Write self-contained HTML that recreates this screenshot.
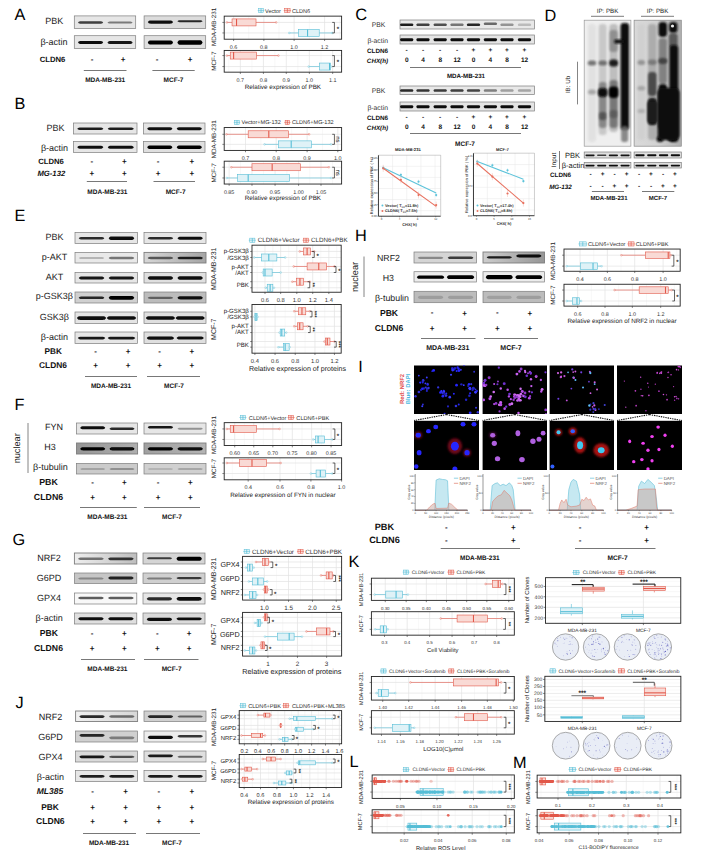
<!DOCTYPE html>
<html><head><meta charset="utf-8"><style>
html,body{margin:0;padding:0;background:#fff;}
svg{display:block;}
text{font-family:"Liberation Sans", Arial, sans-serif; text-rendering:geometricPrecision;}
</style></head><body>
<svg width="714" height="855" viewBox="0 0 714 855">
<defs>
<filter id="bl" x="-30%" y="-80%" width="160%" height="260%"><feGaussianBlur stdDeviation="0.7"/></filter>
<filter id="bl2" x="-30%" y="-30%" width="160%" height="160%"><feGaussianBlur stdDeviation="1.2"/></filter>
<filter id="bl3" x="-30%" y="-30%" width="160%" height="160%"><feGaussianBlur stdDeviation="0.5"/></filter>
<linearGradient id="g0" x1="0" x2="1" y1="0" y2="0"><stop offset="0" stop-color="#d7d7d7"/><stop offset="1" stop-color="#a5a5a5"/></linearGradient><linearGradient id="g1" x1="0" x2="1" y1="0" y2="0"><stop offset="0" stop-color="#969696"/><stop offset="1" stop-color="#afafaf"/></linearGradient><linearGradient id="g2" x1="0" x2="1" y1="0" y2="0"><stop offset="0" stop-color="#a0a0a0"/><stop offset="1" stop-color="#b4b4b4"/></linearGradient><linearGradient id="g3" x1="0" x2="1" y1="0" y2="0"><stop offset="0" stop-color="#eeeeee"/><stop offset="1" stop-color="#bebebe"/></linearGradient><linearGradient id="g4" x1="0" x2="1" y1="0" y2="0"><stop offset="0" stop-color="#f0f0f0"/><stop offset="1" stop-color="#d7d7d7"/></linearGradient><linearGradient id="dg" x1="0" x2="1" y1="0" y2="0"><stop offset="0" stop-color="#dadada"/><stop offset="0.5" stop-color="#d2d2d2"/><stop offset="1" stop-color="#b0b0b0"/></linearGradient><linearGradient id="g6" x1="0" x2="1" y1="0" y2="0"><stop offset="0" stop-color="#cdcdcd"/><stop offset="1" stop-color="#969696"/></linearGradient>
</defs>
<rect width="714" height="855" fill="#fff"/>
<text x="14.50" y="19.90" font-size="16.3" text-anchor="start" fill="#000">A</text>
<text x="54.30" y="23.80" font-size="9" text-anchor="middle" fill="#222">PBK</text>
<text x="54.00" y="45.40" font-size="9" text-anchor="middle" fill="#222">β-actin</text>
<rect x="74.30" y="15.90" width="61.40" height="12.70" fill="#e6e6e6" stroke="#7d7d7d" stroke-width="0.7"/>
<path d="M77.98 22.55 C78.89 21.32 79.80 21.32 81.00 21.32 L100.14 21.32 C101.35 21.32 102.25 21.32 103.16 22.55 C102.25 23.78 101.35 23.78 100.14 23.78 L81.00 23.78 C79.80 23.78 78.89 23.78 77.98 22.55Z" fill="#3f3f3f" filter="url(#bl)"/>
<path d="M107.46 22.55 C108.36 21.48 109.27 21.48 110.48 21.48 L129.61 21.48 C130.82 21.48 131.72 21.48 132.63 22.55 C131.72 23.62 130.82 23.62 129.61 23.62 L110.48 23.62 C109.27 23.62 108.36 23.62 107.46 22.55Z" fill="#7a7a7a" filter="url(#bl)"/>
<rect x="144.10" y="15.90" width="61.60" height="12.70" fill="#dcdcdc" stroke="#7d7d7d" stroke-width="0.7"/>
<path d="M147.80 22.05 C148.71 20.41 149.61 20.41 150.83 20.41 L170.02 20.41 C171.23 20.41 172.14 20.41 173.05 22.05 C172.14 23.69 171.23 23.69 170.02 23.69 L150.83 23.69 C149.61 23.69 148.71 23.69 147.80 22.05Z" fill="#101010" filter="url(#bl)"/>
<path d="M177.36 21.35 C178.27 20.37 179.18 20.37 180.39 20.37 L199.59 20.37 C200.80 20.37 201.71 20.37 202.62 21.35 C201.71 22.33 200.80 22.33 199.59 22.33 L180.39 22.33 C179.18 22.33 178.27 22.33 177.36 21.35Z" fill="#282828" filter="url(#bl)"/>
<rect x="74.30" y="35.70" width="61.40" height="12.90" fill="#e6e6e6" stroke="#7d7d7d" stroke-width="0.7"/>
<path d="M77.98 42.45 C78.89 40.97 79.80 40.97 81.00 40.97 L100.14 40.97 C101.35 40.97 102.25 40.97 103.16 42.45 C102.25 43.93 101.35 43.93 100.14 43.93 L81.00 43.93 C79.80 43.93 78.89 43.93 77.98 42.45Z" fill="#0a0a0a" filter="url(#bl)"/>
<path d="M107.46 42.45 C108.36 40.89 109.27 40.89 110.48 40.89 L129.61 40.89 C130.82 40.89 131.72 40.89 132.63 42.45 C131.72 44.01 130.82 44.01 129.61 44.01 L110.48 44.01 C109.27 44.01 108.36 44.01 107.46 42.45Z" fill="#151515" filter="url(#bl)"/>
<rect x="144.10" y="35.70" width="61.60" height="12.90" fill="#dfdfdf" stroke="#7d7d7d" stroke-width="0.7"/>
<path d="M147.80 42.45 C148.71 40.40 149.61 40.40 150.83 40.40 L170.02 40.40 C171.23 40.40 172.14 40.40 173.05 42.45 C172.14 44.50 171.23 44.50 170.02 44.50 L150.83 44.50 C149.61 44.50 148.71 44.50 147.80 42.45Z" fill="#000000" filter="url(#bl)"/>
<path d="M177.36 42.45 C178.27 40.20 179.18 40.20 180.39 40.20 L199.59 40.20 C200.80 40.20 201.71 40.20 202.62 42.45 C201.71 44.71 200.80 44.71 199.59 44.71 L180.39 44.71 C179.18 44.71 178.27 44.71 177.36 42.45Z" fill="#000000" filter="url(#bl)"/>
<text x="52.50" y="61.75" font-size="7.7" text-anchor="middle" font-weight="bold" fill="#111">CLDN6</text>
<text x="92.00" y="61.60" font-size="8" text-anchor="middle" font-weight="bold" fill="#111">-</text>
<text x="123.00" y="61.88" font-size="8" text-anchor="middle" font-weight="bold" fill="#111">+</text>
<text x="157.00" y="61.60" font-size="8" text-anchor="middle" font-weight="bold" fill="#111">-</text>
<text x="190.00" y="61.88" font-size="8" text-anchor="middle" font-weight="bold" fill="#111">+</text>
<line x1="83.80" y1="70.50" x2="126.50" y2="70.50" stroke="#555" stroke-width="0.8"/>
<line x1="152.40" y1="70.50" x2="194.70" y2="70.50" stroke="#555" stroke-width="0.8"/>
<text x="105.20" y="81.70" font-size="6.5" text-anchor="middle" font-weight="bold" fill="#111">MDA-MB-231</text>
<text x="173.50" y="81.70" font-size="6.5" text-anchor="middle" font-weight="bold" fill="#111">MCF-7</text>
<text x="14.50" y="109.40" font-size="16.3" text-anchor="start" fill="#000">B</text>
<text x="55.50" y="130.70" font-size="9" text-anchor="middle" fill="#222">PBK</text>
<text x="54.50" y="150.70" font-size="9" text-anchor="middle" fill="#222">β-actin</text>
<rect x="73.50" y="123.00" width="63.50" height="11.00" fill="#e6e6e6" stroke="#7d7d7d" stroke-width="0.7"/>
<path d="M77.31 128.80 C78.25 127.57 79.18 127.57 80.43 127.57 L100.22 127.57 C101.47 127.57 102.41 127.57 103.34 128.80 C102.41 130.03 101.47 130.03 100.22 130.03 L80.43 130.03 C79.18 130.03 78.25 130.03 77.31 128.80Z" fill="#1f1f1f" filter="url(#bl)"/>
<path d="M107.79 128.80 C108.73 127.57 109.66 127.57 110.91 127.57 L130.70 127.57 C131.95 127.57 132.89 127.57 133.83 128.80 C132.89 130.03 131.95 130.03 130.70 130.03 L110.91 130.03 C109.66 130.03 108.73 130.03 107.79 128.80Z" fill="#1f1f1f" filter="url(#bl)"/>
<rect x="143.50" y="123.00" width="61.50" height="11.00" fill="#e4e4e4" stroke="#7d7d7d" stroke-width="0.7"/>
<path d="M147.19 128.80 C148.10 127.32 149.01 127.32 150.22 127.32 L169.38 127.32 C170.59 127.32 171.50 127.32 172.41 128.80 C171.50 130.28 170.59 130.28 169.38 130.28 L150.22 130.28 C149.01 130.28 148.10 130.28 147.19 128.80Z" fill="#101010" filter="url(#bl)"/>
<path d="M176.71 128.80 C177.62 127.32 178.53 127.32 179.74 127.32 L198.90 127.32 C200.11 127.32 201.02 127.32 201.92 128.80 C201.02 130.28 200.11 130.28 198.90 130.28 L179.74 130.28 C178.53 130.28 177.62 130.28 176.71 128.80Z" fill="#101010" filter="url(#bl)"/>
<rect x="73.50" y="141.50" width="63.50" height="10.90" fill="#e6e6e6" stroke="#7d7d7d" stroke-width="0.7"/>
<path d="M77.31 147.25 C78.25 145.77 79.18 145.77 80.43 145.77 L100.22 145.77 C101.47 145.77 102.41 145.77 103.34 147.25 C102.41 148.73 101.47 148.73 100.22 148.73 L80.43 148.73 C79.18 148.73 78.25 148.73 77.31 147.25Z" fill="#0a0a0a" filter="url(#bl)"/>
<path d="M107.79 147.25 C108.73 145.69 109.66 145.69 110.91 145.69 L130.70 145.69 C131.95 145.69 132.89 145.69 133.83 147.25 C132.89 148.81 131.95 148.81 130.70 148.81 L110.91 148.81 C109.66 148.81 108.73 148.81 107.79 147.25Z" fill="#0a0a0a" filter="url(#bl)"/>
<rect x="143.50" y="141.50" width="61.50" height="10.90" fill="#dfdfdf" stroke="#7d7d7d" stroke-width="0.7"/>
<path d="M147.19 147.25 C148.10 145.45 149.01 145.45 150.22 145.45 L169.38 145.45 C170.59 145.45 171.50 145.45 172.41 147.25 C171.50 149.05 170.59 149.05 169.38 149.05 L150.22 149.05 C149.01 149.05 148.10 149.05 147.19 147.25Z" fill="#000000" filter="url(#bl)"/>
<path d="M176.71 147.25 C177.62 145.45 178.53 145.45 179.74 145.45 L198.90 145.45 C200.11 145.45 201.02 145.45 201.92 147.25 C201.02 149.05 200.11 149.05 198.90 149.05 L179.74 149.05 C178.53 149.05 177.62 149.05 176.71 147.25Z" fill="#000000" filter="url(#bl)"/>
<text x="51.00" y="163.75" font-size="7.7" text-anchor="middle" font-weight="bold" fill="#111">CLDN6</text>
<text x="51.30" y="175.75" font-size="7.7" text-anchor="middle" font-weight="bold" font-style="italic" fill="#111">MG-132</text>
<text x="91.80" y="163.60" font-size="8" text-anchor="middle" font-weight="bold" fill="#111">-</text>
<text x="124.40" y="163.88" font-size="8" text-anchor="middle" font-weight="bold" fill="#111">+</text>
<text x="158.00" y="163.60" font-size="8" text-anchor="middle" font-weight="bold" fill="#111">-</text>
<text x="191.80" y="163.88" font-size="8" text-anchor="middle" font-weight="bold" fill="#111">+</text>
<text x="91.80" y="175.88" font-size="8" text-anchor="middle" font-weight="bold" fill="#111">+</text>
<text x="124.40" y="175.88" font-size="8" text-anchor="middle" font-weight="bold" fill="#111">+</text>
<text x="158.00" y="175.88" font-size="8" text-anchor="middle" font-weight="bold" fill="#111">+</text>
<text x="191.80" y="175.88" font-size="8" text-anchor="middle" font-weight="bold" fill="#111">+</text>
<line x1="86.80" y1="181.50" x2="127.00" y2="181.50" stroke="#555" stroke-width="0.8"/>
<line x1="153.50" y1="181.50" x2="195.00" y2="181.50" stroke="#555" stroke-width="0.8"/>
<text x="107.40" y="193.80" font-size="6.5" text-anchor="middle" font-weight="bold" fill="#111">MDA-MB-231</text>
<text x="175.60" y="193.80" font-size="6.5" text-anchor="middle" font-weight="bold" fill="#111">MCF-7</text>
<text x="14.50" y="220.50" font-size="16.3" text-anchor="start" fill="#000">E</text>
<text x="54.40" y="239.85" font-size="9" text-anchor="middle" fill="#222">PBK</text>
<rect x="75.00" y="232.40" width="62.40" height="11.10" fill="#e6e6e6" stroke="#7d7d7d" stroke-width="0.7"/>
<path d="M78.74 238.25 C79.67 237.02 80.59 237.02 81.81 237.02 L101.26 237.02 C102.49 237.02 103.41 237.02 104.33 238.25 C103.41 239.48 102.49 239.48 101.26 239.48 L81.81 239.48 C80.59 239.48 79.67 239.48 78.74 238.25Z" fill="#2a2a2a" filter="url(#bl)"/>
<path d="M108.70 238.25 C109.62 236.55 110.54 236.55 111.77 236.55 L131.21 236.55 C132.44 236.55 133.36 236.55 134.28 238.25 C133.36 239.95 132.44 239.95 131.21 239.95 L111.77 239.95 C110.54 239.95 109.62 239.95 108.70 238.25Z" fill="#101010" filter="url(#bl)"/>
<rect x="144.00" y="232.40" width="62.00" height="11.10" fill="#e6e6e6" stroke="#7d7d7d" stroke-width="0.7"/>
<path d="M147.72 238.25 C148.64 237.12 149.55 237.12 150.77 237.12 L170.09 237.12 C171.31 237.12 172.22 237.12 173.14 238.25 C172.22 239.38 171.31 239.38 170.09 239.38 L150.77 239.38 C149.55 239.38 148.64 239.38 147.72 238.25Z" fill="#2a2a2a" filter="url(#bl)"/>
<path d="M177.48 238.25 C178.40 236.74 179.31 236.74 180.53 236.74 L199.85 236.74 C201.07 236.74 201.98 236.74 202.90 238.25 C201.98 239.76 201.07 239.76 199.85 239.76 L180.53 239.76 C179.31 239.76 178.40 239.76 177.48 238.25Z" fill="#101010" filter="url(#bl)"/>
<text x="54.40" y="259.60" font-size="9" text-anchor="middle" fill="#222">p-AKT</text>
<rect x="75.00" y="252.40" width="62.40" height="10.60" fill="#e9e9e9" stroke="#7d7d7d" stroke-width="0.7"/>
<path d="M78.74 258.00 C79.67 256.96 80.59 256.96 81.81 256.96 L101.26 256.96 C102.49 256.96 103.41 256.96 104.33 258.00 C103.41 259.04 102.49 259.04 101.26 259.04 L81.81 259.04 C80.59 259.04 79.67 259.04 78.74 258.00Z" fill="#b5b5b5" filter="url(#bl)"/>
<path d="M108.70 258.00 C109.62 256.77 110.54 256.77 111.77 256.77 L131.21 256.77 C132.44 256.77 133.36 256.77 134.28 258.00 C133.36 259.23 132.44 259.23 131.21 259.23 L111.77 259.23 C110.54 259.23 109.62 259.23 108.70 258.00Z" fill="#757575" filter="url(#bl)"/>
<rect x="144.00" y="252.40" width="62.00" height="10.60" fill="url(#g0)" stroke="#7d7d7d" stroke-width="0.9"/>
<path d="M147.72 258.00 C148.64 256.87 149.55 256.87 150.77 256.87 L170.09 256.87 C171.31 256.87 172.22 256.87 173.14 258.00 C172.22 259.13 171.31 259.13 170.09 259.13 L150.77 259.13 C149.55 259.13 148.64 259.13 147.72 258.00Z" fill="#555555" filter="url(#bl)"/>
<path d="M177.48 258.00 C178.40 256.68 179.31 256.68 180.53 256.68 L199.85 256.68 C201.07 256.68 201.98 256.68 202.90 258.00 C201.98 259.32 201.07 259.32 199.85 259.32 L180.53 259.32 C179.31 259.32 178.40 259.32 177.48 258.00Z" fill="#1c1c1c" filter="url(#bl)"/>
<text x="54.40" y="279.60" font-size="9" text-anchor="middle" fill="#222">AKT</text>
<rect x="75.00" y="272.40" width="62.40" height="10.60" fill="#e6e6e6" stroke="#7d7d7d" stroke-width="0.7"/>
<path d="M78.74 278.00 C79.67 276.49 80.59 276.49 81.81 276.49 L101.26 276.49 C102.49 276.49 103.41 276.49 104.33 278.00 C103.41 279.51 102.49 279.51 101.26 279.51 L81.81 279.51 C80.59 279.51 79.67 279.51 78.74 278.00Z" fill="#151515" filter="url(#bl)"/>
<path d="M108.70 278.00 C109.62 276.49 110.54 276.49 111.77 276.49 L131.21 276.49 C132.44 276.49 133.36 276.49 134.28 278.00 C133.36 279.51 132.44 279.51 131.21 279.51 L111.77 279.51 C110.54 279.51 109.62 279.51 108.70 278.00Z" fill="#151515" filter="url(#bl)"/>
<rect x="144.00" y="272.40" width="62.00" height="10.60" fill="#dfdfdf" stroke="#7d7d7d" stroke-width="0.7"/>
<path d="M147.72 278.00 C148.64 276.30 149.55 276.30 150.77 276.30 L170.09 276.30 C171.31 276.30 172.22 276.30 173.14 278.00 C172.22 279.70 171.31 279.70 170.09 279.70 L150.77 279.70 C149.55 279.70 148.64 279.70 147.72 278.00Z" fill="#101010" filter="url(#bl)"/>
<path d="M177.48 278.00 C178.40 276.21 179.31 276.21 180.53 276.21 L199.85 276.21 C201.07 276.21 201.98 276.21 202.90 278.00 C201.98 279.79 201.07 279.79 199.85 279.79 L180.53 279.79 C179.31 279.79 178.40 279.79 177.48 278.00Z" fill="#101010" filter="url(#bl)"/>
<text x="54.40" y="299.40" font-size="9" text-anchor="middle" fill="#222">p-GSK3β</text>
<rect x="75.00" y="292.00" width="62.40" height="11.00" fill="#d0d0d0" stroke="#7d7d7d" stroke-width="0.7"/>
<path d="M78.74 297.80 C79.67 296.48 80.59 296.48 81.81 296.48 L101.26 296.48 C102.49 296.48 103.41 296.48 104.33 297.80 C103.41 299.12 102.49 299.12 101.26 299.12 L81.81 299.12 C80.59 299.12 79.67 299.12 78.74 297.80Z" fill="#252525" filter="url(#bl)"/>
<path d="M108.70 297.80 C109.62 295.91 110.54 295.91 111.77 295.91 L131.21 295.91 C132.44 295.91 133.36 295.91 134.28 297.80 C133.36 299.69 132.44 299.69 131.21 299.69 L111.77 299.69 C110.54 299.69 109.62 299.69 108.70 297.80Z" fill="#050505" filter="url(#bl)"/>
<rect x="144.00" y="292.00" width="62.00" height="11.00" fill="#bcbcbc" stroke="#7d7d7d" stroke-width="0.7"/>
<path d="M147.72 297.80 C148.64 296.67 149.55 296.67 150.77 296.67 L170.09 296.67 C171.31 296.67 172.22 296.67 173.14 297.80 C172.22 298.93 171.31 298.93 170.09 298.93 L150.77 298.93 C149.55 298.93 148.64 298.93 147.72 297.80Z" fill="#5e5e5e" filter="url(#bl)"/>
<path d="M177.48 297.80 C178.40 296.20 179.31 296.20 180.53 296.20 L199.85 296.20 C201.07 296.20 201.98 296.20 202.90 297.80 C201.98 299.40 201.07 299.40 199.85 299.40 L180.53 299.40 C179.31 299.40 178.40 299.40 177.48 297.80Z" fill="#111111" filter="url(#bl)"/>
<text x="54.40" y="319.65" font-size="9" text-anchor="middle" fill="#222">GSK3β</text>
<rect x="75.00" y="312.00" width="62.40" height="11.50" fill="#e4e4e4" stroke="#7d7d7d" stroke-width="0.7"/>
<path d="M76.87 318.05 C77.93 316.16 78.98 316.16 80.39 316.16 L102.68 316.16 C104.09 316.16 105.14 316.16 106.20 318.05 C105.14 319.94 104.09 319.94 102.68 319.94 L80.39 319.94 C78.98 319.94 77.93 319.94 76.87 318.05Z" fill="#0a0a0a" filter="url(#bl)"/>
<path d="M106.82 318.05 C107.88 316.26 108.94 316.26 110.34 316.26 L132.63 316.26 C134.04 316.26 135.10 316.26 136.15 318.05 C135.10 319.84 134.04 319.84 132.63 319.84 L110.34 319.84 C108.94 319.84 107.88 319.84 106.82 318.05Z" fill="#0a0a0a" filter="url(#bl)"/>
<rect x="144.00" y="312.00" width="62.00" height="11.50" fill="#dfdfdf" stroke="#7d7d7d" stroke-width="0.7"/>
<path d="M145.86 318.05 C146.91 316.26 147.96 316.26 149.36 316.26 L171.50 316.26 C172.90 316.26 173.95 316.26 175.00 318.05 C173.95 319.84 172.90 319.84 171.50 319.84 L149.36 319.84 C147.96 319.84 146.91 319.84 145.86 318.05Z" fill="#0a0a0a" filter="url(#bl)"/>
<path d="M175.62 318.05 C176.67 316.26 177.72 316.26 179.12 316.26 L201.26 316.26 C202.66 316.26 203.71 316.26 204.76 318.05 C203.71 319.84 202.66 319.84 201.26 319.84 L179.12 319.84 C177.72 319.84 176.67 319.84 175.62 318.05Z" fill="#0a0a0a" filter="url(#bl)"/>
<text x="54.40" y="339.65" font-size="9" text-anchor="middle" fill="#222">β-actin</text>
<rect x="75.00" y="332.00" width="62.40" height="11.50" fill="#e6e6e6" stroke="#7d7d7d" stroke-width="0.7"/>
<path d="M77.81 338.05 C78.80 336.64 79.78 336.64 81.10 336.64 L101.97 336.64 C103.29 336.64 104.28 336.64 105.26 338.05 C104.28 339.46 103.29 339.46 101.97 339.46 L81.10 339.46 C79.78 339.46 78.80 339.46 77.81 338.05Z" fill="#191919" filter="url(#bl)"/>
<path d="M107.76 338.05 C108.75 336.64 109.74 336.64 111.05 336.64 L131.92 336.64 C133.24 336.64 134.23 336.64 135.22 338.05 C134.23 339.46 133.24 339.46 131.92 339.46 L111.05 339.46 C109.74 339.46 108.75 339.46 107.76 338.05Z" fill="#191919" filter="url(#bl)"/>
<rect x="144.00" y="332.00" width="62.00" height="11.50" fill="#dfdfdf" stroke="#7d7d7d" stroke-width="0.7"/>
<path d="M146.79 338.05 C147.77 336.45 148.75 336.45 150.06 336.45 L170.80 336.45 C172.11 336.45 173.09 336.45 174.07 338.05 C173.09 339.65 172.11 339.65 170.80 339.65 L150.06 339.65 C148.75 339.65 147.77 339.65 146.79 338.05Z" fill="#0a0a0a" filter="url(#bl)"/>
<path d="M176.55 338.05 C177.53 336.54 178.51 336.54 179.82 336.54 L200.56 336.54 C201.87 336.54 202.85 336.54 203.83 338.05 C202.85 339.56 201.87 339.56 200.56 339.56 L179.82 339.56 C178.51 339.56 177.53 339.56 176.55 338.05Z" fill="#101010" filter="url(#bl)"/>
<text x="53.20" y="353.75" font-size="8.2" text-anchor="middle" font-weight="bold" fill="#111">PBK</text>
<text x="53.00" y="368.35" font-size="8.4" text-anchor="middle" font-weight="bold" fill="#111">CLDN6</text>
<text x="95.60" y="353.60" font-size="8" text-anchor="middle" font-weight="bold" fill="#111">-</text>
<text x="128.00" y="353.88" font-size="8" text-anchor="middle" font-weight="bold" fill="#111">+</text>
<text x="159.70" y="353.60" font-size="8" text-anchor="middle" font-weight="bold" fill="#111">-</text>
<text x="191.80" y="353.88" font-size="8" text-anchor="middle" font-weight="bold" fill="#111">+</text>
<text x="95.60" y="368.48" font-size="8" text-anchor="middle" font-weight="bold" fill="#111">+</text>
<text x="128.00" y="368.48" font-size="8" text-anchor="middle" font-weight="bold" fill="#111">+</text>
<text x="159.70" y="368.48" font-size="8" text-anchor="middle" font-weight="bold" fill="#111">+</text>
<text x="191.80" y="368.48" font-size="8" text-anchor="middle" font-weight="bold" fill="#111">+</text>
<line x1="85.00" y1="376.50" x2="137.00" y2="376.50" stroke="#555" stroke-width="0.8"/>
<line x1="147.00" y1="376.50" x2="200.00" y2="376.50" stroke="#555" stroke-width="0.8"/>
<text x="111.00" y="388.30" font-size="6.5" text-anchor="middle" font-weight="bold" fill="#111">MDA-MB-231</text>
<text x="174.00" y="388.30" font-size="6.5" text-anchor="middle" font-weight="bold" fill="#111">MCF-7</text>
<text x="14.50" y="409.50" font-size="16.3" text-anchor="start" fill="#000">F</text>
<text x="54.00" y="430.20" font-size="9" text-anchor="middle" fill="#222">FYN</text>
<text x="50.00" y="450.20" font-size="9" text-anchor="middle" fill="#222">H3</text>
<text x="50.40" y="470.20" font-size="9" text-anchor="middle" fill="#222">β-tubulin</text>
<rect x="76.50" y="423.00" width="61.10" height="11.00" fill="#e6e6e6" stroke="#7d7d7d" stroke-width="0.7"/>
<path d="M80.17 427.80 C81.07 426.28 81.97 426.28 83.17 426.28 L102.21 426.28 C103.41 426.28 104.32 426.28 105.22 427.80 C104.32 429.32 103.41 429.32 102.21 429.32 L83.17 429.32 C81.97 429.32 81.07 429.32 80.17 427.80Z" fill="#101010" filter="url(#bl)"/>
<path d="M109.49 428.80 C110.40 427.57 111.30 427.57 112.50 427.57 L131.54 427.57 C132.74 427.57 133.64 427.57 134.54 428.80 C133.64 430.03 132.74 430.03 131.54 430.03 L112.50 430.03 C111.30 430.03 110.40 430.03 109.49 428.80Z" fill="#2a2a2a" filter="url(#bl)"/>
<rect x="144.00" y="423.00" width="62.00" height="11.00" fill="#e6e6e6" stroke="#7d7d7d" stroke-width="0.7"/>
<path d="M147.72 427.30 C148.64 425.99 149.55 425.99 150.77 425.99 L170.09 425.99 C171.31 425.99 172.22 425.99 173.14 427.30 C172.22 428.61 171.31 428.61 170.09 428.61 L150.77 428.61 C149.55 428.61 148.64 428.61 147.72 427.30Z" fill="#151515" filter="url(#bl)"/>
<path d="M177.48 428.80 C178.40 427.86 179.31 427.86 180.53 427.86 L199.85 427.86 C201.07 427.86 201.98 427.86 202.90 428.80 C201.98 429.74 201.07 429.74 199.85 429.74 L180.53 429.74 C179.31 429.74 178.40 429.74 177.48 428.80Z" fill="#939393" filter="url(#bl)"/>
<rect x="76.50" y="443.00" width="61.10" height="11.00" fill="url(#g1)" stroke="#7d7d7d" stroke-width="0.9"/>
<path d="M80.17 448.80 C81.07 447.16 81.97 447.16 83.17 447.16 L102.21 447.16 C103.41 447.16 104.32 447.16 105.22 448.80 C104.32 450.44 103.41 450.44 102.21 450.44 L83.17 450.44 C81.97 450.44 81.07 450.44 80.17 448.80Z" fill="#040404" filter="url(#bl)"/>
<path d="M109.49 448.80 C110.40 447.16 111.30 447.16 112.50 447.16 L131.54 447.16 C132.74 447.16 133.64 447.16 134.54 448.80 C133.64 450.44 132.74 450.44 131.54 450.44 L112.50 450.44 C111.30 450.44 110.40 450.44 109.49 448.80Z" fill="#070707" filter="url(#bl)"/>
<rect x="144.00" y="443.00" width="62.00" height="11.00" fill="url(#g2)" stroke="#7d7d7d" stroke-width="0.9"/>
<path d="M147.72 448.80 C148.64 447.16 149.55 447.16 150.77 447.16 L170.09 447.16 C171.31 447.16 172.22 447.16 173.14 448.80 C172.22 450.44 171.31 450.44 170.09 450.44 L150.77 450.44 C149.55 450.44 148.64 450.44 147.72 448.80Z" fill="#040404" filter="url(#bl)"/>
<path d="M177.48 448.80 C178.40 447.16 179.31 447.16 180.53 447.16 L199.85 447.16 C201.07 447.16 201.98 447.16 202.90 448.80 C201.98 450.44 201.07 450.44 199.85 450.44 L180.53 450.44 C179.31 450.44 178.40 450.44 177.48 448.80Z" fill="#0b0b0b" filter="url(#bl)"/>
<rect x="76.50" y="463.50" width="61.10" height="10.50" fill="#cbcbcb" stroke="#7d7d7d" stroke-width="0.7"/>
<path d="M80.17 469.05 C81.07 468.03 81.97 468.03 83.17 468.03 L102.21 468.03 C103.41 468.03 104.32 468.03 105.22 469.05 C104.32 470.07 103.41 470.07 102.21 470.07 L83.17 470.07 C81.97 470.07 81.07 470.07 80.17 469.05Z" fill="#a3a3a3" filter="url(#bl)"/>
<path d="M109.49 469.05 C110.40 468.03 111.30 468.03 112.50 468.03 L131.54 468.03 C132.74 468.03 133.64 468.03 134.54 469.05 C133.64 470.07 132.74 470.07 131.54 470.07 L112.50 470.07 C111.30 470.07 110.40 470.07 109.49 469.05Z" fill="#909090" filter="url(#bl)"/>
<rect x="144.00" y="463.50" width="62.00" height="10.50" fill="#d0d0d0" stroke="#7d7d7d" stroke-width="0.7"/>
<path d="M147.72 469.05 C148.64 468.03 149.55 468.03 150.77 468.03 L170.09 468.03 C171.31 468.03 172.22 468.03 173.14 469.05 C172.22 470.07 171.31 470.07 170.09 470.07 L150.77 470.07 C149.55 470.07 148.64 470.07 147.72 469.05Z" fill="#b4b4b4" filter="url(#bl)"/>
<path d="M177.48 469.05 C178.40 468.03 179.31 468.03 180.53 468.03 L199.85 468.03 C201.07 468.03 201.98 468.03 202.90 469.05 C201.98 470.07 201.07 470.07 199.85 470.07 L180.53 470.07 C179.31 470.07 178.40 470.07 177.48 469.05Z" fill="#a7a7a7" filter="url(#bl)"/>
<text x="19.90" y="448.30" font-size="9.2" text-anchor="middle" fill="#222" transform="rotate(-90 19.9 448.3)">nuclear</text>
<line x1="28.00" y1="423.00" x2="28.00" y2="473.00" stroke="#666" stroke-width="0.8"/>
<text x="48.50" y="484.75" font-size="8.8" text-anchor="middle" font-weight="bold" fill="#111">PBK</text>
<text x="48.50" y="499.75" font-size="8.8" text-anchor="middle" font-weight="bold" fill="#111">CLDN6</text>
<text x="92.60" y="484.60" font-size="8" text-anchor="middle" font-weight="bold" fill="#111">-</text>
<text x="124.40" y="484.88" font-size="8" text-anchor="middle" font-weight="bold" fill="#111">+</text>
<text x="158.00" y="484.60" font-size="8" text-anchor="middle" font-weight="bold" fill="#111">-</text>
<text x="190.30" y="484.88" font-size="8" text-anchor="middle" font-weight="bold" fill="#111">+</text>
<text x="92.60" y="499.88" font-size="8" text-anchor="middle" font-weight="bold" fill="#111">+</text>
<text x="124.40" y="499.88" font-size="8" text-anchor="middle" font-weight="bold" fill="#111">+</text>
<text x="158.00" y="499.88" font-size="8" text-anchor="middle" font-weight="bold" fill="#111">+</text>
<text x="190.30" y="499.88" font-size="8" text-anchor="middle" font-weight="bold" fill="#111">+</text>
<line x1="80.00" y1="507.50" x2="136.80" y2="507.50" stroke="#555" stroke-width="0.8"/>
<line x1="144.00" y1="507.50" x2="200.00" y2="507.50" stroke="#555" stroke-width="0.8"/>
<text x="107.40" y="519.30" font-size="6.5" text-anchor="middle" font-weight="bold" fill="#111">MDA-MB-231</text>
<text x="172.00" y="519.30" font-size="6.5" text-anchor="middle" font-weight="bold" fill="#111">MCF-7</text>
<text x="12.50" y="545.00" font-size="16.3" text-anchor="start" fill="#000">G</text>
<text x="49.10" y="560.80" font-size="9" text-anchor="middle" fill="#222">NRF2</text>
<rect x="74.40" y="553.00" width="62.40" height="11.00" fill="url(#g3)" stroke="#7d7d7d" stroke-width="0.9"/>
<path d="M78.14 558.80 C79.07 557.62 79.99 557.62 81.21 557.62 L100.66 557.62 C101.89 557.62 102.81 557.62 103.73 558.80 C102.81 559.98 101.89 559.98 100.66 559.98 L81.21 559.98 C79.99 559.98 79.07 559.98 78.14 558.80Z" fill="#707070" filter="url(#bl)"/>
<path d="M108.10 558.80 C109.02 557.39 109.94 557.39 111.17 557.39 L130.61 557.39 C131.84 557.39 132.76 557.39 133.68 558.80 C132.76 560.21 131.84 560.21 130.61 560.21 L111.17 560.21 C109.94 560.21 109.02 560.21 108.10 558.80Z" fill="#333333" filter="url(#bl)"/>
<rect x="143.00" y="553.00" width="62.00" height="11.00" fill="#d5d5d5" stroke="#7d7d7d" stroke-width="0.7"/>
<path d="M146.72 558.30 C147.64 557.26 148.55 557.26 149.77 557.26 L169.09 557.26 C170.31 557.26 171.22 557.26 172.14 558.30 C171.22 559.34 170.31 559.34 169.09 559.34 L149.77 559.34 C148.55 559.34 147.64 559.34 146.72 558.30Z" fill="#3a3a3a" filter="url(#bl)"/>
<path d="M176.48 558.80 C177.40 556.82 178.31 556.82 179.53 556.82 L198.85 556.82 C200.07 556.82 200.98 556.82 201.90 558.80 C200.98 560.78 200.07 560.78 198.85 560.78 L179.53 560.78 C178.31 560.78 177.40 560.78 176.48 558.80Z" fill="#050505" filter="url(#bl)"/>
<text x="49.10" y="580.55" font-size="9" text-anchor="middle" fill="#222">G6PD</text>
<rect x="74.40" y="573.00" width="62.40" height="10.50" fill="#c6c6c6" stroke="#7d7d7d" stroke-width="0.7"/>
<path d="M78.14 578.55 C79.07 577.51 79.99 577.51 81.21 577.51 L100.66 577.51 C101.89 577.51 102.81 577.51 103.73 578.55 C102.81 579.59 101.89 579.59 100.66 579.59 L81.21 579.59 C79.99 579.59 79.07 579.59 78.14 578.55Z" fill="#878787" filter="url(#bl)"/>
<path d="M108.10 578.05 C109.02 576.54 109.94 576.54 111.17 576.54 L130.61 576.54 C131.84 576.54 132.76 576.54 133.68 578.05 C132.76 579.56 131.84 579.56 130.61 579.56 L111.17 579.56 C109.94 579.56 109.02 579.56 108.10 578.05Z" fill="#242424" filter="url(#bl)"/>
<rect x="143.00" y="573.00" width="62.00" height="10.50" fill="#d0d0d0" stroke="#7d7d7d" stroke-width="0.7"/>
<path d="M146.72 578.55 C147.64 577.51 148.55 577.51 149.77 577.51 L169.09 577.51 C170.31 577.51 171.22 577.51 172.14 578.55 C171.22 579.59 170.31 579.59 169.09 579.59 L149.77 579.59 C148.55 579.59 147.64 579.59 146.72 578.55Z" fill="#7b7b7b" filter="url(#bl)"/>
<path d="M176.48 578.05 C177.40 576.92 178.31 576.92 179.53 576.92 L198.85 576.92 C200.07 576.92 200.98 576.92 201.90 578.05 C200.98 579.18 200.07 579.18 198.85 579.18 L179.53 579.18 C178.31 579.18 177.40 579.18 176.48 578.05Z" fill="#393939" filter="url(#bl)"/>
<text x="49.10" y="600.80" font-size="9" text-anchor="middle" fill="#222">GPX4</text>
<rect x="74.40" y="593.00" width="62.40" height="11.00" fill="#f8f8f8" stroke="#7d7d7d" stroke-width="0.7"/>
<path d="M78.14 598.00 C79.07 596.77 79.99 596.77 81.21 596.77 L100.66 596.77 C101.89 596.77 102.81 596.77 103.73 598.00 C102.81 599.23 101.89 599.23 100.66 599.23 L81.21 599.23 C79.99 599.23 79.07 599.23 78.14 598.00Z" fill="#5b5b5b" filter="url(#bl)"/>
<path d="M108.10 598.00 C109.02 596.77 109.94 596.77 111.17 596.77 L130.61 596.77 C131.84 596.77 132.76 596.77 133.68 598.00 C132.76 599.23 131.84 599.23 130.61 599.23 L111.17 599.23 C109.94 599.23 109.02 599.23 108.10 598.00Z" fill="#5b5b5b" filter="url(#bl)"/>
<rect x="143.00" y="593.00" width="62.00" height="11.00" fill="#e6e6e6" stroke="#7d7d7d" stroke-width="0.7"/>
<path d="M146.72 598.80 C147.64 597.20 148.55 597.20 149.77 597.20 L169.09 597.20 C170.31 597.20 171.22 597.20 172.14 598.80 C171.22 600.40 170.31 600.40 169.09 600.40 L149.77 600.40 C148.55 600.40 147.64 600.40 146.72 598.80Z" fill="#2a2a2a" filter="url(#bl)"/>
<path d="M176.48 598.80 C177.40 596.91 178.31 596.91 179.53 596.91 L198.85 596.91 C200.07 596.91 200.98 596.91 201.90 598.80 C200.98 600.69 200.07 600.69 198.85 600.69 L179.53 600.69 C178.31 600.69 177.40 600.69 176.48 598.80Z" fill="#101010" filter="url(#bl)"/>
<text x="49.10" y="620.80" font-size="9" text-anchor="middle" fill="#222">β-actin</text>
<rect x="74.40" y="613.00" width="62.40" height="11.00" fill="#dfdfdf" stroke="#7d7d7d" stroke-width="0.7"/>
<path d="M78.14 618.80 C79.07 617.29 79.99 617.29 81.21 617.29 L100.66 617.29 C101.89 617.29 102.81 617.29 103.73 618.80 C102.81 620.31 101.89 620.31 100.66 620.31 L81.21 620.31 C79.99 620.31 79.07 620.31 78.14 618.80Z" fill="#101010" filter="url(#bl)"/>
<path d="M108.10 618.80 C109.02 617.29 109.94 617.29 111.17 617.29 L130.61 617.29 C131.84 617.29 132.76 617.29 133.68 618.80 C132.76 620.31 131.84 620.31 130.61 620.31 L111.17 620.31 C109.94 620.31 109.02 620.31 108.10 618.80Z" fill="#101010" filter="url(#bl)"/>
<rect x="143.00" y="613.00" width="62.00" height="11.00" fill="#dadada" stroke="#7d7d7d" stroke-width="0.7"/>
<path d="M146.72 619.30 C147.64 617.70 148.55 617.70 149.77 617.70 L169.09 617.70 C170.31 617.70 171.22 617.70 172.14 619.30 C171.22 620.90 170.31 620.90 169.09 620.90 L149.77 620.90 C148.55 620.90 147.64 620.90 146.72 619.30Z" fill="#090909" filter="url(#bl)"/>
<path d="M176.48 618.80 C177.40 617.39 178.31 617.39 179.53 617.39 L198.85 617.39 C200.07 617.39 200.98 617.39 201.90 618.80 C200.98 620.21 200.07 620.21 198.85 620.21 L179.53 620.21 C178.31 620.21 177.40 620.21 176.48 618.80Z" fill="#0f0f0f" filter="url(#bl)"/>
<text x="48.80" y="636.25" font-size="8.6" text-anchor="middle" font-weight="bold" fill="#111">PBK</text>
<text x="48.50" y="650.75" font-size="8.7" text-anchor="middle" font-weight="bold" fill="#111">CLDN6</text>
<text x="92.00" y="636.10" font-size="8" text-anchor="middle" font-weight="bold" fill="#111">-</text>
<text x="124.40" y="636.38" font-size="8" text-anchor="middle" font-weight="bold" fill="#111">+</text>
<text x="157.40" y="636.10" font-size="8" text-anchor="middle" font-weight="bold" fill="#111">-</text>
<text x="189.00" y="636.38" font-size="8" text-anchor="middle" font-weight="bold" fill="#111">+</text>
<text x="92.00" y="650.88" font-size="8" text-anchor="middle" font-weight="bold" fill="#111">+</text>
<text x="124.40" y="650.88" font-size="8" text-anchor="middle" font-weight="bold" fill="#111">+</text>
<text x="157.40" y="650.88" font-size="8" text-anchor="middle" font-weight="bold" fill="#111">+</text>
<text x="189.00" y="650.88" font-size="8" text-anchor="middle" font-weight="bold" fill="#111">+</text>
<line x1="81.00" y1="659.50" x2="135.00" y2="659.50" stroke="#555" stroke-width="0.8"/>
<line x1="144.00" y1="659.50" x2="198.50" y2="659.50" stroke="#555" stroke-width="0.8"/>
<text x="107.40" y="671.30" font-size="6.5" text-anchor="middle" font-weight="bold" fill="#111">MDA-MB-231</text>
<text x="171.60" y="671.30" font-size="6.5" text-anchor="middle" font-weight="bold" fill="#111">MCF-7</text>
<text x="15.50" y="708.00" font-size="16.3" text-anchor="start" fill="#000">J</text>
<text x="50.40" y="719.95" font-size="9" text-anchor="middle" fill="#222">NRF2</text>
<rect x="75.60" y="711.00" width="62.00" height="10.50" fill="url(#g4)" stroke="#7d7d7d" stroke-width="0.9"/>
<path d="M79.32 716.55 C80.24 715.14 81.15 715.14 82.37 715.14 L101.69 715.14 C102.91 715.14 103.82 715.14 104.74 716.55 C103.82 717.96 102.91 717.96 101.69 717.96 L82.37 717.96 C81.15 717.96 80.24 717.96 79.32 716.55Z" fill="#2a2a2a" filter="url(#bl)"/>
<path d="M109.08 716.55 C110.00 715.37 110.91 715.37 112.13 715.37 L131.45 715.37 C132.67 715.37 133.58 715.37 134.50 716.55 C133.58 717.73 132.67 717.73 131.45 717.73 L112.13 717.73 C110.91 717.73 110.00 717.73 109.08 716.55Z" fill="#6a6a6a" filter="url(#bl)"/>
<rect x="144.00" y="711.00" width="62.00" height="10.50" fill="#d0d0d0" stroke="#7d7d7d" stroke-width="0.7"/>
<path d="M147.72 716.55 C148.64 715.14 149.55 715.14 150.77 715.14 L170.09 715.14 C171.31 715.14 172.22 715.14 173.14 716.55 C172.22 717.96 171.31 717.96 170.09 717.96 L150.77 717.96 C149.55 717.96 148.64 717.96 147.72 716.55Z" fill="#252525" filter="url(#bl)"/>
<path d="M177.48 716.55 C178.40 715.51 179.31 715.51 180.53 715.51 L199.85 715.51 C201.07 715.51 201.98 715.51 202.90 716.55 C201.98 717.59 201.07 717.59 199.85 717.59 L180.53 717.59 C179.31 717.59 178.40 717.59 177.48 716.55Z" fill="#5f5f5f" filter="url(#bl)"/>
<text x="50.40" y="740.20" font-size="9" text-anchor="middle" fill="#222">G6PD</text>
<rect x="75.60" y="731.00" width="62.00" height="11.00" fill="#d0d0d0" stroke="#7d7d7d" stroke-width="0.7"/>
<path d="M79.32 735.30 C80.24 733.89 81.15 733.89 82.37 733.89 L101.69 733.89 C102.91 733.89 103.82 733.89 104.74 735.30 C103.82 736.71 102.91 736.71 101.69 736.71 L82.37 736.71 C81.15 736.71 80.24 736.71 79.32 735.30Z" fill="#252525" filter="url(#bl)"/>
<path d="M109.08 737.80 C110.00 736.39 110.91 736.39 112.13 736.39 L131.45 736.39 C132.67 736.39 133.58 736.39 134.50 737.80 C133.58 739.21 132.67 739.21 131.45 739.21 L112.13 739.21 C110.91 739.21 110.00 739.21 109.08 737.80Z" fill="#7b7b7b" filter="url(#bl)"/>
<rect x="144.00" y="731.00" width="62.00" height="11.00" fill="#ececec" stroke="#7d7d7d" stroke-width="0.7"/>
<path d="M147.72 737.30 C148.64 735.65 149.55 735.65 150.77 735.65 L170.09 735.65 C171.31 735.65 172.22 735.65 173.14 737.30 C172.22 738.95 171.31 738.95 170.09 738.95 L150.77 738.95 C149.55 738.95 148.64 738.95 147.72 737.30Z" fill="#0a0a0a" filter="url(#bl)"/>
<path d="M177.48 736.30 C178.40 735.12 179.31 735.12 180.53 735.12 L199.85 735.12 C201.07 735.12 201.98 735.12 202.90 736.30 C201.98 737.48 201.07 737.48 199.85 737.48 L180.53 737.48 C179.31 737.48 178.40 737.48 177.48 736.30Z" fill="#363636" filter="url(#bl)"/>
<text x="50.40" y="760.20" font-size="9" text-anchor="middle" fill="#222">GPX4</text>
<rect x="75.60" y="751.00" width="62.00" height="11.00" fill="#dadada" stroke="#7d7d7d" stroke-width="0.7"/>
<path d="M79.32 756.80 C80.24 755.39 81.15 755.39 82.37 755.39 L101.69 755.39 C102.91 755.39 103.82 755.39 104.74 756.80 C103.82 758.21 102.91 758.21 101.69 758.21 L82.37 758.21 C81.15 758.21 80.24 758.21 79.32 756.80Z" fill="#131313" filter="url(#bl)"/>
<path d="M109.08 756.80 C110.00 755.67 110.91 755.67 112.13 755.67 L131.45 755.67 C132.67 755.67 133.58 755.67 134.50 756.80 C133.58 757.93 132.67 757.93 131.45 757.93 L112.13 757.93 C110.91 757.93 110.00 757.93 109.08 756.80Z" fill="#4f4f4f" filter="url(#bl)"/>
<rect x="144.00" y="751.00" width="62.00" height="11.00" fill="#dfdfdf" stroke="#7d7d7d" stroke-width="0.7"/>
<path d="M147.72 755.80 C148.64 754.39 149.55 754.39 150.77 754.39 L170.09 754.39 C171.31 754.39 172.22 754.39 173.14 755.80 C172.22 757.21 171.31 757.21 170.09 757.21 L150.77 757.21 C149.55 757.21 148.64 757.21 147.72 755.80Z" fill="#1e1e1e" filter="url(#bl)"/>
<path d="M177.48 756.80 C178.40 755.76 179.31 755.76 180.53 755.76 L199.85 755.76 C201.07 755.76 201.98 755.76 202.90 756.80 C201.98 757.84 201.07 757.84 199.85 757.84 L180.53 757.84 C179.31 757.84 178.40 757.84 177.48 756.80Z" fill="#666666" filter="url(#bl)"/>
<text x="50.40" y="779.75" font-size="9" text-anchor="middle" fill="#222">β-actin</text>
<rect x="75.60" y="770.60" width="62.00" height="10.90" fill="#e6e6e6" stroke="#7d7d7d" stroke-width="0.7"/>
<path d="M79.32 776.35 C80.24 775.03 81.15 775.03 82.37 775.03 L101.69 775.03 C102.91 775.03 103.82 775.03 104.74 776.35 C103.82 777.67 102.91 777.67 101.69 777.67 L82.37 777.67 C81.15 777.67 80.24 777.67 79.32 776.35Z" fill="#1f1f1f" filter="url(#bl)"/>
<path d="M109.08 776.35 C110.00 775.03 110.91 775.03 112.13 775.03 L131.45 775.03 C132.67 775.03 133.58 775.03 134.50 776.35 C133.58 777.67 132.67 777.67 131.45 777.67 L112.13 777.67 C110.91 777.67 110.00 777.67 109.08 776.35Z" fill="#1f1f1f" filter="url(#bl)"/>
<rect x="144.00" y="770.60" width="62.00" height="10.90" fill="#e6e6e6" stroke="#7d7d7d" stroke-width="0.7"/>
<path d="M147.72 776.35 C148.64 775.03 149.55 775.03 150.77 775.03 L170.09 775.03 C171.31 775.03 172.22 775.03 173.14 776.35 C172.22 777.67 171.31 777.67 170.09 777.67 L150.77 777.67 C149.55 777.67 148.64 777.67 147.72 776.35Z" fill="#1f1f1f" filter="url(#bl)"/>
<path d="M177.48 776.35 C178.40 775.03 179.31 775.03 180.53 775.03 L199.85 775.03 C201.07 775.03 201.98 775.03 202.90 776.35 C201.98 777.67 201.07 777.67 199.85 777.67 L180.53 777.67 C179.31 777.67 178.40 777.67 177.48 776.35Z" fill="#1f1f1f" filter="url(#bl)"/>
<text x="50.00" y="794.25" font-size="8.5" text-anchor="middle" font-weight="bold" font-style="italic" fill="#111">ML385</text>
<text x="50.00" y="809.75" font-size="8.4" text-anchor="middle" font-weight="bold" fill="#111">PBK</text>
<text x="50.30" y="824.25" font-size="8.6" text-anchor="middle" font-weight="bold" fill="#111">CLDN6</text>
<text x="92.60" y="794.10" font-size="8" text-anchor="middle" font-weight="bold" fill="#111">-</text>
<text x="125.60" y="794.38" font-size="8" text-anchor="middle" font-weight="bold" fill="#111">+</text>
<text x="158.80" y="794.10" font-size="8" text-anchor="middle" font-weight="bold" fill="#111">-</text>
<text x="191.80" y="794.38" font-size="8" text-anchor="middle" font-weight="bold" fill="#111">+</text>
<text x="92.60" y="809.88" font-size="8" text-anchor="middle" font-weight="bold" fill="#111">+</text>
<text x="125.60" y="809.88" font-size="8" text-anchor="middle" font-weight="bold" fill="#111">+</text>
<text x="158.80" y="809.88" font-size="8" text-anchor="middle" font-weight="bold" fill="#111">+</text>
<text x="191.80" y="809.88" font-size="8" text-anchor="middle" font-weight="bold" fill="#111">+</text>
<text x="92.60" y="824.38" font-size="8" text-anchor="middle" font-weight="bold" fill="#111">+</text>
<text x="125.60" y="824.38" font-size="8" text-anchor="middle" font-weight="bold" fill="#111">+</text>
<text x="158.80" y="824.38" font-size="8" text-anchor="middle" font-weight="bold" fill="#111">+</text>
<text x="191.80" y="824.38" font-size="8" text-anchor="middle" font-weight="bold" fill="#111">+</text>
<line x1="83.00" y1="833.50" x2="136.00" y2="833.50" stroke="#555" stroke-width="0.8"/>
<line x1="146.00" y1="833.50" x2="200.00" y2="833.50" stroke="#555" stroke-width="0.8"/>
<text x="109.00" y="845.30" font-size="6.5" text-anchor="middle" font-weight="bold" fill="#111">MDA-MB-231</text>
<text x="172.00" y="845.30" font-size="6.5" text-anchor="middle" font-weight="bold" fill="#111">MCF-7</text>
<rect x="258.71" y="8.43" width="4.71" height="4.20" fill="#dff2f7" stroke="#55bdd6" stroke-width="0.5"/>
<line x1="257.71" y1="10.53" x2="264.42" y2="10.53" stroke="#55bdd6" stroke-width="0.5"/>
<line x1="261.06" y1="8.43" x2="261.06" y2="12.63" stroke="#55bdd6" stroke-width="0.7"/>
<text x="264.99" y="12.55" font-size="5.6" text-anchor="start" fill="#333">Vector</text>
<rect x="284.71" y="8.43" width="5.38" height="4.20" fill="#f9dad5" stroke="#e2584a" stroke-width="0.5"/>
<line x1="283.71" y1="10.53" x2="291.08" y2="10.53" stroke="#e2584a" stroke-width="0.5"/>
<line x1="287.39" y1="8.43" x2="287.39" y2="12.63" stroke="#e2584a" stroke-width="0.7"/>
<text x="291.88" y="12.55" font-size="5.6" text-anchor="start" fill="#333">CLDN6</text>
<line x1="248.74" y1="16.13" x2="248.74" y2="39.22" stroke="#f0f0f0" stroke-width="0.5"/>
<line x1="278.99" y1="16.13" x2="278.99" y2="39.22" stroke="#f0f0f0" stroke-width="0.5"/>
<line x1="309.36" y1="16.13" x2="309.36" y2="39.22" stroke="#f0f0f0" stroke-width="0.5"/>
<line x1="339.72" y1="16.13" x2="339.72" y2="39.22" stroke="#f0f0f0" stroke-width="0.5"/>
<line x1="233.61" y1="16.13" x2="233.61" y2="39.22" stroke="#e3e3e3" stroke-width="0.7"/>
<line x1="263.87" y1="16.13" x2="263.87" y2="39.22" stroke="#e3e3e3" stroke-width="0.7"/>
<line x1="294.12" y1="16.13" x2="294.12" y2="39.22" stroke="#e3e3e3" stroke-width="0.7"/>
<line x1="324.59" y1="16.13" x2="324.59" y2="39.22" stroke="#e3e3e3" stroke-width="0.7"/>
<line x1="224.20" y1="22.41" x2="341.62" y2="22.41" stroke="#e3e3e3" stroke-width="0.7"/>
<line x1="224.20" y1="32.94" x2="341.62" y2="32.94" stroke="#e3e3e3" stroke-width="0.7"/>
<line x1="226.89" y1="22.41" x2="232.04" y2="22.41" stroke="#e2584a" stroke-width="0.6"/>
<line x1="256.02" y1="22.41" x2="276.19" y2="22.41" stroke="#e2584a" stroke-width="0.6"/>
<rect x="232.04" y="18.91" width="23.98" height="7.00" fill="#f9dad5" stroke="#e2584a" stroke-width="0.6"/>
<line x1="236.53" y1="18.91" x2="236.53" y2="25.91" stroke="#e2584a" stroke-width="1.1"/>
<circle cx="226.89" cy="22.41" r="0.9" fill="#f9dad5" stroke="#e2584a" stroke-width="0.4" opacity="0.8"/>
<circle cx="276.19" cy="22.41" r="0.9" fill="#f9dad5" stroke="#e2584a" stroke-width="0.4" opacity="0.8"/>
<line x1="289.19" y1="32.94" x2="298.60" y2="32.94" stroke="#55bdd6" stroke-width="0.6"/>
<line x1="319.22" y1="32.94" x2="332.21" y2="32.94" stroke="#55bdd6" stroke-width="0.6"/>
<rect x="298.60" y="29.44" width="20.62" height="7.00" fill="#dff2f7" stroke="#55bdd6" stroke-width="0.6"/>
<line x1="307.56" y1="29.44" x2="307.56" y2="36.44" stroke="#55bdd6" stroke-width="1.1"/>
<circle cx="289.19" cy="32.94" r="0.9" fill="#dff2f7" stroke="#55bdd6" stroke-width="0.4" opacity="0.8"/>
<circle cx="332.21" cy="32.94" r="0.9" fill="#dff2f7" stroke="#55bdd6" stroke-width="0.4" opacity="0.8"/>
<rect x="224.20" y="16.13" width="117.42" height="23.08" fill="none" stroke="#222" stroke-width="0.9"/>
<line x1="222.40" y1="22.41" x2="224.20" y2="22.41" stroke="#333" stroke-width="0.6"/>
<line x1="222.40" y1="32.94" x2="224.20" y2="32.94" stroke="#333" stroke-width="0.6"/>
<path d="M332.21 22.41 H334.41 V32.94 H332.21" fill="none" stroke="#222" stroke-width="0.7"/>
<text x="337.82" y="31.09" font-size="6.050000000000001" text-anchor="middle" font-weight="bold" fill="#222">*</text>
<line x1="233.61" y1="39.22" x2="233.61" y2="41.02" stroke="#333" stroke-width="0.6"/>
<text x="233.61" y="48.76" font-size="5.4" text-anchor="middle" fill="#333">0.6</text>
<line x1="263.87" y1="39.22" x2="263.87" y2="41.02" stroke="#333" stroke-width="0.6"/>
<text x="263.87" y="48.76" font-size="5.4" text-anchor="middle" fill="#333">0.8</text>
<line x1="294.12" y1="39.22" x2="294.12" y2="41.02" stroke="#333" stroke-width="0.6"/>
<text x="294.12" y="48.76" font-size="5.4" text-anchor="middle" fill="#333">1.0</text>
<line x1="324.59" y1="39.22" x2="324.59" y2="41.02" stroke="#333" stroke-width="0.6"/>
<text x="324.59" y="48.76" font-size="5.4" text-anchor="middle" fill="#333">1.2</text>
<text x="216.10" y="26.89" font-size="6.3" text-anchor="middle" fill="#222" transform="rotate(-90 216.0985574229692 26.890756302521005)">MDA-MB-231</text>
<line x1="251.88" y1="50.42" x2="251.88" y2="72.16" stroke="#f0f0f0" stroke-width="0.5"/>
<line x1="274.85" y1="50.42" x2="274.85" y2="72.16" stroke="#f0f0f0" stroke-width="0.5"/>
<line x1="297.82" y1="50.42" x2="297.82" y2="72.16" stroke="#f0f0f0" stroke-width="0.5"/>
<line x1="321.01" y1="50.42" x2="321.01" y2="72.16" stroke="#f0f0f0" stroke-width="0.5"/>
<line x1="228.80" y1="50.42" x2="228.80" y2="72.16" stroke="#f0f0f0" stroke-width="0.5"/>
<line x1="240.34" y1="50.42" x2="240.34" y2="72.16" stroke="#e3e3e3" stroke-width="0.7"/>
<line x1="263.42" y1="50.42" x2="263.42" y2="72.16" stroke="#e3e3e3" stroke-width="0.7"/>
<line x1="286.27" y1="50.42" x2="286.27" y2="72.16" stroke="#e3e3e3" stroke-width="0.7"/>
<line x1="309.36" y1="50.42" x2="309.36" y2="72.16" stroke="#e3e3e3" stroke-width="0.7"/>
<line x1="332.66" y1="50.42" x2="332.66" y2="72.16" stroke="#e3e3e3" stroke-width="0.7"/>
<line x1="224.20" y1="55.57" x2="341.62" y2="55.57" stroke="#e3e3e3" stroke-width="0.7"/>
<line x1="224.20" y1="66.55" x2="341.62" y2="66.55" stroke="#e3e3e3" stroke-width="0.7"/>
<line x1="226.89" y1="55.57" x2="230.25" y2="55.57" stroke="#e2584a" stroke-width="0.6"/>
<line x1="256.47" y1="55.57" x2="278.43" y2="55.57" stroke="#e2584a" stroke-width="0.6"/>
<rect x="230.25" y="52.07" width="26.22" height="7.00" fill="#f9dad5" stroke="#e2584a" stroke-width="0.6"/>
<line x1="233.61" y1="52.07" x2="233.61" y2="59.07" stroke="#e2584a" stroke-width="1.1"/>
<circle cx="226.89" cy="55.57" r="0.9" fill="#f9dad5" stroke="#e2584a" stroke-width="0.4" opacity="0.8"/>
<circle cx="278.43" cy="55.57" r="0.9" fill="#f9dad5" stroke="#e2584a" stroke-width="0.4" opacity="0.8"/>
<line x1="308.68" y1="66.55" x2="319.44" y2="66.55" stroke="#55bdd6" stroke-width="0.6"/>
<line x1="330.64" y1="66.55" x2="331.09" y2="66.55" stroke="#55bdd6" stroke-width="0.6"/>
<rect x="319.44" y="63.05" width="11.20" height="7.00" fill="#dff2f7" stroke="#55bdd6" stroke-width="0.6"/>
<line x1="329.52" y1="63.05" x2="329.52" y2="70.05" stroke="#55bdd6" stroke-width="1.1"/>
<circle cx="308.68" cy="66.55" r="0.9" fill="#dff2f7" stroke="#55bdd6" stroke-width="0.4" opacity="0.8"/>
<circle cx="331.09" cy="66.55" r="0.9" fill="#dff2f7" stroke="#55bdd6" stroke-width="0.4" opacity="0.8"/>
<rect x="224.20" y="50.42" width="117.42" height="21.74" fill="none" stroke="#222" stroke-width="0.9"/>
<line x1="222.40" y1="55.57" x2="224.20" y2="55.57" stroke="#333" stroke-width="0.6"/>
<line x1="222.40" y1="66.55" x2="224.20" y2="66.55" stroke="#333" stroke-width="0.6"/>
<path d="M332.21 55.57 H334.41 V66.55 H332.21" fill="none" stroke="#222" stroke-width="0.7"/>
<text x="337.82" y="64.47" font-size="6.050000000000001" text-anchor="middle" font-weight="bold" fill="#222">*</text>
<line x1="240.34" y1="72.16" x2="240.34" y2="73.96" stroke="#333" stroke-width="0.6"/>
<text x="240.34" y="81.70" font-size="5.4" text-anchor="middle" fill="#333">0.7</text>
<line x1="263.42" y1="72.16" x2="263.42" y2="73.96" stroke="#333" stroke-width="0.6"/>
<text x="263.42" y="81.70" font-size="5.4" text-anchor="middle" fill="#333">0.8</text>
<line x1="286.27" y1="72.16" x2="286.27" y2="73.96" stroke="#333" stroke-width="0.6"/>
<text x="286.27" y="81.70" font-size="5.4" text-anchor="middle" fill="#333">0.9</text>
<line x1="309.36" y1="72.16" x2="309.36" y2="73.96" stroke="#333" stroke-width="0.6"/>
<text x="309.36" y="81.70" font-size="5.4" text-anchor="middle" fill="#333">1.0</text>
<line x1="332.66" y1="72.16" x2="332.66" y2="73.96" stroke="#333" stroke-width="0.6"/>
<text x="332.66" y="81.70" font-size="5.4" text-anchor="middle" fill="#333">1.1</text>
<text x="216.10" y="61.18" font-size="6.3" text-anchor="middle" fill="#222" transform="rotate(-90 216.0985574229692 61.17647058823529)">MCF-7</text>
<text x="282.91" y="88.99" font-size="6.3" text-anchor="middle" fill="#222">Relative expression of PBK</text>
<rect x="234.73" y="120.31" width="4.48" height="4.20" fill="#dff2f7" stroke="#55bdd6" stroke-width="0.5"/>
<line x1="233.73" y1="122.41" x2="240.22" y2="122.41" stroke="#55bdd6" stroke-width="0.5"/>
<line x1="236.97" y1="120.31" x2="236.97" y2="124.51" stroke="#55bdd6" stroke-width="0.7"/>
<text x="241.46" y="124.42" font-size="5.6" text-anchor="start" fill="#333">Vector+MG-132</text>
<rect x="285.15" y="120.31" width="4.48" height="4.20" fill="#f9dad5" stroke="#e2584a" stroke-width="0.5"/>
<line x1="284.15" y1="122.41" x2="290.64" y2="122.41" stroke="#e2584a" stroke-width="0.5"/>
<line x1="287.39" y1="120.31" x2="287.39" y2="124.51" stroke="#e2584a" stroke-width="0.7"/>
<text x="291.88" y="124.42" font-size="5.6" text-anchor="start" fill="#333">CLDN6+MG-132</text>
<line x1="260.84" y1="127.56" x2="260.84" y2="150.42" stroke="#f0f0f0" stroke-width="0.5"/>
<line x1="291.65" y1="127.56" x2="291.65" y2="150.42" stroke="#f0f0f0" stroke-width="0.5"/>
<line x1="322.46" y1="127.56" x2="322.46" y2="150.42" stroke="#f0f0f0" stroke-width="0.5"/>
<line x1="230.14" y1="127.56" x2="230.14" y2="150.42" stroke="#f0f0f0" stroke-width="0.5"/>
<line x1="245.49" y1="127.56" x2="245.49" y2="150.42" stroke="#e3e3e3" stroke-width="0.7"/>
<line x1="276.19" y1="127.56" x2="276.19" y2="150.42" stroke="#e3e3e3" stroke-width="0.7"/>
<line x1="307.11" y1="127.56" x2="307.11" y2="150.42" stroke="#e3e3e3" stroke-width="0.7"/>
<line x1="337.82" y1="127.56" x2="337.82" y2="150.42" stroke="#e3e3e3" stroke-width="0.7"/>
<line x1="224.20" y1="134.29" x2="341.62" y2="134.29" stroke="#e3e3e3" stroke-width="0.7"/>
<line x1="224.20" y1="144.37" x2="341.62" y2="144.37" stroke="#e3e3e3" stroke-width="0.7"/>
<line x1="226.44" y1="134.29" x2="248.18" y2="134.29" stroke="#e2584a" stroke-width="0.6"/>
<line x1="288.52" y1="134.29" x2="309.13" y2="134.29" stroke="#e2584a" stroke-width="0.6"/>
<rect x="248.18" y="130.79" width="40.34" height="7.00" fill="#f9dad5" stroke="#e2584a" stroke-width="0.6"/>
<line x1="268.80" y1="130.79" x2="268.80" y2="137.79" stroke="#e2584a" stroke-width="1.1"/>
<circle cx="226.44" cy="134.29" r="0.9" fill="#f9dad5" stroke="#e2584a" stroke-width="0.4" opacity="0.8"/>
<circle cx="309.13" cy="134.29" r="0.9" fill="#f9dad5" stroke="#e2584a" stroke-width="0.4" opacity="0.8"/>
<line x1="264.54" y1="144.37" x2="278.43" y2="144.37" stroke="#55bdd6" stroke-width="0.6"/>
<line x1="311.37" y1="144.37" x2="331.09" y2="144.37" stroke="#55bdd6" stroke-width="0.6"/>
<rect x="278.43" y="140.87" width="32.94" height="7.00" fill="#dff2f7" stroke="#55bdd6" stroke-width="0.6"/>
<line x1="291.20" y1="140.87" x2="291.20" y2="147.87" stroke="#55bdd6" stroke-width="1.1"/>
<circle cx="264.54" cy="144.37" r="0.9" fill="#dff2f7" stroke="#55bdd6" stroke-width="0.4" opacity="0.8"/>
<circle cx="331.09" cy="144.37" r="0.9" fill="#dff2f7" stroke="#55bdd6" stroke-width="0.4" opacity="0.8"/>
<rect x="224.20" y="127.56" width="117.42" height="22.86" fill="none" stroke="#222" stroke-width="0.9"/>
<line x1="222.40" y1="134.29" x2="224.20" y2="134.29" stroke="#333" stroke-width="0.6"/>
<line x1="222.40" y1="144.37" x2="224.20" y2="144.37" stroke="#333" stroke-width="0.6"/>
<path d="M332.21 134.29 H334.41 V144.37 H332.21" fill="none" stroke="#222" stroke-width="0.7"/>
<text x="335.81" y="139.33" font-size="6" text-anchor="middle" fill="#222" transform="rotate(90 335.8069467787115 139.32773109243698)">ns</text>
<line x1="245.49" y1="150.42" x2="245.49" y2="152.22" stroke="#333" stroke-width="0.6"/>
<text x="245.49" y="159.96" font-size="5.4" text-anchor="middle" fill="#333">0.7</text>
<line x1="276.19" y1="150.42" x2="276.19" y2="152.22" stroke="#333" stroke-width="0.6"/>
<text x="276.19" y="159.96" font-size="5.4" text-anchor="middle" fill="#333">0.8</text>
<line x1="307.11" y1="150.42" x2="307.11" y2="152.22" stroke="#333" stroke-width="0.6"/>
<text x="307.11" y="159.96" font-size="5.4" text-anchor="middle" fill="#333">0.9</text>
<line x1="337.82" y1="150.42" x2="337.82" y2="152.22" stroke="#333" stroke-width="0.6"/>
<text x="337.82" y="159.96" font-size="5.4" text-anchor="middle" fill="#333">1.0</text>
<text x="216.10" y="139.22" font-size="6.3" text-anchor="middle" fill="#222" transform="rotate(-90 216.0985574229692 139.2156862745098)">MDA-MB-231</text>
<line x1="240.56" y1="161.18" x2="240.56" y2="184.03" stroke="#f0f0f0" stroke-width="0.5"/>
<line x1="263.53" y1="161.18" x2="263.53" y2="184.03" stroke="#f0f0f0" stroke-width="0.5"/>
<line x1="286.83" y1="161.18" x2="286.83" y2="184.03" stroke="#f0f0f0" stroke-width="0.5"/>
<line x1="309.80" y1="161.18" x2="309.80" y2="184.03" stroke="#f0f0f0" stroke-width="0.5"/>
<line x1="332.44" y1="161.18" x2="332.44" y2="184.03" stroke="#f0f0f0" stroke-width="0.5"/>
<line x1="229.13" y1="161.18" x2="229.13" y2="184.03" stroke="#e3e3e3" stroke-width="0.7"/>
<line x1="251.99" y1="161.18" x2="251.99" y2="184.03" stroke="#e3e3e3" stroke-width="0.7"/>
<line x1="275.07" y1="161.18" x2="275.07" y2="184.03" stroke="#e3e3e3" stroke-width="0.7"/>
<line x1="298.60" y1="161.18" x2="298.60" y2="184.03" stroke="#e3e3e3" stroke-width="0.7"/>
<line x1="321.01" y1="161.18" x2="321.01" y2="184.03" stroke="#e3e3e3" stroke-width="0.7"/>
<line x1="224.20" y1="167.23" x2="341.62" y2="167.23" stroke="#e3e3e3" stroke-width="0.7"/>
<line x1="224.20" y1="177.98" x2="341.62" y2="177.98" stroke="#e3e3e3" stroke-width="0.7"/>
<line x1="231.37" y1="167.23" x2="251.99" y2="167.23" stroke="#e2584a" stroke-width="0.6"/>
<line x1="300.39" y1="167.23" x2="328.85" y2="167.23" stroke="#e2584a" stroke-width="0.6"/>
<rect x="251.99" y="163.73" width="48.40" height="7.00" fill="#f9dad5" stroke="#e2584a" stroke-width="0.6"/>
<line x1="272.16" y1="163.73" x2="272.16" y2="170.73" stroke="#e2584a" stroke-width="1.1"/>
<circle cx="231.37" cy="167.23" r="0.9" fill="#f9dad5" stroke="#e2584a" stroke-width="0.4" opacity="0.8"/>
<circle cx="328.85" cy="167.23" r="0.9" fill="#f9dad5" stroke="#e2584a" stroke-width="0.4" opacity="0.8"/>
<line x1="226.89" y1="177.98" x2="237.65" y2="177.98" stroke="#55bdd6" stroke-width="0.6"/>
<line x1="289.64" y1="177.98" x2="331.09" y2="177.98" stroke="#55bdd6" stroke-width="0.6"/>
<rect x="237.65" y="174.48" width="51.99" height="7.00" fill="#dff2f7" stroke="#55bdd6" stroke-width="0.6"/>
<line x1="248.18" y1="174.48" x2="248.18" y2="181.48" stroke="#55bdd6" stroke-width="1.1"/>
<circle cx="226.89" cy="177.98" r="0.9" fill="#dff2f7" stroke="#55bdd6" stroke-width="0.4" opacity="0.8"/>
<circle cx="331.09" cy="177.98" r="0.9" fill="#dff2f7" stroke="#55bdd6" stroke-width="0.4" opacity="0.8"/>
<rect x="224.20" y="161.18" width="117.42" height="22.86" fill="none" stroke="#222" stroke-width="0.9"/>
<line x1="222.40" y1="167.23" x2="224.20" y2="167.23" stroke="#333" stroke-width="0.6"/>
<line x1="222.40" y1="177.98" x2="224.20" y2="177.98" stroke="#333" stroke-width="0.6"/>
<path d="M332.21 167.23 H334.41 V177.98 H332.21" fill="none" stroke="#222" stroke-width="0.7"/>
<text x="335.81" y="172.61" font-size="6" text-anchor="middle" fill="#222" transform="rotate(90 335.8069467787115 172.60504201680672)">ns</text>
<line x1="229.13" y1="184.03" x2="229.13" y2="185.83" stroke="#333" stroke-width="0.6"/>
<text x="229.13" y="193.58" font-size="5.4" text-anchor="middle" fill="#333">0.85</text>
<line x1="251.99" y1="184.03" x2="251.99" y2="185.83" stroke="#333" stroke-width="0.6"/>
<text x="251.99" y="193.58" font-size="5.4" text-anchor="middle" fill="#333">0.90</text>
<line x1="275.07" y1="184.03" x2="275.07" y2="185.83" stroke="#333" stroke-width="0.6"/>
<text x="275.07" y="193.58" font-size="5.4" text-anchor="middle" fill="#333">0.95</text>
<line x1="298.60" y1="184.03" x2="298.60" y2="185.83" stroke="#333" stroke-width="0.6"/>
<text x="298.60" y="193.58" font-size="5.4" text-anchor="middle" fill="#333">1.00</text>
<line x1="321.01" y1="184.03" x2="321.01" y2="185.83" stroke="#333" stroke-width="0.6"/>
<text x="321.01" y="193.58" font-size="5.4" text-anchor="middle" fill="#333">1.05</text>
<text x="216.10" y="172.83" font-size="6.3" text-anchor="middle" fill="#222" transform="rotate(-90 216.0985574229692 172.82913165266106)">MCF-7</text>
<text x="282.91" y="200.42" font-size="6.3" text-anchor="middle" fill="#222">Relative expression of PBK</text>
<rect x="249.75" y="238.14" width="5.15" height="4.20" fill="#dff2f7" stroke="#55bdd6" stroke-width="0.5"/>
<line x1="248.75" y1="240.24" x2="255.90" y2="240.24" stroke="#55bdd6" stroke-width="0.5"/>
<line x1="252.32" y1="238.14" x2="252.32" y2="242.34" stroke="#55bdd6" stroke-width="0.7"/>
<text x="257.82" y="242.49" font-size="6.25" text-anchor="start" fill="#333">CLDN6+Vector</text>
<rect x="303.53" y="238.14" width="5.15" height="4.20" fill="#f9dad5" stroke="#e2584a" stroke-width="0.5"/>
<line x1="302.53" y1="240.24" x2="309.68" y2="240.24" stroke="#e2584a" stroke-width="0.5"/>
<line x1="306.11" y1="238.14" x2="306.11" y2="242.34" stroke="#e2584a" stroke-width="0.7"/>
<text x="310.92" y="242.49" font-size="6.25" text-anchor="start" fill="#333">CLDN6+PBK</text>
<line x1="272.83" y1="245.17" x2="272.83" y2="292.23" stroke="#f0f0f0" stroke-width="0.5"/>
<line x1="288.74" y1="245.17" x2="288.74" y2="292.23" stroke="#f0f0f0" stroke-width="0.5"/>
<line x1="304.76" y1="245.17" x2="304.76" y2="292.23" stroke="#f0f0f0" stroke-width="0.5"/>
<line x1="320.78" y1="245.17" x2="320.78" y2="292.23" stroke="#f0f0f0" stroke-width="0.5"/>
<line x1="257.14" y1="245.17" x2="257.14" y2="292.23" stroke="#f0f0f0" stroke-width="0.5"/>
<line x1="336.69" y1="245.17" x2="336.69" y2="292.23" stroke="#f0f0f0" stroke-width="0.5"/>
<line x1="264.99" y1="245.17" x2="264.99" y2="292.23" stroke="#e3e3e3" stroke-width="0.7"/>
<line x1="280.67" y1="245.17" x2="280.67" y2="292.23" stroke="#e3e3e3" stroke-width="0.7"/>
<line x1="296.81" y1="245.17" x2="296.81" y2="292.23" stroke="#e3e3e3" stroke-width="0.7"/>
<line x1="312.72" y1="245.17" x2="312.72" y2="292.23" stroke="#e3e3e3" stroke-width="0.7"/>
<line x1="328.85" y1="245.17" x2="328.85" y2="292.23" stroke="#e3e3e3" stroke-width="0.7"/>
<line x1="251.99" y1="251.44" x2="341.18" y2="251.44" stroke="#e3e3e3" stroke-width="0.7"/>
<line x1="251.99" y1="257.49" x2="341.18" y2="257.49" stroke="#e3e3e3" stroke-width="0.7"/>
<line x1="251.99" y1="266.46" x2="341.18" y2="266.46" stroke="#e3e3e3" stroke-width="0.7"/>
<line x1="251.99" y1="272.51" x2="341.18" y2="272.51" stroke="#e3e3e3" stroke-width="0.7"/>
<line x1="251.99" y1="281.69" x2="341.18" y2="281.69" stroke="#e3e3e3" stroke-width="0.7"/>
<line x1="251.99" y1="287.75" x2="341.18" y2="287.75" stroke="#e3e3e3" stroke-width="0.7"/>
<line x1="299.72" y1="251.44" x2="303.53" y2="251.44" stroke="#e2584a" stroke-width="0.6"/>
<line x1="310.48" y1="251.44" x2="314.29" y2="251.44" stroke="#e2584a" stroke-width="0.6"/>
<rect x="303.53" y="247.94" width="6.95" height="7.00" fill="#f9dad5" stroke="#e2584a" stroke-width="0.6"/>
<line x1="307.11" y1="247.94" x2="307.11" y2="254.94" stroke="#e2584a" stroke-width="1.1"/>
<circle cx="299.72" cy="251.44" r="0.9" fill="#f9dad5" stroke="#e2584a" stroke-width="0.4" opacity="0.8"/>
<circle cx="314.29" cy="251.44" r="0.9" fill="#f9dad5" stroke="#e2584a" stroke-width="0.4" opacity="0.8"/>
<line x1="254.23" y1="257.49" x2="261.62" y2="257.49" stroke="#55bdd6" stroke-width="0.6"/>
<line x1="276.86" y1="257.49" x2="285.15" y2="257.49" stroke="#55bdd6" stroke-width="0.6"/>
<rect x="261.62" y="253.99" width="15.24" height="7.00" fill="#dff2f7" stroke="#55bdd6" stroke-width="0.6"/>
<line x1="268.80" y1="253.99" x2="268.80" y2="260.99" stroke="#55bdd6" stroke-width="1.1"/>
<circle cx="254.23" cy="257.49" r="0.9" fill="#dff2f7" stroke="#55bdd6" stroke-width="0.4" opacity="0.8"/>
<circle cx="285.15" cy="257.49" r="0.9" fill="#dff2f7" stroke="#55bdd6" stroke-width="0.4" opacity="0.8"/>
<line x1="293.67" y1="266.46" x2="307.11" y2="266.46" stroke="#e2584a" stroke-width="0.6"/>
<line x1="326.61" y1="266.46" x2="334.45" y2="266.46" stroke="#e2584a" stroke-width="0.6"/>
<rect x="307.11" y="262.96" width="19.50" height="7.00" fill="#f9dad5" stroke="#e2584a" stroke-width="0.6"/>
<line x1="318.77" y1="262.96" x2="318.77" y2="269.96" stroke="#e2584a" stroke-width="1.1"/>
<circle cx="293.67" cy="266.46" r="0.9" fill="#f9dad5" stroke="#e2584a" stroke-width="0.4" opacity="0.8"/>
<circle cx="334.45" cy="266.46" r="0.9" fill="#f9dad5" stroke="#e2584a" stroke-width="0.4" opacity="0.8"/>
<line x1="262.75" y1="272.51" x2="263.19" y2="272.51" stroke="#55bdd6" stroke-width="0.6"/>
<line x1="272.16" y1="272.51" x2="280.67" y2="272.51" stroke="#55bdd6" stroke-width="0.6"/>
<rect x="263.19" y="269.01" width="8.96" height="7.00" fill="#dff2f7" stroke="#55bdd6" stroke-width="0.6"/>
<line x1="264.99" y1="269.01" x2="264.99" y2="276.01" stroke="#55bdd6" stroke-width="1.1"/>
<circle cx="262.75" cy="272.51" r="0.9" fill="#dff2f7" stroke="#55bdd6" stroke-width="0.4" opacity="0.8"/>
<circle cx="280.67" cy="272.51" r="0.9" fill="#dff2f7" stroke="#55bdd6" stroke-width="0.4" opacity="0.8"/>
<line x1="292.32" y1="281.69" x2="296.36" y2="281.69" stroke="#e2584a" stroke-width="0.6"/>
<line x1="303.53" y1="281.69" x2="309.80" y2="281.69" stroke="#e2584a" stroke-width="0.6"/>
<rect x="296.36" y="278.19" width="7.17" height="7.00" fill="#f9dad5" stroke="#e2584a" stroke-width="0.6"/>
<line x1="299.94" y1="278.19" x2="299.94" y2="285.19" stroke="#e2584a" stroke-width="1.1"/>
<circle cx="292.32" cy="281.69" r="0.9" fill="#f9dad5" stroke="#e2584a" stroke-width="0.4" opacity="0.8"/>
<circle cx="309.80" cy="281.69" r="0.9" fill="#f9dad5" stroke="#e2584a" stroke-width="0.4" opacity="0.8"/>
<line x1="265.66" y1="287.75" x2="267.23" y2="287.75" stroke="#55bdd6" stroke-width="0.6"/>
<line x1="272.83" y1="287.75" x2="273.95" y2="287.75" stroke="#55bdd6" stroke-width="0.6"/>
<rect x="267.23" y="284.25" width="5.60" height="7.00" fill="#dff2f7" stroke="#55bdd6" stroke-width="0.6"/>
<line x1="270.14" y1="284.25" x2="270.14" y2="291.25" stroke="#55bdd6" stroke-width="1.1"/>
<circle cx="265.66" cy="287.75" r="0.9" fill="#dff2f7" stroke="#55bdd6" stroke-width="0.4" opacity="0.8"/>
<circle cx="273.95" cy="287.75" r="0.9" fill="#dff2f7" stroke="#55bdd6" stroke-width="0.4" opacity="0.8"/>
<rect x="251.99" y="245.17" width="89.19" height="47.06" fill="none" stroke="#222" stroke-width="0.9"/>
<line x1="250.19" y1="251.44" x2="251.99" y2="251.44" stroke="#333" stroke-width="0.6"/>
<line x1="250.19" y1="257.49" x2="251.99" y2="257.49" stroke="#333" stroke-width="0.6"/>
<line x1="250.19" y1="266.46" x2="251.99" y2="266.46" stroke="#333" stroke-width="0.6"/>
<line x1="250.19" y1="272.51" x2="251.99" y2="272.51" stroke="#333" stroke-width="0.6"/>
<line x1="250.19" y1="281.69" x2="251.99" y2="281.69" stroke="#333" stroke-width="0.6"/>
<line x1="250.19" y1="287.75" x2="251.99" y2="287.75" stroke="#333" stroke-width="0.6"/>
<path d="M312.04 251.44 H314.24 V257.49 H312.04" fill="none" stroke="#222" stroke-width="0.7"/>
<text x="317.65" y="257.88" font-size="6.050000000000001" text-anchor="middle" font-weight="bold" fill="#222">*</text>
<path d="M333.78 266.46 H335.98 V272.51 H333.78" fill="none" stroke="#222" stroke-width="0.7"/>
<text x="339.38" y="272.89" font-size="6.050000000000001" text-anchor="middle" font-weight="bold" fill="#222">*</text>
<path d="M307.56 281.69 H309.76 V287.75 H307.56" fill="none" stroke="#222" stroke-width="0.7"/>
<text x="310.74" y="284.72" font-size="5.5" text-anchor="middle" font-weight="bold" fill="#222" transform="rotate(90 310.7370868347339 284.71988795518206)">**</text>
<line x1="264.99" y1="292.23" x2="264.99" y2="294.03" stroke="#333" stroke-width="0.6"/>
<text x="264.99" y="301.91" font-size="5.8" text-anchor="middle" fill="#333">0.6</text>
<line x1="280.67" y1="292.23" x2="280.67" y2="294.03" stroke="#333" stroke-width="0.6"/>
<text x="280.67" y="301.91" font-size="5.8" text-anchor="middle" fill="#333">0.8</text>
<line x1="296.81" y1="292.23" x2="296.81" y2="294.03" stroke="#333" stroke-width="0.6"/>
<text x="296.81" y="301.91" font-size="5.8" text-anchor="middle" fill="#333">1.0</text>
<line x1="312.72" y1="292.23" x2="312.72" y2="294.03" stroke="#333" stroke-width="0.6"/>
<text x="312.72" y="301.91" font-size="5.8" text-anchor="middle" fill="#333">1.2</text>
<line x1="328.85" y1="292.23" x2="328.85" y2="294.03" stroke="#333" stroke-width="0.6"/>
<text x="328.85" y="301.91" font-size="5.8" text-anchor="middle" fill="#333">1.4</text>
<text x="216.34" y="268.70" font-size="7.0" text-anchor="middle" fill="#222" transform="rotate(-90 216.34355742296918 268.69747899159665)">MDA-MB-231</text>
<line x1="264.99" y1="304.55" x2="264.99" y2="353.18" stroke="#f0f0f0" stroke-width="0.5"/>
<line x1="285.15" y1="304.55" x2="285.15" y2="353.18" stroke="#f0f0f0" stroke-width="0.5"/>
<line x1="305.10" y1="304.55" x2="305.10" y2="353.18" stroke="#f0f0f0" stroke-width="0.5"/>
<line x1="324.71" y1="304.55" x2="324.71" y2="353.18" stroke="#f0f0f0" stroke-width="0.5"/>
<line x1="254.90" y1="304.55" x2="254.90" y2="353.18" stroke="#e3e3e3" stroke-width="0.7"/>
<line x1="275.07" y1="304.55" x2="275.07" y2="353.18" stroke="#e3e3e3" stroke-width="0.7"/>
<line x1="295.24" y1="304.55" x2="295.24" y2="353.18" stroke="#e3e3e3" stroke-width="0.7"/>
<line x1="314.96" y1="304.55" x2="314.96" y2="353.18" stroke="#e3e3e3" stroke-width="0.7"/>
<line x1="334.45" y1="304.55" x2="334.45" y2="353.18" stroke="#e3e3e3" stroke-width="0.7"/>
<line x1="251.99" y1="311.27" x2="341.18" y2="311.27" stroke="#e3e3e3" stroke-width="0.7"/>
<line x1="251.99" y1="316.88" x2="341.18" y2="316.88" stroke="#e3e3e3" stroke-width="0.7"/>
<line x1="251.99" y1="326.29" x2="341.18" y2="326.29" stroke="#e3e3e3" stroke-width="0.7"/>
<line x1="251.99" y1="332.56" x2="341.18" y2="332.56" stroke="#e3e3e3" stroke-width="0.7"/>
<line x1="251.99" y1="341.53" x2="341.18" y2="341.53" stroke="#e3e3e3" stroke-width="0.7"/>
<line x1="251.99" y1="347.13" x2="341.18" y2="347.13" stroke="#e3e3e3" stroke-width="0.7"/>
<line x1="294.12" y1="311.27" x2="298.60" y2="311.27" stroke="#e2584a" stroke-width="0.6"/>
<line x1="305.77" y1="311.27" x2="309.80" y2="311.27" stroke="#e2584a" stroke-width="0.6"/>
<rect x="298.60" y="307.77" width="7.17" height="7.00" fill="#f9dad5" stroke="#e2584a" stroke-width="0.6"/>
<line x1="301.96" y1="307.77" x2="301.96" y2="314.77" stroke="#e2584a" stroke-width="1.1"/>
<circle cx="294.12" cy="311.27" r="0.9" fill="#f9dad5" stroke="#e2584a" stroke-width="0.4" opacity="0.8"/>
<circle cx="309.80" cy="311.27" r="0.9" fill="#f9dad5" stroke="#e2584a" stroke-width="0.4" opacity="0.8"/>
<line x1="254.45" y1="316.88" x2="254.90" y2="316.88" stroke="#55bdd6" stroke-width="0.6"/>
<line x1="257.14" y1="316.88" x2="257.59" y2="316.88" stroke="#55bdd6" stroke-width="0.6"/>
<rect x="254.90" y="313.38" width="2.24" height="7.00" fill="#dff2f7" stroke="#55bdd6" stroke-width="0.6"/>
<line x1="256.02" y1="313.38" x2="256.02" y2="320.38" stroke="#55bdd6" stroke-width="1.1"/>
<circle cx="254.45" cy="316.88" r="0.9" fill="#dff2f7" stroke="#55bdd6" stroke-width="0.4" opacity="0.8"/>
<circle cx="257.59" cy="316.88" r="0.9" fill="#dff2f7" stroke="#55bdd6" stroke-width="0.4" opacity="0.8"/>
<line x1="294.12" y1="326.29" x2="297.48" y2="326.29" stroke="#e2584a" stroke-width="0.6"/>
<line x1="303.08" y1="326.29" x2="307.56" y2="326.29" stroke="#e2584a" stroke-width="0.6"/>
<rect x="297.48" y="322.79" width="5.60" height="7.00" fill="#f9dad5" stroke="#e2584a" stroke-width="0.6"/>
<line x1="299.72" y1="322.79" x2="299.72" y2="329.79" stroke="#e2584a" stroke-width="1.1"/>
<circle cx="294.12" cy="326.29" r="0.9" fill="#f9dad5" stroke="#e2584a" stroke-width="0.4" opacity="0.8"/>
<circle cx="307.56" cy="326.29" r="0.9" fill="#f9dad5" stroke="#e2584a" stroke-width="0.4" opacity="0.8"/>
<line x1="279.55" y1="332.56" x2="280.22" y2="332.56" stroke="#55bdd6" stroke-width="0.6"/>
<line x1="284.71" y1="332.56" x2="286.27" y2="332.56" stroke="#55bdd6" stroke-width="0.6"/>
<rect x="280.22" y="329.06" width="4.48" height="7.00" fill="#dff2f7" stroke="#55bdd6" stroke-width="0.6"/>
<line x1="281.79" y1="329.06" x2="281.79" y2="336.06" stroke="#55bdd6" stroke-width="1.1"/>
<circle cx="279.55" cy="332.56" r="0.9" fill="#dff2f7" stroke="#55bdd6" stroke-width="0.4" opacity="0.8"/>
<circle cx="286.27" cy="332.56" r="0.9" fill="#dff2f7" stroke="#55bdd6" stroke-width="0.4" opacity="0.8"/>
<line x1="324.37" y1="341.53" x2="325.49" y2="341.53" stroke="#e2584a" stroke-width="0.6"/>
<line x1="329.97" y1="341.53" x2="334.45" y2="341.53" stroke="#e2584a" stroke-width="0.6"/>
<rect x="325.49" y="338.03" width="4.48" height="7.00" fill="#f9dad5" stroke="#e2584a" stroke-width="0.6"/>
<line x1="327.28" y1="338.03" x2="327.28" y2="345.03" stroke="#e2584a" stroke-width="1.1"/>
<circle cx="324.37" cy="341.53" r="0.9" fill="#f9dad5" stroke="#e2584a" stroke-width="0.4" opacity="0.8"/>
<circle cx="334.45" cy="341.53" r="0.9" fill="#f9dad5" stroke="#e2584a" stroke-width="0.4" opacity="0.8"/>
<line x1="278.43" y1="347.13" x2="283.59" y2="347.13" stroke="#55bdd6" stroke-width="0.6"/>
<line x1="289.19" y1="347.13" x2="289.64" y2="347.13" stroke="#55bdd6" stroke-width="0.6"/>
<rect x="283.59" y="343.63" width="5.60" height="7.00" fill="#dff2f7" stroke="#55bdd6" stroke-width="0.6"/>
<line x1="285.15" y1="343.63" x2="285.15" y2="350.63" stroke="#55bdd6" stroke-width="1.1"/>
<circle cx="278.43" cy="347.13" r="0.9" fill="#dff2f7" stroke="#55bdd6" stroke-width="0.4" opacity="0.8"/>
<circle cx="289.64" cy="347.13" r="0.9" fill="#dff2f7" stroke="#55bdd6" stroke-width="0.4" opacity="0.8"/>
<rect x="251.99" y="304.55" width="89.19" height="48.63" fill="none" stroke="#222" stroke-width="0.9"/>
<line x1="250.19" y1="311.27" x2="251.99" y2="311.27" stroke="#333" stroke-width="0.6"/>
<line x1="250.19" y1="316.88" x2="251.99" y2="316.88" stroke="#333" stroke-width="0.6"/>
<line x1="250.19" y1="326.29" x2="251.99" y2="326.29" stroke="#333" stroke-width="0.6"/>
<line x1="250.19" y1="332.56" x2="251.99" y2="332.56" stroke="#333" stroke-width="0.6"/>
<line x1="250.19" y1="341.53" x2="251.99" y2="341.53" stroke="#333" stroke-width="0.6"/>
<line x1="250.19" y1="347.13" x2="251.99" y2="347.13" stroke="#333" stroke-width="0.6"/>
<path d="M309.80 311.27 H312.00 V316.88 H309.80" fill="none" stroke="#222" stroke-width="0.7"/>
<text x="312.98" y="314.08" font-size="5.5" text-anchor="middle" font-weight="bold" fill="#222" transform="rotate(90 312.9779831932773 314.07563025210084)">***</text>
<path d="M308.01 326.29 H310.21 V332.56 H308.01" fill="none" stroke="#222" stroke-width="0.7"/>
<text x="310.74" y="329.43" font-size="5.5" text-anchor="middle" font-weight="bold" fill="#222" transform="rotate(90 310.7370868347339 329.4257703081232)">**</text>
<path d="M334.01 341.53 H336.21 V347.13 H334.01" fill="none" stroke="#222" stroke-width="0.7"/>
<text x="337.40" y="344.33" font-size="5.5" text-anchor="middle" font-weight="bold" fill="#222" transform="rotate(90 337.4037535014005 344.3277310924369)">***</text>
<line x1="254.90" y1="353.18" x2="254.90" y2="354.98" stroke="#333" stroke-width="0.6"/>
<text x="254.90" y="362.87" font-size="5.8" text-anchor="middle" fill="#333">0.4</text>
<line x1="275.07" y1="353.18" x2="275.07" y2="354.98" stroke="#333" stroke-width="0.6"/>
<text x="275.07" y="362.87" font-size="5.8" text-anchor="middle" fill="#333">0.6</text>
<line x1="295.24" y1="353.18" x2="295.24" y2="354.98" stroke="#333" stroke-width="0.6"/>
<text x="295.24" y="362.87" font-size="5.8" text-anchor="middle" fill="#333">0.8</text>
<line x1="314.96" y1="353.18" x2="314.96" y2="354.98" stroke="#333" stroke-width="0.6"/>
<text x="314.96" y="362.87" font-size="5.8" text-anchor="middle" fill="#333">1.0</text>
<line x1="334.45" y1="353.18" x2="334.45" y2="354.98" stroke="#333" stroke-width="0.6"/>
<text x="334.45" y="362.87" font-size="5.8" text-anchor="middle" fill="#333">1.2</text>
<text x="216.34" y="329.20" font-size="7.0" text-anchor="middle" fill="#222" transform="rotate(-90 216.34355742296918 329.2016806722689)">MCF-7</text>
<text x="297.48" y="370.97" font-size="7.1" text-anchor="middle" fill="#222">Relative expression of proteins</text>
<text x="248.85" y="252.97" font-size="6.1" text-anchor="end" fill="#222">p-GSK3β</text>
<text x="248.85" y="259.69" font-size="6.1" text-anchor="end" fill="#222">/GSK3β</text>
<text x="248.85" y="269.33" font-size="6.1" text-anchor="end" fill="#222">p-AKT</text>
<text x="248.85" y="274.93" font-size="6.1" text-anchor="end" fill="#222">/AKT</text>
<text x="248.85" y="287.26" font-size="6.1" text-anchor="end" fill="#222">PBK</text>
<text x="248.85" y="313.47" font-size="6.1" text-anchor="end" fill="#222">p-GSK3β</text>
<text x="248.85" y="319.08" font-size="6.1" text-anchor="end" fill="#222">/GSK3β</text>
<text x="248.85" y="328.49" font-size="6.1" text-anchor="end" fill="#222">p-AKT</text>
<text x="248.85" y="334.31" font-size="6.1" text-anchor="end" fill="#222">/AKT</text>
<text x="248.85" y="347.09" font-size="6.1" text-anchor="end" fill="#222">PBK</text>
<rect x="240.34" y="415.41" width="5.15" height="4.20" fill="#dff2f7" stroke="#55bdd6" stroke-width="0.5"/>
<line x1="239.34" y1="417.51" x2="246.49" y2="417.51" stroke="#55bdd6" stroke-width="0.5"/>
<line x1="242.91" y1="415.41" x2="242.91" y2="419.61" stroke="#55bdd6" stroke-width="0.7"/>
<text x="248.85" y="419.52" font-size="5.6" text-anchor="start" fill="#333">CLDN6+Vector</text>
<rect x="288.52" y="415.41" width="5.15" height="4.20" fill="#f9dad5" stroke="#e2584a" stroke-width="0.5"/>
<line x1="287.52" y1="417.51" x2="294.67" y2="417.51" stroke="#e2584a" stroke-width="0.5"/>
<line x1="291.09" y1="415.41" x2="291.09" y2="419.61" stroke="#e2584a" stroke-width="0.7"/>
<text x="296.36" y="419.52" font-size="5.6" text-anchor="start" fill="#333">CLDN6+PBK</text>
<line x1="244.26" y1="422.66" x2="244.26" y2="445.52" stroke="#f0f0f0" stroke-width="0.5"/>
<line x1="263.31" y1="422.66" x2="263.31" y2="445.52" stroke="#f0f0f0" stroke-width="0.5"/>
<line x1="282.58" y1="422.66" x2="282.58" y2="445.52" stroke="#f0f0f0" stroke-width="0.5"/>
<line x1="301.96" y1="422.66" x2="301.96" y2="445.52" stroke="#f0f0f0" stroke-width="0.5"/>
<line x1="321.34" y1="422.66" x2="321.34" y2="445.52" stroke="#f0f0f0" stroke-width="0.5"/>
<line x1="225.21" y1="422.66" x2="225.21" y2="445.52" stroke="#f0f0f0" stroke-width="0.5"/>
<line x1="340.62" y1="422.66" x2="340.62" y2="445.52" stroke="#f0f0f0" stroke-width="0.5"/>
<line x1="234.73" y1="422.66" x2="234.73" y2="445.52" stroke="#e3e3e3" stroke-width="0.7"/>
<line x1="253.78" y1="422.66" x2="253.78" y2="445.52" stroke="#e3e3e3" stroke-width="0.7"/>
<line x1="272.83" y1="422.66" x2="272.83" y2="445.52" stroke="#e3e3e3" stroke-width="0.7"/>
<line x1="292.32" y1="422.66" x2="292.32" y2="445.52" stroke="#e3e3e3" stroke-width="0.7"/>
<line x1="311.60" y1="422.66" x2="311.60" y2="445.52" stroke="#e3e3e3" stroke-width="0.7"/>
<line x1="331.09" y1="422.66" x2="331.09" y2="445.52" stroke="#e3e3e3" stroke-width="0.7"/>
<line x1="224.20" y1="428.94" x2="341.62" y2="428.94" stroke="#e3e3e3" stroke-width="0.7"/>
<line x1="224.20" y1="439.47" x2="341.62" y2="439.47" stroke="#e3e3e3" stroke-width="0.7"/>
<line x1="226.89" y1="428.94" x2="230.25" y2="428.94" stroke="#e2584a" stroke-width="0.6"/>
<line x1="256.47" y1="428.94" x2="279.55" y2="428.94" stroke="#e2584a" stroke-width="0.6"/>
<rect x="230.25" y="425.44" width="26.22" height="7.00" fill="#f9dad5" stroke="#e2584a" stroke-width="0.6"/>
<line x1="233.61" y1="425.44" x2="233.61" y2="432.44" stroke="#e2584a" stroke-width="1.1"/>
<circle cx="226.89" cy="428.94" r="0.9" fill="#f9dad5" stroke="#e2584a" stroke-width="0.4" opacity="0.8"/>
<circle cx="279.55" cy="428.94" r="0.9" fill="#f9dad5" stroke="#e2584a" stroke-width="0.4" opacity="0.8"/>
<line x1="313.17" y1="439.47" x2="315.41" y2="439.47" stroke="#55bdd6" stroke-width="0.6"/>
<line x1="324.37" y1="439.47" x2="332.21" y2="439.47" stroke="#55bdd6" stroke-width="0.6"/>
<rect x="315.41" y="435.97" width="8.96" height="7.00" fill="#dff2f7" stroke="#55bdd6" stroke-width="0.6"/>
<line x1="318.10" y1="435.97" x2="318.10" y2="442.97" stroke="#55bdd6" stroke-width="1.1"/>
<circle cx="313.17" cy="439.47" r="0.9" fill="#dff2f7" stroke="#55bdd6" stroke-width="0.4" opacity="0.8"/>
<circle cx="332.21" cy="439.47" r="0.9" fill="#dff2f7" stroke="#55bdd6" stroke-width="0.4" opacity="0.8"/>
<rect x="224.20" y="422.66" width="117.42" height="22.86" fill="none" stroke="#222" stroke-width="0.9"/>
<line x1="222.40" y1="428.94" x2="224.20" y2="428.94" stroke="#333" stroke-width="0.6"/>
<line x1="222.40" y1="439.47" x2="224.20" y2="439.47" stroke="#333" stroke-width="0.6"/>
<path d="M332.66 428.94 H334.86 V439.47 H332.66" fill="none" stroke="#222" stroke-width="0.7"/>
<text x="337.82" y="437.61" font-size="6.050000000000001" text-anchor="middle" font-weight="bold" fill="#222">*</text>
<line x1="234.73" y1="445.52" x2="234.73" y2="447.32" stroke="#333" stroke-width="0.6"/>
<text x="234.73" y="455.06" font-size="5.4" text-anchor="middle" fill="#333">0.60</text>
<line x1="253.78" y1="445.52" x2="253.78" y2="447.32" stroke="#333" stroke-width="0.6"/>
<text x="253.78" y="455.06" font-size="5.4" text-anchor="middle" fill="#333">0.65</text>
<line x1="272.83" y1="445.52" x2="272.83" y2="447.32" stroke="#333" stroke-width="0.6"/>
<text x="272.83" y="455.06" font-size="5.4" text-anchor="middle" fill="#333">0.70</text>
<line x1="292.32" y1="445.52" x2="292.32" y2="447.32" stroke="#333" stroke-width="0.6"/>
<text x="292.32" y="455.06" font-size="5.4" text-anchor="middle" fill="#333">0.75</text>
<line x1="311.60" y1="445.52" x2="311.60" y2="447.32" stroke="#333" stroke-width="0.6"/>
<text x="311.60" y="455.06" font-size="5.4" text-anchor="middle" fill="#333">0.80</text>
<line x1="331.09" y1="445.52" x2="331.09" y2="447.32" stroke="#333" stroke-width="0.6"/>
<text x="331.09" y="455.06" font-size="5.4" text-anchor="middle" fill="#333">0.85</text>
<text x="216.10" y="434.99" font-size="6.3" text-anchor="middle" fill="#222" transform="rotate(-90 216.0985574229692 434.9859943977591)">MDA-MB-231</text>
<line x1="264.09" y1="457.84" x2="264.09" y2="479.80" stroke="#f0f0f0" stroke-width="0.5"/>
<line x1="295.46" y1="457.84" x2="295.46" y2="479.80" stroke="#f0f0f0" stroke-width="0.5"/>
<line x1="326.27" y1="457.84" x2="326.27" y2="479.80" stroke="#f0f0f0" stroke-width="0.5"/>
<line x1="232.27" y1="457.84" x2="232.27" y2="479.80" stroke="#f0f0f0" stroke-width="0.5"/>
<line x1="248.18" y1="457.84" x2="248.18" y2="479.80" stroke="#e3e3e3" stroke-width="0.7"/>
<line x1="280.00" y1="457.84" x2="280.00" y2="479.80" stroke="#e3e3e3" stroke-width="0.7"/>
<line x1="310.92" y1="457.84" x2="310.92" y2="479.80" stroke="#e3e3e3" stroke-width="0.7"/>
<line x1="341.62" y1="457.84" x2="341.62" y2="479.80" stroke="#e3e3e3" stroke-width="0.7"/>
<line x1="224.20" y1="463.00" x2="341.62" y2="463.00" stroke="#e3e3e3" stroke-width="0.7"/>
<line x1="224.20" y1="473.53" x2="341.62" y2="473.53" stroke="#e3e3e3" stroke-width="0.7"/>
<line x1="226.89" y1="463.00" x2="239.66" y2="463.00" stroke="#e2584a" stroke-width="0.6"/>
<line x1="266.55" y1="463.00" x2="280.67" y2="463.00" stroke="#e2584a" stroke-width="0.6"/>
<rect x="239.66" y="459.50" width="26.89" height="7.00" fill="#f9dad5" stroke="#e2584a" stroke-width="0.6"/>
<line x1="251.99" y1="459.50" x2="251.99" y2="466.50" stroke="#e2584a" stroke-width="1.1"/>
<circle cx="226.89" cy="463.00" r="0.9" fill="#f9dad5" stroke="#e2584a" stroke-width="0.4" opacity="0.8"/>
<circle cx="280.67" cy="463.00" r="0.9" fill="#f9dad5" stroke="#e2584a" stroke-width="0.4" opacity="0.8"/>
<line x1="310.92" y1="473.53" x2="316.08" y2="473.53" stroke="#55bdd6" stroke-width="0.6"/>
<line x1="325.49" y1="473.53" x2="332.21" y2="473.53" stroke="#55bdd6" stroke-width="0.6"/>
<rect x="316.08" y="470.03" width="9.41" height="7.00" fill="#dff2f7" stroke="#55bdd6" stroke-width="0.6"/>
<line x1="320.34" y1="470.03" x2="320.34" y2="477.03" stroke="#55bdd6" stroke-width="1.1"/>
<circle cx="310.92" cy="473.53" r="0.9" fill="#dff2f7" stroke="#55bdd6" stroke-width="0.4" opacity="0.8"/>
<circle cx="332.21" cy="473.53" r="0.9" fill="#dff2f7" stroke="#55bdd6" stroke-width="0.4" opacity="0.8"/>
<rect x="224.20" y="457.84" width="117.42" height="21.96" fill="none" stroke="#222" stroke-width="0.9"/>
<line x1="222.40" y1="463.00" x2="224.20" y2="463.00" stroke="#333" stroke-width="0.6"/>
<line x1="222.40" y1="473.53" x2="224.20" y2="473.53" stroke="#333" stroke-width="0.6"/>
<path d="M332.66 463.00 H334.86 V473.53 H332.66" fill="none" stroke="#222" stroke-width="0.7"/>
<text x="337.82" y="471.67" font-size="6.050000000000001" text-anchor="middle" font-weight="bold" fill="#222">*</text>
<line x1="248.18" y1="479.80" x2="248.18" y2="481.60" stroke="#333" stroke-width="0.6"/>
<text x="248.18" y="489.35" font-size="5.4" text-anchor="middle" fill="#333">0.4</text>
<line x1="280.00" y1="479.80" x2="280.00" y2="481.60" stroke="#333" stroke-width="0.6"/>
<text x="280.00" y="489.35" font-size="5.4" text-anchor="middle" fill="#333">0.6</text>
<line x1="310.92" y1="479.80" x2="310.92" y2="481.60" stroke="#333" stroke-width="0.6"/>
<text x="310.92" y="489.35" font-size="5.4" text-anchor="middle" fill="#333">0.8</text>
<line x1="341.62" y1="479.80" x2="341.62" y2="481.60" stroke="#333" stroke-width="0.6"/>
<text x="341.62" y="489.35" font-size="5.4" text-anchor="middle" fill="#333">1.0</text>
<text x="216.10" y="468.60" font-size="6.3" text-anchor="middle" fill="#222" transform="rotate(-90 216.0985574229692 468.59943977591035)">MCF-7</text>
<text x="282.91" y="496.64" font-size="6.3" text-anchor="middle" fill="#222">Relative expression of FYN in nuclear</text>
<rect x="244.15" y="549.34" width="5.15" height="4.20" fill="#dff2f7" stroke="#55bdd6" stroke-width="0.5"/>
<line x1="243.15" y1="551.44" x2="250.30" y2="551.44" stroke="#55bdd6" stroke-width="0.5"/>
<line x1="246.72" y1="549.34" x2="246.72" y2="553.54" stroke="#55bdd6" stroke-width="0.7"/>
<text x="251.99" y="553.70" font-size="6.27" text-anchor="start" fill="#333">CLDN6+Vector</text>
<rect x="297.93" y="549.34" width="5.15" height="4.20" fill="#f9dad5" stroke="#e2584a" stroke-width="0.5"/>
<line x1="296.93" y1="551.44" x2="304.08" y2="551.44" stroke="#e2584a" stroke-width="0.5"/>
<line x1="300.50" y1="549.34" x2="300.50" y2="553.54" stroke="#e2584a" stroke-width="0.7"/>
<text x="305.32" y="553.70" font-size="6.27" text-anchor="start" fill="#333">CLDN6+PBK</text>
<line x1="276.41" y1="556.37" x2="276.41" y2="600.07" stroke="#f0f0f0" stroke-width="0.5"/>
<line x1="300.50" y1="556.37" x2="300.50" y2="600.07" stroke="#f0f0f0" stroke-width="0.5"/>
<line x1="324.37" y1="556.37" x2="324.37" y2="600.07" stroke="#f0f0f0" stroke-width="0.5"/>
<line x1="252.21" y1="556.37" x2="252.21" y2="600.07" stroke="#f0f0f0" stroke-width="0.5"/>
<line x1="264.31" y1="556.37" x2="264.31" y2="600.07" stroke="#e3e3e3" stroke-width="0.7"/>
<line x1="288.52" y1="556.37" x2="288.52" y2="600.07" stroke="#e3e3e3" stroke-width="0.7"/>
<line x1="312.49" y1="556.37" x2="312.49" y2="600.07" stroke="#e3e3e3" stroke-width="0.7"/>
<line x1="336.25" y1="556.37" x2="336.25" y2="600.07" stroke="#e3e3e3" stroke-width="0.7"/>
<line x1="242.58" y1="561.97" x2="341.62" y2="561.97" stroke="#e3e3e3" stroke-width="0.7"/>
<line x1="242.58" y1="567.58" x2="341.62" y2="567.58" stroke="#e3e3e3" stroke-width="0.7"/>
<line x1="242.58" y1="575.42" x2="341.62" y2="575.42" stroke="#e3e3e3" stroke-width="0.7"/>
<line x1="242.58" y1="581.47" x2="341.62" y2="581.47" stroke="#e3e3e3" stroke-width="0.7"/>
<line x1="242.58" y1="589.54" x2="341.62" y2="589.54" stroke="#e3e3e3" stroke-width="0.7"/>
<line x1="242.58" y1="594.92" x2="341.62" y2="594.92" stroke="#e3e3e3" stroke-width="0.7"/>
<line x1="256.02" y1="561.97" x2="262.30" y2="561.97" stroke="#e2584a" stroke-width="0.6"/>
<line x1="268.35" y1="561.97" x2="269.47" y2="561.97" stroke="#e2584a" stroke-width="0.6"/>
<rect x="262.30" y="558.47" width="6.05" height="7.00" fill="#f9dad5" stroke="#e2584a" stroke-width="0.6"/>
<line x1="264.99" y1="558.47" x2="264.99" y2="565.47" stroke="#e2584a" stroke-width="1.1"/>
<circle cx="256.02" cy="561.97" r="0.9" fill="#f9dad5" stroke="#e2584a" stroke-width="0.4" opacity="0.8"/>
<circle cx="269.47" cy="561.97" r="0.9" fill="#f9dad5" stroke="#e2584a" stroke-width="0.4" opacity="0.8"/>
<line x1="245.94" y1="567.58" x2="247.51" y2="567.58" stroke="#55bdd6" stroke-width="0.6"/>
<line x1="252.66" y1="567.58" x2="253.78" y2="567.58" stroke="#55bdd6" stroke-width="0.6"/>
<rect x="247.51" y="564.08" width="5.15" height="7.00" fill="#dff2f7" stroke="#55bdd6" stroke-width="0.6"/>
<line x1="249.75" y1="564.08" x2="249.75" y2="571.08" stroke="#55bdd6" stroke-width="1.1"/>
<circle cx="245.94" cy="567.58" r="0.9" fill="#dff2f7" stroke="#55bdd6" stroke-width="0.4" opacity="0.8"/>
<circle cx="253.78" cy="567.58" r="0.9" fill="#dff2f7" stroke="#55bdd6" stroke-width="0.4" opacity="0.8"/>
<line x1="321.01" y1="575.42" x2="326.16" y2="575.42" stroke="#e2584a" stroke-width="0.6"/>
<line x1="332.21" y1="575.42" x2="333.33" y2="575.42" stroke="#e2584a" stroke-width="0.6"/>
<rect x="326.16" y="571.92" width="6.05" height="7.00" fill="#f9dad5" stroke="#e2584a" stroke-width="0.6"/>
<line x1="328.85" y1="571.92" x2="328.85" y2="578.92" stroke="#e2584a" stroke-width="1.1"/>
<circle cx="321.01" cy="575.42" r="0.9" fill="#f9dad5" stroke="#e2584a" stroke-width="0.4" opacity="0.8"/>
<circle cx="333.33" cy="575.42" r="0.9" fill="#f9dad5" stroke="#e2584a" stroke-width="0.4" opacity="0.8"/>
<line x1="248.85" y1="581.47" x2="252.66" y2="581.47" stroke="#55bdd6" stroke-width="0.6"/>
<line x1="263.42" y1="581.47" x2="267.23" y2="581.47" stroke="#55bdd6" stroke-width="0.6"/>
<rect x="252.66" y="577.97" width="10.76" height="7.00" fill="#dff2f7" stroke="#55bdd6" stroke-width="0.6"/>
<line x1="257.82" y1="577.97" x2="257.82" y2="584.97" stroke="#55bdd6" stroke-width="1.1"/>
<circle cx="248.85" cy="581.47" r="0.9" fill="#dff2f7" stroke="#55bdd6" stroke-width="0.4" opacity="0.8"/>
<circle cx="267.23" cy="581.47" r="0.9" fill="#dff2f7" stroke="#55bdd6" stroke-width="0.4" opacity="0.8"/>
<line x1="263.87" y1="589.54" x2="264.31" y2="589.54" stroke="#e2584a" stroke-width="0.6"/>
<line x1="267.23" y1="589.54" x2="268.35" y2="589.54" stroke="#e2584a" stroke-width="0.6"/>
<rect x="264.31" y="586.04" width="2.91" height="7.00" fill="#f9dad5" stroke="#e2584a" stroke-width="0.6"/>
<line x1="265.66" y1="586.04" x2="265.66" y2="593.04" stroke="#e2584a" stroke-width="1.1"/>
<circle cx="263.87" cy="589.54" r="0.9" fill="#f9dad5" stroke="#e2584a" stroke-width="0.4" opacity="0.8"/>
<circle cx="268.35" cy="589.54" r="0.9" fill="#f9dad5" stroke="#e2584a" stroke-width="0.4" opacity="0.8"/>
<line x1="244.82" y1="594.92" x2="249.30" y2="594.92" stroke="#55bdd6" stroke-width="0.6"/>
<line x1="256.02" y1="594.92" x2="257.14" y2="594.92" stroke="#55bdd6" stroke-width="0.6"/>
<rect x="249.30" y="591.42" width="6.72" height="7.00" fill="#dff2f7" stroke="#55bdd6" stroke-width="0.6"/>
<line x1="252.66" y1="591.42" x2="252.66" y2="598.42" stroke="#55bdd6" stroke-width="1.1"/>
<circle cx="244.82" cy="594.92" r="0.9" fill="#dff2f7" stroke="#55bdd6" stroke-width="0.4" opacity="0.8"/>
<circle cx="257.14" cy="594.92" r="0.9" fill="#dff2f7" stroke="#55bdd6" stroke-width="0.4" opacity="0.8"/>
<rect x="242.58" y="556.37" width="99.05" height="43.70" fill="none" stroke="#222" stroke-width="0.9"/>
<line x1="240.78" y1="561.97" x2="242.58" y2="561.97" stroke="#333" stroke-width="0.6"/>
<line x1="240.78" y1="567.58" x2="242.58" y2="567.58" stroke="#333" stroke-width="0.6"/>
<line x1="240.78" y1="575.42" x2="242.58" y2="575.42" stroke="#333" stroke-width="0.6"/>
<line x1="240.78" y1="581.47" x2="242.58" y2="581.47" stroke="#333" stroke-width="0.6"/>
<line x1="240.78" y1="589.54" x2="242.58" y2="589.54" stroke="#333" stroke-width="0.6"/>
<line x1="240.78" y1="594.92" x2="242.58" y2="594.92" stroke="#333" stroke-width="0.6"/>
<path d="M270.59 561.97 H272.79 V567.58 H270.59" fill="none" stroke="#222" stroke-width="0.7"/>
<text x="276.19" y="568.19" font-size="6.050000000000001" text-anchor="middle" font-weight="bold" fill="#222">*</text>
<path d="M333.33 575.42 H335.53 V581.47 H333.33" fill="none" stroke="#222" stroke-width="0.7"/>
<text x="336.96" y="578.45" font-size="5.5" text-anchor="middle" font-weight="bold" fill="#222" transform="rotate(90 336.9555742296918 578.4453781512605)">***</text>
<path d="M269.92 589.54 H272.12 V594.92 H269.92" fill="none" stroke="#222" stroke-width="0.7"/>
<text x="275.07" y="595.64" font-size="6.050000000000001" text-anchor="middle" font-weight="bold" fill="#222">*</text>
<line x1="264.31" y1="600.07" x2="264.31" y2="601.87" stroke="#333" stroke-width="0.6"/>
<text x="264.31" y="609.94" font-size="6.3" text-anchor="middle" fill="#333">1.0</text>
<line x1="288.52" y1="600.07" x2="288.52" y2="601.87" stroke="#333" stroke-width="0.6"/>
<text x="288.52" y="609.94" font-size="6.3" text-anchor="middle" fill="#333">1.5</text>
<line x1="312.49" y1="600.07" x2="312.49" y2="601.87" stroke="#333" stroke-width="0.6"/>
<text x="312.49" y="609.94" font-size="6.3" text-anchor="middle" fill="#333">2.0</text>
<line x1="336.25" y1="600.07" x2="336.25" y2="601.87" stroke="#333" stroke-width="0.6"/>
<text x="336.25" y="609.94" font-size="6.3" text-anchor="middle" fill="#333">2.5</text>
<text x="216.34" y="578.78" font-size="7.0" text-anchor="middle" fill="#222" transform="rotate(-90 216.34355742296918 578.781512605042)">MDA-MB-231</text>
<text x="239.58" y="567.48" font-size="7.2" text-anchor="end" fill="#222">GPX4</text>
<text x="239.58" y="581.37" font-size="7.2" text-anchor="end" fill="#222">G6PD</text>
<text x="239.58" y="594.82" font-size="7.2" text-anchor="end" fill="#222">NRF2</text>
<line x1="282.69" y1="612.39" x2="282.69" y2="656.09" stroke="#f0f0f0" stroke-width="0.5"/>
<line x1="312.04" y1="612.39" x2="312.04" y2="656.09" stroke="#f0f0f0" stroke-width="0.5"/>
<line x1="253.11" y1="612.39" x2="253.11" y2="656.09" stroke="#f0f0f0" stroke-width="0.5"/>
<line x1="341.40" y1="612.39" x2="341.40" y2="656.09" stroke="#f0f0f0" stroke-width="0.5"/>
<line x1="267.90" y1="612.39" x2="267.90" y2="656.09" stroke="#e3e3e3" stroke-width="0.7"/>
<line x1="297.48" y1="612.39" x2="297.48" y2="656.09" stroke="#e3e3e3" stroke-width="0.7"/>
<line x1="326.61" y1="612.39" x2="326.61" y2="656.09" stroke="#e3e3e3" stroke-width="0.7"/>
<line x1="242.58" y1="617.32" x2="341.62" y2="617.32" stroke="#e3e3e3" stroke-width="0.7"/>
<line x1="242.58" y1="622.93" x2="341.62" y2="622.93" stroke="#e3e3e3" stroke-width="0.7"/>
<line x1="242.58" y1="631.44" x2="341.62" y2="631.44" stroke="#e3e3e3" stroke-width="0.7"/>
<line x1="242.58" y1="636.60" x2="341.62" y2="636.60" stroke="#e3e3e3" stroke-width="0.7"/>
<line x1="242.58" y1="645.34" x2="341.62" y2="645.34" stroke="#e3e3e3" stroke-width="0.7"/>
<line x1="242.58" y1="650.49" x2="341.62" y2="650.49" stroke="#e3e3e3" stroke-width="0.7"/>
<line x1="263.87" y1="617.32" x2="264.31" y2="617.32" stroke="#e2584a" stroke-width="0.6"/>
<line x1="267.23" y1="617.32" x2="267.68" y2="617.32" stroke="#e2584a" stroke-width="0.6"/>
<rect x="264.31" y="613.82" width="2.91" height="7.00" fill="#f9dad5" stroke="#e2584a" stroke-width="0.6"/>
<line x1="265.66" y1="613.82" x2="265.66" y2="620.82" stroke="#e2584a" stroke-width="1.1"/>
<circle cx="263.87" cy="617.32" r="0.9" fill="#f9dad5" stroke="#e2584a" stroke-width="0.4" opacity="0.8"/>
<circle cx="267.68" cy="617.32" r="0.9" fill="#f9dad5" stroke="#e2584a" stroke-width="0.4" opacity="0.8"/>
<line x1="254.90" y1="622.93" x2="257.14" y2="622.93" stroke="#55bdd6" stroke-width="0.6"/>
<line x1="260.50" y1="622.93" x2="261.62" y2="622.93" stroke="#55bdd6" stroke-width="0.6"/>
<rect x="257.14" y="619.43" width="3.36" height="7.00" fill="#dff2f7" stroke="#55bdd6" stroke-width="0.6"/>
<line x1="258.71" y1="619.43" x2="258.71" y2="626.43" stroke="#55bdd6" stroke-width="1.1"/>
<circle cx="254.90" cy="622.93" r="0.9" fill="#dff2f7" stroke="#55bdd6" stroke-width="0.4" opacity="0.8"/>
<circle cx="261.62" cy="622.93" r="0.9" fill="#dff2f7" stroke="#55bdd6" stroke-width="0.4" opacity="0.8"/>
<line x1="306.44" y1="631.44" x2="316.53" y2="631.44" stroke="#e2584a" stroke-width="0.6"/>
<line x1="329.97" y1="631.44" x2="333.33" y2="631.44" stroke="#e2584a" stroke-width="0.6"/>
<rect x="316.53" y="627.94" width="13.45" height="7.00" fill="#f9dad5" stroke="#e2584a" stroke-width="0.6"/>
<line x1="326.61" y1="627.94" x2="326.61" y2="634.94" stroke="#e2584a" stroke-width="1.1"/>
<circle cx="306.44" cy="631.44" r="0.9" fill="#f9dad5" stroke="#e2584a" stroke-width="0.4" opacity="0.8"/>
<circle cx="333.33" cy="631.44" r="0.9" fill="#f9dad5" stroke="#e2584a" stroke-width="0.4" opacity="0.8"/>
<line x1="264.99" y1="636.60" x2="277.31" y2="636.60" stroke="#55bdd6" stroke-width="0.6"/>
<line x1="294.12" y1="636.60" x2="301.96" y2="636.60" stroke="#55bdd6" stroke-width="0.6"/>
<rect x="277.31" y="633.10" width="16.81" height="7.00" fill="#dff2f7" stroke="#55bdd6" stroke-width="0.6"/>
<line x1="289.19" y1="633.10" x2="289.19" y2="640.10" stroke="#55bdd6" stroke-width="1.1"/>
<circle cx="264.99" cy="636.60" r="0.9" fill="#dff2f7" stroke="#55bdd6" stroke-width="0.4" opacity="0.8"/>
<circle cx="301.96" cy="636.60" r="0.9" fill="#dff2f7" stroke="#55bdd6" stroke-width="0.4" opacity="0.8"/>
<line x1="260.50" y1="645.34" x2="260.95" y2="645.34" stroke="#e2584a" stroke-width="0.6"/>
<line x1="264.31" y1="645.34" x2="264.99" y2="645.34" stroke="#e2584a" stroke-width="0.6"/>
<rect x="260.95" y="641.84" width="3.36" height="7.00" fill="#f9dad5" stroke="#e2584a" stroke-width="0.6"/>
<line x1="262.75" y1="641.84" x2="262.75" y2="648.84" stroke="#e2584a" stroke-width="1.1"/>
<circle cx="260.50" cy="645.34" r="0.9" fill="#f9dad5" stroke="#e2584a" stroke-width="0.4" opacity="0.8"/>
<circle cx="264.99" cy="645.34" r="0.9" fill="#f9dad5" stroke="#e2584a" stroke-width="0.4" opacity="0.8"/>
<line x1="244.82" y1="650.49" x2="249.30" y2="650.49" stroke="#55bdd6" stroke-width="0.6"/>
<line x1="254.90" y1="650.49" x2="256.02" y2="650.49" stroke="#55bdd6" stroke-width="0.6"/>
<rect x="249.30" y="646.99" width="5.60" height="7.00" fill="#dff2f7" stroke="#55bdd6" stroke-width="0.6"/>
<line x1="252.66" y1="646.99" x2="252.66" y2="653.99" stroke="#55bdd6" stroke-width="1.1"/>
<circle cx="244.82" cy="650.49" r="0.9" fill="#dff2f7" stroke="#55bdd6" stroke-width="0.4" opacity="0.8"/>
<circle cx="256.02" cy="650.49" r="0.9" fill="#dff2f7" stroke="#55bdd6" stroke-width="0.4" opacity="0.8"/>
<rect x="242.58" y="612.39" width="99.05" height="43.70" fill="none" stroke="#222" stroke-width="0.9"/>
<line x1="240.78" y1="617.32" x2="242.58" y2="617.32" stroke="#333" stroke-width="0.6"/>
<line x1="240.78" y1="622.93" x2="242.58" y2="622.93" stroke="#333" stroke-width="0.6"/>
<line x1="240.78" y1="631.44" x2="242.58" y2="631.44" stroke="#333" stroke-width="0.6"/>
<line x1="240.78" y1="636.60" x2="242.58" y2="636.60" stroke="#333" stroke-width="0.6"/>
<line x1="240.78" y1="645.34" x2="242.58" y2="645.34" stroke="#333" stroke-width="0.6"/>
<line x1="240.78" y1="650.49" x2="242.58" y2="650.49" stroke="#333" stroke-width="0.6"/>
<path d="M267.23 617.32 H269.43 V622.93 H267.23" fill="none" stroke="#222" stroke-width="0.7"/>
<text x="272.83" y="623.54" font-size="6.050000000000001" text-anchor="middle" font-weight="bold" fill="#222">*</text>
<path d="M333.33 631.44 H335.53 V636.60 H333.33" fill="none" stroke="#222" stroke-width="0.7"/>
<text x="338.94" y="637.43" font-size="6.050000000000001" text-anchor="middle" font-weight="bold" fill="#222">*</text>
<path d="M264.99 645.34 H267.19 V650.49 H264.99" fill="none" stroke="#222" stroke-width="0.7"/>
<text x="270.14" y="651.32" font-size="6.050000000000001" text-anchor="middle" font-weight="bold" fill="#222">*</text>
<line x1="267.90" y1="656.09" x2="267.90" y2="657.89" stroke="#333" stroke-width="0.6"/>
<text x="267.90" y="665.96" font-size="6.3" text-anchor="middle" fill="#333">1</text>
<line x1="297.48" y1="656.09" x2="297.48" y2="657.89" stroke="#333" stroke-width="0.6"/>
<text x="297.48" y="665.96" font-size="6.3" text-anchor="middle" fill="#333">2</text>
<line x1="326.61" y1="656.09" x2="326.61" y2="657.89" stroke="#333" stroke-width="0.6"/>
<text x="326.61" y="665.96" font-size="6.3" text-anchor="middle" fill="#333">3</text>
<text x="216.34" y="634.36" font-size="7.0" text-anchor="middle" fill="#222" transform="rotate(-90 216.34355742296918 634.3557422969187)">MCF-7</text>
<text x="239.58" y="622.83" font-size="7.2" text-anchor="end" fill="#222">GPX4</text>
<text x="239.58" y="636.95" font-size="7.2" text-anchor="end" fill="#222">G6PD</text>
<text x="239.58" y="650.39" font-size="7.2" text-anchor="end" fill="#222">NRF2</text>
<text x="291.88" y="674.39" font-size="7.25" text-anchor="middle" fill="#222">Relative expression of proteins</text>
<rect x="240.34" y="703.59" width="5.15" height="4.20" fill="#dff2f7" stroke="#55bdd6" stroke-width="0.5"/>
<line x1="239.34" y1="705.69" x2="246.49" y2="705.69" stroke="#55bdd6" stroke-width="0.5"/>
<line x1="242.91" y1="703.59" x2="242.91" y2="707.79" stroke="#55bdd6" stroke-width="0.7"/>
<text x="248.18" y="707.70" font-size="5.6" text-anchor="start" fill="#333">CLDN6+PBK</text>
<rect x="283.36" y="703.59" width="5.15" height="4.20" fill="#f9dad5" stroke="#e2584a" stroke-width="0.5"/>
<line x1="282.36" y1="705.69" x2="289.52" y2="705.69" stroke="#e2584a" stroke-width="0.5"/>
<line x1="285.94" y1="703.59" x2="285.94" y2="707.79" stroke="#e2584a" stroke-width="0.7"/>
<text x="291.88" y="707.70" font-size="5.6" text-anchor="start" fill="#333">CLDN6+PBK+ML385</text>
<line x1="251.09" y1="710.62" x2="251.09" y2="743.78" stroke="#f0f0f0" stroke-width="0.5"/>
<line x1="264.54" y1="710.62" x2="264.54" y2="743.78" stroke="#f0f0f0" stroke-width="0.5"/>
<line x1="277.98" y1="710.62" x2="277.98" y2="743.78" stroke="#f0f0f0" stroke-width="0.5"/>
<line x1="291.43" y1="710.62" x2="291.43" y2="743.78" stroke="#f0f0f0" stroke-width="0.5"/>
<line x1="304.87" y1="710.62" x2="304.87" y2="743.78" stroke="#f0f0f0" stroke-width="0.5"/>
<line x1="318.54" y1="710.62" x2="318.54" y2="743.78" stroke="#f0f0f0" stroke-width="0.5"/>
<line x1="332.44" y1="710.62" x2="332.44" y2="743.78" stroke="#f0f0f0" stroke-width="0.5"/>
<line x1="244.37" y1="710.62" x2="244.37" y2="743.78" stroke="#e3e3e3" stroke-width="0.7"/>
<line x1="257.82" y1="710.62" x2="257.82" y2="743.78" stroke="#e3e3e3" stroke-width="0.7"/>
<line x1="271.26" y1="710.62" x2="271.26" y2="743.78" stroke="#e3e3e3" stroke-width="0.7"/>
<line x1="284.71" y1="710.62" x2="284.71" y2="743.78" stroke="#e3e3e3" stroke-width="0.7"/>
<line x1="298.15" y1="710.62" x2="298.15" y2="743.78" stroke="#e3e3e3" stroke-width="0.7"/>
<line x1="311.60" y1="710.62" x2="311.60" y2="743.78" stroke="#e3e3e3" stroke-width="0.7"/>
<line x1="325.49" y1="710.62" x2="325.49" y2="743.78" stroke="#e3e3e3" stroke-width="0.7"/>
<line x1="339.38" y1="710.62" x2="339.38" y2="743.78" stroke="#e3e3e3" stroke-width="0.7"/>
<line x1="239.22" y1="715.10" x2="341.62" y2="715.10" stroke="#e3e3e3" stroke-width="0.7"/>
<line x1="239.22" y1="718.68" x2="341.62" y2="718.68" stroke="#e3e3e3" stroke-width="0.7"/>
<line x1="239.22" y1="725.41" x2="341.62" y2="725.41" stroke="#e3e3e3" stroke-width="0.7"/>
<line x1="239.22" y1="729.22" x2="341.62" y2="729.22" stroke="#e3e3e3" stroke-width="0.7"/>
<line x1="239.22" y1="735.49" x2="341.62" y2="735.49" stroke="#e3e3e3" stroke-width="0.7"/>
<line x1="239.22" y1="739.30" x2="341.62" y2="739.30" stroke="#e3e3e3" stroke-width="0.7"/>
<line x1="257.82" y1="715.10" x2="263.87" y2="715.10" stroke="#e2584a" stroke-width="0.6"/>
<line x1="269.92" y1="715.10" x2="270.59" y2="715.10" stroke="#e2584a" stroke-width="0.6"/>
<rect x="263.87" y="713.10" width="6.05" height="4.00" fill="#f9dad5" stroke="#e2584a" stroke-width="0.6"/>
<line x1="265.43" y1="713.10" x2="265.43" y2="717.10" stroke="#e2584a" stroke-width="1.1"/>
<circle cx="257.82" cy="715.10" r="0.9" fill="#f9dad5" stroke="#e2584a" stroke-width="0.4" opacity="0.8"/>
<circle cx="270.59" cy="715.10" r="0.9" fill="#f9dad5" stroke="#e2584a" stroke-width="0.4" opacity="0.8"/>
<line x1="289.64" y1="718.68" x2="293.67" y2="718.68" stroke="#55bdd6" stroke-width="0.6"/>
<line x1="315.41" y1="718.68" x2="332.21" y2="718.68" stroke="#55bdd6" stroke-width="0.6"/>
<rect x="293.67" y="716.68" width="21.74" height="4.00" fill="#dff2f7" stroke="#55bdd6" stroke-width="0.6"/>
<line x1="296.81" y1="716.68" x2="296.81" y2="720.68" stroke="#55bdd6" stroke-width="1.1"/>
<circle cx="289.64" cy="718.68" r="0.9" fill="#dff2f7" stroke="#55bdd6" stroke-width="0.4" opacity="0.8"/>
<circle cx="332.21" cy="718.68" r="0.9" fill="#dff2f7" stroke="#55bdd6" stroke-width="0.4" opacity="0.8"/>
<line x1="280.00" y1="725.41" x2="280.22" y2="725.41" stroke="#e2584a" stroke-width="0.6"/>
<line x1="281.12" y1="725.41" x2="281.34" y2="725.41" stroke="#e2584a" stroke-width="0.6"/>
<rect x="280.22" y="723.41" width="0.90" height="4.00" fill="#f9dad5" stroke="#e2584a" stroke-width="0.6"/>
<line x1="280.67" y1="723.41" x2="280.67" y2="727.41" stroke="#e2584a" stroke-width="1.1"/>
<circle cx="280.00" cy="725.41" r="0.9" fill="#f9dad5" stroke="#e2584a" stroke-width="0.4" opacity="0.8"/>
<circle cx="281.34" cy="725.41" r="0.9" fill="#f9dad5" stroke="#e2584a" stroke-width="0.4" opacity="0.8"/>
<line x1="295.24" y1="729.22" x2="295.24" y2="729.22" stroke="#55bdd6" stroke-width="0.6"/>
<line x1="303.53" y1="729.22" x2="313.17" y2="729.22" stroke="#55bdd6" stroke-width="0.6"/>
<rect x="295.24" y="727.22" width="8.29" height="4.00" fill="#dff2f7" stroke="#55bdd6" stroke-width="0.6"/>
<line x1="296.81" y1="727.22" x2="296.81" y2="731.22" stroke="#55bdd6" stroke-width="1.1"/>
<circle cx="295.24" cy="729.22" r="0.9" fill="#dff2f7" stroke="#55bdd6" stroke-width="0.4" opacity="0.8"/>
<circle cx="313.17" cy="729.22" r="0.9" fill="#dff2f7" stroke="#55bdd6" stroke-width="0.4" opacity="0.8"/>
<line x1="241.46" y1="735.49" x2="251.54" y2="735.49" stroke="#e2584a" stroke-width="0.6"/>
<line x1="262.75" y1="735.49" x2="264.99" y2="735.49" stroke="#e2584a" stroke-width="0.6"/>
<rect x="251.54" y="733.49" width="11.20" height="4.00" fill="#f9dad5" stroke="#e2584a" stroke-width="0.6"/>
<line x1="260.50" y1="733.49" x2="260.50" y2="737.49" stroke="#e2584a" stroke-width="1.1"/>
<circle cx="241.46" cy="735.49" r="0.9" fill="#f9dad5" stroke="#e2584a" stroke-width="0.4" opacity="0.8"/>
<circle cx="264.99" cy="735.49" r="0.9" fill="#f9dad5" stroke="#e2584a" stroke-width="0.4" opacity="0.8"/>
<line x1="279.55" y1="739.30" x2="282.46" y2="739.30" stroke="#55bdd6" stroke-width="0.6"/>
<line x1="288.07" y1="739.30" x2="291.88" y2="739.30" stroke="#55bdd6" stroke-width="0.6"/>
<rect x="282.46" y="737.30" width="5.60" height="4.00" fill="#dff2f7" stroke="#55bdd6" stroke-width="0.6"/>
<line x1="284.71" y1="737.30" x2="284.71" y2="741.30" stroke="#55bdd6" stroke-width="1.1"/>
<circle cx="279.55" cy="739.30" r="0.9" fill="#dff2f7" stroke="#55bdd6" stroke-width="0.4" opacity="0.8"/>
<circle cx="291.88" cy="739.30" r="0.9" fill="#dff2f7" stroke="#55bdd6" stroke-width="0.4" opacity="0.8"/>
<rect x="239.22" y="710.62" width="102.41" height="33.17" fill="none" stroke="#222" stroke-width="0.9"/>
<line x1="237.42" y1="715.10" x2="239.22" y2="715.10" stroke="#333" stroke-width="0.6"/>
<line x1="237.42" y1="718.68" x2="239.22" y2="718.68" stroke="#333" stroke-width="0.6"/>
<line x1="237.42" y1="725.41" x2="239.22" y2="725.41" stroke="#333" stroke-width="0.6"/>
<line x1="237.42" y1="729.22" x2="239.22" y2="729.22" stroke="#333" stroke-width="0.6"/>
<line x1="237.42" y1="735.49" x2="239.22" y2="735.49" stroke="#333" stroke-width="0.6"/>
<line x1="237.42" y1="739.30" x2="239.22" y2="739.30" stroke="#333" stroke-width="0.6"/>
<path d="M332.89 715.10 H335.09 V718.68 H332.89" fill="none" stroke="#222" stroke-width="0.7"/>
<text x="338.49" y="720.30" font-size="6.050000000000001" text-anchor="middle" font-weight="bold" fill="#222">*</text>
<path d="M313.17 725.41 H315.37 V729.22 H313.17" fill="none" stroke="#222" stroke-width="0.7"/>
<text x="318.32" y="730.72" font-size="6.050000000000001" text-anchor="middle" font-weight="bold" fill="#222">*</text>
<path d="M291.88 735.49 H294.08 V739.30 H291.88" fill="none" stroke="#222" stroke-width="0.7"/>
<text x="297.03" y="740.80" font-size="6.050000000000001" text-anchor="middle" font-weight="bold" fill="#222">*</text>
<line x1="244.37" y1="743.78" x2="244.37" y2="745.58" stroke="#333" stroke-width="0.6"/>
<text x="244.37" y="753.40" font-size="5.6" text-anchor="middle" fill="#333">0.2</text>
<line x1="257.82" y1="743.78" x2="257.82" y2="745.58" stroke="#333" stroke-width="0.6"/>
<text x="257.82" y="753.40" font-size="5.6" text-anchor="middle" fill="#333">0.4</text>
<line x1="271.26" y1="743.78" x2="271.26" y2="745.58" stroke="#333" stroke-width="0.6"/>
<text x="271.26" y="753.40" font-size="5.6" text-anchor="middle" fill="#333">0.6</text>
<line x1="284.71" y1="743.78" x2="284.71" y2="745.58" stroke="#333" stroke-width="0.6"/>
<text x="284.71" y="753.40" font-size="5.6" text-anchor="middle" fill="#333">0.8</text>
<line x1="298.15" y1="743.78" x2="298.15" y2="745.58" stroke="#333" stroke-width="0.6"/>
<text x="298.15" y="753.40" font-size="5.6" text-anchor="middle" fill="#333">1.0</text>
<line x1="311.60" y1="743.78" x2="311.60" y2="745.58" stroke="#333" stroke-width="0.6"/>
<text x="311.60" y="753.40" font-size="5.6" text-anchor="middle" fill="#333">1.2</text>
<line x1="325.49" y1="743.78" x2="325.49" y2="745.58" stroke="#333" stroke-width="0.6"/>
<text x="325.49" y="753.40" font-size="5.6" text-anchor="middle" fill="#333">1.4</text>
<line x1="339.38" y1="743.78" x2="339.38" y2="745.58" stroke="#333" stroke-width="0.6"/>
<text x="339.38" y="753.40" font-size="5.6" text-anchor="middle" fill="#333">1.6</text>
<text x="216.10" y="726.97" font-size="6.3" text-anchor="middle" fill="#222" transform="rotate(-90 216.0985574229692 726.9747899159664)">MDA-MB-231</text>
<text x="236.22" y="719.46" font-size="5.9" text-anchor="end" fill="#222">GPX4</text>
<text x="236.22" y="729.55" font-size="5.9" text-anchor="end" fill="#222">G6PD</text>
<text x="236.22" y="739.63" font-size="5.9" text-anchor="end" fill="#222">NRF2</text>
<line x1="252.32" y1="754.54" x2="252.32" y2="787.48" stroke="#f0f0f0" stroke-width="0.5"/>
<line x1="268.68" y1="754.54" x2="268.68" y2="787.48" stroke="#f0f0f0" stroke-width="0.5"/>
<line x1="285.15" y1="754.54" x2="285.15" y2="787.48" stroke="#f0f0f0" stroke-width="0.5"/>
<line x1="301.62" y1="754.54" x2="301.62" y2="787.48" stroke="#f0f0f0" stroke-width="0.5"/>
<line x1="317.98" y1="754.54" x2="317.98" y2="787.48" stroke="#f0f0f0" stroke-width="0.5"/>
<line x1="334.34" y1="754.54" x2="334.34" y2="787.48" stroke="#f0f0f0" stroke-width="0.5"/>
<line x1="244.15" y1="754.54" x2="244.15" y2="787.48" stroke="#e3e3e3" stroke-width="0.7"/>
<line x1="260.50" y1="754.54" x2="260.50" y2="787.48" stroke="#e3e3e3" stroke-width="0.7"/>
<line x1="276.86" y1="754.54" x2="276.86" y2="787.48" stroke="#e3e3e3" stroke-width="0.7"/>
<line x1="293.45" y1="754.54" x2="293.45" y2="787.48" stroke="#e3e3e3" stroke-width="0.7"/>
<line x1="309.80" y1="754.54" x2="309.80" y2="787.48" stroke="#e3e3e3" stroke-width="0.7"/>
<line x1="326.16" y1="754.54" x2="326.16" y2="787.48" stroke="#e3e3e3" stroke-width="0.7"/>
<line x1="239.22" y1="759.02" x2="341.62" y2="759.02" stroke="#e3e3e3" stroke-width="0.7"/>
<line x1="239.22" y1="762.83" x2="341.62" y2="762.83" stroke="#e3e3e3" stroke-width="0.7"/>
<line x1="239.22" y1="769.10" x2="341.62" y2="769.10" stroke="#e3e3e3" stroke-width="0.7"/>
<line x1="239.22" y1="772.91" x2="341.62" y2="772.91" stroke="#e3e3e3" stroke-width="0.7"/>
<line x1="239.22" y1="779.19" x2="341.62" y2="779.19" stroke="#e3e3e3" stroke-width="0.7"/>
<line x1="239.22" y1="783.00" x2="341.62" y2="783.00" stroke="#e3e3e3" stroke-width="0.7"/>
<line x1="262.75" y1="759.02" x2="266.55" y2="759.02" stroke="#e2584a" stroke-width="0.6"/>
<line x1="275.52" y1="759.02" x2="280.67" y2="759.02" stroke="#e2584a" stroke-width="0.6"/>
<rect x="266.55" y="757.02" width="8.96" height="4.00" fill="#f9dad5" stroke="#e2584a" stroke-width="0.6"/>
<line x1="271.04" y1="757.02" x2="271.04" y2="761.02" stroke="#e2584a" stroke-width="1.1"/>
<circle cx="262.75" cy="759.02" r="0.9" fill="#f9dad5" stroke="#e2584a" stroke-width="0.4" opacity="0.8"/>
<circle cx="280.67" cy="759.02" r="0.9" fill="#f9dad5" stroke="#e2584a" stroke-width="0.4" opacity="0.8"/>
<line x1="297.48" y1="762.83" x2="298.60" y2="762.83" stroke="#55bdd6" stroke-width="0.6"/>
<line x1="315.41" y1="762.83" x2="332.21" y2="762.83" stroke="#55bdd6" stroke-width="0.6"/>
<rect x="298.60" y="760.83" width="16.81" height="4.00" fill="#dff2f7" stroke="#55bdd6" stroke-width="0.6"/>
<line x1="299.72" y1="760.83" x2="299.72" y2="764.83" stroke="#55bdd6" stroke-width="1.1"/>
<circle cx="297.48" cy="762.83" r="0.9" fill="#dff2f7" stroke="#55bdd6" stroke-width="0.4" opacity="0.8"/>
<circle cx="332.21" cy="762.83" r="0.9" fill="#dff2f7" stroke="#55bdd6" stroke-width="0.4" opacity="0.8"/>
<line x1="241.46" y1="769.10" x2="244.82" y2="769.10" stroke="#e2584a" stroke-width="0.6"/>
<line x1="251.54" y1="769.10" x2="257.14" y2="769.10" stroke="#e2584a" stroke-width="0.6"/>
<rect x="244.82" y="767.10" width="6.72" height="4.00" fill="#f9dad5" stroke="#e2584a" stroke-width="0.6"/>
<line x1="247.06" y1="767.10" x2="247.06" y2="771.10" stroke="#e2584a" stroke-width="1.1"/>
<circle cx="241.46" cy="769.10" r="0.9" fill="#f9dad5" stroke="#e2584a" stroke-width="0.4" opacity="0.8"/>
<circle cx="257.14" cy="769.10" r="0.9" fill="#f9dad5" stroke="#e2584a" stroke-width="0.4" opacity="0.8"/>
<line x1="285.15" y1="772.91" x2="286.27" y2="772.91" stroke="#55bdd6" stroke-width="0.6"/>
<line x1="291.88" y1="772.91" x2="292.32" y2="772.91" stroke="#55bdd6" stroke-width="0.6"/>
<rect x="286.27" y="770.91" width="5.60" height="4.00" fill="#dff2f7" stroke="#55bdd6" stroke-width="0.6"/>
<line x1="289.19" y1="770.91" x2="289.19" y2="774.91" stroke="#55bdd6" stroke-width="1.1"/>
<circle cx="285.15" cy="772.91" r="0.9" fill="#dff2f7" stroke="#55bdd6" stroke-width="0.4" opacity="0.8"/>
<circle cx="292.32" cy="772.91" r="0.9" fill="#dff2f7" stroke="#55bdd6" stroke-width="0.4" opacity="0.8"/>
<line x1="242.13" y1="779.19" x2="242.58" y2="779.19" stroke="#e2584a" stroke-width="0.6"/>
<line x1="247.73" y1="779.19" x2="252.66" y2="779.19" stroke="#e2584a" stroke-width="0.6"/>
<rect x="242.58" y="777.19" width="5.15" height="4.00" fill="#f9dad5" stroke="#e2584a" stroke-width="0.6"/>
<line x1="244.82" y1="777.19" x2="244.82" y2="781.19" stroke="#e2584a" stroke-width="1.1"/>
<circle cx="242.13" cy="779.19" r="0.9" fill="#f9dad5" stroke="#e2584a" stroke-width="0.4" opacity="0.8"/>
<circle cx="252.66" cy="779.19" r="0.9" fill="#f9dad5" stroke="#e2584a" stroke-width="0.4" opacity="0.8"/>
<line x1="273.95" y1="783.00" x2="278.43" y2="783.00" stroke="#55bdd6" stroke-width="0.6"/>
<line x1="285.83" y1="783.00" x2="291.88" y2="783.00" stroke="#55bdd6" stroke-width="0.6"/>
<rect x="278.43" y="781.00" width="7.39" height="4.00" fill="#dff2f7" stroke="#55bdd6" stroke-width="0.6"/>
<line x1="281.79" y1="781.00" x2="281.79" y2="785.00" stroke="#55bdd6" stroke-width="1.1"/>
<circle cx="273.95" cy="783.00" r="0.9" fill="#dff2f7" stroke="#55bdd6" stroke-width="0.4" opacity="0.8"/>
<circle cx="291.88" cy="783.00" r="0.9" fill="#dff2f7" stroke="#55bdd6" stroke-width="0.4" opacity="0.8"/>
<rect x="239.22" y="754.54" width="102.41" height="32.94" fill="none" stroke="#222" stroke-width="0.9"/>
<line x1="237.42" y1="759.02" x2="239.22" y2="759.02" stroke="#333" stroke-width="0.6"/>
<line x1="237.42" y1="762.83" x2="239.22" y2="762.83" stroke="#333" stroke-width="0.6"/>
<line x1="237.42" y1="769.10" x2="239.22" y2="769.10" stroke="#333" stroke-width="0.6"/>
<line x1="237.42" y1="772.91" x2="239.22" y2="772.91" stroke="#333" stroke-width="0.6"/>
<line x1="237.42" y1="779.19" x2="239.22" y2="779.19" stroke="#333" stroke-width="0.6"/>
<line x1="237.42" y1="783.00" x2="239.22" y2="783.00" stroke="#333" stroke-width="0.6"/>
<path d="M332.89 759.02 H335.09 V762.83 H332.89" fill="none" stroke="#222" stroke-width="0.7"/>
<text x="338.49" y="764.33" font-size="6.050000000000001" text-anchor="middle" font-weight="bold" fill="#222">*</text>
<path d="M293.67 769.10 H295.87 V772.91 H293.67" fill="none" stroke="#222" stroke-width="0.7"/>
<text x="296.62" y="771.01" font-size="5.5" text-anchor="middle" font-weight="bold" fill="#222" transform="rotate(90 296.61943977591034 771.0084033613446)">**</text>
<path d="M289.64 779.19 H291.84 V783.00 H289.64" fill="none" stroke="#222" stroke-width="0.7"/>
<text x="292.81" y="781.09" font-size="5.5" text-anchor="middle" font-weight="bold" fill="#222" transform="rotate(90 292.80991596638654 781.09243697479)">**</text>
<line x1="244.15" y1="787.48" x2="244.15" y2="789.28" stroke="#333" stroke-width="0.6"/>
<text x="244.15" y="797.09" font-size="5.6" text-anchor="middle" fill="#333">0.4</text>
<line x1="260.50" y1="787.48" x2="260.50" y2="789.28" stroke="#333" stroke-width="0.6"/>
<text x="260.50" y="797.09" font-size="5.6" text-anchor="middle" fill="#333">0.6</text>
<line x1="276.86" y1="787.48" x2="276.86" y2="789.28" stroke="#333" stroke-width="0.6"/>
<text x="276.86" y="797.09" font-size="5.6" text-anchor="middle" fill="#333">0.8</text>
<line x1="293.45" y1="787.48" x2="293.45" y2="789.28" stroke="#333" stroke-width="0.6"/>
<text x="293.45" y="797.09" font-size="5.6" text-anchor="middle" fill="#333">1.0</text>
<line x1="309.80" y1="787.48" x2="309.80" y2="789.28" stroke="#333" stroke-width="0.6"/>
<text x="309.80" y="797.09" font-size="5.6" text-anchor="middle" fill="#333">1.2</text>
<line x1="326.16" y1="787.48" x2="326.16" y2="789.28" stroke="#333" stroke-width="0.6"/>
<text x="326.16" y="797.09" font-size="5.6" text-anchor="middle" fill="#333">1.4</text>
<text x="216.10" y="770.67" font-size="6.3" text-anchor="middle" fill="#222" transform="rotate(-90 216.0985574229692 770.672268907563)">MCF-7</text>
<text x="236.22" y="762.94" font-size="5.9" text-anchor="end" fill="#222">GPX4</text>
<text x="236.22" y="773.24" font-size="5.9" text-anchor="end" fill="#222">G6PD</text>
<text x="236.22" y="783.33" font-size="5.9" text-anchor="end" fill="#222">NRF2</text>
<text x="290.76" y="804.31" font-size="6.3" text-anchor="middle" fill="#222">Relative expression of proteins</text>
<rect x="579.36" y="241.82" width="6.84" height="4.20" fill="#dff2f7" stroke="#55bdd6" stroke-width="0.5"/>
<line x1="578.36" y1="243.92" x2="587.20" y2="243.92" stroke="#55bdd6" stroke-width="0.5"/>
<line x1="582.78" y1="241.82" x2="582.78" y2="246.02" stroke="#55bdd6" stroke-width="0.7"/>
<text x="587.91" y="245.94" font-size="5.6" text-anchor="start" fill="#333">CLDN6+Vector</text>
<rect x="628.24" y="241.82" width="5.81" height="4.20" fill="#f9dad5" stroke="#e2584a" stroke-width="0.5"/>
<line x1="627.24" y1="243.92" x2="635.05" y2="243.92" stroke="#e2584a" stroke-width="0.5"/>
<line x1="631.14" y1="241.82" x2="631.14" y2="246.02" stroke="#e2584a" stroke-width="0.7"/>
<text x="635.76" y="245.94" font-size="5.6" text-anchor="start" fill="#333">CLDN6+PBK</text>
<line x1="593.72" y1="249.05" x2="593.72" y2="271.26" stroke="#f0f0f0" stroke-width="0.5"/>
<line x1="621.06" y1="249.05" x2="621.06" y2="271.26" stroke="#f0f0f0" stroke-width="0.5"/>
<line x1="648.91" y1="249.05" x2="648.91" y2="271.26" stroke="#f0f0f0" stroke-width="0.5"/>
<line x1="566.38" y1="249.05" x2="566.38" y2="271.26" stroke="#f0f0f0" stroke-width="0.5"/>
<line x1="676.77" y1="249.05" x2="676.77" y2="271.26" stroke="#f0f0f0" stroke-width="0.5"/>
<line x1="580.05" y1="249.05" x2="580.05" y2="271.26" stroke="#e3e3e3" stroke-width="0.7"/>
<line x1="607.39" y1="249.05" x2="607.39" y2="271.26" stroke="#e3e3e3" stroke-width="0.7"/>
<line x1="634.73" y1="249.05" x2="634.73" y2="271.26" stroke="#e3e3e3" stroke-width="0.7"/>
<line x1="663.10" y1="249.05" x2="663.10" y2="271.26" stroke="#e3e3e3" stroke-width="0.7"/>
<line x1="563.98" y1="255.20" x2="680.18" y2="255.20" stroke="#e3e3e3" stroke-width="0.7"/>
<line x1="563.98" y1="266.14" x2="680.18" y2="266.14" stroke="#e3e3e3" stroke-width="0.7"/>
<line x1="621.40" y1="255.20" x2="645.32" y2="255.20" stroke="#e2584a" stroke-width="0.6"/>
<line x1="669.93" y1="255.20" x2="670.96" y2="255.20" stroke="#e2584a" stroke-width="0.6"/>
<rect x="645.32" y="251.95" width="24.61" height="6.50" fill="#f9dad5" stroke="#e2584a" stroke-width="0.6"/>
<line x1="668.22" y1="251.95" x2="668.22" y2="258.45" stroke="#e2584a" stroke-width="1.1"/>
<circle cx="621.40" cy="255.20" r="0.9" fill="#f9dad5" stroke="#e2584a" stroke-width="0.4" opacity="0.8"/>
<circle cx="670.96" cy="255.20" r="0.9" fill="#f9dad5" stroke="#e2584a" stroke-width="0.4" opacity="0.8"/>
<line x1="566.72" y1="266.14" x2="580.39" y2="266.14" stroke="#55bdd6" stroke-width="0.6"/>
<line x1="597.48" y1="266.14" x2="601.58" y2="266.14" stroke="#55bdd6" stroke-width="0.6"/>
<rect x="580.39" y="262.89" width="17.09" height="6.50" fill="#dff2f7" stroke="#55bdd6" stroke-width="0.6"/>
<line x1="593.03" y1="262.89" x2="593.03" y2="269.39" stroke="#55bdd6" stroke-width="1.1"/>
<circle cx="566.72" cy="266.14" r="0.9" fill="#dff2f7" stroke="#55bdd6" stroke-width="0.4" opacity="0.8"/>
<circle cx="601.58" cy="266.14" r="0.9" fill="#dff2f7" stroke="#55bdd6" stroke-width="0.4" opacity="0.8"/>
<rect x="563.98" y="249.05" width="116.20" height="22.21" fill="none" stroke="#222" stroke-width="0.9"/>
<line x1="562.18" y1="255.20" x2="563.98" y2="255.20" stroke="#333" stroke-width="0.6"/>
<line x1="562.18" y1="266.14" x2="563.98" y2="266.14" stroke="#333" stroke-width="0.6"/>
<path d="M671.64 255.20 H673.84 V266.14 H671.64" fill="none" stroke="#222" stroke-width="0.7"/>
<text x="677.45" y="264.08" font-size="6.050000000000001" text-anchor="middle" font-weight="bold" fill="#222">*</text>
<line x1="580.05" y1="271.26" x2="580.05" y2="273.06" stroke="#333" stroke-width="0.6"/>
<text x="580.05" y="280.81" font-size="5.4" text-anchor="middle" fill="#333">0.4</text>
<line x1="607.39" y1="271.26" x2="607.39" y2="273.06" stroke="#333" stroke-width="0.6"/>
<text x="607.39" y="280.81" font-size="5.4" text-anchor="middle" fill="#333">0.6</text>
<line x1="634.73" y1="271.26" x2="634.73" y2="273.06" stroke="#333" stroke-width="0.6"/>
<text x="634.73" y="280.81" font-size="5.4" text-anchor="middle" fill="#333">0.8</text>
<line x1="663.10" y1="271.26" x2="663.10" y2="273.06" stroke="#333" stroke-width="0.6"/>
<text x="663.10" y="280.81" font-size="5.4" text-anchor="middle" fill="#333">1.0</text>
<text x="554.91" y="261.01" font-size="6.3" text-anchor="middle" fill="#222" transform="rotate(-90 554.9117669172932 261.0116199589884)">MDA-MB-231</text>
<line x1="591.33" y1="284.25" x2="591.33" y2="306.12" stroke="#f0f0f0" stroke-width="0.5"/>
<line x1="618.67" y1="284.25" x2="618.67" y2="306.12" stroke="#f0f0f0" stroke-width="0.5"/>
<line x1="646.52" y1="284.25" x2="646.52" y2="306.12" stroke="#f0f0f0" stroke-width="0.5"/>
<line x1="674.37" y1="284.25" x2="674.37" y2="306.12" stroke="#f0f0f0" stroke-width="0.5"/>
<line x1="577.66" y1="284.25" x2="577.66" y2="306.12" stroke="#e3e3e3" stroke-width="0.7"/>
<line x1="605.00" y1="284.25" x2="605.00" y2="306.12" stroke="#e3e3e3" stroke-width="0.7"/>
<line x1="632.34" y1="284.25" x2="632.34" y2="306.12" stroke="#e3e3e3" stroke-width="0.7"/>
<line x1="660.70" y1="284.25" x2="660.70" y2="306.12" stroke="#e3e3e3" stroke-width="0.7"/>
<line x1="563.98" y1="290.06" x2="680.18" y2="290.06" stroke="#e3e3e3" stroke-width="0.7"/>
<line x1="563.98" y1="301.00" x2="680.18" y2="301.00" stroke="#e3e3e3" stroke-width="0.7"/>
<line x1="614.57" y1="290.06" x2="639.17" y2="290.06" stroke="#e2584a" stroke-width="0.6"/>
<line x1="668.22" y1="290.06" x2="671.64" y2="290.06" stroke="#e2584a" stroke-width="0.6"/>
<rect x="639.17" y="286.81" width="29.05" height="6.50" fill="#f9dad5" stroke="#e2584a" stroke-width="0.6"/>
<line x1="665.49" y1="286.81" x2="665.49" y2="293.31" stroke="#e2584a" stroke-width="1.1"/>
<circle cx="614.57" cy="290.06" r="0.9" fill="#f9dad5" stroke="#e2584a" stroke-width="0.4" opacity="0.8"/>
<circle cx="671.64" cy="290.06" r="0.9" fill="#f9dad5" stroke="#e2584a" stroke-width="0.4" opacity="0.8"/>
<line x1="566.72" y1="301.00" x2="572.53" y2="301.00" stroke="#55bdd6" stroke-width="0.6"/>
<line x1="579.36" y1="301.00" x2="581.07" y2="301.00" stroke="#55bdd6" stroke-width="0.6"/>
<rect x="572.53" y="297.75" width="6.84" height="6.50" fill="#dff2f7" stroke="#55bdd6" stroke-width="0.6"/>
<line x1="576.97" y1="297.75" x2="576.97" y2="304.25" stroke="#55bdd6" stroke-width="1.1"/>
<circle cx="566.72" cy="301.00" r="0.9" fill="#dff2f7" stroke="#55bdd6" stroke-width="0.4" opacity="0.8"/>
<circle cx="581.07" cy="301.00" r="0.9" fill="#dff2f7" stroke="#55bdd6" stroke-width="0.4" opacity="0.8"/>
<rect x="563.98" y="284.25" width="116.20" height="21.87" fill="none" stroke="#222" stroke-width="0.9"/>
<line x1="562.18" y1="290.06" x2="563.98" y2="290.06" stroke="#333" stroke-width="0.6"/>
<line x1="562.18" y1="301.00" x2="563.98" y2="301.00" stroke="#333" stroke-width="0.6"/>
<path d="M672.32 290.06 H674.52 V301.00 H672.32" fill="none" stroke="#222" stroke-width="0.7"/>
<text x="677.45" y="298.94" font-size="6.050000000000001" text-anchor="middle" font-weight="bold" fill="#222">*</text>
<line x1="577.66" y1="306.12" x2="577.66" y2="307.92" stroke="#333" stroke-width="0.6"/>
<text x="577.66" y="315.67" font-size="5.4" text-anchor="middle" fill="#333">0.6</text>
<line x1="605.00" y1="306.12" x2="605.00" y2="307.92" stroke="#333" stroke-width="0.6"/>
<text x="605.00" y="315.67" font-size="5.4" text-anchor="middle" fill="#333">0.8</text>
<line x1="632.34" y1="306.12" x2="632.34" y2="307.92" stroke="#333" stroke-width="0.6"/>
<text x="632.34" y="315.67" font-size="5.4" text-anchor="middle" fill="#333">1.0</text>
<line x1="660.70" y1="306.12" x2="660.70" y2="307.92" stroke="#333" stroke-width="0.6"/>
<text x="660.70" y="315.67" font-size="5.4" text-anchor="middle" fill="#333">1.2</text>
<text x="554.91" y="295.19" font-size="6.3" text-anchor="middle" fill="#222" transform="rotate(-90 554.9117669172932 295.187969924812)">MCF-7</text>
<text x="622.08" y="323.09" font-size="6.3" text-anchor="middle" fill="#222">Relative expression of NRF2  in nuclear</text>
<text x="355.30" y="20.20" font-size="16.5" text-anchor="start" fill="#000">C</text>
<text x="378.50" y="26.80" font-size="6.8" text-anchor="middle" fill="#333">PBK</text>
<text x="377.70" y="42.50" font-size="6.8" text-anchor="middle" fill="#333">β-actin</text>
<rect x="400.00" y="20.00" width="134.50" height="9.00" fill="#e8e8e8" stroke="#7d7d7d" stroke-width="0.7"/>
<path d="M399.97 24.80 C400.46 23.49 400.94 23.49 401.59 23.49 L411.81 23.49 C412.46 23.49 412.94 23.49 413.43 24.80 C412.94 26.11 412.46 26.11 411.81 26.11 L401.59 26.11 C400.94 26.11 400.46 26.11 399.97 24.80Z" fill="#1f1f1f" filter="url(#bl)"/>
<path d="M416.27 24.80 C416.76 23.49 417.24 23.49 417.89 23.49 L428.11 23.49 C428.76 23.49 429.24 23.49 429.73 24.80 C429.24 26.11 428.76 26.11 428.11 26.11 L417.89 26.11 C417.24 26.11 416.76 26.11 416.27 24.80Z" fill="#3f3f3f" filter="url(#bl)"/>
<path d="M433.47 24.80 C433.96 23.49 434.44 23.49 435.09 23.49 L445.31 23.49 C445.96 23.49 446.44 23.49 446.93 24.80 C446.44 26.11 445.96 26.11 445.31 26.11 L435.09 26.11 C434.44 26.11 433.96 26.11 433.47 24.80Z" fill="#505050" filter="url(#bl)"/>
<path d="M450.27 24.80 C450.76 23.49 451.24 23.49 451.89 23.49 L462.11 23.49 C462.76 23.49 463.24 23.49 463.73 24.80 C463.24 26.11 462.76 26.11 462.11 26.11 L451.89 26.11 C451.24 26.11 450.76 26.11 450.27 24.80Z" fill="#757575" filter="url(#bl)"/>
<path d="M466.77 24.80 C467.26 23.49 467.74 23.49 468.39 23.49 L478.61 23.49 C479.26 23.49 479.74 23.49 480.23 24.80 C479.74 26.11 479.26 26.11 478.61 26.11 L468.39 26.11 C467.74 26.11 467.26 26.11 466.77 24.80Z" fill="#262626" filter="url(#bl)"/>
<path d="M483.67 23.80 C484.16 22.49 484.64 22.49 485.29 22.49 L495.51 22.49 C496.16 22.49 496.64 22.49 497.12 23.80 C496.64 25.11 496.16 25.11 495.51 25.11 L485.29 25.11 C484.64 25.11 484.16 25.11 483.67 23.80Z" fill="#6a6a6a" filter="url(#bl)"/>
<path d="M500.27 24.80 C500.76 23.49 501.24 23.49 501.89 23.49 L512.11 23.49 C512.76 23.49 513.24 23.49 513.73 24.80 C513.24 26.11 512.76 26.11 512.11 26.11 L501.89 26.11 C501.24 26.11 500.76 26.11 500.27 24.80Z" fill="#949494" filter="url(#bl)"/>
<path d="M517.77 24.80 C518.26 23.49 518.74 23.49 519.39 23.49 L529.61 23.49 C530.26 23.49 530.74 23.49 531.23 24.80 C530.74 26.11 530.26 26.11 529.61 26.11 L519.39 26.11 C518.74 26.11 518.26 26.11 517.77 24.80Z" fill="#bbbbbb" filter="url(#bl)"/>
<rect x="400.00" y="35.00" width="134.50" height="9.00" fill="#e4e4e4" stroke="#7d7d7d" stroke-width="0.7"/>
<path d="M399.97 39.80 C400.46 38.32 400.94 38.32 401.59 38.32 L411.81 38.32 C412.46 38.32 412.94 38.32 413.43 39.80 C412.94 41.28 412.46 41.28 411.81 41.28 L401.59 41.28 C400.94 41.28 400.46 41.28 399.97 39.80Z" fill="#101010" filter="url(#bl)"/>
<path d="M416.27 39.80 C416.76 38.32 417.24 38.32 417.89 38.32 L428.11 38.32 C428.76 38.32 429.24 38.32 429.73 39.80 C429.24 41.28 428.76 41.28 428.11 41.28 L417.89 41.28 C417.24 41.28 416.76 41.28 416.27 39.80Z" fill="#101010" filter="url(#bl)"/>
<path d="M433.47 39.80 C433.96 38.32 434.44 38.32 435.09 38.32 L445.31 38.32 C445.96 38.32 446.44 38.32 446.93 39.80 C446.44 41.28 445.96 41.28 445.31 41.28 L435.09 41.28 C434.44 41.28 433.96 41.28 433.47 39.80Z" fill="#101010" filter="url(#bl)"/>
<path d="M450.27 39.80 C450.76 38.32 451.24 38.32 451.89 38.32 L462.11 38.32 C462.76 38.32 463.24 38.32 463.73 39.80 C463.24 41.28 462.76 41.28 462.11 41.28 L451.89 41.28 C451.24 41.28 450.76 41.28 450.27 39.80Z" fill="#101010" filter="url(#bl)"/>
<path d="M466.77 39.80 C467.26 38.32 467.74 38.32 468.39 38.32 L478.61 38.32 C479.26 38.32 479.74 38.32 480.23 39.80 C479.74 41.28 479.26 41.28 478.61 41.28 L468.39 41.28 C467.74 41.28 467.26 41.28 466.77 39.80Z" fill="#101010" filter="url(#bl)"/>
<path d="M483.67 39.80 C484.16 38.32 484.64 38.32 485.29 38.32 L495.51 38.32 C496.16 38.32 496.64 38.32 497.12 39.80 C496.64 41.28 496.16 41.28 495.51 41.28 L485.29 41.28 C484.64 41.28 484.16 41.28 483.67 39.80Z" fill="#101010" filter="url(#bl)"/>
<path d="M500.27 39.80 C500.76 38.32 501.24 38.32 501.89 38.32 L512.11 38.32 C512.76 38.32 513.24 38.32 513.73 39.80 C513.24 41.28 512.76 41.28 512.11 41.28 L501.89 41.28 C501.24 41.28 500.76 41.28 500.27 39.80Z" fill="#101010" filter="url(#bl)"/>
<path d="M517.77 39.80 C518.26 38.32 518.74 38.32 519.39 38.32 L529.61 38.32 C530.26 38.32 530.74 38.32 531.23 39.80 C530.74 41.28 530.26 41.28 529.61 41.28 L519.39 41.28 C518.74 41.28 518.26 41.28 517.77 39.80Z" fill="#101010" filter="url(#bl)"/>
<text x="377.50" y="52.75" font-size="6.3" text-anchor="middle" font-weight="bold" fill="#111">CLDN6</text>
<text x="377.50" y="62.75" font-size="6.3" text-anchor="middle" font-weight="bold" font-style="italic" fill="#111">CHX(h)</text>
<text x="406.70" y="52.11" font-size="6.5" text-anchor="middle" font-weight="bold" fill="#111">-</text>
<text x="423.00" y="52.11" font-size="6.5" text-anchor="middle" font-weight="bold" fill="#111">-</text>
<text x="440.20" y="52.11" font-size="6.5" text-anchor="middle" font-weight="bold" fill="#111">-</text>
<text x="457.00" y="52.11" font-size="6.5" text-anchor="middle" font-weight="bold" fill="#111">-</text>
<text x="473.50" y="52.34" font-size="6.5" text-anchor="middle" font-weight="bold" fill="#111">+</text>
<text x="490.40" y="52.34" font-size="6.5" text-anchor="middle" font-weight="bold" fill="#111">+</text>
<text x="507.00" y="52.34" font-size="6.5" text-anchor="middle" font-weight="bold" fill="#111">+</text>
<text x="524.50" y="52.34" font-size="6.5" text-anchor="middle" font-weight="bold" fill="#111">+</text>
<text x="406.70" y="62.40" font-size="6.5" text-anchor="middle" font-weight="bold" fill="#111">0</text>
<text x="423.00" y="62.40" font-size="6.5" text-anchor="middle" font-weight="bold" fill="#111">4</text>
<text x="440.20" y="62.40" font-size="6.5" text-anchor="middle" font-weight="bold" fill="#111">8</text>
<text x="457.00" y="62.40" font-size="6.5" text-anchor="middle" font-weight="bold" fill="#111">12</text>
<text x="473.50" y="62.40" font-size="6.5" text-anchor="middle" font-weight="bold" fill="#111">0</text>
<text x="490.40" y="62.40" font-size="6.5" text-anchor="middle" font-weight="bold" fill="#111">4</text>
<text x="507.00" y="62.40" font-size="6.5" text-anchor="middle" font-weight="bold" fill="#111">8</text>
<text x="524.50" y="62.40" font-size="6.5" text-anchor="middle" font-weight="bold" fill="#111">12</text>
<line x1="410.00" y1="67.50" x2="521.00" y2="67.50" stroke="#555" stroke-width="0.8"/>
<text x="466.00" y="78.10" font-size="6.2" text-anchor="middle" font-weight="bold" fill="#111">MDA-MB-231</text>
<text x="378.50" y="93.00" font-size="6.8" text-anchor="middle" fill="#333">PBK</text>
<text x="377.70" y="109.50" font-size="6.8" text-anchor="middle" fill="#333">β-actin</text>
<rect x="400.00" y="86.00" width="134.50" height="8.50" fill="#e8e8e8" stroke="#7d7d7d" stroke-width="0.7"/>
<path d="M399.97 90.55 C400.46 89.24 400.94 89.24 401.59 89.24 L411.81 89.24 C412.46 89.24 412.94 89.24 413.43 90.55 C412.94 91.86 412.46 91.86 411.81 91.86 L401.59 91.86 C400.94 91.86 400.46 91.86 399.97 90.55Z" fill="#2a2a2a" filter="url(#bl)"/>
<path d="M416.27 90.55 C416.76 89.24 417.24 89.24 417.89 89.24 L428.11 89.24 C428.76 89.24 429.24 89.24 429.73 90.55 C429.24 91.86 428.76 91.86 428.11 91.86 L417.89 91.86 C417.24 91.86 416.76 91.86 416.27 90.55Z" fill="#353535" filter="url(#bl)"/>
<path d="M433.47 90.55 C433.96 89.24 434.44 89.24 435.09 89.24 L445.31 89.24 C445.96 89.24 446.44 89.24 446.93 90.55 C446.44 91.86 445.96 91.86 445.31 91.86 L435.09 91.86 C434.44 91.86 433.96 91.86 433.47 90.55Z" fill="#3b3b3b" filter="url(#bl)"/>
<path d="M450.27 90.55 C450.76 89.24 451.24 89.24 451.89 89.24 L462.11 89.24 C462.76 89.24 463.24 89.24 463.73 90.55 C463.24 91.86 462.76 91.86 462.11 91.86 L451.89 91.86 C451.24 91.86 450.76 91.86 450.27 90.55Z" fill="#3f3f3f" filter="url(#bl)"/>
<path d="M466.77 90.55 C467.26 89.24 467.74 89.24 468.39 89.24 L478.61 89.24 C479.26 89.24 479.74 89.24 480.23 90.55 C479.74 91.86 479.26 91.86 478.61 91.86 L468.39 91.86 C467.74 91.86 467.26 91.86 466.77 90.55Z" fill="#444444" filter="url(#bl)"/>
<path d="M483.67 90.55 C484.16 89.24 484.64 89.24 485.29 89.24 L495.51 89.24 C496.16 89.24 496.64 89.24 497.12 90.55 C496.64 91.86 496.16 91.86 495.51 91.86 L485.29 91.86 C484.64 91.86 484.16 91.86 483.67 90.55Z" fill="#7f7f7f" filter="url(#bl)"/>
<path d="M500.27 90.55 C500.76 89.24 501.24 89.24 501.89 89.24 L512.11 89.24 C512.76 89.24 513.24 89.24 513.73 90.55 C513.24 91.86 512.76 91.86 512.11 91.86 L501.89 91.86 C501.24 91.86 500.76 91.86 500.27 90.55Z" fill="#9f9f9f" filter="url(#bl)"/>
<path d="M517.77 90.55 C518.26 89.24 518.74 89.24 519.39 89.24 L529.61 89.24 C530.26 89.24 530.74 89.24 531.23 90.55 C530.74 91.86 530.26 91.86 529.61 91.86 L519.39 91.86 C518.74 91.86 518.26 91.86 517.77 90.55Z" fill="#a5a5a5" filter="url(#bl)"/>
<rect x="400.00" y="102.00" width="134.50" height="9.00" fill="#e4e4e4" stroke="#7d7d7d" stroke-width="0.7"/>
<path d="M399.97 106.80 C400.46 105.32 400.94 105.32 401.59 105.32 L411.81 105.32 C412.46 105.32 412.94 105.32 413.43 106.80 C412.94 108.28 412.46 108.28 411.81 108.28 L401.59 108.28 C400.94 108.28 400.46 108.28 399.97 106.80Z" fill="#0e0e0e" filter="url(#bl)"/>
<path d="M416.27 106.80 C416.76 105.32 417.24 105.32 417.89 105.32 L428.11 105.32 C428.76 105.32 429.24 105.32 429.73 106.80 C429.24 108.28 428.76 108.28 428.11 108.28 L417.89 108.28 C417.24 108.28 416.76 108.28 416.27 106.80Z" fill="#0e0e0e" filter="url(#bl)"/>
<path d="M433.47 106.80 C433.96 105.32 434.44 105.32 435.09 105.32 L445.31 105.32 C445.96 105.32 446.44 105.32 446.93 106.80 C446.44 108.28 445.96 108.28 445.31 108.28 L435.09 108.28 C434.44 108.28 433.96 108.28 433.47 106.80Z" fill="#0e0e0e" filter="url(#bl)"/>
<path d="M450.27 106.80 C450.76 105.32 451.24 105.32 451.89 105.32 L462.11 105.32 C462.76 105.32 463.24 105.32 463.73 106.80 C463.24 108.28 462.76 108.28 462.11 108.28 L451.89 108.28 C451.24 108.28 450.76 108.28 450.27 106.80Z" fill="#0e0e0e" filter="url(#bl)"/>
<path d="M466.77 106.80 C467.26 105.32 467.74 105.32 468.39 105.32 L478.61 105.32 C479.26 105.32 479.74 105.32 480.23 106.80 C479.74 108.28 479.26 108.28 478.61 108.28 L468.39 108.28 C467.74 108.28 467.26 108.28 466.77 106.80Z" fill="#0e0e0e" filter="url(#bl)"/>
<path d="M483.67 106.80 C484.16 105.32 484.64 105.32 485.29 105.32 L495.51 105.32 C496.16 105.32 496.64 105.32 497.12 106.80 C496.64 108.28 496.16 108.28 495.51 108.28 L485.29 108.28 C484.64 108.28 484.16 108.28 483.67 106.80Z" fill="#0e0e0e" filter="url(#bl)"/>
<path d="M500.27 106.80 C500.76 105.32 501.24 105.32 501.89 105.32 L512.11 105.32 C512.76 105.32 513.24 105.32 513.73 106.80 C513.24 108.28 512.76 108.28 512.11 108.28 L501.89 108.28 C501.24 108.28 500.76 108.28 500.27 106.80Z" fill="#0e0e0e" filter="url(#bl)"/>
<path d="M517.77 106.80 C518.26 105.32 518.74 105.32 519.39 105.32 L529.61 105.32 C530.26 105.32 530.74 105.32 531.23 106.80 C530.74 108.28 530.26 108.28 529.61 108.28 L519.39 108.28 C518.74 108.28 518.26 108.28 517.77 106.80Z" fill="#0e0e0e" filter="url(#bl)"/>
<text x="377.50" y="119.75" font-size="6.3" text-anchor="middle" font-weight="bold" fill="#111">CLDN6</text>
<text x="377.50" y="129.75" font-size="6.3" text-anchor="middle" font-weight="bold" font-style="italic" fill="#111">CHX(h)</text>
<text x="406.70" y="119.11" font-size="6.5" text-anchor="middle" font-weight="bold" fill="#111">-</text>
<text x="423.00" y="119.11" font-size="6.5" text-anchor="middle" font-weight="bold" fill="#111">-</text>
<text x="440.20" y="119.11" font-size="6.5" text-anchor="middle" font-weight="bold" fill="#111">-</text>
<text x="457.00" y="119.11" font-size="6.5" text-anchor="middle" font-weight="bold" fill="#111">-</text>
<text x="473.50" y="119.34" font-size="6.5" text-anchor="middle" font-weight="bold" fill="#111">+</text>
<text x="490.40" y="119.34" font-size="6.5" text-anchor="middle" font-weight="bold" fill="#111">+</text>
<text x="507.00" y="119.34" font-size="6.5" text-anchor="middle" font-weight="bold" fill="#111">+</text>
<text x="524.50" y="119.34" font-size="6.5" text-anchor="middle" font-weight="bold" fill="#111">+</text>
<text x="406.70" y="129.40" font-size="6.5" text-anchor="middle" font-weight="bold" fill="#111">0</text>
<text x="423.00" y="129.40" font-size="6.5" text-anchor="middle" font-weight="bold" fill="#111">4</text>
<text x="440.20" y="129.40" font-size="6.5" text-anchor="middle" font-weight="bold" fill="#111">8</text>
<text x="457.00" y="129.40" font-size="6.5" text-anchor="middle" font-weight="bold" fill="#111">12</text>
<text x="473.50" y="129.40" font-size="6.5" text-anchor="middle" font-weight="bold" fill="#111">0</text>
<text x="490.40" y="129.40" font-size="6.5" text-anchor="middle" font-weight="bold" fill="#111">4</text>
<text x="507.00" y="129.40" font-size="6.5" text-anchor="middle" font-weight="bold" fill="#111">8</text>
<text x="524.50" y="129.40" font-size="6.5" text-anchor="middle" font-weight="bold" fill="#111">12</text>
<line x1="410.00" y1="133.50" x2="521.00" y2="133.50" stroke="#555" stroke-width="0.8"/>
<text x="465.00" y="146.30" font-size="6.5" text-anchor="middle" font-weight="bold" fill="#111">MCF-7</text>
<rect x="378.44" y="155.21" width="62.26" height="61.00" fill="#fff" stroke="none" stroke-width="0.8"/>
<line x1="392.59" y1="155.21" x2="392.59" y2="216.21" stroke="#e6e6e6" stroke-width="0.5"/>
<line x1="406.75" y1="155.21" x2="406.75" y2="216.21" stroke="#e6e6e6" stroke-width="0.5"/>
<line x1="420.90" y1="155.21" x2="420.90" y2="216.21" stroke="#e6e6e6" stroke-width="0.5"/>
<line x1="435.05" y1="155.21" x2="435.05" y2="216.21" stroke="#e6e6e6" stroke-width="0.5"/>
<line x1="378.44" y1="166.30" x2="440.71" y2="166.30" stroke="#e6e6e6" stroke-width="0.5"/>
<line x1="378.44" y1="177.39" x2="440.71" y2="177.39" stroke="#e6e6e6" stroke-width="0.5"/>
<line x1="378.44" y1="188.48" x2="440.71" y2="188.48" stroke="#e6e6e6" stroke-width="0.5"/>
<line x1="378.44" y1="199.57" x2="440.71" y2="199.57" stroke="#e6e6e6" stroke-width="0.5"/>
<line x1="378.44" y1="210.67" x2="440.71" y2="210.67" stroke="#e6e6e6" stroke-width="0.5"/>
<path d="M378.44 155.21 V216.21 H440.71" fill="none" stroke="#222" stroke-width="0.9"/>
<line x1="440.71" y1="155.21" x2="440.71" y2="216.21" stroke="#888" stroke-width="0.4"/>
<line x1="378.44" y1="155.21" x2="440.71" y2="155.21" stroke="#888" stroke-width="0.4"/>
<line x1="383.23" y1="167.81" x2="436.17" y2="193.02" stroke="#5cc3da" stroke-width="1.1"/>
<line x1="383.23" y1="168.32" x2="436.17" y2="206.38" stroke="#e8705e" stroke-width="1.1"/>
<line x1="383.23" y1="165.81" x2="383.23" y2="169.81" stroke="#9fdbe8" stroke-width="0.4"/>
<circle cx="383.23" cy="167.81" r="1.1" fill="#5cc3da"/>
<line x1="400.88" y1="172.87" x2="400.88" y2="176.87" stroke="#9fdbe8" stroke-width="0.4"/>
<circle cx="400.88" cy="174.87" r="1.1" fill="#5cc3da"/>
<line x1="418.52" y1="179.68" x2="418.52" y2="183.68" stroke="#9fdbe8" stroke-width="0.4"/>
<circle cx="418.52" cy="181.68" r="1.1" fill="#5cc3da"/>
<line x1="436.17" y1="193.04" x2="436.17" y2="197.04" stroke="#9fdbe8" stroke-width="0.4"/>
<circle cx="436.17" cy="195.04" r="1.1" fill="#5cc3da"/>
<line x1="383.23" y1="164.82" x2="383.23" y2="171.82" stroke="#f0a89d" stroke-width="0.4"/>
<circle cx="383.23" cy="168.32" r="1.1" fill="#e8705e"/>
<line x1="400.88" y1="176.41" x2="400.88" y2="183.41" stroke="#f0a89d" stroke-width="0.4"/>
<circle cx="400.88" cy="179.91" r="1.1" fill="#e8705e"/>
<line x1="418.52" y1="191.54" x2="418.52" y2="198.54" stroke="#f0a89d" stroke-width="0.4"/>
<circle cx="418.52" cy="195.04" r="1.1" fill="#e8705e"/>
<line x1="436.17" y1="201.62" x2="436.17" y2="208.62" stroke="#f0a89d" stroke-width="0.4"/>
<circle cx="436.17" cy="205.12" r="1.1" fill="#e8705e"/>
<text x="407.94" y="151.16" font-size="4.2" text-anchor="middle" font-weight="bold" fill="#222">MDA-MB-231</text>
<text x="372.94" y="185.71" font-size="4.0" text-anchor="middle" fill="#222" transform="rotate(-90 372.943408116965 185.70960423493824)">Relative expression of PBK ( %)</text>
<text x="409.58" y="225.71" font-size="4.0" text-anchor="middle" font-weight="bold" fill="#333">CHX( h)</text>
<line x1="377.24" y1="158.21" x2="378.44" y2="158.21" stroke="#333" stroke-width="0.4"/>
<text x="376.84" y="159.21" font-size="2.8" text-anchor="end" fill="#333">1.20</text>
<line x1="377.24" y1="169.81" x2="378.44" y2="169.81" stroke="#333" stroke-width="0.4"/>
<text x="376.84" y="170.81" font-size="2.8" text-anchor="end" fill="#333">1.00</text>
<line x1="377.24" y1="181.41" x2="378.44" y2="181.41" stroke="#333" stroke-width="0.4"/>
<text x="376.84" y="182.41" font-size="2.8" text-anchor="end" fill="#333">0.75</text>
<line x1="377.24" y1="193.01" x2="378.44" y2="193.01" stroke="#333" stroke-width="0.4"/>
<text x="376.84" y="194.01" font-size="2.8" text-anchor="end" fill="#333">0.50</text>
<line x1="377.24" y1="204.61" x2="378.44" y2="204.61" stroke="#333" stroke-width="0.4"/>
<text x="376.84" y="205.61" font-size="2.8" text-anchor="end" fill="#333">0.25</text>
<line x1="377.24" y1="216.21" x2="378.44" y2="216.21" stroke="#333" stroke-width="0.4"/>
<text x="376.84" y="217.21" font-size="2.8" text-anchor="end" fill="#333">0.00</text>
<line x1="381.44" y1="216.21" x2="381.44" y2="217.41" stroke="#333" stroke-width="0.4"/>
<text x="381.44" y="220.41" font-size="2.8" text-anchor="middle" fill="#333">0</text>
<line x1="399.53" y1="216.21" x2="399.53" y2="217.41" stroke="#333" stroke-width="0.4"/>
<text x="399.53" y="220.41" font-size="2.8" text-anchor="middle" fill="#333">4</text>
<line x1="417.62" y1="216.21" x2="417.62" y2="217.41" stroke="#333" stroke-width="0.4"/>
<text x="417.62" y="220.41" font-size="2.8" text-anchor="middle" fill="#333">8</text>
<line x1="435.71" y1="216.21" x2="435.71" y2="217.41" stroke="#333" stroke-width="0.4"/>
<text x="435.71" y="220.41" font-size="2.8" text-anchor="middle" fill="#333">12</text>
<circle cx="382.44" cy="205.62" r="1" fill="#5cc3da"/>
<circle cx="382.44" cy="211.12" r="1" fill="#e8705e"/>
<text x="384.94" y="206.92" font-size="3.9" text-anchor="start" font-weight="bold" fill="#333">Vector( T<tspan font-size="2.4" dy="0.8">1/2</tspan><tspan dy="-0.8">=11.8h)</tspan></text>
<text x="384.94" y="212.42" font-size="3.9" text-anchor="start" font-weight="bold" fill="#333">CLDN6( T<tspan font-size="2.4" dy="0.8">1/2</tspan><tspan dy="-0.8">=7.5h)</tspan></text>
<rect x="473.48" y="153.19" width="61.00" height="62.52" fill="#fff" stroke="none" stroke-width="0.8"/>
<line x1="487.34" y1="153.19" x2="487.34" y2="215.71" stroke="#e6e6e6" stroke-width="0.5"/>
<line x1="501.21" y1="153.19" x2="501.21" y2="215.71" stroke="#e6e6e6" stroke-width="0.5"/>
<line x1="515.07" y1="153.19" x2="515.07" y2="215.71" stroke="#e6e6e6" stroke-width="0.5"/>
<line x1="528.93" y1="153.19" x2="528.93" y2="215.71" stroke="#e6e6e6" stroke-width="0.5"/>
<line x1="473.48" y1="164.56" x2="534.48" y2="164.56" stroke="#e6e6e6" stroke-width="0.5"/>
<line x1="473.48" y1="175.92" x2="534.48" y2="175.92" stroke="#e6e6e6" stroke-width="0.5"/>
<line x1="473.48" y1="187.29" x2="534.48" y2="187.29" stroke="#e6e6e6" stroke-width="0.5"/>
<line x1="473.48" y1="198.66" x2="534.48" y2="198.66" stroke="#e6e6e6" stroke-width="0.5"/>
<line x1="473.48" y1="210.02" x2="534.48" y2="210.02" stroke="#e6e6e6" stroke-width="0.5"/>
<path d="M473.48 153.19 V215.71 H534.48" fill="none" stroke="#222" stroke-width="0.9"/>
<line x1="534.48" y1="153.19" x2="534.48" y2="215.71" stroke="#888" stroke-width="0.4"/>
<line x1="473.48" y1="153.19" x2="534.48" y2="153.19" stroke="#888" stroke-width="0.4"/>
<line x1="477.26" y1="161.51" x2="523.39" y2="179.16" stroke="#5cc3da" stroke-width="1.1"/>
<line x1="477.26" y1="163.53" x2="523.39" y2="203.10" stroke="#e8705e" stroke-width="1.1"/>
<line x1="477.26" y1="159.51" x2="477.26" y2="163.51" stroke="#9fdbe8" stroke-width="0.4"/>
<circle cx="477.26" cy="161.51" r="1.1" fill="#5cc3da"/>
<line x1="492.38" y1="163.29" x2="492.38" y2="167.29" stroke="#9fdbe8" stroke-width="0.4"/>
<circle cx="492.38" cy="165.29" r="1.1" fill="#5cc3da"/>
<line x1="507.51" y1="168.33" x2="507.51" y2="172.33" stroke="#9fdbe8" stroke-width="0.4"/>
<circle cx="507.51" cy="170.33" r="1.1" fill="#5cc3da"/>
<line x1="523.39" y1="179.17" x2="523.39" y2="183.17" stroke="#9fdbe8" stroke-width="0.4"/>
<circle cx="523.39" cy="181.17" r="1.1" fill="#5cc3da"/>
<line x1="477.26" y1="160.03" x2="477.26" y2="167.03" stroke="#f0a89d" stroke-width="0.4"/>
<circle cx="477.26" cy="163.53" r="1.1" fill="#e8705e"/>
<line x1="492.38" y1="173.13" x2="492.38" y2="180.13" stroke="#f0a89d" stroke-width="0.4"/>
<circle cx="492.38" cy="176.63" r="1.1" fill="#e8705e"/>
<line x1="507.51" y1="190.02" x2="507.51" y2="197.02" stroke="#f0a89d" stroke-width="0.4"/>
<circle cx="507.51" cy="193.52" r="1.1" fill="#e8705e"/>
<line x1="523.39" y1="199.60" x2="523.39" y2="206.60" stroke="#f0a89d" stroke-width="0.4"/>
<circle cx="523.39" cy="203.10" r="1.1" fill="#e8705e"/>
<text x="502.47" y="151.16" font-size="4.2" text-anchor="middle" font-weight="bold" fill="#222">MCF-7</text>
<text x="467.98" y="184.45" font-size="4.0" text-anchor="middle" fill="#222" transform="rotate(-90 467.97743887068316 184.4492059490799)">Relative expression of PBK ( %)</text>
<text x="503.98" y="225.21" font-size="4.0" text-anchor="middle" font-weight="bold" fill="#333">CHX( h)</text>
<line x1="472.28" y1="156.19" x2="473.48" y2="156.19" stroke="#333" stroke-width="0.4"/>
<text x="471.88" y="157.19" font-size="2.8" text-anchor="end" fill="#333">1.0</text>
<line x1="472.28" y1="185.95" x2="473.48" y2="185.95" stroke="#333" stroke-width="0.4"/>
<text x="471.88" y="186.95" font-size="2.8" text-anchor="end" fill="#333">0.5</text>
<line x1="472.28" y1="215.71" x2="473.48" y2="215.71" stroke="#333" stroke-width="0.4"/>
<text x="471.88" y="216.71" font-size="2.8" text-anchor="end" fill="#333">0.0</text>
<line x1="476.48" y1="215.71" x2="476.48" y2="216.91" stroke="#333" stroke-width="0.4"/>
<text x="476.48" y="219.91" font-size="2.8" text-anchor="middle" fill="#333">0</text>
<line x1="494.15" y1="215.71" x2="494.15" y2="216.91" stroke="#333" stroke-width="0.4"/>
<text x="494.15" y="219.91" font-size="2.8" text-anchor="middle" fill="#333">5</text>
<line x1="511.81" y1="215.71" x2="511.81" y2="216.91" stroke="#333" stroke-width="0.4"/>
<text x="511.81" y="219.91" font-size="2.8" text-anchor="middle" fill="#333">10</text>
<line x1="529.48" y1="215.71" x2="529.48" y2="216.91" stroke="#333" stroke-width="0.4"/>
<text x="529.48" y="219.91" font-size="2.8" text-anchor="middle" fill="#333">15</text>
<circle cx="477.48" cy="205.62" r="1" fill="#5cc3da"/>
<circle cx="477.48" cy="211.12" r="1" fill="#e8705e"/>
<text x="479.98" y="206.92" font-size="3.9" text-anchor="start" font-weight="bold" fill="#333">Vector( T<tspan font-size="2.4" dy="0.8">1/2</tspan><tspan dy="-0.8">=17.4h)</tspan></text>
<text x="479.98" y="212.42" font-size="3.9" text-anchor="start" font-weight="bold" fill="#333">CLDN6( T<tspan font-size="2.4" dy="0.8">1/2</tspan><tspan dy="-0.8">=8.8h)</tspan></text>
<text x="544.50" y="21.00" font-size="16.3" text-anchor="start" fill="#000">D</text>
<text x="607.50" y="13.00" font-size="6.2" text-anchor="middle" fill="#222">IP: PBK</text>
<text x="657.50" y="13.00" font-size="6.2" text-anchor="middle" fill="#222">IP: PBK</text>
<line x1="591.00" y1="16.30" x2="624.00" y2="16.30" stroke="#444" stroke-width="0.7"/>
<line x1="641.00" y1="16.30" x2="674.00" y2="16.30" stroke="#444" stroke-width="0.7"/>
<text x="569.50" y="84.50" font-size="6.2" text-anchor="middle" fill="#222" transform="rotate(-90 569.5 84.5)">IB: Ub</text>
<line x1="577.50" y1="61.70" x2="577.50" y2="104.40" stroke="#666" stroke-width="0.8"/>
<clipPath id="cl1"><rect x="584.2" y="20.2" width="46.7" height="126"/></clipPath>
<clipPath id="cl2"><rect x="634.1" y="20.2" width="47.2" height="126"/></clipPath>
<rect x="584.20" y="20.20" width="46.70" height="126.00" fill="#efefef" stroke="#999" stroke-width="0.7"/>
<g clip-path="url(#cl1)">
<rect x="588.00" y="24.00" width="8.00" height="118.00" rx="3.20" fill="#dedede" opacity="0.8" filter="url(#bl2)"/>
<rect x="598.70" y="24.00" width="8.00" height="111.00" rx="3.20" fill="#c4c4c4" opacity="0.9" filter="url(#bl2)"/>
<rect x="609.35" y="24.00" width="8.50" height="108.00" rx="3.40" fill="#b8b8b8" opacity="0.9" filter="url(#bl2)"/>
<rect x="598.95" y="82.00" width="7.50" height="46.00" rx="3.00" fill="#808080" opacity="0.9" filter="url(#bl2)"/>
<rect x="609.60" y="30.00" width="8.00" height="22.00" rx="3.20" fill="#8a8a8a" opacity="0.9" filter="url(#bl2)"/>
<rect x="609.60" y="80.00" width="8.00" height="48.00" rx="3.20" fill="#707070" opacity="0.9" filter="url(#bl2)"/>
<rect x="587.75" y="60.50" width="8.50" height="5.00" rx="3.40" fill="#6e6e6e" opacity="0.95" filter="url(#bl2)"/>
<rect x="598.45" y="60.50" width="8.50" height="5.00" rx="3.40" fill="#6a6a6a" opacity="0.95" filter="url(#bl2)"/>
<rect x="609.10" y="59.50" width="9.00" height="7.00" rx="3.60" fill="#1a1a1a" opacity="1" filter="url(#bl2)"/>
<rect x="588.00" y="89.50" width="8.00" height="5.00" rx="3.20" fill="#a0a0a0" opacity="0.9" filter="url(#bl2)"/>
<rect x="597.95" y="88.00" width="9.50" height="9.00" rx="3.80" fill="#080808" opacity="1" filter="url(#bl2)"/>
<rect x="608.85" y="86.50" width="9.50" height="11.50" rx="3.80" fill="#050505" opacity="1" filter="url(#bl2)"/>
<rect x="599.20" y="112.00" width="7.00" height="8.00" rx="2.80" fill="#505050" opacity="0.9" filter="url(#bl2)"/>
<rect x="610.10" y="110.00" width="7.00" height="8.00" rx="2.80" fill="#5a5a5a" opacity="0.9" filter="url(#bl2)"/>
<rect x="620.50" y="23.00" width="8.60" height="107.00" rx="3.44" fill="#080808" opacity="1" filter="url(#bl2)"/>
<rect x="621.10" y="126.00" width="7.00" height="16.00" rx="2.80" fill="#707070" opacity="0.8" filter="url(#bl2)"/>
<rect x="614.00" y="39.50" width="10.00" height="4.00" rx="2.00" fill="#101010" opacity="1" filter="url(#bl2)"/>
</g>
<rect x="634.10" y="20.20" width="47.20" height="126.00" fill="url(#dg)" stroke="#888" stroke-width="0.7"/>
<g clip-path="url(#cl2)">
<rect x="637.55" y="24.00" width="7.50" height="116.00" rx="3.00" fill="#cfcfcf" opacity="0.8" filter="url(#bl2)"/>
<rect x="637.55" y="60.00" width="7.50" height="5.00" rx="3.00" fill="#8e8e8e" opacity="0.9" filter="url(#bl2)"/>
<rect x="637.55" y="86.00" width="7.50" height="4.50" rx="3.00" fill="#a0a0a0" opacity="0.9" filter="url(#bl2)"/>
<rect x="637.55" y="109.00" width="7.50" height="4.00" rx="3.00" fill="#ababab" opacity="0.9" filter="url(#bl2)"/>
<rect x="648.05" y="24.00" width="8.50" height="116.00" rx="3.40" fill="#a8a8a8" opacity="0.9" filter="url(#bl2)"/>
<rect x="648.05" y="59.50" width="8.50" height="5.50" rx="3.40" fill="#777777" opacity="0.95" filter="url(#bl2)"/>
<rect x="648.05" y="72.00" width="8.50" height="24.00" rx="3.40" fill="#404040" opacity="0.9" filter="url(#bl2)"/>
<rect x="648.30" y="98.00" width="8.00" height="27.00" rx="3.20" fill="#151515" opacity="1" filter="url(#bl2)"/>
<rect x="658.55" y="22.00" width="8.50" height="15.00" rx="3.40" fill="#101010" opacity="1" filter="url(#bl2)"/>
<rect x="658.55" y="38.00" width="8.50" height="46.00" rx="3.40" fill="#7a7a7a" opacity="0.9" filter="url(#bl2)"/>
<rect x="658.30" y="58.00" width="9.00" height="6.00" rx="3.60" fill="#404040" opacity="0.95" filter="url(#bl2)"/>
<rect x="658.55" y="84.00" width="8.50" height="45.00" rx="3.40" fill="#101010" opacity="1" filter="url(#bl2)"/>
<rect x="656.50" y="136.00" width="7.00" height="6.00" rx="3.00" fill="#080808" opacity="1" filter="url(#bl2)"/>
<rect x="668.95" y="22.00" width="8.50" height="11.00" rx="3.40" fill="#101010" opacity="1" filter="url(#bl2)"/>
<rect x="668.70" y="33.00" width="9.00" height="15.00" rx="3.60" fill="#505050" opacity="0.9" filter="url(#bl2)"/>
<rect x="669.30" y="45.00" width="9.00" height="97.00" rx="3.60" fill="#101010" opacity="1" filter="url(#bl2)"/>
<rect x="667.00" y="134.00" width="8.00" height="7.00" rx="3.50" fill="#080808" opacity="1" filter="url(#bl2)"/>
<rect x="657.50" y="88.00" width="22.00" height="52.00" rx="5.00" fill="#0c0c0c" opacity="1" filter="url(#bl2)"/>
<rect x="647.50" y="100.00" width="10.00" height="24.00" rx="4.00" fill="#1a1a1a" opacity="1" filter="url(#bl2)"/>
<circle cx="672.5" cy="26" r="1.6" fill="#eee" filter="url(#bl3)"/>
</g>
<text x="556.00" y="160.00" font-size="6.5" text-anchor="middle" fill="#222" transform="rotate(-90 556 160)">Input</text>
<line x1="559.50" y1="151.00" x2="559.50" y2="169.00" stroke="#444" stroke-width="0.7"/>
<text x="572.50" y="157.80" font-size="7.5" text-anchor="middle" fill="#222">PBK</text>
<text x="573.00" y="167.80" font-size="7.5" text-anchor="middle" fill="#222">β-actin</text>
<rect x="584.20" y="152.00" width="46.70" height="6.00" fill="#dfdfdf" stroke="#7d7d7d" stroke-width="0.7"/>
<path d="M585.37 155.30 C585.70 154.40 586.04 154.40 586.49 154.40 L593.59 154.40 C594.04 154.40 594.37 154.40 594.71 155.30 C594.37 156.20 594.04 156.20 593.59 156.20 L586.49 156.20 C586.04 156.20 585.70 156.20 585.37 155.30Z" fill="#141414" filter="url(#bl)"/>
<path d="M597.04 155.30 C597.38 154.48 597.71 154.48 598.16 154.48 L605.26 154.48 C605.71 154.48 606.05 154.48 606.38 155.30 C606.05 156.12 605.71 156.12 605.26 156.12 L598.16 156.12 C597.71 156.12 597.38 156.12 597.04 155.30Z" fill="#3d3d3d" filter="url(#bl)"/>
<path d="M608.72 155.30 C609.05 154.40 609.39 154.40 609.84 154.40 L616.94 154.40 C617.39 154.40 617.72 154.40 618.06 155.30 C617.72 156.20 617.39 156.20 616.94 156.20 L609.84 156.20 C609.39 156.20 609.05 156.20 608.72 155.30Z" fill="#141414" filter="url(#bl)"/>
<path d="M620.39 155.30 C620.73 154.40 621.06 154.40 621.51 154.40 L628.61 154.40 C629.06 154.40 629.40 154.40 629.73 155.30 C629.40 156.20 629.06 156.20 628.61 156.20 L621.51 156.20 C621.06 156.20 620.73 156.20 620.39 155.30Z" fill="#141414" filter="url(#bl)"/>
<rect x="634.10" y="152.00" width="47.20" height="6.00" fill="#dfdfdf" stroke="#7d7d7d" stroke-width="0.7"/>
<path d="M635.28 155.30 C635.62 154.32 635.96 154.32 636.41 154.32 L643.59 154.32 C644.04 154.32 644.38 154.32 644.72 155.30 C644.38 156.28 644.04 156.28 643.59 156.28 L636.41 156.28 C635.96 156.28 635.62 156.28 635.28 155.30Z" fill="#101010" filter="url(#bl)"/>
<path d="M647.08 155.30 C647.42 154.32 647.76 154.32 648.21 154.32 L655.39 154.32 C655.84 154.32 656.18 154.32 656.52 155.30 C656.18 156.28 655.84 156.28 655.39 156.28 L648.21 156.28 C647.76 156.28 647.42 156.28 647.08 155.30Z" fill="#101010" filter="url(#bl)"/>
<path d="M658.88 155.30 C659.22 154.32 659.56 154.32 660.01 154.32 L667.19 154.32 C667.64 154.32 667.98 154.32 668.32 155.30 C667.98 156.28 667.64 156.28 667.19 156.28 L660.01 156.28 C659.56 156.28 659.22 156.28 658.88 155.30Z" fill="#101010" filter="url(#bl)"/>
<path d="M670.68 155.30 C671.02 154.32 671.36 154.32 671.81 154.32 L678.99 154.32 C679.44 154.32 679.78 154.32 680.12 155.30 C679.78 156.28 679.44 156.28 678.99 156.28 L671.81 156.28 C671.36 156.28 671.02 156.28 670.68 155.30Z" fill="#101010" filter="url(#bl)"/>
<rect x="584.20" y="162.50" width="46.70" height="5.50" fill="#dfdfdf" stroke="#7d7d7d" stroke-width="0.7"/>
<path d="M585.37 165.55 C585.70 164.65 586.04 164.65 586.49 164.65 L593.59 164.65 C594.04 164.65 594.37 164.65 594.71 165.55 C594.37 166.45 594.04 166.45 593.59 166.45 L586.49 166.45 C586.04 166.45 585.70 166.45 585.37 165.55Z" fill="#101010" filter="url(#bl)"/>
<path d="M597.04 165.55 C597.38 164.65 597.71 164.65 598.16 164.65 L605.26 164.65 C605.71 164.65 606.05 164.65 606.38 165.55 C606.05 166.45 605.71 166.45 605.26 166.45 L598.16 166.45 C597.71 166.45 597.38 166.45 597.04 165.55Z" fill="#101010" filter="url(#bl)"/>
<path d="M608.72 165.55 C609.05 164.65 609.39 164.65 609.84 164.65 L616.94 164.65 C617.39 164.65 617.72 164.65 618.06 165.55 C617.72 166.45 617.39 166.45 616.94 166.45 L609.84 166.45 C609.39 166.45 609.05 166.45 608.72 165.55Z" fill="#101010" filter="url(#bl)"/>
<path d="M620.39 165.55 C620.73 164.65 621.06 164.65 621.51 164.65 L628.61 164.65 C629.06 164.65 629.40 164.65 629.73 165.55 C629.40 166.45 629.06 166.45 628.61 166.45 L621.51 166.45 C621.06 166.45 620.73 166.45 620.39 165.55Z" fill="#101010" filter="url(#bl)"/>
<rect x="634.10" y="162.50" width="47.20" height="5.50" fill="#dfdfdf" stroke="#7d7d7d" stroke-width="0.7"/>
<path d="M635.28 165.55 C635.62 164.65 635.96 164.65 636.41 164.65 L643.59 164.65 C644.04 164.65 644.38 164.65 644.72 165.55 C644.38 166.45 644.04 166.45 643.59 166.45 L636.41 166.45 C635.96 166.45 635.62 166.45 635.28 165.55Z" fill="#101010" filter="url(#bl)"/>
<path d="M647.08 165.55 C647.42 164.65 647.76 164.65 648.21 164.65 L655.39 164.65 C655.84 164.65 656.18 164.65 656.52 165.55 C656.18 166.45 655.84 166.45 655.39 166.45 L648.21 166.45 C647.76 166.45 647.42 166.45 647.08 165.55Z" fill="#101010" filter="url(#bl)"/>
<path d="M658.88 165.55 C659.22 164.65 659.56 164.65 660.01 164.65 L667.19 164.65 C667.64 164.65 667.98 164.65 668.32 165.55 C667.98 166.45 667.64 166.45 667.19 166.45 L660.01 166.45 C659.56 166.45 659.22 166.45 658.88 165.55Z" fill="#101010" filter="url(#bl)"/>
<path d="M670.68 165.55 C671.02 164.65 671.36 164.65 671.81 164.65 L678.99 164.65 C679.44 164.65 679.78 164.65 680.12 165.55 C679.78 166.45 679.44 166.45 678.99 166.45 L671.81 166.45 C671.36 166.45 671.02 166.45 670.68 165.55Z" fill="#101010" filter="url(#bl)"/>
<text x="560.50" y="176.75" font-size="6.3" text-anchor="middle" font-weight="bold" fill="#111">CLDN6</text>
<text x="560.50" y="188.75" font-size="6.3" text-anchor="middle" font-weight="bold" font-style="italic" fill="#111">MG-132</text>
<text x="590.60" y="176.11" font-size="6.5" text-anchor="middle" font-weight="bold" fill="#111">-</text>
<text x="602.70" y="176.34" font-size="6.5" text-anchor="middle" font-weight="bold" fill="#111">+</text>
<text x="614.50" y="176.11" font-size="6.5" text-anchor="middle" font-weight="bold" fill="#111">-</text>
<text x="626.60" y="176.34" font-size="6.5" text-anchor="middle" font-weight="bold" fill="#111">+</text>
<text x="639.00" y="176.11" font-size="6.5" text-anchor="middle" font-weight="bold" fill="#111">-</text>
<text x="651.00" y="176.34" font-size="6.5" text-anchor="middle" font-weight="bold" fill="#111">+</text>
<text x="663.00" y="176.11" font-size="6.5" text-anchor="middle" font-weight="bold" fill="#111">-</text>
<text x="675.00" y="176.34" font-size="6.5" text-anchor="middle" font-weight="bold" fill="#111">+</text>
<text x="590.60" y="188.11" font-size="6.5" text-anchor="middle" font-weight="bold" fill="#111">-</text>
<text x="602.70" y="188.11" font-size="6.5" text-anchor="middle" font-weight="bold" fill="#111">-</text>
<text x="614.50" y="188.34" font-size="6.5" text-anchor="middle" font-weight="bold" fill="#111">+</text>
<text x="626.60" y="188.34" font-size="6.5" text-anchor="middle" font-weight="bold" fill="#111">+</text>
<text x="639.00" y="188.11" font-size="6.5" text-anchor="middle" font-weight="bold" fill="#111">-</text>
<text x="651.00" y="188.11" font-size="6.5" text-anchor="middle" font-weight="bold" fill="#111">-</text>
<text x="663.00" y="188.34" font-size="6.5" text-anchor="middle" font-weight="bold" fill="#111">+</text>
<text x="675.00" y="188.34" font-size="6.5" text-anchor="middle" font-weight="bold" fill="#111">+</text>
<line x1="591.90" y1="191.50" x2="624.00" y2="191.50" stroke="#555" stroke-width="0.8"/>
<line x1="642.00" y1="191.50" x2="674.30" y2="191.50" stroke="#555" stroke-width="0.8"/>
<text x="609.00" y="200.30" font-size="6.0" text-anchor="middle" font-weight="bold" fill="#111">MDA-MB-231</text>
<text x="658.00" y="200.30" font-size="6.0" text-anchor="middle" font-weight="bold" fill="#111">MCF-7</text>
<text x="355.00" y="241.00" font-size="16.3" text-anchor="start" fill="#000">H</text>
<text x="388.50" y="261.00" font-size="8.8" text-anchor="middle" fill="#222">NRF2</text>
<text x="388.30" y="281.00" font-size="8.8" text-anchor="middle" fill="#222">H3</text>
<text x="392.00" y="300.50" font-size="8.8" text-anchor="middle" fill="#222">β-tubulin</text>
<rect x="414.00" y="252.00" width="62.50" height="11.00" fill="#d5d5d5" stroke="#7d7d7d" stroke-width="0.7"/>
<path d="M417.75 257.80 C418.67 256.65 419.60 256.65 420.82 256.65 L440.30 256.65 C441.53 256.65 442.45 256.65 443.38 257.80 C442.45 258.95 441.53 258.95 440.30 258.95 L420.82 258.95 C419.60 258.95 418.67 258.95 417.75 257.80Z" fill="#888888" filter="url(#bl)"/>
<path d="M447.75 257.80 C448.67 256.49 449.60 256.49 450.82 256.49 L470.30 256.49 C471.53 256.49 472.45 256.49 473.38 257.80 C472.45 259.11 471.53 259.11 470.30 259.11 L450.82 259.11 C449.60 259.11 448.67 259.11 447.75 257.80Z" fill="#3a3a3a" filter="url(#bl)"/>
<rect x="483.00" y="252.00" width="61.50" height="11.00" fill="url(#g6)" stroke="#7d7d7d" stroke-width="0.9"/>
<path d="M486.69 257.30 C487.60 256.15 488.51 256.15 489.72 256.15 L508.88 256.15 C510.09 256.15 511.00 256.15 511.91 257.30 C511.00 258.45 510.09 258.45 508.88 258.45 L489.72 258.45 C488.51 258.45 487.60 258.45 486.69 257.30Z" fill="#1b1b1b" filter="url(#bl)"/>
<path d="M516.21 256.00 C517.12 254.61 518.03 254.61 519.24 254.61 L538.40 254.61 C539.61 254.61 540.52 254.61 541.42 256.00 C540.52 257.39 539.61 257.39 538.40 257.39 L519.24 257.39 C518.03 257.39 517.12 257.39 516.21 256.00Z" fill="#090909" filter="url(#bl)"/>
<rect x="414.00" y="271.70" width="62.50" height="10.30" fill="#ececec" stroke="#7d7d7d" stroke-width="0.7"/>
<path d="M416.81 277.15 C417.80 275.43 418.79 275.43 420.11 275.43 L441.01 275.43 C442.33 275.43 443.32 275.43 444.31 277.15 C443.32 278.87 442.33 278.87 441.01 278.87 L420.11 278.87 C418.79 278.87 417.80 278.87 416.81 277.15Z" fill="#000000" filter="url(#bl)"/>
<path d="M446.81 277.15 C447.80 275.26 448.79 275.26 450.11 275.26 L471.01 275.26 C472.33 275.26 473.32 275.26 474.31 277.15 C473.32 279.04 472.33 279.04 471.01 279.04 L450.11 279.04 C448.79 279.04 447.80 279.04 446.81 277.15Z" fill="#000000" filter="url(#bl)"/>
<rect x="483.00" y="271.70" width="61.50" height="10.30" fill="#ececec" stroke="#7d7d7d" stroke-width="0.7"/>
<path d="M485.77 277.15 C486.74 275.10 487.72 275.10 489.01 275.10 L509.58 275.10 C510.88 275.10 511.85 275.10 512.83 277.15 C511.85 279.20 510.88 279.20 509.58 279.20 L489.01 279.20 C487.72 279.20 486.74 279.20 485.77 277.15Z" fill="#000000" filter="url(#bl)"/>
<path d="M515.29 277.15 C516.26 275.26 517.24 275.26 518.53 275.26 L539.10 275.26 C540.40 275.26 541.37 275.26 542.35 277.15 C541.37 279.04 540.40 279.04 539.10 279.04 L518.53 279.04 C517.24 279.04 516.26 279.04 515.29 277.15Z" fill="#000000" filter="url(#bl)"/>
<rect x="414.00" y="291.30" width="62.50" height="11.40" fill="#bcbcbc" stroke="#7d7d7d" stroke-width="0.7"/>
<path d="M417.75 297.30 C418.67 295.66 419.60 295.66 420.82 295.66 L440.30 295.66 C441.53 295.66 442.45 295.66 443.38 297.30 C442.45 298.94 441.53 298.94 440.30 298.94 L420.82 298.94 C419.60 298.94 418.67 298.94 417.75 297.30Z" fill="#9d9d9d" filter="url(#bl)"/>
<path d="M447.75 297.30 C448.67 295.66 449.60 295.66 450.82 295.66 L470.30 295.66 C471.53 295.66 472.45 295.66 473.38 297.30 C472.45 298.94 471.53 298.94 470.30 298.94 L450.82 298.94 C449.60 298.94 448.67 298.94 447.75 297.30Z" fill="#9d9d9d" filter="url(#bl)"/>
<rect x="483.00" y="291.30" width="61.50" height="11.40" fill="#bcbcbc" stroke="#7d7d7d" stroke-width="0.7"/>
<path d="M486.69 297.30 C487.60 295.66 488.51 295.66 489.72 295.66 L508.88 295.66 C510.09 295.66 511.00 295.66 511.91 297.30 C511.00 298.94 510.09 298.94 508.88 298.94 L489.72 298.94 C488.51 298.94 487.60 298.94 486.69 297.30Z" fill="#a0a0a0" filter="url(#bl)"/>
<path d="M516.21 297.30 C517.12 295.66 518.03 295.66 519.24 295.66 L538.40 295.66 C539.61 295.66 540.52 295.66 541.42 297.30 C540.52 298.94 539.61 298.94 538.40 298.94 L519.24 298.94 C518.03 298.94 517.12 298.94 516.21 297.30Z" fill="#9d9d9d" filter="url(#bl)"/>
<text x="357.70" y="277.00" font-size="9.2" text-anchor="middle" fill="#222" transform="rotate(-90 357.7 277)">nuclear</text>
<line x1="364.00" y1="256.50" x2="364.00" y2="297.00" stroke="#666" stroke-width="0.8"/>
<text x="389.00" y="315.55" font-size="8.6" text-anchor="middle" font-weight="bold" fill="#111">PBK</text>
<text x="389.00" y="330.75" font-size="8.6" text-anchor="middle" font-weight="bold" fill="#111">CLDN6</text>
<text x="432.00" y="315.40" font-size="8" text-anchor="middle" font-weight="bold" fill="#111">-</text>
<text x="464.70" y="315.68" font-size="8" text-anchor="middle" font-weight="bold" fill="#111">+</text>
<text x="497.40" y="315.40" font-size="8" text-anchor="middle" font-weight="bold" fill="#111">-</text>
<text x="529.80" y="315.68" font-size="8" text-anchor="middle" font-weight="bold" fill="#111">+</text>
<text x="432.00" y="330.88" font-size="8" text-anchor="middle" font-weight="bold" fill="#111">+</text>
<text x="464.70" y="330.88" font-size="8" text-anchor="middle" font-weight="bold" fill="#111">+</text>
<text x="497.40" y="330.88" font-size="8" text-anchor="middle" font-weight="bold" fill="#111">+</text>
<text x="529.80" y="330.88" font-size="8" text-anchor="middle" font-weight="bold" fill="#111">+</text>
<line x1="421.00" y1="338.50" x2="475.50" y2="338.50" stroke="#555" stroke-width="0.8"/>
<line x1="484.00" y1="338.50" x2="538.00" y2="338.50" stroke="#555" stroke-width="0.8"/>
<text x="447.80" y="350.10" font-size="7.0" text-anchor="middle" font-weight="bold" fill="#111">MDA-MB-231</text>
<text x="511.00" y="350.10" font-size="7.0" text-anchor="middle" font-weight="bold" fill="#111">MCF-7</text>
<text x="358.30" y="372.40" font-size="16.3" text-anchor="start" fill="#000">I</text>
<text x="403.60" y="389.00" font-size="5.9" text-anchor="middle" font-weight="bold" fill="#e04848" transform="rotate(-90 403.6 389)">Red: NRF2</text>
<text x="410.20" y="389.00" font-size="5.9" text-anchor="middle" font-weight="bold" fill="#48b8e0" transform="rotate(-90 410.2 389)">Blue: DAPI</text>
<clipPath id="ov11"><rect x="414" y="365.5" width="65" height="48.5"/></clipPath>
<rect x="414.00" y="365.50" width="65.00" height="48.50" fill="#000" stroke="none" stroke-width="0.8"/>
<g clip-path="url(#ov11)">
<circle cx="477.84" cy="412.29" r="1.21" fill="#3030d8" filter="url(#bl3)"/>
<circle cx="444.22" cy="394.03" r="0.92" fill="#2020c0" filter="url(#bl3)"/>
<circle cx="423.76" cy="388.51" r="1.23" fill="#2020c0" filter="url(#bl3)"/>
<circle cx="456.56" cy="385.23" r="1.37" fill="#2626ff" filter="url(#bl3)"/>
<circle cx="458.74" cy="404.44" r="0.95" fill="#2626ff" filter="url(#bl3)"/>
<circle cx="469.03" cy="384.25" r="1.32" fill="#2626ff" filter="url(#bl3)"/>
<circle cx="422.89" cy="404.52" r="0.94" fill="#3030d8" filter="url(#bl3)"/>
<circle cx="423.19" cy="380.41" r="1.36" fill="#3030d8" filter="url(#bl3)"/>
<circle cx="460.76" cy="369.83" r="1.12" fill="#3030d8" filter="url(#bl3)"/>
<circle cx="422.23" cy="406.16" r="1.01" fill="#3a3aff" filter="url(#bl3)"/>
<circle cx="470.18" cy="412.78" r="1.40" fill="#2626ff" filter="url(#bl3)"/>
<circle cx="427.70" cy="384.62" r="1.22" fill="#2626ff" filter="url(#bl3)"/>
<circle cx="443.79" cy="390.88" r="1.05" fill="#2626ff" filter="url(#bl3)"/>
<circle cx="418.83" cy="375.62" r="0.91" fill="#3a3aff" filter="url(#bl3)"/>
<circle cx="438.16" cy="387.48" r="1.14" fill="#3030d8" filter="url(#bl3)"/>
<circle cx="426.94" cy="388.95" r="0.99" fill="#3030d8" filter="url(#bl3)"/>
<circle cx="472.84" cy="388.53" r="0.92" fill="#3a3aff" filter="url(#bl3)"/>
<circle cx="458.57" cy="368.73" r="1.26" fill="#2626ff" filter="url(#bl3)"/>
<circle cx="422.22" cy="388.75" r="1.21" fill="#2626ff" filter="url(#bl3)"/>
<circle cx="446.21" cy="393.52" r="1.02" fill="#2626ff" filter="url(#bl3)"/>
<circle cx="425.46" cy="383.39" r="0.97" fill="#3a3aff" filter="url(#bl3)"/>
<circle cx="441.26" cy="391.56" r="1.14" fill="#3a3aff" filter="url(#bl3)"/>
<circle cx="469.25" cy="388.44" r="1.06" fill="#2626ff" filter="url(#bl3)"/>
<circle cx="418.89" cy="391.99" r="1.35" fill="#3030d8" filter="url(#bl3)"/>
<circle cx="464.01" cy="365.17" r="1.11" fill="#2626ff" filter="url(#bl3)"/>
<circle cx="470.13" cy="393.28" r="1.09" fill="#2626ff" filter="url(#bl3)"/>
<circle cx="453.58" cy="369.39" r="1.40" fill="#2020c0" filter="url(#bl3)"/>
<circle cx="461.33" cy="384.34" r="1.19" fill="#2020c0" filter="url(#bl3)"/>
<circle cx="444.07" cy="391.75" r="1.16" fill="#3a3aff" filter="url(#bl3)"/>
<circle cx="469.93" cy="388.13" r="1.36" fill="#3a3aff" filter="url(#bl3)"/>
<circle cx="421.01" cy="389.94" r="1.07" fill="#2020c0" filter="url(#bl3)"/>
<circle cx="455.96" cy="405.97" r="1.30" fill="#3030d8" filter="url(#bl3)"/>
<circle cx="471.22" cy="384.14" r="1.06" fill="#3030d8" filter="url(#bl3)"/>
<circle cx="422.75" cy="382.51" r="0.92" fill="#2626ff" filter="url(#bl3)"/>
<circle cx="452.34" cy="368.35" r="1.32" fill="#2020c0" filter="url(#bl3)"/>
<circle cx="456.66" cy="370.93" r="1.04" fill="#2626ff" filter="url(#bl3)"/>
<circle cx="441.47" cy="391.07" r="0.99" fill="#3a3aff" filter="url(#bl3)"/>
<circle cx="470.08" cy="389.01" r="1.23" fill="#3a3aff" filter="url(#bl3)"/>
<circle cx="458.89" cy="370.69" r="1.28" fill="#2626ff" filter="url(#bl3)"/>
<circle cx="442.84" cy="396.19" r="1.35" fill="#2626ff" filter="url(#bl3)"/>
<circle cx="455.05" cy="368.34" r="1.35" fill="#2020c0" filter="url(#bl3)"/>
<circle cx="449.75" cy="397.15" r="1.31" fill="#3a3aff" filter="url(#bl3)"/>
<circle cx="475.55" cy="392.26" r="1.39" fill="#3a3aff" filter="url(#bl3)"/>
<circle cx="442.68" cy="393.33" r="1.12" fill="#2020c0" filter="url(#bl3)"/>
<circle cx="473.35" cy="388.31" r="1.17" fill="#3030d8" filter="url(#bl3)"/>
<circle cx="444.59" cy="413.99" r="1.16" fill="#2020c0" filter="url(#bl3)"/>
<circle cx="475.47" cy="389.39" r="0.94" fill="#3030d8" filter="url(#bl3)"/>
<circle cx="442.56" cy="392.60" r="1.18" fill="#3030d8" filter="url(#bl3)"/>
<circle cx="447.98" cy="406.42" r="1.06" fill="#2020c0" filter="url(#bl3)"/>
<circle cx="476.06" cy="407.70" r="1.05" fill="#3030d8" filter="url(#bl3)"/>
<circle cx="476.95" cy="390.92" r="1.00" fill="#2626ff" filter="url(#bl3)"/>
<circle cx="440.38" cy="392.45" r="1.30" fill="#2626ff" filter="url(#bl3)"/>
<circle cx="452.63" cy="370.12" r="1.36" fill="#3a3aff" filter="url(#bl3)"/>
<circle cx="457.65" cy="367.38" r="1.11" fill="#2626ff" filter="url(#bl3)"/>
<circle cx="474.14" cy="371.78" r="0.91" fill="#3030d8" filter="url(#bl3)"/>
<circle cx="420.24" cy="382.56" r="1.15" fill="#2626ff" filter="url(#bl3)"/>
<circle cx="469.37" cy="395.74" r="1.25" fill="#2020c0" filter="url(#bl3)"/>
<circle cx="415.51" cy="396.20" r="1.21" fill="#3030d8" filter="url(#bl3)"/>
<circle cx="428.45" cy="388.11" r="1.33" fill="#3030d8" filter="url(#bl3)"/>
<circle cx="445.96" cy="395.58" r="1.36" fill="#3030d8" filter="url(#bl3)"/>
<circle cx="426.87" cy="390.96" r="1.09" fill="#2020c0" filter="url(#bl3)"/>
<circle cx="468.09" cy="385.95" r="0.96" fill="#2020c0" filter="url(#bl3)"/>
<circle cx="426.81" cy="377.44" r="0.96" fill="#3a3aff" filter="url(#bl3)"/>
<circle cx="473.41" cy="388.13" r="1.28" fill="#2020c0" filter="url(#bl3)"/>
<circle cx="453.86" cy="393.71" r="0.95" fill="#2626ff" filter="url(#bl3)"/>
<circle cx="472.51" cy="390.07" r="1.16" fill="#2020c0" filter="url(#bl3)"/>
<circle cx="427.66" cy="383.60" r="0.92" fill="#3030d8" filter="url(#bl3)"/>
<circle cx="425.78" cy="387.52" r="1.10" fill="#3030d8" filter="url(#bl3)"/>
<circle cx="453.32" cy="370.10" r="1.06" fill="#2626ff" filter="url(#bl3)"/>
<circle cx="466.11" cy="399.68" r="1.21" fill="#2020c0" filter="url(#bl3)"/>
<circle cx="451.03" cy="374.76" r="1.07" fill="#3a3aff" filter="url(#bl3)"/>
<circle cx="432.17" cy="371.14" r="0.98" fill="#2020c0" filter="url(#bl3)"/>
<circle cx="422.66" cy="381.50" r="1.08" fill="#2020c0" filter="url(#bl3)"/>
<circle cx="463.74" cy="385.18" r="0.94" fill="#3a3aff" filter="url(#bl3)"/>
<circle cx="433.61" cy="370.39" r="1.40" fill="#2626ff" filter="url(#bl3)"/>
</g>
<clipPath id="ov12"><rect x="482.6" y="365.5" width="64.39999999999998" height="48.5"/></clipPath>
<rect x="482.60" y="365.50" width="64.40" height="48.50" fill="#000" stroke="none" stroke-width="0.8"/>
<g clip-path="url(#ov12)">
<circle cx="530.69" cy="373.75" r="1.04" fill="#9038c8" filter="url(#bl3)"/>
<circle cx="515.04" cy="394.72" r="1.11" fill="#d070f0" filter="url(#bl3)"/>
<circle cx="519.50" cy="371.40" r="1.28" fill="#b84ee8" filter="url(#bl3)"/>
<circle cx="523.55" cy="395.99" r="1.24" fill="#d070f0" filter="url(#bl3)"/>
<circle cx="529.90" cy="371.98" r="1.18" fill="#9038c8" filter="url(#bl3)"/>
<circle cx="483.57" cy="385.57" r="1.26" fill="#7030d0" filter="url(#bl3)"/>
<circle cx="494.15" cy="383.97" r="1.02" fill="#b84ee8" filter="url(#bl3)"/>
<circle cx="530.10" cy="396.19" r="1.09" fill="#9038c8" filter="url(#bl3)"/>
<circle cx="518.00" cy="395.20" r="1.18" fill="#9038c8" filter="url(#bl3)"/>
<circle cx="500.75" cy="388.60" r="1.24" fill="#c860f0" filter="url(#bl3)"/>
<circle cx="519.32" cy="400.26" r="1.47" fill="#9038c8" filter="url(#bl3)"/>
<circle cx="494.16" cy="404.05" r="1.12" fill="#b84ee8" filter="url(#bl3)"/>
<circle cx="545.96" cy="413.93" r="1.01" fill="#9038c8" filter="url(#bl3)"/>
<circle cx="513.63" cy="399.82" r="1.24" fill="#9038c8" filter="url(#bl3)"/>
<circle cx="499.52" cy="411.41" r="1.08" fill="#9038c8" filter="url(#bl3)"/>
<circle cx="525.00" cy="393.00" r="1.40" fill="#9038c8" filter="url(#bl3)"/>
<circle cx="517.40" cy="400.46" r="1.21" fill="#c860f0" filter="url(#bl3)"/>
<circle cx="522.30" cy="391.50" r="1.48" fill="#b84ee8" filter="url(#bl3)"/>
<circle cx="509.50" cy="394.04" r="1.39" fill="#7030d0" filter="url(#bl3)"/>
<circle cx="518.47" cy="413.03" r="1.19" fill="#c860f0" filter="url(#bl3)"/>
<circle cx="483.70" cy="399.94" r="1.40" fill="#b84ee8" filter="url(#bl3)"/>
<circle cx="541.24" cy="391.44" r="1.19" fill="#b84ee8" filter="url(#bl3)"/>
<circle cx="517.19" cy="395.43" r="1.31" fill="#c860f0" filter="url(#bl3)"/>
<circle cx="528.05" cy="373.23" r="1.04" fill="#9038c8" filter="url(#bl3)"/>
<circle cx="520.48" cy="400.30" r="1.32" fill="#d070f0" filter="url(#bl3)"/>
<circle cx="499.23" cy="404.86" r="1.30" fill="#d070f0" filter="url(#bl3)"/>
<circle cx="497.95" cy="381.38" r="1.00" fill="#9038c8" filter="url(#bl3)"/>
<circle cx="506.20" cy="406.67" r="1.15" fill="#7030d0" filter="url(#bl3)"/>
<circle cx="541.77" cy="389.80" r="1.08" fill="#d070f0" filter="url(#bl3)"/>
<circle cx="507.64" cy="389.79" r="1.23" fill="#b84ee8" filter="url(#bl3)"/>
<circle cx="536.16" cy="376.53" r="1.38" fill="#d070f0" filter="url(#bl3)"/>
<circle cx="508.89" cy="396.38" r="1.18" fill="#b84ee8" filter="url(#bl3)"/>
<circle cx="484.94" cy="385.67" r="1.40" fill="#c860f0" filter="url(#bl3)"/>
<circle cx="498.82" cy="367.73" r="1.14" fill="#7030d0" filter="url(#bl3)"/>
<circle cx="500.81" cy="404.93" r="1.30" fill="#c860f0" filter="url(#bl3)"/>
<circle cx="490.70" cy="396.59" r="1.30" fill="#d070f0" filter="url(#bl3)"/>
<circle cx="500.66" cy="402.49" r="1.47" fill="#c860f0" filter="url(#bl3)"/>
<circle cx="482.32" cy="383.58" r="1.42" fill="#9038c8" filter="url(#bl3)"/>
<circle cx="545.73" cy="409.88" r="1.43" fill="#9038c8" filter="url(#bl3)"/>
<circle cx="536.25" cy="375.74" r="1.01" fill="#9038c8" filter="url(#bl3)"/>
<circle cx="524.98" cy="370.78" r="1.10" fill="#c860f0" filter="url(#bl3)"/>
<circle cx="510.84" cy="399.15" r="1.10" fill="#b84ee8" filter="url(#bl3)"/>
<circle cx="516.58" cy="397.10" r="1.25" fill="#9038c8" filter="url(#bl3)"/>
<circle cx="500.81" cy="404.50" r="1.42" fill="#b84ee8" filter="url(#bl3)"/>
<circle cx="542.16" cy="389.34" r="1.35" fill="#d070f0" filter="url(#bl3)"/>
<circle cx="514.00" cy="396.50" r="1.03" fill="#b84ee8" filter="url(#bl3)"/>
<circle cx="509.85" cy="404.58" r="1.47" fill="#b84ee8" filter="url(#bl3)"/>
<circle cx="489.89" cy="398.73" r="1.48" fill="#b84ee8" filter="url(#bl3)"/>
<circle cx="520.80" cy="393.97" r="1.31" fill="#d070f0" filter="url(#bl3)"/>
<circle cx="531.34" cy="386.04" r="1.16" fill="#c860f0" filter="url(#bl3)"/>
<circle cx="518.25" cy="397.10" r="1.47" fill="#9038c8" filter="url(#bl3)"/>
<circle cx="525.28" cy="372.14" r="1.11" fill="#d070f0" filter="url(#bl3)"/>
<circle cx="481.73" cy="385.33" r="1.43" fill="#d070f0" filter="url(#bl3)"/>
<circle cx="504.66" cy="408.64" r="1.31" fill="#b84ee8" filter="url(#bl3)"/>
<circle cx="497.44" cy="384.19" r="1.06" fill="#7030d0" filter="url(#bl3)"/>
<circle cx="482.08" cy="384.13" r="1.37" fill="#d070f0" filter="url(#bl3)"/>
<circle cx="493.73" cy="392.08" r="1.29" fill="#d070f0" filter="url(#bl3)"/>
<circle cx="504.22" cy="383.66" r="1.46" fill="#7030d0" filter="url(#bl3)"/>
<circle cx="521.13" cy="368.95" r="1.44" fill="#9038c8" filter="url(#bl3)"/>
<circle cx="522.56" cy="395.38" r="1.07" fill="#9038c8" filter="url(#bl3)"/>
<circle cx="525.31" cy="396.86" r="1.42" fill="#7030d0" filter="url(#bl3)"/>
<circle cx="489.12" cy="377.64" r="1.49" fill="#9038c8" filter="url(#bl3)"/>
<circle cx="518.76" cy="398.89" r="1.32" fill="#c860f0" filter="url(#bl3)"/>
<circle cx="520.58" cy="388.72" r="1.23" fill="#d070f0" filter="url(#bl3)"/>
<circle cx="520.17" cy="396.82" r="1.30" fill="#d070f0" filter="url(#bl3)"/>
<circle cx="514.90" cy="397.63" r="1.36" fill="#9038c8" filter="url(#bl3)"/>
<circle cx="519.29" cy="395.65" r="1.48" fill="#d070f0" filter="url(#bl3)"/>
<circle cx="484.65" cy="385.57" r="1.42" fill="#c860f0" filter="url(#bl3)"/>
<circle cx="526.79" cy="375.79" r="1.28" fill="#7030d0" filter="url(#bl3)"/>
<circle cx="514.17" cy="394.66" r="1.07" fill="#c860f0" filter="url(#bl3)"/>
<circle cx="529.33" cy="391.50" r="1.06" fill="#c860f0" filter="url(#bl3)"/>
<circle cx="531.89" cy="392.26" r="1.13" fill="#7030d0" filter="url(#bl3)"/>
<circle cx="529.33" cy="398.17" r="1.42" fill="#b84ee8" filter="url(#bl3)"/>
<circle cx="483.99" cy="382.97" r="1.27" fill="#7030d0" filter="url(#bl3)"/>
<circle cx="511.90" cy="403.75" r="1.38" fill="#d070f0" filter="url(#bl3)"/>
<circle cx="530.80" cy="372.96" r="1.26" fill="#7030d0" filter="url(#bl3)"/>
<circle cx="484.82" cy="380.52" r="1.26" fill="#b84ee8" filter="url(#bl3)"/>
<circle cx="480.81" cy="386.07" r="1.41" fill="#b84ee8" filter="url(#bl3)"/>
<circle cx="545.43" cy="372.32" r="1.07" fill="#7030d0" filter="url(#bl3)"/>
<circle cx="516.91" cy="374.09" r="1.43" fill="#c860f0" filter="url(#bl3)"/>
<circle cx="496.02" cy="403.49" r="1.38" fill="#9038c8" filter="url(#bl3)"/>
<circle cx="530.96" cy="379.34" r="1.22" fill="#c860f0" filter="url(#bl3)"/>
<circle cx="486.19" cy="384.97" r="1.21" fill="#9038c8" filter="url(#bl3)"/>
<circle cx="485.18" cy="380.18" r="1.31" fill="#7030d0" filter="url(#bl3)"/>
<circle cx="540.87" cy="379.99" r="1.16" fill="#b84ee8" filter="url(#bl3)"/>
</g>
<clipPath id="ov13"><rect x="549.6" y="365.5" width="64.39999999999998" height="48.5"/></clipPath>
<rect x="549.60" y="365.50" width="64.40" height="48.50" fill="#000" stroke="none" stroke-width="0.8"/>
<g clip-path="url(#ov13)">
<circle cx="573.18" cy="372.05" r="0.85" fill="#d060e0" filter="url(#bl3)"/>
<circle cx="561.16" cy="376.47" r="0.91" fill="#d060e0" filter="url(#bl3)"/>
<circle cx="571.38" cy="388.61" r="0.90" fill="#7040e0" filter="url(#bl3)"/>
<circle cx="590.50" cy="393.13" r="0.90" fill="#d060e0" filter="url(#bl3)"/>
<circle cx="583.03" cy="387.47" r="0.97" fill="#60c0ff" filter="url(#bl3)"/>
<circle cx="594.67" cy="384.08" r="0.94" fill="#60c0ff" filter="url(#bl3)"/>
<circle cx="588.94" cy="381.63" r="0.85" fill="#7040e0" filter="url(#bl3)"/>
<circle cx="593.59" cy="408.91" r="1.04" fill="#7040e0" filter="url(#bl3)"/>
<circle cx="594.69" cy="382.30" r="1.03" fill="#d060e0" filter="url(#bl3)"/>
<circle cx="564.42" cy="376.11" r="1.09" fill="#c050d8" filter="url(#bl3)"/>
<circle cx="575.44" cy="379.99" r="0.98" fill="#60c0ff" filter="url(#bl3)"/>
<circle cx="573.55" cy="377.53" r="1.15" fill="#60c0ff" filter="url(#bl3)"/>
<circle cx="557.99" cy="373.09" r="1.08" fill="#d060e0" filter="url(#bl3)"/>
<circle cx="589.86" cy="371.66" r="1.03" fill="#c050d8" filter="url(#bl3)"/>
<circle cx="595.51" cy="409.99" r="1.02" fill="#d060e0" filter="url(#bl3)"/>
<circle cx="573.77" cy="377.99" r="1.12" fill="#c050d8" filter="url(#bl3)"/>
<circle cx="597.06" cy="389.52" r="1.01" fill="#d060e0" filter="url(#bl3)"/>
<circle cx="589.39" cy="405.46" r="1.18" fill="#60c0ff" filter="url(#bl3)"/>
<circle cx="558.35" cy="398.85" r="1.01" fill="#7040e0" filter="url(#bl3)"/>
<circle cx="575.38" cy="371.53" r="0.95" fill="#d060e0" filter="url(#bl3)"/>
<circle cx="590.32" cy="373.02" r="1.14" fill="#60c0ff" filter="url(#bl3)"/>
<circle cx="581.23" cy="372.36" r="1.04" fill="#7040e0" filter="url(#bl3)"/>
<circle cx="592.56" cy="406.88" r="0.82" fill="#c050d8" filter="url(#bl3)"/>
<circle cx="560.74" cy="377.14" r="1.01" fill="#d060e0" filter="url(#bl3)"/>
<circle cx="566.79" cy="400.40" r="0.96" fill="#c050d8" filter="url(#bl3)"/>
<circle cx="568.05" cy="372.44" r="0.82" fill="#60c0ff" filter="url(#bl3)"/>
<circle cx="561.14" cy="372.38" r="1.16" fill="#d060e0" filter="url(#bl3)"/>
<circle cx="594.32" cy="405.38" r="1.09" fill="#d060e0" filter="url(#bl3)"/>
<circle cx="560.78" cy="377.10" r="1.02" fill="#c050d8" filter="url(#bl3)"/>
<circle cx="572.26" cy="369.49" r="1.12" fill="#7040e0" filter="url(#bl3)"/>
</g>
<clipPath id="ov14"><rect x="549.6" y="365.5" width="64.39999999999998" height="48.5"/></clipPath>
<g clip-path="url(#ov14)">
<circle cx="590.30" cy="409.67" r="1.06" fill="#3030c0" filter="url(#bl3)"/>
<circle cx="593.48" cy="403.17" r="1.09" fill="#4040d0" filter="url(#bl3)"/>
<circle cx="594.09" cy="409.41" r="0.96" fill="#3030c0" filter="url(#bl3)"/>
<circle cx="593.33" cy="412.12" r="0.93" fill="#4040d0" filter="url(#bl3)"/>
<circle cx="595.21" cy="408.66" r="1.01" fill="#3030c0" filter="url(#bl3)"/>
<circle cx="598.89" cy="409.11" r="0.87" fill="#3030c0" filter="url(#bl3)"/>
<circle cx="590.62" cy="404.35" r="0.83" fill="#3030c0" filter="url(#bl3)"/>
<circle cx="604.74" cy="405.01" r="1.03" fill="#4040d0" filter="url(#bl3)"/>
</g>
<clipPath id="ov15"><rect x="617" y="365.5" width="65" height="48.5"/></clipPath>
<rect x="617.00" y="365.50" width="65.00" height="48.50" fill="#000" stroke="none" stroke-width="0.8"/>
<g clip-path="url(#ov15)">
<circle cx="678.36" cy="366.71" r="0.72" fill="#d050d8" filter="url(#bl3)"/>
<circle cx="636.13" cy="405.71" r="0.84" fill="#c040c8" filter="url(#bl3)"/>
<circle cx="676.04" cy="396.59" r="0.74" fill="#d050d8" filter="url(#bl3)"/>
<circle cx="647.77" cy="383.34" r="0.74" fill="#c040c8" filter="url(#bl3)"/>
<circle cx="660.79" cy="372.58" r="0.84" fill="#a030b0" filter="url(#bl3)"/>
<circle cx="682.08" cy="364.80" r="0.62" fill="#a030b0" filter="url(#bl3)"/>
<circle cx="667.98" cy="377.56" r="0.71" fill="#c040c8" filter="url(#bl3)"/>
<circle cx="640.63" cy="377.13" r="0.72" fill="#d050d8" filter="url(#bl3)"/>
<circle cx="679.65" cy="366.48" r="0.75" fill="#d050d8" filter="url(#bl3)"/>
<circle cx="624.35" cy="381.07" r="0.63" fill="#c040c8" filter="url(#bl3)"/>
<circle cx="625.79" cy="407.20" r="0.65" fill="#d050d8" filter="url(#bl3)"/>
<circle cx="678.52" cy="366.20" r="0.89" fill="#c040c8" filter="url(#bl3)"/>
<circle cx="666.47" cy="394.81" r="0.68" fill="#c040c8" filter="url(#bl3)"/>
<circle cx="657.25" cy="372.68" r="0.85" fill="#d050d8" filter="url(#bl3)"/>
<circle cx="642.69" cy="395.85" r="0.78" fill="#d050d8" filter="url(#bl3)"/>
<circle cx="678.61" cy="398.83" r="0.70" fill="#d050d8" filter="url(#bl3)"/>
<circle cx="676.85" cy="398.39" r="0.87" fill="#a030b0" filter="url(#bl3)"/>
<circle cx="680.30" cy="364.58" r="0.62" fill="#c040c8" filter="url(#bl3)"/>
<circle cx="658.94" cy="391.19" r="0.90" fill="#a030b0" filter="url(#bl3)"/>
<circle cx="655.32" cy="384.15" r="0.64" fill="#c040c8" filter="url(#bl3)"/>
<circle cx="640.91" cy="389.25" r="0.79" fill="#a030b0" filter="url(#bl3)"/>
<circle cx="673.60" cy="386.59" r="0.60" fill="#c040c8" filter="url(#bl3)"/>
<circle cx="661.50" cy="371.96" r="0.83" fill="#d050d8" filter="url(#bl3)"/>
<circle cx="645.92" cy="410.76" r="0.79" fill="#a030b0" filter="url(#bl3)"/>
<circle cx="663.47" cy="394.56" r="0.81" fill="#d050d8" filter="url(#bl3)"/>
<circle cx="648.89" cy="395.27" r="0.89" fill="#c040c8" filter="url(#bl3)"/>
<circle cx="671.04" cy="374.81" r="0.81" fill="#c040c8" filter="url(#bl3)"/>
<circle cx="681.06" cy="362.99" r="0.76" fill="#c040c8" filter="url(#bl3)"/>
<circle cx="641.30" cy="395.65" r="0.71" fill="#c040c8" filter="url(#bl3)"/>
<circle cx="661.41" cy="373.15" r="0.74" fill="#d050d8" filter="url(#bl3)"/>
<circle cx="688.43" cy="363.83" r="0.67" fill="#c040c8" filter="url(#bl3)"/>
<circle cx="648.47" cy="387.03" r="0.61" fill="#a030b0" filter="url(#bl3)"/>
<circle cx="676.52" cy="369.64" r="0.78" fill="#d050d8" filter="url(#bl3)"/>
<circle cx="683.48" cy="370.35" r="0.74" fill="#d050d8" filter="url(#bl3)"/>
<circle cx="680.22" cy="367.44" r="0.83" fill="#a030b0" filter="url(#bl3)"/>
<circle cx="678.45" cy="369.89" r="0.73" fill="#c040c8" filter="url(#bl3)"/>
<circle cx="684.55" cy="364.30" r="0.68" fill="#a030b0" filter="url(#bl3)"/>
<circle cx="668.15" cy="372.53" r="0.76" fill="#c040c8" filter="url(#bl3)"/>
<circle cx="674.62" cy="400.16" r="0.72" fill="#a030b0" filter="url(#bl3)"/>
<circle cx="674.56" cy="396.80" r="0.71" fill="#d050d8" filter="url(#bl3)"/>
<circle cx="657.25" cy="373.28" r="0.82" fill="#a030b0" filter="url(#bl3)"/>
<circle cx="659.79" cy="373.35" r="0.81" fill="#d050d8" filter="url(#bl3)"/>
<circle cx="635.39" cy="390.86" r="0.86" fill="#c040c8" filter="url(#bl3)"/>
<circle cx="668.49" cy="372.36" r="0.76" fill="#a030b0" filter="url(#bl3)"/>
<circle cx="667.07" cy="399.71" r="0.84" fill="#c040c8" filter="url(#bl3)"/>
</g>
<clipPath id="zi1"><rect x="414" y="420.8" width="65" height="49.2"/></clipPath>
<rect x="414.00" y="420.80" width="65.00" height="49.20" fill="#000" stroke="none" stroke-width="0.8"/>
<g clip-path="url(#zi1)">
<ellipse cx="418.29" cy="435.20" rx="3.90" ry="3.60" fill="#7a0a20" opacity="0.8" filter="url(#bl2)"/>
<ellipse cx="418.29" cy="435.20" rx="2.60" ry="2.40" fill="#2828ff" filter="url(#bl3)"/>
<ellipse cx="428.46" cy="431.14" rx="2.40" ry="2.20" fill="#2828ff" filter="url(#bl3)"/>
<ellipse cx="435.77" cy="427.07" rx="2.50" ry="2.30" fill="#2828ff" filter="url(#bl3)"/>
<ellipse cx="463.01" cy="424.23" rx="2.50" ry="2.30" fill="#2828ff" filter="url(#bl3)"/>
<ellipse cx="473.98" cy="424.23" rx="2.50" ry="2.30" fill="#2828ff" filter="url(#bl3)"/>
<ellipse cx="454.88" cy="446.18" rx="7.20" ry="7.92" fill="#8a0a20" opacity="0.8" filter="url(#bl2)"/>
<ellipse cx="454.88" cy="446.18" rx="4.00" ry="4.40" fill="#2828ff" filter="url(#bl3)"/>
<ellipse cx="467.07" cy="452.68" rx="3.90" ry="3.90" fill="#7a0a20" opacity="0.8" filter="url(#bl2)"/>
<ellipse cx="467.07" cy="452.68" rx="2.60" ry="2.60" fill="#2828ff" filter="url(#bl3)"/>
<ellipse cx="419.11" cy="452.68" rx="2.40" ry="2.60" fill="#2828ff" filter="url(#bl3)"/>
<ellipse cx="416.26" cy="466.50" rx="2.20" ry="2.20" fill="#2828ff" filter="url(#bl3)"/>
<ellipse cx="454.88" cy="468.94" rx="2.50" ry="2.50" fill="#2828ff" filter="url(#bl3)"/>
</g>
<clipPath id="zi2"><rect x="482.6" y="420.8" width="64.39999999999998" height="49.2"/></clipPath>
<rect x="482.60" y="420.80" width="64.40" height="49.20" fill="#000" stroke="none" stroke-width="0.8"/>
<g clip-path="url(#zi2)">
<ellipse cx="492.68" cy="435.20" rx="3.64" ry="3.08" fill="#501040" opacity="0.8" filter="url(#bl2)"/>
<ellipse cx="492.68" cy="435.20" rx="2.60" ry="2.20" fill="#b060e0" filter="url(#bl3)"/>
<ellipse cx="494.31" cy="443.33" rx="2.60" ry="2.60" fill="#b060e0" filter="url(#bl3)"/>
<ellipse cx="517.89" cy="433.17" rx="2.40" ry="3.00" fill="#b060e0" filter="url(#bl3)"/>
<ellipse cx="497.56" cy="458.78" rx="2.70" ry="2.50" fill="#b060e0" filter="url(#bl3)"/>
<ellipse cx="521.95" cy="459.59" rx="2.80" ry="2.60" fill="#b060e0" filter="url(#bl3)"/>
<ellipse cx="532.93" cy="441.30" rx="2.70" ry="2.70" fill="#b060e0" filter="url(#bl3)"/>
<ellipse cx="539.02" cy="439.27" rx="2.50" ry="2.50" fill="#b060e0" filter="url(#bl3)"/>
<ellipse cx="543.09" cy="433.17" rx="2.40" ry="2.40" fill="#b060e0" filter="url(#bl3)"/>
</g>
<clipPath id="zi3"><rect x="549.6" y="420.8" width="64.39999999999998" height="49.2"/></clipPath>
<rect x="549.60" y="420.80" width="64.40" height="49.20" fill="#000" stroke="none" stroke-width="0.8"/>
<g clip-path="url(#zi3)">
<ellipse cx="558.54" cy="432.36" rx="3.40" ry="3.40" fill="#d01818" opacity="0.8" filter="url(#bl2)"/>
<ellipse cx="558.54" cy="432.36" rx="2.00" ry="2.00" fill="#40c8f0" filter="url(#bl3)"/>
<ellipse cx="572.76" cy="431.14" rx="3.96" ry="3.60" fill="#d01818" opacity="0.8" filter="url(#bl2)"/>
<ellipse cx="572.76" cy="431.14" rx="2.20" ry="2.00" fill="#3060ff" filter="url(#bl3)"/>
<ellipse cx="580.08" cy="445.37" rx="6.00" ry="8.00" fill="#d01818" opacity="0.8" filter="url(#bl2)"/>
<ellipse cx="580.08" cy="445.37" rx="3.00" ry="4.00" fill="#40c8f0" filter="url(#bl3)"/>
<ellipse cx="601.22" cy="450.24" rx="7.82" ry="6.90" fill="#d01818" opacity="0.8" filter="url(#bl2)"/>
<ellipse cx="601.22" cy="450.24" rx="3.40" ry="3.00" fill="#40c8f0" filter="url(#bl3)"/>
<ellipse cx="552.44" cy="466.50" rx="2.00" ry="2.00" fill="#3060ff" filter="url(#bl3)"/>
</g>
<clipPath id="zi4"><rect x="617" y="420.8" width="65" height="49.2"/></clipPath>
<rect x="617.00" y="420.80" width="65.00" height="49.20" fill="#000" stroke="none" stroke-width="0.8"/>
<g clip-path="url(#zi4)">
<ellipse cx="658.13" cy="427.07" rx="1.80" ry="1.60" fill="#f040f0" filter="url(#bl3)"/>
<ellipse cx="652.03" cy="436.42" rx="1.80" ry="1.50" fill="#f040f0" filter="url(#bl3)"/>
<ellipse cx="665.04" cy="435.20" rx="1.60" ry="1.80" fill="#f040f0" filter="url(#bl3)"/>
<ellipse cx="629.67" cy="441.30" rx="1.50" ry="1.90" fill="#f040f0" filter="url(#bl3)"/>
<ellipse cx="643.09" cy="443.33" rx="1.80" ry="1.50" fill="#f040f0" filter="url(#bl3)"/>
<ellipse cx="647.97" cy="450.24" rx="1.70" ry="1.70" fill="#f040f0" filter="url(#bl3)"/>
<ellipse cx="658.94" cy="449.43" rx="1.60" ry="1.80" fill="#f040f0" filter="url(#bl3)"/>
<ellipse cx="672.36" cy="446.18" rx="1.60" ry="1.80" fill="#f040f0" filter="url(#bl3)"/>
<ellipse cx="641.87" cy="459.59" rx="1.80" ry="1.60" fill="#f040f0" filter="url(#bl3)"/>
<ellipse cx="633.74" cy="461.63" rx="1.70" ry="1.60" fill="#f040f0" filter="url(#bl3)"/>
<ellipse cx="652.03" cy="460.81" rx="1.60" ry="1.70" fill="#f040f0" filter="url(#bl3)"/>
<ellipse cx="647.97" cy="468.94" rx="1.70" ry="1.60" fill="#f040f0" filter="url(#bl3)"/>
</g>
<path d="M446.50 414.5 L414.00 420.5 M446.50 414.5 L479.00 420.5" stroke="#111" stroke-width="1.1" stroke-dasharray="1.4 0.9" fill="none"/>
<path d="M514.80 414.5 L482.60 420.5 M514.80 414.5 L547.00 420.5" stroke="#111" stroke-width="1.1" stroke-dasharray="1.4 0.9" fill="none"/>
<path d="M581.80 414.5 L549.60 420.5 M581.80 414.5 L614.00 420.5" stroke="#111" stroke-width="1.1" stroke-dasharray="1.4 0.9" fill="none"/>
<path d="M649.50 414.5 L617.00 420.5 M649.50 414.5 L682.00 420.5" stroke="#111" stroke-width="1.1" stroke-dasharray="1.4 0.9" fill="none"/>
<path d="M415.20 510.20 L434.77 510.20 L436.08 480.10 L439.21 478.74 L442.34 479.42 L445.48 479.76 L447.56 480.79 L448.87 510.20 L467.40 510.20 Z" fill="#c6e8f1" stroke="#62bfd6" stroke-width="0.6"/>
<path d="M415.20 510.20 L426.68 510.20 L429.82 506.78 L432.95 504.04 L435.04 503.36 L436.08 508.49 L447.56 508.15 L448.87 503.02 L451.74 504.39 L454.87 507.46 L458.00 510.20 L467.40 510.20 Z" fill="#caa89f" fill-opacity="0.5" stroke="#e07868" stroke-width="0.5"/>
<line x1="415.20" y1="474.00" x2="415.20" y2="510.20" stroke="#333" stroke-width="0.5"/>
<line x1="415.20" y1="510.20" x2="467.40" y2="510.20" stroke="#333" stroke-width="0.5"/>
<line x1="453.90" y1="478.20" x2="458.20" y2="478.20" stroke="#62bfd6" stroke-width="0.7"/>
<text x="459.40" y="479.80" font-size="4.4" text-anchor="start" fill="#555">DAPI</text>
<line x1="453.90" y1="483.30" x2="458.20" y2="483.30" stroke="#e07868" stroke-width="0.7"/>
<text x="459.40" y="484.90" font-size="4.4" text-anchor="start" fill="#555">NRF2</text>
<text x="441.30" y="517.70" font-size="3.4" text-anchor="middle" fill="#444">Distance (pixels)</text>
<text x="410.00" y="492.10" font-size="3.2" text-anchor="middle" fill="#222" transform="rotate(-90 410.0 492.1)">Gray value</text>
<line x1="415.20" y1="510.20" x2="415.20" y2="511.20" stroke="#333" stroke-width="0.4"/>
<text x="415.20" y="514.00" font-size="2.6" text-anchor="middle" fill="#444">0</text>
<line x1="425.64" y1="510.20" x2="425.64" y2="511.20" stroke="#333" stroke-width="0.4"/>
<text x="425.64" y="514.00" font-size="2.6" text-anchor="middle" fill="#444">50</text>
<line x1="436.08" y1="510.20" x2="436.08" y2="511.20" stroke="#333" stroke-width="0.4"/>
<text x="436.08" y="514.00" font-size="2.6" text-anchor="middle" fill="#444">100</text>
<line x1="446.52" y1="510.20" x2="446.52" y2="511.20" stroke="#333" stroke-width="0.4"/>
<text x="446.52" y="514.00" font-size="2.6" text-anchor="middle" fill="#444">150</text>
<line x1="456.96" y1="510.20" x2="456.96" y2="511.20" stroke="#333" stroke-width="0.4"/>
<text x="456.96" y="514.00" font-size="2.6" text-anchor="middle" fill="#444">200</text>
<line x1="467.40" y1="510.20" x2="467.40" y2="511.20" stroke="#333" stroke-width="0.4"/>
<text x="467.40" y="514.00" font-size="2.6" text-anchor="middle" fill="#444">250</text>
<line x1="414.20" y1="510.20" x2="415.20" y2="510.20" stroke="#333" stroke-width="0.4"/>
<text x="413.80" y="511.10" font-size="2.6" text-anchor="end" fill="#444">0</text>
<line x1="414.20" y1="503.36" x2="415.20" y2="503.36" stroke="#333" stroke-width="0.4"/>
<text x="413.80" y="504.26" font-size="2.6" text-anchor="end" fill="#444">20</text>
<line x1="414.20" y1="496.52" x2="415.20" y2="496.52" stroke="#333" stroke-width="0.4"/>
<text x="413.80" y="497.42" font-size="2.6" text-anchor="end" fill="#444">40</text>
<line x1="414.20" y1="489.68" x2="415.20" y2="489.68" stroke="#333" stroke-width="0.4"/>
<text x="413.80" y="490.58" font-size="2.6" text-anchor="end" fill="#444">60</text>
<line x1="414.20" y1="482.84" x2="415.20" y2="482.84" stroke="#333" stroke-width="0.4"/>
<text x="413.80" y="483.74" font-size="2.6" text-anchor="end" fill="#444">80</text>
<line x1="414.20" y1="476.00" x2="415.20" y2="476.00" stroke="#333" stroke-width="0.4"/>
<text x="413.80" y="476.90" font-size="2.6" text-anchor="end" fill="#444">100</text>
<path d="M483.00 510.20 L490.20 510.20 L492.12 485.58 L495.00 483.52 L497.40 482.84 L500.28 485.58 L503.16 484.21 L506.04 485.58 L509.40 482.84 L511.80 485.58 L513.24 489.68 L515.16 510.20 L531.00 510.20 Z" fill="#c6e8f1" stroke="#62bfd6" stroke-width="0.6"/>
<path d="M483.00 510.20 L491.16 510.20 L492.60 501.65 L495.48 498.23 L498.36 495.84 L501.24 494.81 L504.12 490.36 L507.00 493.10 L509.88 495.84 L511.80 499.94 L513.72 506.78 L514.68 510.20 L531.00 510.20 Z" fill="#caa89f" fill-opacity="0.5" stroke="#e07868" stroke-width="0.5"/>
<line x1="483.00" y1="474.00" x2="483.00" y2="510.20" stroke="#333" stroke-width="0.5"/>
<line x1="483.00" y1="510.20" x2="531.00" y2="510.20" stroke="#333" stroke-width="0.5"/>
<line x1="517.50" y1="478.20" x2="521.80" y2="478.20" stroke="#62bfd6" stroke-width="0.7"/>
<text x="523.00" y="479.80" font-size="4.4" text-anchor="start" fill="#555">DAPI</text>
<line x1="517.50" y1="483.30" x2="521.80" y2="483.30" stroke="#e07868" stroke-width="0.7"/>
<text x="523.00" y="484.90" font-size="4.4" text-anchor="start" fill="#555">NRF2</text>
<text x="507.00" y="517.70" font-size="3.4" text-anchor="middle" fill="#444">Distance (pixels)</text>
<text x="477.80" y="492.10" font-size="3.2" text-anchor="middle" fill="#222" transform="rotate(-90 477.8 492.1)">Gray value</text>
<line x1="483.00" y1="510.20" x2="483.00" y2="511.20" stroke="#333" stroke-width="0.4"/>
<text x="483.00" y="514.00" font-size="2.6" text-anchor="middle" fill="#444">0</text>
<line x1="492.60" y1="510.20" x2="492.60" y2="511.20" stroke="#333" stroke-width="0.4"/>
<text x="492.60" y="514.00" font-size="2.6" text-anchor="middle" fill="#444">20</text>
<line x1="502.20" y1="510.20" x2="502.20" y2="511.20" stroke="#333" stroke-width="0.4"/>
<text x="502.20" y="514.00" font-size="2.6" text-anchor="middle" fill="#444">40</text>
<line x1="511.80" y1="510.20" x2="511.80" y2="511.20" stroke="#333" stroke-width="0.4"/>
<text x="511.80" y="514.00" font-size="2.6" text-anchor="middle" fill="#444">60</text>
<line x1="521.40" y1="510.20" x2="521.40" y2="511.20" stroke="#333" stroke-width="0.4"/>
<text x="521.40" y="514.00" font-size="2.6" text-anchor="middle" fill="#444">80</text>
<line x1="531.00" y1="510.20" x2="531.00" y2="511.20" stroke="#333" stroke-width="0.4"/>
<text x="531.00" y="514.00" font-size="2.6" text-anchor="middle" fill="#444">100</text>
<line x1="482.00" y1="510.20" x2="483.00" y2="510.20" stroke="#333" stroke-width="0.4"/>
<text x="481.60" y="511.10" font-size="2.6" text-anchor="end" fill="#444">0</text>
<line x1="482.00" y1="493.10" x2="483.00" y2="493.10" stroke="#333" stroke-width="0.4"/>
<text x="481.60" y="494.00" font-size="2.6" text-anchor="end" fill="#444">50</text>
<line x1="482.00" y1="476.00" x2="483.00" y2="476.00" stroke="#333" stroke-width="0.4"/>
<text x="481.60" y="476.90" font-size="2.6" text-anchor="end" fill="#444">100</text>
<path d="M549.30 510.20 L567.19 510.20 L568.81 489.68 L570.98 482.16 L573.15 479.42 L576.40 481.13 L578.57 489.68 L579.65 494.81 L580.74 510.20 L603.50 510.20 Z" fill="#c6e8f1" stroke="#62bfd6" stroke-width="0.6"/>
<path d="M549.30 510.20 L558.51 510.20 L560.14 503.36 L561.77 499.94 L563.93 502.68 L566.10 499.26 L567.73 505.07 L570.98 506.78 L576.40 506.10 L579.65 505.07 L581.82 499.26 L583.99 500.62 L586.16 497.20 L588.32 499.94 L590.49 498.91 L592.66 505.07 L594.83 506.10 L596.45 510.20 L603.50 510.20 Z" fill="#caa89f" fill-opacity="0.5" stroke="#e07868" stroke-width="0.5"/>
<line x1="549.30" y1="474.00" x2="549.30" y2="510.20" stroke="#333" stroke-width="0.5"/>
<line x1="549.30" y1="510.20" x2="603.50" y2="510.20" stroke="#333" stroke-width="0.5"/>
<line x1="590.00" y1="478.20" x2="594.30" y2="478.20" stroke="#62bfd6" stroke-width="0.7"/>
<text x="595.50" y="479.80" font-size="4.4" text-anchor="start" fill="#555">DAPI</text>
<line x1="590.00" y1="483.30" x2="594.30" y2="483.30" stroke="#e07868" stroke-width="0.7"/>
<text x="595.50" y="484.90" font-size="4.4" text-anchor="start" fill="#555">NRF2</text>
<text x="576.40" y="517.70" font-size="3.4" text-anchor="middle" fill="#444">Distance (pixels)</text>
<text x="544.10" y="492.10" font-size="3.2" text-anchor="middle" fill="#222" transform="rotate(-90 544.0999999999999 492.1)">Gray value</text>
<line x1="549.30" y1="510.20" x2="549.30" y2="511.20" stroke="#333" stroke-width="0.4"/>
<text x="549.30" y="514.00" font-size="2.6" text-anchor="middle" fill="#444">0</text>
<line x1="560.14" y1="510.20" x2="560.14" y2="511.20" stroke="#333" stroke-width="0.4"/>
<text x="560.14" y="514.00" font-size="2.6" text-anchor="middle" fill="#444">20</text>
<line x1="570.98" y1="510.20" x2="570.98" y2="511.20" stroke="#333" stroke-width="0.4"/>
<text x="570.98" y="514.00" font-size="2.6" text-anchor="middle" fill="#444">40</text>
<line x1="581.82" y1="510.20" x2="581.82" y2="511.20" stroke="#333" stroke-width="0.4"/>
<text x="581.82" y="514.00" font-size="2.6" text-anchor="middle" fill="#444">60</text>
<line x1="592.66" y1="510.20" x2="592.66" y2="511.20" stroke="#333" stroke-width="0.4"/>
<text x="592.66" y="514.00" font-size="2.6" text-anchor="middle" fill="#444">80</text>
<line x1="603.50" y1="510.20" x2="603.50" y2="511.20" stroke="#333" stroke-width="0.4"/>
<text x="603.50" y="514.00" font-size="2.6" text-anchor="middle" fill="#444">100</text>
<line x1="548.30" y1="510.20" x2="549.30" y2="510.20" stroke="#333" stroke-width="0.4"/>
<text x="547.90" y="511.10" font-size="2.6" text-anchor="end" fill="#444">0</text>
<line x1="548.30" y1="493.10" x2="549.30" y2="493.10" stroke="#333" stroke-width="0.4"/>
<text x="547.90" y="494.00" font-size="2.6" text-anchor="end" fill="#444">50</text>
<line x1="548.30" y1="476.00" x2="549.30" y2="476.00" stroke="#333" stroke-width="0.4"/>
<text x="547.90" y="476.90" font-size="2.6" text-anchor="end" fill="#444">100</text>
<path d="M617.60 510.20 L637.08 510.20 L638.70 486.26 L641.40 481.13 L644.65 483.52 L647.90 479.42 L651.14 482.16 L654.39 485.58 L656.55 499.94 L657.63 510.20 L671.70 510.20 Z" fill="#c6e8f1" stroke="#62bfd6" stroke-width="0.6"/>
<path d="M617.60 510.20 L625.72 510.20 L631.12 508.49 L637.08 506.10 L638.16 489.68 L644.65 489.00 L655.47 489.00 L656.55 506.78 L657.63 510.20 L671.70 510.20 Z" fill="#caa89f" fill-opacity="0.5" stroke="#e07868" stroke-width="0.5"/>
<line x1="617.60" y1="474.00" x2="617.60" y2="510.20" stroke="#333" stroke-width="0.5"/>
<line x1="617.60" y1="510.20" x2="671.70" y2="510.20" stroke="#333" stroke-width="0.5"/>
<line x1="658.20" y1="478.20" x2="662.50" y2="478.20" stroke="#62bfd6" stroke-width="0.7"/>
<text x="663.70" y="479.80" font-size="4.4" text-anchor="start" fill="#555">DAPI</text>
<line x1="658.20" y1="483.30" x2="662.50" y2="483.30" stroke="#e07868" stroke-width="0.7"/>
<text x="663.70" y="484.90" font-size="4.4" text-anchor="start" fill="#555">NRF2</text>
<text x="644.65" y="517.70" font-size="3.4" text-anchor="middle" fill="#444">Distance (pixels)</text>
<text x="612.40" y="492.10" font-size="3.2" text-anchor="middle" fill="#222" transform="rotate(-90 612.4 492.1)">Gray value</text>
<line x1="617.60" y1="510.20" x2="617.60" y2="511.20" stroke="#333" stroke-width="0.4"/>
<text x="617.60" y="514.00" font-size="2.6" text-anchor="middle" fill="#444">0</text>
<line x1="628.42" y1="510.20" x2="628.42" y2="511.20" stroke="#333" stroke-width="0.4"/>
<text x="628.42" y="514.00" font-size="2.6" text-anchor="middle" fill="#444">20</text>
<line x1="639.24" y1="510.20" x2="639.24" y2="511.20" stroke="#333" stroke-width="0.4"/>
<text x="639.24" y="514.00" font-size="2.6" text-anchor="middle" fill="#444">40</text>
<line x1="650.06" y1="510.20" x2="650.06" y2="511.20" stroke="#333" stroke-width="0.4"/>
<text x="650.06" y="514.00" font-size="2.6" text-anchor="middle" fill="#444">60</text>
<line x1="660.88" y1="510.20" x2="660.88" y2="511.20" stroke="#333" stroke-width="0.4"/>
<text x="660.88" y="514.00" font-size="2.6" text-anchor="middle" fill="#444">80</text>
<line x1="671.70" y1="510.20" x2="671.70" y2="511.20" stroke="#333" stroke-width="0.4"/>
<text x="671.70" y="514.00" font-size="2.6" text-anchor="middle" fill="#444">100</text>
<line x1="616.60" y1="510.20" x2="617.60" y2="510.20" stroke="#333" stroke-width="0.4"/>
<text x="616.20" y="511.10" font-size="2.6" text-anchor="end" fill="#444">0</text>
<line x1="616.60" y1="493.10" x2="617.60" y2="493.10" stroke="#333" stroke-width="0.4"/>
<text x="616.20" y="494.00" font-size="2.6" text-anchor="end" fill="#444">50</text>
<line x1="616.60" y1="476.00" x2="617.60" y2="476.00" stroke="#333" stroke-width="0.4"/>
<text x="616.20" y="476.90" font-size="2.6" text-anchor="end" fill="#444">100</text>
<text x="384.40" y="529.75" font-size="9.2" text-anchor="middle" font-weight="bold" fill="#111">PBK</text>
<text x="384.50" y="542.75" font-size="9.2" text-anchor="middle" font-weight="bold" fill="#111">CLDN6</text>
<text x="446.30" y="529.60" font-size="8" text-anchor="middle" font-weight="bold" fill="#111">-</text>
<text x="513.30" y="529.88" font-size="8" text-anchor="middle" font-weight="bold" fill="#111">+</text>
<text x="580.00" y="529.60" font-size="8" text-anchor="middle" font-weight="bold" fill="#111">-</text>
<text x="646.50" y="529.88" font-size="8" text-anchor="middle" font-weight="bold" fill="#111">+</text>
<text x="446.30" y="542.60" font-size="8" text-anchor="middle" font-weight="bold" fill="#111">-</text>
<text x="513.30" y="542.88" font-size="8" text-anchor="middle" font-weight="bold" fill="#111">+</text>
<text x="580.00" y="542.60" font-size="8" text-anchor="middle" font-weight="bold" fill="#111">-</text>
<text x="646.50" y="542.88" font-size="8" text-anchor="middle" font-weight="bold" fill="#111">+</text>
<line x1="440.70" y1="548.50" x2="520.00" y2="548.50" stroke="#555" stroke-width="0.8"/>
<line x1="575.00" y1="548.50" x2="655.50" y2="548.50" stroke="#555" stroke-width="0.8"/>
<text x="479.80" y="559.80" font-size="6.4" text-anchor="middle" font-weight="bold" fill="#111">MDA-MB-231</text>
<text x="617.60" y="559.80" font-size="6.6" text-anchor="middle" font-weight="bold" fill="#111">MCF-7</text>
<text x="348.50" y="567.00" font-size="16.3" text-anchor="start" fill="#000">K</text>
<text x="349.60" y="767.30" font-size="16.3" text-anchor="start" fill="#000">L</text>
<text x="513.00" y="767.50" font-size="16.3" text-anchor="start" fill="#000">M</text>
<rect x="403.65" y="570.04" width="5.04" height="4.20" fill="#dff2f7" stroke="#55bdd6" stroke-width="0.5"/>
<line x1="402.65" y1="572.14" x2="409.69" y2="572.14" stroke="#55bdd6" stroke-width="0.5"/>
<line x1="406.17" y1="570.04" x2="406.17" y2="574.24" stroke="#55bdd6" stroke-width="0.7"/>
<text x="411.72" y="573.91" font-size="4.9" text-anchor="start" fill="#333">CLDN6+Vector</text>
<rect x="448.27" y="570.04" width="5.55" height="4.20" fill="#f9dad5" stroke="#e2584a" stroke-width="0.5"/>
<line x1="447.27" y1="572.14" x2="454.82" y2="572.14" stroke="#e2584a" stroke-width="0.5"/>
<line x1="451.04" y1="570.04" x2="451.04" y2="574.24" stroke="#e2584a" stroke-width="0.7"/>
<text x="456.59" y="573.91" font-size="4.9" text-anchor="start" fill="#333">CLDN6+PBK</text>
<line x1="395.71" y1="578.19" x2="395.71" y2="600.37" stroke="#f0f0f0" stroke-width="0.5"/>
<line x1="416.26" y1="578.19" x2="416.26" y2="600.37" stroke="#f0f0f0" stroke-width="0.5"/>
<line x1="436.42" y1="578.19" x2="436.42" y2="600.37" stroke="#f0f0f0" stroke-width="0.5"/>
<line x1="456.59" y1="578.19" x2="456.59" y2="600.37" stroke="#f0f0f0" stroke-width="0.5"/>
<line x1="476.75" y1="578.19" x2="476.75" y2="600.37" stroke="#f0f0f0" stroke-width="0.5"/>
<line x1="497.80" y1="578.19" x2="497.80" y2="600.37" stroke="#f0f0f0" stroke-width="0.5"/>
<line x1="374.79" y1="578.19" x2="374.79" y2="600.37" stroke="#f0f0f0" stroke-width="0.5"/>
<line x1="385.25" y1="578.19" x2="385.25" y2="600.37" stroke="#e3e3e3" stroke-width="0.7"/>
<line x1="406.17" y1="578.19" x2="406.17" y2="600.37" stroke="#e3e3e3" stroke-width="0.7"/>
<line x1="426.34" y1="578.19" x2="426.34" y2="600.37" stroke="#e3e3e3" stroke-width="0.7"/>
<line x1="446.50" y1="578.19" x2="446.50" y2="600.37" stroke="#e3e3e3" stroke-width="0.7"/>
<line x1="466.67" y1="578.19" x2="466.67" y2="600.37" stroke="#e3e3e3" stroke-width="0.7"/>
<line x1="486.84" y1="578.19" x2="486.84" y2="600.37" stroke="#e3e3e3" stroke-width="0.7"/>
<line x1="508.77" y1="578.19" x2="508.77" y2="600.37" stroke="#e3e3e3" stroke-width="0.7"/>
<line x1="371.39" y1="583.99" x2="514.31" y2="583.99" stroke="#e3e3e3" stroke-width="0.7"/>
<line x1="371.39" y1="594.58" x2="514.31" y2="594.58" stroke="#e3e3e3" stroke-width="0.7"/>
<line x1="485.58" y1="583.99" x2="492.38" y2="583.99" stroke="#e2584a" stroke-width="0.6"/>
<line x1="500.70" y1="583.99" x2="502.47" y2="583.99" stroke="#e2584a" stroke-width="0.6"/>
<rect x="492.38" y="580.49" width="8.32" height="7.00" fill="#f9dad5" stroke="#e2584a" stroke-width="0.6"/>
<line x1="498.18" y1="580.49" x2="498.18" y2="587.49" stroke="#e2584a" stroke-width="1.1"/>
<circle cx="485.58" cy="583.99" r="0.9" fill="#f9dad5" stroke="#e2584a" stroke-width="0.4" opacity="0.8"/>
<circle cx="502.47" cy="583.99" r="0.9" fill="#f9dad5" stroke="#e2584a" stroke-width="0.4" opacity="0.8"/>
<line x1="374.66" y1="594.58" x2="385.75" y2="594.58" stroke="#55bdd6" stroke-width="0.6"/>
<line x1="402.39" y1="594.58" x2="407.94" y2="594.58" stroke="#55bdd6" stroke-width="0.6"/>
<rect x="385.75" y="591.08" width="16.64" height="7.00" fill="#dff2f7" stroke="#55bdd6" stroke-width="0.6"/>
<line x1="396.09" y1="591.08" x2="396.09" y2="598.08" stroke="#55bdd6" stroke-width="1.1"/>
<circle cx="374.66" cy="594.58" r="0.9" fill="#dff2f7" stroke="#55bdd6" stroke-width="0.4" opacity="0.8"/>
<circle cx="407.94" cy="594.58" r="0.9" fill="#dff2f7" stroke="#55bdd6" stroke-width="0.4" opacity="0.8"/>
<rect x="371.39" y="578.19" width="142.93" height="22.18" fill="none" stroke="#222" stroke-width="0.9"/>
<line x1="369.59" y1="583.99" x2="371.39" y2="583.99" stroke="#333" stroke-width="0.6"/>
<line x1="369.59" y1="594.58" x2="371.39" y2="594.58" stroke="#333" stroke-width="0.6"/>
<path d="M503.73 583.99 H505.93 V594.58 H503.73" fill="none" stroke="#222" stroke-width="0.7"/>
<text x="507.29" y="589.28" font-size="5.5" text-anchor="middle" font-weight="bold" fill="#222" transform="rotate(90 507.2927501890597 589.2828333753466)">***</text>
<line x1="385.25" y1="600.37" x2="385.25" y2="602.17" stroke="#333" stroke-width="0.6"/>
<text x="385.25" y="609.56" font-size="4.4" text-anchor="middle" fill="#333">0.30</text>
<line x1="406.17" y1="600.37" x2="406.17" y2="602.17" stroke="#333" stroke-width="0.6"/>
<text x="406.17" y="609.56" font-size="4.4" text-anchor="middle" fill="#333">0.35</text>
<line x1="426.34" y1="600.37" x2="426.34" y2="602.17" stroke="#333" stroke-width="0.6"/>
<text x="426.34" y="609.56" font-size="4.4" text-anchor="middle" fill="#333">0.40</text>
<line x1="446.50" y1="600.37" x2="446.50" y2="602.17" stroke="#333" stroke-width="0.6"/>
<text x="446.50" y="609.56" font-size="4.4" text-anchor="middle" fill="#333">0.45</text>
<line x1="466.67" y1="600.37" x2="466.67" y2="602.17" stroke="#333" stroke-width="0.6"/>
<text x="466.67" y="609.56" font-size="4.4" text-anchor="middle" fill="#333">0.50</text>
<line x1="486.84" y1="600.37" x2="486.84" y2="602.17" stroke="#333" stroke-width="0.6"/>
<text x="486.84" y="609.56" font-size="4.4" text-anchor="middle" fill="#333">0.55</text>
<line x1="508.77" y1="600.37" x2="508.77" y2="602.17" stroke="#333" stroke-width="0.6"/>
<text x="508.77" y="609.56" font-size="4.4" text-anchor="middle" fill="#333">0.60</text>
<text x="363.23" y="589.53" font-size="5.5" text-anchor="middle" fill="#222" transform="rotate(-90 363.2269914292917 589.5349130325183)">MDA-MB-231</text>
<line x1="395.84" y1="611.72" x2="395.84" y2="635.16" stroke="#f0f0f0" stroke-width="0.5"/>
<line x1="418.40" y1="611.72" x2="418.40" y2="635.16" stroke="#f0f0f0" stroke-width="0.5"/>
<line x1="440.83" y1="611.72" x2="440.83" y2="635.16" stroke="#f0f0f0" stroke-width="0.5"/>
<line x1="463.14" y1="611.72" x2="463.14" y2="635.16" stroke="#f0f0f0" stroke-width="0.5"/>
<line x1="485.45" y1="611.72" x2="485.45" y2="635.16" stroke="#f0f0f0" stroke-width="0.5"/>
<line x1="373.15" y1="611.72" x2="373.15" y2="635.16" stroke="#f0f0f0" stroke-width="0.5"/>
<line x1="508.01" y1="611.72" x2="508.01" y2="635.16" stroke="#f0f0f0" stroke-width="0.5"/>
<line x1="384.49" y1="611.72" x2="384.49" y2="635.16" stroke="#e3e3e3" stroke-width="0.7"/>
<line x1="407.18" y1="611.72" x2="407.18" y2="635.16" stroke="#e3e3e3" stroke-width="0.7"/>
<line x1="429.62" y1="611.72" x2="429.62" y2="635.16" stroke="#e3e3e3" stroke-width="0.7"/>
<line x1="452.05" y1="611.72" x2="452.05" y2="635.16" stroke="#e3e3e3" stroke-width="0.7"/>
<line x1="474.23" y1="611.72" x2="474.23" y2="635.16" stroke="#e3e3e3" stroke-width="0.7"/>
<line x1="496.67" y1="611.72" x2="496.67" y2="635.16" stroke="#e3e3e3" stroke-width="0.7"/>
<line x1="371.39" y1="618.52" x2="514.31" y2="618.52" stroke="#e3e3e3" stroke-width="0.7"/>
<line x1="371.39" y1="629.36" x2="514.31" y2="629.36" stroke="#e3e3e3" stroke-width="0.7"/>
<line x1="440.71" y1="618.52" x2="457.09" y2="618.52" stroke="#e2584a" stroke-width="0.6"/>
<line x1="487.34" y1="618.52" x2="501.71" y2="618.52" stroke="#e2584a" stroke-width="0.6"/>
<rect x="457.09" y="615.02" width="30.25" height="7.00" fill="#f9dad5" stroke="#e2584a" stroke-width="0.6"/>
<line x1="473.48" y1="615.02" x2="473.48" y2="622.02" stroke="#e2584a" stroke-width="1.1"/>
<circle cx="440.71" cy="618.52" r="0.9" fill="#f9dad5" stroke="#e2584a" stroke-width="0.4" opacity="0.8"/>
<circle cx="501.71" cy="618.52" r="0.9" fill="#f9dad5" stroke="#e2584a" stroke-width="0.4" opacity="0.8"/>
<line x1="375.17" y1="629.36" x2="380.21" y2="629.36" stroke="#55bdd6" stroke-width="0.6"/>
<line x1="386.51" y1="629.36" x2="387.77" y2="629.36" stroke="#55bdd6" stroke-width="0.6"/>
<rect x="380.21" y="625.86" width="6.30" height="7.00" fill="#dff2f7" stroke="#55bdd6" stroke-width="0.6"/>
<line x1="383.49" y1="625.86" x2="383.49" y2="632.86" stroke="#55bdd6" stroke-width="1.1"/>
<circle cx="375.17" cy="629.36" r="0.9" fill="#dff2f7" stroke="#55bdd6" stroke-width="0.4" opacity="0.8"/>
<circle cx="387.77" cy="629.36" r="0.9" fill="#dff2f7" stroke="#55bdd6" stroke-width="0.4" opacity="0.8"/>
<rect x="371.39" y="611.72" width="142.93" height="23.44" fill="none" stroke="#222" stroke-width="0.9"/>
<line x1="369.59" y1="618.52" x2="371.39" y2="618.52" stroke="#333" stroke-width="0.6"/>
<line x1="369.59" y1="629.36" x2="371.39" y2="629.36" stroke="#333" stroke-width="0.6"/>
<path d="M503.22 618.52 H505.42 V629.36 H503.22" fill="none" stroke="#222" stroke-width="0.7"/>
<text x="507.29" y="623.94" font-size="5.5" text-anchor="middle" font-weight="bold" fill="#222" transform="rotate(90 507.2927501890597 623.9437862364507)">**</text>
<line x1="384.49" y1="635.16" x2="384.49" y2="636.96" stroke="#333" stroke-width="0.6"/>
<text x="384.49" y="644.35" font-size="4.4" text-anchor="middle" fill="#333">0.3</text>
<line x1="407.18" y1="635.16" x2="407.18" y2="636.96" stroke="#333" stroke-width="0.6"/>
<text x="407.18" y="644.35" font-size="4.4" text-anchor="middle" fill="#333">0.4</text>
<line x1="429.62" y1="635.16" x2="429.62" y2="636.96" stroke="#333" stroke-width="0.6"/>
<text x="429.62" y="644.35" font-size="4.4" text-anchor="middle" fill="#333">0.5</text>
<line x1="452.05" y1="635.16" x2="452.05" y2="636.96" stroke="#333" stroke-width="0.6"/>
<text x="452.05" y="644.35" font-size="4.4" text-anchor="middle" fill="#333">0.6</text>
<line x1="474.23" y1="635.16" x2="474.23" y2="636.96" stroke="#333" stroke-width="0.6"/>
<text x="474.23" y="644.35" font-size="4.4" text-anchor="middle" fill="#333">0.7</text>
<line x1="496.67" y1="635.16" x2="496.67" y2="636.96" stroke="#333" stroke-width="0.6"/>
<text x="496.67" y="644.35" font-size="4.4" text-anchor="middle" fill="#333">0.8</text>
<text x="363.23" y="623.57" font-size="5.5" text-anchor="middle" fill="#222" transform="rotate(-90 363.2269914292917 623.5656667506933)">MCF-7</text>
<text x="442.72" y="652.12" font-size="5.8" text-anchor="middle" fill="#222">Cell Viability</text>
<rect x="380.96" y="668.86" width="5.04" height="4.20" fill="#dff2f7" stroke="#55bdd6" stroke-width="0.5"/>
<line x1="379.96" y1="670.96" x2="387.01" y2="670.96" stroke="#55bdd6" stroke-width="0.5"/>
<line x1="383.49" y1="668.86" x2="383.49" y2="673.06" stroke="#55bdd6" stroke-width="0.7"/>
<text x="389.03" y="672.72" font-size="4.9" text-anchor="start" fill="#333">CLDN6+Vector+Sorafenib</text>
<rect x="448.77" y="668.86" width="5.04" height="4.20" fill="#f9dad5" stroke="#e2584a" stroke-width="0.5"/>
<line x1="447.77" y1="670.96" x2="454.82" y2="670.96" stroke="#e2584a" stroke-width="0.5"/>
<line x1="451.29" y1="668.86" x2="451.29" y2="673.06" stroke="#e2584a" stroke-width="0.7"/>
<text x="457.09" y="672.72" font-size="4.9" text-anchor="start" fill="#333">CLDN6+PBK+Sorafenib</text>
<line x1="395.71" y1="676.51" x2="395.71" y2="700.08" stroke="#f0f0f0" stroke-width="0.5"/>
<line x1="421.93" y1="676.51" x2="421.93" y2="700.08" stroke="#f0f0f0" stroke-width="0.5"/>
<line x1="448.40" y1="676.51" x2="448.40" y2="700.08" stroke="#f0f0f0" stroke-width="0.5"/>
<line x1="474.49" y1="676.51" x2="474.49" y2="700.08" stroke="#f0f0f0" stroke-width="0.5"/>
<line x1="500.32" y1="676.51" x2="500.32" y2="700.08" stroke="#f0f0f0" stroke-width="0.5"/>
<line x1="382.73" y1="676.51" x2="382.73" y2="700.08" stroke="#e3e3e3" stroke-width="0.7"/>
<line x1="408.69" y1="676.51" x2="408.69" y2="700.08" stroke="#e3e3e3" stroke-width="0.7"/>
<line x1="435.16" y1="676.51" x2="435.16" y2="700.08" stroke="#e3e3e3" stroke-width="0.7"/>
<line x1="461.63" y1="676.51" x2="461.63" y2="700.08" stroke="#e3e3e3" stroke-width="0.7"/>
<line x1="487.34" y1="676.51" x2="487.34" y2="700.08" stroke="#e3e3e3" stroke-width="0.7"/>
<line x1="513.31" y1="676.51" x2="513.31" y2="700.08" stroke="#e3e3e3" stroke-width="0.7"/>
<line x1="371.39" y1="682.44" x2="514.31" y2="682.44" stroke="#e3e3e3" stroke-width="0.7"/>
<line x1="371.39" y1="693.10" x2="514.31" y2="693.10" stroke="#e3e3e3" stroke-width="0.7"/>
<line x1="410.46" y1="682.44" x2="453.31" y2="682.44" stroke="#e2584a" stroke-width="0.6"/>
<line x1="498.69" y1="682.44" x2="501.21" y2="682.44" stroke="#e2584a" stroke-width="0.6"/>
<rect x="453.31" y="678.94" width="45.37" height="7.00" fill="#f9dad5" stroke="#e2584a" stroke-width="0.6"/>
<line x1="496.16" y1="678.94" x2="496.16" y2="685.94" stroke="#e2584a" stroke-width="1.1"/>
<circle cx="410.46" cy="682.44" r="0.9" fill="#f9dad5" stroke="#e2584a" stroke-width="0.4" opacity="0.8"/>
<circle cx="501.21" cy="682.44" r="0.9" fill="#f9dad5" stroke="#e2584a" stroke-width="0.4" opacity="0.8"/>
<line x1="376.43" y1="693.10" x2="378.19" y2="693.10" stroke="#55bdd6" stroke-width="0.6"/>
<line x1="388.27" y1="693.10" x2="395.33" y2="693.10" stroke="#55bdd6" stroke-width="0.6"/>
<rect x="378.19" y="689.60" width="10.08" height="7.00" fill="#dff2f7" stroke="#55bdd6" stroke-width="0.6"/>
<line x1="381.47" y1="689.60" x2="381.47" y2="696.60" stroke="#55bdd6" stroke-width="1.1"/>
<circle cx="376.43" cy="693.10" r="0.9" fill="#dff2f7" stroke="#55bdd6" stroke-width="0.4" opacity="0.8"/>
<circle cx="395.33" cy="693.10" r="0.9" fill="#dff2f7" stroke="#55bdd6" stroke-width="0.4" opacity="0.8"/>
<rect x="371.39" y="676.51" width="142.93" height="23.57" fill="none" stroke="#222" stroke-width="0.9"/>
<line x1="369.59" y1="682.44" x2="371.39" y2="682.44" stroke="#333" stroke-width="0.6"/>
<line x1="369.59" y1="693.10" x2="371.39" y2="693.10" stroke="#333" stroke-width="0.6"/>
<path d="M503.73 682.44 H505.93 V693.10 H503.73" fill="none" stroke="#222" stroke-width="0.7"/>
<text x="509.27" y="691.18" font-size="6.050000000000001" text-anchor="middle" font-weight="bold" fill="#222">*</text>
<line x1="382.73" y1="700.08" x2="382.73" y2="701.88" stroke="#333" stroke-width="0.6"/>
<text x="382.73" y="709.27" font-size="4.4" text-anchor="middle" fill="#333">1.40</text>
<line x1="408.69" y1="700.08" x2="408.69" y2="701.88" stroke="#333" stroke-width="0.6"/>
<text x="408.69" y="709.27" font-size="4.4" text-anchor="middle" fill="#333">1.42</text>
<line x1="435.16" y1="700.08" x2="435.16" y2="701.88" stroke="#333" stroke-width="0.6"/>
<text x="435.16" y="709.27" font-size="4.4" text-anchor="middle" fill="#333">1.44</text>
<line x1="461.63" y1="700.08" x2="461.63" y2="701.88" stroke="#333" stroke-width="0.6"/>
<text x="461.63" y="709.27" font-size="4.4" text-anchor="middle" fill="#333">1.46</text>
<line x1="487.34" y1="700.08" x2="487.34" y2="701.88" stroke="#333" stroke-width="0.6"/>
<text x="487.34" y="709.27" font-size="4.4" text-anchor="middle" fill="#333">1.48</text>
<line x1="513.31" y1="700.08" x2="513.31" y2="701.88" stroke="#333" stroke-width="0.6"/>
<text x="513.31" y="709.27" font-size="4.4" text-anchor="middle" fill="#333">1.50</text>
<text x="363.23" y="688.29" font-size="5.5" text-anchor="middle" fill="#222" transform="rotate(-90 363.2269914292917 688.2858583312327)">MDA-MB-231</text>
<line x1="390.92" y1="710.67" x2="390.92" y2="734.11" stroke="#f0f0f0" stroke-width="0.5"/>
<line x1="410.08" y1="710.67" x2="410.08" y2="734.11" stroke="#f0f0f0" stroke-width="0.5"/>
<line x1="429.62" y1="710.67" x2="429.62" y2="734.11" stroke="#f0f0f0" stroke-width="0.5"/>
<line x1="448.90" y1="710.67" x2="448.90" y2="734.11" stroke="#f0f0f0" stroke-width="0.5"/>
<line x1="468.06" y1="710.67" x2="468.06" y2="734.11" stroke="#f0f0f0" stroke-width="0.5"/>
<line x1="487.22" y1="710.67" x2="487.22" y2="734.11" stroke="#f0f0f0" stroke-width="0.5"/>
<line x1="372.02" y1="710.67" x2="372.02" y2="734.11" stroke="#f0f0f0" stroke-width="0.5"/>
<line x1="506.12" y1="710.67" x2="506.12" y2="734.11" stroke="#f0f0f0" stroke-width="0.5"/>
<line x1="381.47" y1="710.67" x2="381.47" y2="734.11" stroke="#e3e3e3" stroke-width="0.7"/>
<line x1="400.37" y1="710.67" x2="400.37" y2="734.11" stroke="#e3e3e3" stroke-width="0.7"/>
<line x1="419.78" y1="710.67" x2="419.78" y2="734.11" stroke="#e3e3e3" stroke-width="0.7"/>
<line x1="439.45" y1="710.67" x2="439.45" y2="734.11" stroke="#e3e3e3" stroke-width="0.7"/>
<line x1="458.35" y1="710.67" x2="458.35" y2="734.11" stroke="#e3e3e3" stroke-width="0.7"/>
<line x1="477.76" y1="710.67" x2="477.76" y2="734.11" stroke="#e3e3e3" stroke-width="0.7"/>
<line x1="496.67" y1="710.67" x2="496.67" y2="734.11" stroke="#e3e3e3" stroke-width="0.7"/>
<line x1="371.39" y1="717.22" x2="514.31" y2="717.22" stroke="#e3e3e3" stroke-width="0.7"/>
<line x1="371.39" y1="727.81" x2="514.31" y2="727.81" stroke="#e3e3e3" stroke-width="0.7"/>
<line x1="455.83" y1="717.22" x2="464.65" y2="717.22" stroke="#e2584a" stroke-width="0.6"/>
<line x1="487.34" y1="717.22" x2="501.21" y2="717.22" stroke="#e2584a" stroke-width="0.6"/>
<rect x="464.65" y="713.72" width="22.69" height="7.00" fill="#f9dad5" stroke="#e2584a" stroke-width="0.6"/>
<line x1="473.48" y1="713.72" x2="473.48" y2="720.72" stroke="#e2584a" stroke-width="1.1"/>
<circle cx="455.83" cy="717.22" r="0.9" fill="#f9dad5" stroke="#e2584a" stroke-width="0.4" opacity="0.8"/>
<circle cx="501.21" cy="717.22" r="0.9" fill="#f9dad5" stroke="#e2584a" stroke-width="0.4" opacity="0.8"/>
<line x1="374.66" y1="727.81" x2="392.31" y2="727.81" stroke="#55bdd6" stroke-width="0.6"/>
<line x1="410.96" y1="727.81" x2="414.24" y2="727.81" stroke="#55bdd6" stroke-width="0.6"/>
<rect x="392.31" y="724.31" width="18.65" height="7.00" fill="#dff2f7" stroke="#55bdd6" stroke-width="0.6"/>
<line x1="409.20" y1="724.31" x2="409.20" y2="731.31" stroke="#55bdd6" stroke-width="1.1"/>
<circle cx="374.66" cy="727.81" r="0.9" fill="#dff2f7" stroke="#55bdd6" stroke-width="0.4" opacity="0.8"/>
<circle cx="414.24" cy="727.81" r="0.9" fill="#dff2f7" stroke="#55bdd6" stroke-width="0.4" opacity="0.8"/>
<rect x="371.39" y="710.67" width="142.93" height="23.44" fill="none" stroke="#222" stroke-width="0.9"/>
<line x1="369.59" y1="717.22" x2="371.39" y2="717.22" stroke="#333" stroke-width="0.6"/>
<line x1="369.59" y1="727.81" x2="371.39" y2="727.81" stroke="#333" stroke-width="0.6"/>
<path d="M503.73 717.22 H505.93 V727.81 H503.73" fill="none" stroke="#222" stroke-width="0.7"/>
<text x="509.27" y="725.93" font-size="6.050000000000001" text-anchor="middle" font-weight="bold" fill="#222">*</text>
<line x1="381.47" y1="734.11" x2="381.47" y2="735.91" stroke="#333" stroke-width="0.6"/>
<text x="381.47" y="743.30" font-size="4.4" text-anchor="middle" fill="#333">1.14</text>
<line x1="400.37" y1="734.11" x2="400.37" y2="735.91" stroke="#333" stroke-width="0.6"/>
<text x="400.37" y="743.30" font-size="4.4" text-anchor="middle" fill="#333">1.16</text>
<line x1="419.78" y1="734.11" x2="419.78" y2="735.91" stroke="#333" stroke-width="0.6"/>
<text x="419.78" y="743.30" font-size="4.4" text-anchor="middle" fill="#333">1.18</text>
<line x1="439.45" y1="734.11" x2="439.45" y2="735.91" stroke="#333" stroke-width="0.6"/>
<text x="439.45" y="743.30" font-size="4.4" text-anchor="middle" fill="#333">1.20</text>
<line x1="458.35" y1="734.11" x2="458.35" y2="735.91" stroke="#333" stroke-width="0.6"/>
<text x="458.35" y="743.30" font-size="4.4" text-anchor="middle" fill="#333">1.22</text>
<line x1="477.76" y1="734.11" x2="477.76" y2="735.91" stroke="#333" stroke-width="0.6"/>
<text x="477.76" y="743.30" font-size="4.4" text-anchor="middle" fill="#333">1.24</text>
<line x1="496.67" y1="734.11" x2="496.67" y2="735.91" stroke="#333" stroke-width="0.6"/>
<text x="496.67" y="743.30" font-size="4.4" text-anchor="middle" fill="#333">1.26</text>
<text x="363.23" y="722.27" font-size="5.5" text-anchor="middle" fill="#222" transform="rotate(-90 363.2269914292917 722.2661961179733)">MCF-7</text>
<text x="443.23" y="750.61" font-size="5.9" text-anchor="middle" fill="#222">LOG10(C)μmol</text>
<rect x="403.65" y="767.56" width="5.04" height="4.20" fill="#dff2f7" stroke="#55bdd6" stroke-width="0.5"/>
<line x1="402.65" y1="769.66" x2="409.69" y2="769.66" stroke="#55bdd6" stroke-width="0.5"/>
<line x1="406.17" y1="767.56" x2="406.17" y2="771.76" stroke="#55bdd6" stroke-width="0.7"/>
<text x="412.47" y="771.42" font-size="4.9" text-anchor="start" fill="#333">CLDN6+Vector</text>
<rect x="448.27" y="767.56" width="5.04" height="4.20" fill="#f9dad5" stroke="#e2584a" stroke-width="0.5"/>
<line x1="447.27" y1="769.66" x2="454.31" y2="769.66" stroke="#e2584a" stroke-width="0.5"/>
<line x1="450.79" y1="767.56" x2="450.79" y2="771.76" stroke="#e2584a" stroke-width="0.7"/>
<text x="456.59" y="771.42" font-size="4.9" text-anchor="start" fill="#333">CLDN6+PBK</text>
<line x1="418.65" y1="774.95" x2="418.65" y2="798.39" stroke="#f0f0f0" stroke-width="0.5"/>
<line x1="455.20" y1="774.95" x2="455.20" y2="798.39" stroke="#f0f0f0" stroke-width="0.5"/>
<line x1="492.38" y1="774.95" x2="492.38" y2="798.39" stroke="#f0f0f0" stroke-width="0.5"/>
<line x1="382.10" y1="774.95" x2="382.10" y2="798.39" stroke="#f0f0f0" stroke-width="0.5"/>
<line x1="400.37" y1="774.95" x2="400.37" y2="798.39" stroke="#e3e3e3" stroke-width="0.7"/>
<line x1="436.93" y1="774.95" x2="436.93" y2="798.39" stroke="#e3e3e3" stroke-width="0.7"/>
<line x1="473.48" y1="774.95" x2="473.48" y2="798.39" stroke="#e3e3e3" stroke-width="0.7"/>
<line x1="511.29" y1="774.95" x2="511.29" y2="798.39" stroke="#e3e3e3" stroke-width="0.7"/>
<line x1="372.14" y1="781.25" x2="514.31" y2="781.25" stroke="#e3e3e3" stroke-width="0.7"/>
<line x1="372.14" y1="792.09" x2="514.31" y2="792.09" stroke="#e3e3e3" stroke-width="0.7"/>
<line x1="373.91" y1="781.25" x2="373.91" y2="781.25" stroke="#e2584a" stroke-width="0.6"/>
<line x1="376.43" y1="781.25" x2="377.69" y2="781.25" stroke="#e2584a" stroke-width="0.6"/>
<rect x="373.91" y="777.75" width="2.52" height="7.00" fill="#f9dad5" stroke="#e2584a" stroke-width="0.6"/>
<line x1="374.66" y1="777.75" x2="374.66" y2="784.75" stroke="#e2584a" stroke-width="1.1"/>
<circle cx="373.91" cy="781.25" r="0.9" fill="#f9dad5" stroke="#e2584a" stroke-width="0.4" opacity="0.8"/>
<circle cx="377.69" cy="781.25" r="0.9" fill="#f9dad5" stroke="#e2584a" stroke-width="0.4" opacity="0.8"/>
<line x1="418.02" y1="792.09" x2="420.04" y2="792.09" stroke="#55bdd6" stroke-width="0.6"/>
<line x1="443.23" y1="792.09" x2="444.49" y2="792.09" stroke="#55bdd6" stroke-width="0.6"/>
<rect x="420.04" y="788.59" width="23.19" height="7.00" fill="#dff2f7" stroke="#55bdd6" stroke-width="0.6"/>
<line x1="423.06" y1="788.59" x2="423.06" y2="795.59" stroke="#55bdd6" stroke-width="1.1"/>
<circle cx="418.02" cy="792.09" r="0.9" fill="#dff2f7" stroke="#55bdd6" stroke-width="0.4" opacity="0.8"/>
<circle cx="444.49" cy="792.09" r="0.9" fill="#dff2f7" stroke="#55bdd6" stroke-width="0.4" opacity="0.8"/>
<rect x="372.14" y="774.95" width="142.17" height="23.44" fill="none" stroke="#222" stroke-width="0.9"/>
<line x1="370.34" y1="781.25" x2="372.14" y2="781.25" stroke="#333" stroke-width="0.6"/>
<line x1="370.34" y1="792.09" x2="372.14" y2="792.09" stroke="#333" stroke-width="0.6"/>
<path d="M503.73 781.25 H505.93 V792.09 H503.73" fill="none" stroke="#222" stroke-width="0.7"/>
<text x="507.29" y="786.67" font-size="5.5" text-anchor="middle" font-weight="bold" fill="#222" transform="rotate(90 507.2927501890597 786.672548525334)">***</text>
<line x1="400.37" y1="798.39" x2="400.37" y2="800.19" stroke="#333" stroke-width="0.6"/>
<text x="400.37" y="807.58" font-size="4.4" text-anchor="middle" fill="#333">0.05</text>
<line x1="436.93" y1="798.39" x2="436.93" y2="800.19" stroke="#333" stroke-width="0.6"/>
<text x="436.93" y="807.58" font-size="4.4" text-anchor="middle" fill="#333">0.10</text>
<line x1="473.48" y1="798.39" x2="473.48" y2="800.19" stroke="#333" stroke-width="0.6"/>
<text x="473.48" y="807.58" font-size="4.4" text-anchor="middle" fill="#333">0.15</text>
<line x1="511.29" y1="798.39" x2="511.29" y2="800.19" stroke="#333" stroke-width="0.6"/>
<text x="511.29" y="807.58" font-size="4.4" text-anchor="middle" fill="#333">0.20</text>
<text x="362.51" y="787.05" font-size="5.6" text-anchor="middle" fill="#222" transform="rotate(-90 362.5057524577766 787.0506680110915)">MDA-MB-231</text>
<line x1="421.17" y1="809.74" x2="421.17" y2="832.93" stroke="#f0f0f0" stroke-width="0.5"/>
<line x1="455.20" y1="809.74" x2="455.20" y2="832.93" stroke="#f0f0f0" stroke-width="0.5"/>
<line x1="489.23" y1="809.74" x2="489.23" y2="832.93" stroke="#f0f0f0" stroke-width="0.5"/>
<line x1="387.14" y1="809.74" x2="387.14" y2="832.93" stroke="#f0f0f0" stroke-width="0.5"/>
<line x1="404.16" y1="809.74" x2="404.16" y2="832.93" stroke="#e3e3e3" stroke-width="0.7"/>
<line x1="438.19" y1="809.74" x2="438.19" y2="832.93" stroke="#e3e3e3" stroke-width="0.7"/>
<line x1="472.22" y1="809.74" x2="472.22" y2="832.93" stroke="#e3e3e3" stroke-width="0.7"/>
<line x1="506.25" y1="809.74" x2="506.25" y2="832.93" stroke="#e3e3e3" stroke-width="0.7"/>
<line x1="372.14" y1="815.28" x2="514.31" y2="815.28" stroke="#e3e3e3" stroke-width="0.7"/>
<line x1="372.14" y1="826.63" x2="514.31" y2="826.63" stroke="#e3e3e3" stroke-width="0.7"/>
<line x1="373.91" y1="815.28" x2="373.91" y2="815.28" stroke="#e2584a" stroke-width="0.6"/>
<line x1="378.95" y1="815.28" x2="380.21" y2="815.28" stroke="#e2584a" stroke-width="0.6"/>
<rect x="373.91" y="811.78" width="5.04" height="7.00" fill="#f9dad5" stroke="#e2584a" stroke-width="0.6"/>
<line x1="375.17" y1="811.78" x2="375.17" y2="818.78" stroke="#e2584a" stroke-width="1.1"/>
<circle cx="373.91" cy="815.28" r="0.9" fill="#f9dad5" stroke="#e2584a" stroke-width="0.4" opacity="0.8"/>
<circle cx="380.21" cy="815.28" r="0.9" fill="#f9dad5" stroke="#e2584a" stroke-width="0.4" opacity="0.8"/>
<line x1="406.68" y1="826.63" x2="407.94" y2="826.63" stroke="#55bdd6" stroke-width="0.6"/>
<line x1="416.76" y1="826.63" x2="418.02" y2="826.63" stroke="#55bdd6" stroke-width="0.6"/>
<rect x="407.94" y="823.13" width="8.82" height="7.00" fill="#dff2f7" stroke="#55bdd6" stroke-width="0.6"/>
<line x1="409.95" y1="823.13" x2="409.95" y2="830.13" stroke="#55bdd6" stroke-width="1.1"/>
<circle cx="406.68" cy="826.63" r="0.9" fill="#dff2f7" stroke="#55bdd6" stroke-width="0.4" opacity="0.8"/>
<circle cx="418.02" cy="826.63" r="0.9" fill="#dff2f7" stroke="#55bdd6" stroke-width="0.4" opacity="0.8"/>
<rect x="372.14" y="809.74" width="142.17" height="23.19" fill="none" stroke="#222" stroke-width="0.9"/>
<line x1="370.34" y1="815.28" x2="372.14" y2="815.28" stroke="#333" stroke-width="0.6"/>
<line x1="370.34" y1="826.63" x2="372.14" y2="826.63" stroke="#333" stroke-width="0.6"/>
<path d="M503.73 815.28 H505.93 V826.63 H503.73" fill="none" stroke="#222" stroke-width="0.7"/>
<text x="507.29" y="820.96" font-size="5.5" text-anchor="middle" font-weight="bold" fill="#222" transform="rotate(90 507.2927501890597 820.9553819006805)">***</text>
<line x1="404.16" y1="832.93" x2="404.16" y2="834.73" stroke="#333" stroke-width="0.6"/>
<text x="404.16" y="842.11" font-size="4.4" text-anchor="middle" fill="#333">0.02</text>
<line x1="438.19" y1="832.93" x2="438.19" y2="834.73" stroke="#333" stroke-width="0.6"/>
<text x="438.19" y="842.11" font-size="4.4" text-anchor="middle" fill="#333">0.04</text>
<line x1="472.22" y1="832.93" x2="472.22" y2="834.73" stroke="#333" stroke-width="0.6"/>
<text x="472.22" y="842.11" font-size="4.4" text-anchor="middle" fill="#333">0.06</text>
<line x1="506.25" y1="832.93" x2="506.25" y2="834.73" stroke="#333" stroke-width="0.6"/>
<text x="506.25" y="842.11" font-size="4.4" text-anchor="middle" fill="#333">0.08</text>
<text x="362.51" y="821.59" font-size="5.6" text-anchor="middle" fill="#222" transform="rotate(-90 362.5057524577766 821.5855810436097)">MCF-7</text>
<text x="440.71" y="849.60" font-size="5.7" text-anchor="middle" fill="#222">Relative ROS Level</text>
<rect x="569.43" y="767.33" width="6.29" height="4.20" fill="#dff2f7" stroke="#55bdd6" stroke-width="0.5"/>
<line x1="568.43" y1="769.43" x2="576.71" y2="769.43" stroke="#55bdd6" stroke-width="0.5"/>
<line x1="572.57" y1="767.33" x2="572.57" y2="771.53" stroke="#55bdd6" stroke-width="0.7"/>
<text x="578.57" y="771.19" font-size="4.9" text-anchor="start" fill="#333">CLDN6+Vector</text>
<rect x="614.86" y="767.33" width="5.71" height="4.20" fill="#f9dad5" stroke="#e2584a" stroke-width="0.5"/>
<line x1="613.86" y1="769.43" x2="621.57" y2="769.43" stroke="#e2584a" stroke-width="0.5"/>
<line x1="617.71" y1="767.33" x2="617.71" y2="771.53" stroke="#e2584a" stroke-width="0.7"/>
<text x="623.43" y="771.19" font-size="4.9" text-anchor="start" fill="#333">CLDN6+PBK</text>
<line x1="575.00" y1="775.14" x2="575.00" y2="798.00" stroke="#f0f0f0" stroke-width="0.5"/>
<line x1="609.14" y1="775.14" x2="609.14" y2="798.00" stroke="#f0f0f0" stroke-width="0.5"/>
<line x1="643.14" y1="775.14" x2="643.14" y2="798.00" stroke="#f0f0f0" stroke-width="0.5"/>
<line x1="541.00" y1="775.14" x2="541.00" y2="798.00" stroke="#f0f0f0" stroke-width="0.5"/>
<line x1="677.00" y1="775.14" x2="677.00" y2="798.00" stroke="#f0f0f0" stroke-width="0.5"/>
<line x1="558.00" y1="775.14" x2="558.00" y2="798.00" stroke="#e3e3e3" stroke-width="0.7"/>
<line x1="592.00" y1="775.14" x2="592.00" y2="798.00" stroke="#e3e3e3" stroke-width="0.7"/>
<line x1="626.29" y1="775.14" x2="626.29" y2="798.00" stroke="#e3e3e3" stroke-width="0.7"/>
<line x1="660.00" y1="775.14" x2="660.00" y2="798.00" stroke="#e3e3e3" stroke-width="0.7"/>
<line x1="537.14" y1="781.43" x2="680.86" y2="781.43" stroke="#e3e3e3" stroke-width="0.7"/>
<line x1="537.14" y1="792.29" x2="680.86" y2="792.29" stroke="#e3e3e3" stroke-width="0.7"/>
<line x1="540.00" y1="781.43" x2="540.00" y2="781.43" stroke="#e2584a" stroke-width="0.6"/>
<line x1="545.71" y1="781.43" x2="547.14" y2="781.43" stroke="#e2584a" stroke-width="0.6"/>
<rect x="540.00" y="777.93" width="5.71" height="7.00" fill="#f9dad5" stroke="#e2584a" stroke-width="0.6"/>
<line x1="542.00" y1="777.93" x2="542.00" y2="784.93" stroke="#e2584a" stroke-width="1.1"/>
<circle cx="540.00" cy="781.43" r="0.9" fill="#f9dad5" stroke="#e2584a" stroke-width="0.4" opacity="0.8"/>
<circle cx="547.14" cy="781.43" r="0.9" fill="#f9dad5" stroke="#e2584a" stroke-width="0.4" opacity="0.8"/>
<line x1="567.14" y1="792.29" x2="568.57" y2="792.29" stroke="#55bdd6" stroke-width="0.6"/>
<line x1="588.57" y1="792.29" x2="590.00" y2="792.29" stroke="#55bdd6" stroke-width="0.6"/>
<rect x="568.57" y="788.79" width="20.00" height="7.00" fill="#dff2f7" stroke="#55bdd6" stroke-width="0.6"/>
<line x1="572.86" y1="788.79" x2="572.86" y2="795.79" stroke="#55bdd6" stroke-width="1.1"/>
<circle cx="567.14" cy="792.29" r="0.9" fill="#dff2f7" stroke="#55bdd6" stroke-width="0.4" opacity="0.8"/>
<circle cx="590.00" cy="792.29" r="0.9" fill="#dff2f7" stroke="#55bdd6" stroke-width="0.4" opacity="0.8"/>
<rect x="537.14" y="775.14" width="143.71" height="22.86" fill="none" stroke="#222" stroke-width="0.9"/>
<line x1="535.34" y1="781.43" x2="537.14" y2="781.43" stroke="#333" stroke-width="0.6"/>
<line x1="535.34" y1="792.29" x2="537.14" y2="792.29" stroke="#333" stroke-width="0.6"/>
<path d="M668.57 781.43 H670.77 V792.29 H668.57" fill="none" stroke="#222" stroke-width="0.7"/>
<text x="673.16" y="786.86" font-size="5.5" text-anchor="middle" font-weight="bold" fill="#222" transform="rotate(90 673.1628571428571 786.8571428571429)">***</text>
<line x1="558.00" y1="798.00" x2="558.00" y2="799.80" stroke="#333" stroke-width="0.6"/>
<text x="558.00" y="807.18" font-size="4.4" text-anchor="middle" fill="#333">0.1</text>
<line x1="592.00" y1="798.00" x2="592.00" y2="799.80" stroke="#333" stroke-width="0.6"/>
<text x="592.00" y="807.18" font-size="4.4" text-anchor="middle" fill="#333">0.2</text>
<line x1="626.29" y1="798.00" x2="626.29" y2="799.80" stroke="#333" stroke-width="0.6"/>
<text x="626.29" y="807.18" font-size="4.4" text-anchor="middle" fill="#333">0.3</text>
<line x1="660.00" y1="798.00" x2="660.00" y2="799.80" stroke="#333" stroke-width="0.6"/>
<text x="660.00" y="807.18" font-size="4.4" text-anchor="middle" fill="#333">0.4</text>
<text x="529.67" y="787.14" font-size="5.6" text-anchor="middle" fill="#222" transform="rotate(-90 529.6742857142857 787.1428571428571)">MDA-MB-231</text>
<line x1="554.14" y1="809.43" x2="554.14" y2="832.86" stroke="#f0f0f0" stroke-width="0.5"/>
<line x1="583.86" y1="809.43" x2="583.86" y2="832.86" stroke="#f0f0f0" stroke-width="0.5"/>
<line x1="613.29" y1="809.43" x2="613.29" y2="832.86" stroke="#f0f0f0" stroke-width="0.5"/>
<line x1="643.00" y1="809.43" x2="643.00" y2="832.86" stroke="#f0f0f0" stroke-width="0.5"/>
<line x1="673.00" y1="809.43" x2="673.00" y2="832.86" stroke="#f0f0f0" stroke-width="0.5"/>
<line x1="539.14" y1="809.43" x2="539.14" y2="832.86" stroke="#e3e3e3" stroke-width="0.7"/>
<line x1="569.14" y1="809.43" x2="569.14" y2="832.86" stroke="#e3e3e3" stroke-width="0.7"/>
<line x1="598.57" y1="809.43" x2="598.57" y2="832.86" stroke="#e3e3e3" stroke-width="0.7"/>
<line x1="628.00" y1="809.43" x2="628.00" y2="832.86" stroke="#e3e3e3" stroke-width="0.7"/>
<line x1="658.00" y1="809.43" x2="658.00" y2="832.86" stroke="#e3e3e3" stroke-width="0.7"/>
<line x1="537.14" y1="815.71" x2="680.86" y2="815.71" stroke="#e3e3e3" stroke-width="0.7"/>
<line x1="537.14" y1="826.57" x2="680.86" y2="826.57" stroke="#e3e3e3" stroke-width="0.7"/>
<line x1="540.00" y1="815.71" x2="540.86" y2="815.71" stroke="#e2584a" stroke-width="0.6"/>
<line x1="553.43" y1="815.71" x2="555.71" y2="815.71" stroke="#e2584a" stroke-width="0.6"/>
<rect x="540.86" y="812.21" width="12.57" height="7.00" fill="#f9dad5" stroke="#e2584a" stroke-width="0.6"/>
<line x1="544.29" y1="812.21" x2="544.29" y2="819.21" stroke="#e2584a" stroke-width="1.1"/>
<circle cx="540.00" cy="815.71" r="0.9" fill="#f9dad5" stroke="#e2584a" stroke-width="0.4" opacity="0.8"/>
<circle cx="555.71" cy="815.71" r="0.9" fill="#f9dad5" stroke="#e2584a" stroke-width="0.4" opacity="0.8"/>
<line x1="551.43" y1="826.57" x2="554.29" y2="826.57" stroke="#55bdd6" stroke-width="0.6"/>
<line x1="580.86" y1="826.57" x2="582.86" y2="826.57" stroke="#55bdd6" stroke-width="0.6"/>
<rect x="554.29" y="823.07" width="26.57" height="7.00" fill="#dff2f7" stroke="#55bdd6" stroke-width="0.6"/>
<line x1="558.57" y1="823.07" x2="558.57" y2="830.07" stroke="#55bdd6" stroke-width="1.1"/>
<circle cx="551.43" cy="826.57" r="0.9" fill="#dff2f7" stroke="#55bdd6" stroke-width="0.4" opacity="0.8"/>
<circle cx="582.86" cy="826.57" r="0.9" fill="#dff2f7" stroke="#55bdd6" stroke-width="0.4" opacity="0.8"/>
<rect x="537.14" y="809.43" width="143.71" height="23.43" fill="none" stroke="#222" stroke-width="0.9"/>
<line x1="535.34" y1="815.71" x2="537.14" y2="815.71" stroke="#333" stroke-width="0.6"/>
<line x1="535.34" y1="826.57" x2="537.14" y2="826.57" stroke="#333" stroke-width="0.6"/>
<path d="M668.57 815.71 H670.77 V826.57 H668.57" fill="none" stroke="#222" stroke-width="0.7"/>
<text x="673.16" y="821.14" font-size="5.5" text-anchor="middle" font-weight="bold" fill="#222" transform="rotate(90 673.1628571428571 821.1428571428571)">***</text>
<line x1="539.14" y1="832.86" x2="539.14" y2="834.66" stroke="#333" stroke-width="0.6"/>
<text x="539.14" y="842.04" font-size="4.4" text-anchor="middle" fill="#333">0.04</text>
<line x1="569.14" y1="832.86" x2="569.14" y2="834.66" stroke="#333" stroke-width="0.6"/>
<text x="569.14" y="842.04" font-size="4.4" text-anchor="middle" fill="#333">0.06</text>
<line x1="598.57" y1="832.86" x2="598.57" y2="834.66" stroke="#333" stroke-width="0.6"/>
<text x="598.57" y="842.04" font-size="4.4" text-anchor="middle" fill="#333">0.08</text>
<line x1="628.00" y1="832.86" x2="628.00" y2="834.66" stroke="#333" stroke-width="0.6"/>
<text x="628.00" y="842.04" font-size="4.4" text-anchor="middle" fill="#333">0.10</text>
<line x1="658.00" y1="832.86" x2="658.00" y2="834.66" stroke="#333" stroke-width="0.6"/>
<text x="658.00" y="842.04" font-size="4.4" text-anchor="middle" fill="#333">0.12</text>
<text x="529.67" y="821.43" font-size="5.6" text-anchor="middle" fill="#222" transform="rotate(-90 529.6742857142857 821.4285714285714)">MCF-7</text>
<text x="608.57" y="848.98" font-size="5.1" text-anchor="middle" fill="#222">C11-BODIPY fluorescence</text>
<rect x="545.46" y="577.68" width="135.31" height="45.62" fill="#fff" stroke="none" stroke-width="0.8"/>
<line x1="545.46" y1="591.60" x2="680.77" y2="591.60" stroke="#f0f0f0" stroke-width="0.5"/>
<line x1="545.46" y1="602.04" x2="680.77" y2="602.04" stroke="#f0f0f0" stroke-width="0.5"/>
<line x1="545.46" y1="612.60" x2="680.77" y2="612.60" stroke="#f0f0f0" stroke-width="0.5"/>
<line x1="545.46" y1="581.29" x2="680.77" y2="581.29" stroke="#f0f0f0" stroke-width="0.5"/>
<line x1="545.46" y1="623.04" x2="680.77" y2="623.04" stroke="#f0f0f0" stroke-width="0.5"/>
<line x1="545.46" y1="586.44" x2="680.77" y2="586.44" stroke="#e3e3e3" stroke-width="0.7"/>
<line x1="545.46" y1="596.75" x2="680.77" y2="596.75" stroke="#e3e3e3" stroke-width="0.7"/>
<line x1="545.46" y1="607.32" x2="680.77" y2="607.32" stroke="#e3e3e3" stroke-width="0.7"/>
<line x1="545.46" y1="617.89" x2="680.77" y2="617.89" stroke="#e3e3e3" stroke-width="0.7"/>
<line x1="582.32" y1="577.68" x2="582.32" y2="623.30" stroke="#e3e3e3" stroke-width="0.7"/>
<line x1="643.40" y1="577.68" x2="643.40" y2="623.30" stroke="#e3e3e3" stroke-width="0.7"/>
<line x1="571.37" y1="603.97" x2="571.37" y2="607.84" stroke="#55bdd6" stroke-width="0.6"/>
<line x1="571.37" y1="613.76" x2="571.37" y2="615.57" stroke="#55bdd6" stroke-width="0.6"/>
<rect x="560.41" y="607.84" width="21.91" height="5.93" fill="#dff2f7" stroke="#55bdd6" stroke-width="0.6"/>
<line x1="560.41" y1="611.70" x2="582.32" y2="611.70" stroke="#55bdd6" stroke-width="1.1"/>
<line x1="593.27" y1="585.41" x2="593.27" y2="587.22" stroke="#e2584a" stroke-width="0.6"/>
<line x1="593.27" y1="591.08" x2="593.27" y2="593.66" stroke="#e2584a" stroke-width="0.6"/>
<rect x="582.32" y="587.22" width="21.91" height="3.87" fill="#f9dad5" stroke="#e2584a" stroke-width="0.6"/>
<line x1="582.32" y1="589.02" x2="604.23" y2="589.02" stroke="#e2584a" stroke-width="1.1"/>
<line x1="632.45" y1="610.41" x2="632.45" y2="614.28" stroke="#55bdd6" stroke-width="0.6"/>
<line x1="632.45" y1="618.14" x2="632.45" y2="619.43" stroke="#55bdd6" stroke-width="0.6"/>
<rect x="621.49" y="614.28" width="21.91" height="3.87" fill="#dff2f7" stroke="#55bdd6" stroke-width="0.6"/>
<line x1="621.49" y1="616.34" x2="643.40" y2="616.34" stroke="#55bdd6" stroke-width="1.1"/>
<line x1="654.36" y1="585.15" x2="654.36" y2="586.44" stroke="#e2584a" stroke-width="0.6"/>
<line x1="654.36" y1="590.57" x2="654.36" y2="592.37" stroke="#e2584a" stroke-width="0.6"/>
<rect x="643.40" y="586.44" width="21.91" height="4.12" fill="#f9dad5" stroke="#e2584a" stroke-width="0.6"/>
<line x1="643.40" y1="588.51" x2="665.31" y2="588.51" stroke="#e2584a" stroke-width="1.1"/>
<rect x="545.46" y="577.68" width="135.31" height="45.62" fill="none" stroke="#222" stroke-width="0.9"/>
<path d="M571.75 584.64 H593.14 V586.70" fill="none" stroke="#111" stroke-width="1"/>
<text x="582.84" y="584.49" font-size="6.5" text-anchor="middle" font-weight="bold" fill="#222">**</text>
<path d="M632.58 584.12 H655.00 V586.19" fill="none" stroke="#111" stroke-width="1"/>
<text x="643.92" y="584.49" font-size="6.5" text-anchor="middle" font-weight="bold" fill="#222">***</text>
<line x1="543.66" y1="586.44" x2="545.46" y2="586.44" stroke="#333" stroke-width="0.6"/>
<text x="542.96" y="588.24" font-size="5.0" text-anchor="end" fill="#333">500</text>
<line x1="543.66" y1="596.75" x2="545.46" y2="596.75" stroke="#333" stroke-width="0.6"/>
<text x="542.96" y="598.55" font-size="5.0" text-anchor="end" fill="#333">400</text>
<line x1="543.66" y1="607.32" x2="545.46" y2="607.32" stroke="#333" stroke-width="0.6"/>
<text x="542.96" y="609.12" font-size="5.0" text-anchor="end" fill="#333">300</text>
<line x1="543.66" y1="617.89" x2="545.46" y2="617.89" stroke="#333" stroke-width="0.6"/>
<text x="542.96" y="619.69" font-size="5.0" text-anchor="end" fill="#333">200</text>
<line x1="582.32" y1="623.30" x2="582.32" y2="625.10" stroke="#333" stroke-width="0.6"/>
<text x="582.32" y="632.06" font-size="4.8" text-anchor="middle" fill="#222">MDA-MB-231</text>
<line x1="643.40" y1="623.30" x2="643.40" y2="625.10" stroke="#333" stroke-width="0.6"/>
<text x="643.40" y="632.06" font-size="4.8" text-anchor="middle" fill="#222">MCF-7</text>
<rect x="573.30" y="570.43" width="5.67" height="4.20" fill="#dff2f7" stroke="#55bdd6" stroke-width="0.5"/>
<line x1="572.30" y1="572.53" x2="579.97" y2="572.53" stroke="#55bdd6" stroke-width="0.5"/>
<line x1="576.13" y1="570.43" x2="576.13" y2="574.63" stroke="#55bdd6" stroke-width="0.7"/>
<text x="582.84" y="574.29" font-size="4.9" text-anchor="start" fill="#333">CLDN6+Vector</text>
<rect x="618.92" y="570.43" width="5.15" height="4.20" fill="#f9dad5" stroke="#e2584a" stroke-width="0.5"/>
<line x1="617.92" y1="572.53" x2="625.07" y2="572.53" stroke="#e2584a" stroke-width="0.5"/>
<line x1="621.49" y1="570.43" x2="621.49" y2="574.63" stroke="#e2584a" stroke-width="0.7"/>
<text x="627.42" y="574.29" font-size="4.9" text-anchor="start" fill="#333">CLDN6+PBK</text>
<text x="529.00" y="600.00" font-size="5.8" text-anchor="middle" fill="#222" transform="rotate(-90 529.0 600)">Number of Clones</text>
<rect x="544.86" y="676.29" width="136.00" height="45.14" fill="#fff" stroke="none" stroke-width="0.8"/>
<line x1="544.86" y1="683.00" x2="680.86" y2="683.00" stroke="#f0f0f0" stroke-width="0.5"/>
<line x1="544.86" y1="690.00" x2="680.86" y2="690.00" stroke="#f0f0f0" stroke-width="0.5"/>
<line x1="544.86" y1="696.86" x2="680.86" y2="696.86" stroke="#f0f0f0" stroke-width="0.5"/>
<line x1="544.86" y1="703.86" x2="680.86" y2="703.86" stroke="#f0f0f0" stroke-width="0.5"/>
<line x1="544.86" y1="711.14" x2="680.86" y2="711.14" stroke="#f0f0f0" stroke-width="0.5"/>
<line x1="544.86" y1="718.43" x2="680.86" y2="718.43" stroke="#f0f0f0" stroke-width="0.5"/>
<line x1="544.86" y1="679.43" x2="680.86" y2="679.43" stroke="#e3e3e3" stroke-width="0.7"/>
<line x1="544.86" y1="686.57" x2="680.86" y2="686.57" stroke="#e3e3e3" stroke-width="0.7"/>
<line x1="544.86" y1="693.43" x2="680.86" y2="693.43" stroke="#e3e3e3" stroke-width="0.7"/>
<line x1="544.86" y1="700.29" x2="680.86" y2="700.29" stroke="#e3e3e3" stroke-width="0.7"/>
<line x1="544.86" y1="707.43" x2="680.86" y2="707.43" stroke="#e3e3e3" stroke-width="0.7"/>
<line x1="544.86" y1="714.86" x2="680.86" y2="714.86" stroke="#e3e3e3" stroke-width="0.7"/>
<line x1="582.29" y1="676.29" x2="582.29" y2="721.43" stroke="#e3e3e3" stroke-width="0.7"/>
<line x1="644.29" y1="676.29" x2="644.29" y2="721.43" stroke="#e3e3e3" stroke-width="0.7"/>
<line x1="571.57" y1="716.00" x2="571.57" y2="716.57" stroke="#55bdd6" stroke-width="0.6"/>
<line x1="571.57" y1="718.29" x2="571.57" y2="718.57" stroke="#55bdd6" stroke-width="0.6"/>
<rect x="560.86" y="716.57" width="21.43" height="1.71" fill="#dff2f7" stroke="#55bdd6" stroke-width="0.6"/>
<line x1="560.86" y1="717.43" x2="582.29" y2="717.43" stroke="#55bdd6" stroke-width="1.1"/>
<line x1="593.00" y1="696.57" x2="593.00" y2="697.14" stroke="#e2584a" stroke-width="0.6"/>
<line x1="593.00" y1="698.86" x2="593.00" y2="699.43" stroke="#e2584a" stroke-width="0.6"/>
<rect x="582.29" y="697.14" width="21.43" height="1.71" fill="#f9dad5" stroke="#e2584a" stroke-width="0.6"/>
<line x1="582.29" y1="698.00" x2="603.71" y2="698.00" stroke="#e2584a" stroke-width="1.1"/>
<line x1="633.29" y1="715.14" x2="633.29" y2="715.71" stroke="#55bdd6" stroke-width="0.6"/>
<line x1="633.29" y1="718.57" x2="633.29" y2="719.14" stroke="#55bdd6" stroke-width="0.6"/>
<rect x="622.29" y="715.71" width="22.00" height="2.86" fill="#dff2f7" stroke="#55bdd6" stroke-width="0.6"/>
<line x1="622.29" y1="717.14" x2="644.29" y2="717.14" stroke="#55bdd6" stroke-width="1.1"/>
<line x1="655.00" y1="683.43" x2="655.00" y2="688.00" stroke="#e2584a" stroke-width="0.6"/>
<line x1="655.00" y1="695.71" x2="655.00" y2="697.14" stroke="#e2584a" stroke-width="0.6"/>
<rect x="644.29" y="688.00" width="21.43" height="7.71" fill="#f9dad5" stroke="#e2584a" stroke-width="0.6"/>
<line x1="644.29" y1="692.86" x2="665.71" y2="692.86" stroke="#e2584a" stroke-width="1.1"/>
<rect x="544.86" y="676.29" width="136.00" height="45.14" fill="none" stroke="#222" stroke-width="0.9"/>
<path d="M571.43 695.71 H593.43 V696.86" fill="none" stroke="#777" stroke-width="1"/>
<text x="582.29" y="695.49" font-size="6.5" text-anchor="middle" font-weight="bold" fill="#222">***</text>
<path d="M632.86 682.29 H654.29 V685.71" fill="none" stroke="#555" stroke-width="1"/>
<text x="644.29" y="682.34" font-size="6.5" text-anchor="middle" font-weight="bold" fill="#222">**</text>
<line x1="543.06" y1="679.43" x2="544.86" y2="679.43" stroke="#333" stroke-width="0.6"/>
<text x="542.36" y="681.23" font-size="5.0" text-anchor="end" fill="#333">300</text>
<line x1="543.06" y1="686.57" x2="544.86" y2="686.57" stroke="#333" stroke-width="0.6"/>
<text x="542.36" y="688.37" font-size="5.0" text-anchor="end" fill="#333">250</text>
<line x1="543.06" y1="693.43" x2="544.86" y2="693.43" stroke="#333" stroke-width="0.6"/>
<text x="542.36" y="695.23" font-size="5.0" text-anchor="end" fill="#333">200</text>
<line x1="543.06" y1="700.29" x2="544.86" y2="700.29" stroke="#333" stroke-width="0.6"/>
<text x="542.36" y="702.09" font-size="5.0" text-anchor="end" fill="#333">150</text>
<line x1="543.06" y1="707.43" x2="544.86" y2="707.43" stroke="#333" stroke-width="0.6"/>
<text x="542.36" y="709.23" font-size="5.0" text-anchor="end" fill="#333">100</text>
<line x1="543.06" y1="714.86" x2="544.86" y2="714.86" stroke="#333" stroke-width="0.6"/>
<text x="542.36" y="716.66" font-size="5.0" text-anchor="end" fill="#333">50</text>
<line x1="582.29" y1="721.43" x2="582.29" y2="723.23" stroke="#333" stroke-width="0.6"/>
<text x="582.29" y="730.37" font-size="4.8" text-anchor="middle" fill="#222">MDA-MB-231</text>
<line x1="644.29" y1="721.43" x2="644.29" y2="723.23" stroke="#333" stroke-width="0.6"/>
<text x="644.29" y="730.37" font-size="4.8" text-anchor="middle" fill="#222">MCF-7</text>
<rect x="550.00" y="668.76" width="5.71" height="4.20" fill="#dff2f7" stroke="#55bdd6" stroke-width="0.5"/>
<line x1="549.00" y1="670.86" x2="556.71" y2="670.86" stroke="#55bdd6" stroke-width="0.5"/>
<line x1="552.86" y1="668.76" x2="552.86" y2="672.96" stroke="#55bdd6" stroke-width="0.7"/>
<text x="558.57" y="672.62" font-size="4.9" text-anchor="start" fill="#333">CLDN6+Vector+Sorafenib</text>
<rect x="618.57" y="668.76" width="5.71" height="4.20" fill="#f9dad5" stroke="#e2584a" stroke-width="0.5"/>
<line x1="617.57" y1="670.86" x2="625.29" y2="670.86" stroke="#e2584a" stroke-width="0.5"/>
<line x1="621.43" y1="668.76" x2="621.43" y2="672.96" stroke="#e2584a" stroke-width="0.7"/>
<text x="627.14" y="672.62" font-size="4.9" text-anchor="start" fill="#333">CLDN6+PBK+Sorafenib</text>
<text x="529.00" y="698.60" font-size="5.8" text-anchor="middle" fill="#222" transform="rotate(-90 529.0 698.6)">Number of Clones</text>
<circle cx="565.60" cy="647.00" r="13.20" fill="#e9edf6" stroke="#8a8a8a" stroke-width="0.7"/>
<circle cx="570.48" cy="653.35" r="0.52" fill="#3a3ab0" opacity="0.65"/>
<circle cx="564.71" cy="639.23" r="0.53" fill="#3a3ab0" opacity="0.57"/>
<circle cx="572.63" cy="650.87" r="0.27" fill="#3a3ab0" opacity="0.77"/>
<circle cx="572.10" cy="644.75" r="0.36" fill="#3a3ab0" opacity="0.68"/>
<circle cx="567.03" cy="651.81" r="0.32" fill="#3a3ab0" opacity="0.47"/>
<circle cx="557.42" cy="638.69" r="0.32" fill="#3a3ab0" opacity="0.78"/>
<circle cx="555.00" cy="643.15" r="0.54" fill="#3a3ab0" opacity="0.38"/>
<circle cx="563.11" cy="643.64" r="0.25" fill="#3a3ab0" opacity="0.50"/>
<circle cx="566.91" cy="638.16" r="0.32" fill="#3a3ab0" opacity="0.72"/>
<circle cx="570.56" cy="644.02" r="0.41" fill="#3a3ab0" opacity="0.62"/>
<circle cx="569.06" cy="644.57" r="0.44" fill="#3a3ab0" opacity="0.78"/>
<circle cx="557.81" cy="640.63" r="0.52" fill="#3a3ab0" opacity="0.55"/>
<circle cx="563.34" cy="655.84" r="0.43" fill="#3a3ab0" opacity="0.47"/>
<circle cx="569.96" cy="641.32" r="0.42" fill="#3a3ab0" opacity="0.68"/>
<circle cx="569.97" cy="636.68" r="0.48" fill="#3a3ab0" opacity="0.43"/>
<circle cx="572.11" cy="637.73" r="0.50" fill="#3a3ab0" opacity="0.68"/>
<circle cx="557.28" cy="646.29" r="0.45" fill="#3a3ab0" opacity="0.37"/>
<circle cx="560.65" cy="637.15" r="0.31" fill="#3a3ab0" opacity="0.68"/>
<circle cx="564.48" cy="643.02" r="0.27" fill="#3a3ab0" opacity="0.60"/>
<circle cx="566.87" cy="653.49" r="0.47" fill="#3a3ab0" opacity="0.63"/>
<circle cx="565.53" cy="638.05" r="0.37" fill="#3a3ab0" opacity="0.31"/>
<circle cx="569.53" cy="650.43" r="0.43" fill="#3a3ab0" opacity="0.66"/>
<circle cx="567.48" cy="654.17" r="0.58" fill="#3a3ab0" opacity="0.50"/>
<circle cx="563.46" cy="637.91" r="0.48" fill="#3a3ab0" opacity="0.54"/>
<circle cx="556.05" cy="644.22" r="0.31" fill="#3a3ab0" opacity="0.70"/>
<circle cx="596.50" cy="647.00" r="13.20" fill="#e9edf6" stroke="#8a8a8a" stroke-width="0.7"/>
<circle cx="591.92" cy="644.44" r="0.59" fill="#3a3ab0" opacity="0.76"/>
<circle cx="587.03" cy="648.98" r="0.33" fill="#3a3ab0" opacity="0.41"/>
<circle cx="594.13" cy="656.60" r="0.32" fill="#3a3ab0" opacity="0.79"/>
<circle cx="601.22" cy="649.23" r="0.28" fill="#3a3ab0" opacity="0.68"/>
<circle cx="591.05" cy="653.07" r="0.36" fill="#3a3ab0" opacity="0.62"/>
<circle cx="592.04" cy="650.08" r="0.40" fill="#3a3ab0" opacity="0.45"/>
<circle cx="604.77" cy="653.91" r="0.49" fill="#3a3ab0" opacity="0.63"/>
<circle cx="602.02" cy="641.97" r="0.38" fill="#3a3ab0" opacity="0.51"/>
<circle cx="588.48" cy="652.48" r="0.25" fill="#3a3ab0" opacity="0.53"/>
<circle cx="589.69" cy="645.47" r="0.26" fill="#3a3ab0" opacity="0.65"/>
<circle cx="605.41" cy="647.53" r="0.30" fill="#3a3ab0" opacity="0.32"/>
<circle cx="597.78" cy="649.76" r="0.30" fill="#3a3ab0" opacity="0.64"/>
<circle cx="595.53" cy="639.91" r="0.48" fill="#3a3ab0" opacity="0.54"/>
<circle cx="585.38" cy="647.11" r="0.36" fill="#3a3ab0" opacity="0.73"/>
<circle cx="592.95" cy="637.84" r="0.25" fill="#3a3ab0" opacity="0.34"/>
<circle cx="603.35" cy="648.39" r="0.58" fill="#3a3ab0" opacity="0.74"/>
<circle cx="598.66" cy="643.52" r="0.50" fill="#3a3ab0" opacity="0.69"/>
<circle cx="600.35" cy="637.15" r="0.30" fill="#3a3ab0" opacity="0.39"/>
<circle cx="599.20" cy="637.16" r="0.56" fill="#3a3ab0" opacity="0.52"/>
<circle cx="599.91" cy="644.16" r="0.58" fill="#3a3ab0" opacity="0.74"/>
<circle cx="594.89" cy="649.63" r="0.44" fill="#3a3ab0" opacity="0.64"/>
<circle cx="594.82" cy="649.30" r="0.35" fill="#3a3ab0" opacity="0.71"/>
<circle cx="606.19" cy="653.20" r="0.34" fill="#3a3ab0" opacity="0.40"/>
<circle cx="605.46" cy="654.62" r="0.57" fill="#3a3ab0" opacity="0.46"/>
<circle cx="604.42" cy="652.43" r="0.56" fill="#3a3ab0" opacity="0.31"/>
<circle cx="589.13" cy="638.84" r="0.41" fill="#3a3ab0" opacity="0.58"/>
<circle cx="598.44" cy="641.53" r="0.35" fill="#3a3ab0" opacity="0.63"/>
<circle cx="588.27" cy="644.19" r="0.37" fill="#3a3ab0" opacity="0.77"/>
<circle cx="594.18" cy="656.51" r="0.56" fill="#3a3ab0" opacity="0.50"/>
<circle cx="601.76" cy="648.87" r="0.27" fill="#3a3ab0" opacity="0.37"/>
<circle cx="601.55" cy="651.77" r="0.38" fill="#3a3ab0" opacity="0.52"/>
<circle cx="591.53" cy="638.59" r="0.49" fill="#3a3ab0" opacity="0.48"/>
<circle cx="591.91" cy="639.48" r="0.29" fill="#3a3ab0" opacity="0.57"/>
<circle cx="592.43" cy="655.88" r="0.51" fill="#3a3ab0" opacity="0.42"/>
<circle cx="589.14" cy="650.18" r="0.35" fill="#3a3ab0" opacity="0.32"/>
<circle cx="607.77" cy="650.63" r="0.51" fill="#3a3ab0" opacity="0.52"/>
<circle cx="593.42" cy="641.66" r="0.50" fill="#3a3ab0" opacity="0.78"/>
<circle cx="597.68" cy="638.98" r="0.59" fill="#3a3ab0" opacity="0.76"/>
<circle cx="603.62" cy="649.73" r="0.41" fill="#3a3ab0" opacity="0.44"/>
<circle cx="593.15" cy="643.99" r="0.51" fill="#3a3ab0" opacity="0.73"/>
<circle cx="605.65" cy="650.73" r="0.34" fill="#3a3ab0" opacity="0.62"/>
<circle cx="592.26" cy="636.05" r="0.53" fill="#3a3ab0" opacity="0.47"/>
<circle cx="595.93" cy="642.48" r="0.50" fill="#3a3ab0" opacity="0.51"/>
<circle cx="595.95" cy="652.78" r="0.33" fill="#3a3ab0" opacity="0.70"/>
<circle cx="601.21" cy="650.25" r="0.32" fill="#3a3ab0" opacity="0.38"/>
<circle cx="627.40" cy="647.00" r="13.20" fill="#e9edf6" stroke="#8a8a8a" stroke-width="0.7"/>
<circle cx="632.97" cy="654.48" r="0.31" fill="#3a3ab0" opacity="0.66"/>
<circle cx="621.66" cy="642.38" r="0.47" fill="#3a3ab0" opacity="0.58"/>
<circle cx="635.73" cy="649.32" r="0.47" fill="#3a3ab0" opacity="0.56"/>
<circle cx="634.80" cy="640.00" r="0.38" fill="#3a3ab0" opacity="0.41"/>
<circle cx="634.82" cy="654.70" r="0.49" fill="#3a3ab0" opacity="0.60"/>
<circle cx="619.55" cy="650.01" r="0.33" fill="#3a3ab0" opacity="0.57"/>
<circle cx="633.12" cy="654.41" r="0.47" fill="#3a3ab0" opacity="0.64"/>
<circle cx="627.48" cy="650.60" r="0.37" fill="#3a3ab0" opacity="0.64"/>
<circle cx="617.15" cy="646.36" r="0.40" fill="#3a3ab0" opacity="0.50"/>
<circle cx="631.46" cy="644.34" r="0.32" fill="#3a3ab0" opacity="0.59"/>
<circle cx="622.10" cy="641.26" r="0.45" fill="#3a3ab0" opacity="0.52"/>
<circle cx="621.92" cy="637.23" r="0.54" fill="#3a3ab0" opacity="0.62"/>
<circle cx="616.04" cy="649.16" r="0.41" fill="#3a3ab0" opacity="0.61"/>
<circle cx="634.05" cy="639.78" r="0.39" fill="#3a3ab0" opacity="0.67"/>
<circle cx="618.22" cy="640.30" r="0.47" fill="#3a3ab0" opacity="0.57"/>
<circle cx="635.91" cy="645.60" r="0.39" fill="#3a3ab0" opacity="0.77"/>
<circle cx="632.03" cy="645.30" r="0.28" fill="#3a3ab0" opacity="0.73"/>
<circle cx="632.85" cy="642.05" r="0.34" fill="#3a3ab0" opacity="0.64"/>
<circle cx="632.50" cy="644.98" r="0.41" fill="#3a3ab0" opacity="0.63"/>
<circle cx="628.80" cy="654.52" r="0.30" fill="#3a3ab0" opacity="0.54"/>
<circle cx="627.82" cy="650.35" r="0.39" fill="#3a3ab0" opacity="0.38"/>
<circle cx="630.78" cy="650.13" r="0.40" fill="#3a3ab0" opacity="0.46"/>
<circle cx="626.36" cy="639.42" r="0.34" fill="#3a3ab0" opacity="0.39"/>
<circle cx="624.41" cy="656.80" r="0.32" fill="#3a3ab0" opacity="0.53"/>
<circle cx="631.17" cy="636.86" r="0.41" fill="#3a3ab0" opacity="0.72"/>
<circle cx="623.86" cy="642.59" r="0.28" fill="#3a3ab0" opacity="0.39"/>
<circle cx="629.25" cy="639.82" r="0.54" fill="#3a3ab0" opacity="0.78"/>
<circle cx="634.51" cy="643.05" r="0.25" fill="#3a3ab0" opacity="0.44"/>
<circle cx="629.26" cy="656.39" r="0.50" fill="#3a3ab0" opacity="0.76"/>
<circle cx="624.16" cy="635.82" r="0.47" fill="#3a3ab0" opacity="0.54"/>
<circle cx="658.40" cy="647.00" r="13.20" fill="#e9edf6" stroke="#8a8a8a" stroke-width="0.7"/>
<circle cx="666.36" cy="645.95" r="0.50" fill="#3a3ab0" opacity="0.67"/>
<circle cx="659.13" cy="650.24" r="0.46" fill="#3a3ab0" opacity="0.36"/>
<circle cx="650.13" cy="654.56" r="0.56" fill="#3a3ab0" opacity="0.36"/>
<circle cx="663.27" cy="649.77" r="0.54" fill="#3a3ab0" opacity="0.31"/>
<circle cx="659.00" cy="650.84" r="0.29" fill="#3a3ab0" opacity="0.56"/>
<circle cx="661.49" cy="653.95" r="0.51" fill="#3a3ab0" opacity="0.66"/>
<circle cx="649.33" cy="652.36" r="0.45" fill="#3a3ab0" opacity="0.71"/>
<circle cx="658.45" cy="654.22" r="0.45" fill="#3a3ab0" opacity="0.77"/>
<circle cx="652.37" cy="641.46" r="0.34" fill="#3a3ab0" opacity="0.44"/>
<circle cx="660.92" cy="658.53" r="0.56" fill="#3a3ab0" opacity="0.75"/>
<circle cx="648.56" cy="645.22" r="0.35" fill="#3a3ab0" opacity="0.54"/>
<circle cx="663.10" cy="653.10" r="0.34" fill="#3a3ab0" opacity="0.35"/>
<circle cx="661.63" cy="645.21" r="0.53" fill="#3a3ab0" opacity="0.65"/>
<circle cx="665.39" cy="651.44" r="0.60" fill="#3a3ab0" opacity="0.79"/>
<circle cx="648.78" cy="642.96" r="0.50" fill="#3a3ab0" opacity="0.45"/>
<circle cx="649.67" cy="644.17" r="0.39" fill="#3a3ab0" opacity="0.71"/>
<circle cx="648.74" cy="650.53" r="0.27" fill="#3a3ab0" opacity="0.52"/>
<circle cx="667.58" cy="649.63" r="0.56" fill="#3a3ab0" opacity="0.57"/>
<circle cx="649.81" cy="643.26" r="0.33" fill="#3a3ab0" opacity="0.49"/>
<circle cx="649.99" cy="642.48" r="0.38" fill="#3a3ab0" opacity="0.54"/>
<circle cx="654.10" cy="654.73" r="0.49" fill="#3a3ab0" opacity="0.46"/>
<circle cx="654.05" cy="636.95" r="0.44" fill="#3a3ab0" opacity="0.79"/>
<circle cx="654.24" cy="657.61" r="0.31" fill="#3a3ab0" opacity="0.48"/>
<circle cx="659.27" cy="645.04" r="0.47" fill="#3a3ab0" opacity="0.74"/>
<circle cx="667.61" cy="643.62" r="0.37" fill="#3a3ab0" opacity="0.47"/>
<circle cx="656.32" cy="644.75" r="0.26" fill="#3a3ab0" opacity="0.74"/>
<circle cx="655.05" cy="643.57" r="0.40" fill="#3a3ab0" opacity="0.44"/>
<circle cx="662.73" cy="642.35" r="0.50" fill="#3a3ab0" opacity="0.67"/>
<circle cx="655.90" cy="652.42" r="0.43" fill="#3a3ab0" opacity="0.50"/>
<circle cx="652.75" cy="643.21" r="0.53" fill="#3a3ab0" opacity="0.51"/>
<circle cx="665.26" cy="654.89" r="0.56" fill="#3a3ab0" opacity="0.64"/>
<circle cx="647.78" cy="643.80" r="0.58" fill="#3a3ab0" opacity="0.30"/>
<circle cx="656.77" cy="647.13" r="0.37" fill="#3a3ab0" opacity="0.42"/>
<circle cx="648.91" cy="649.35" r="0.55" fill="#3a3ab0" opacity="0.43"/>
<circle cx="670.24" cy="647.87" r="0.52" fill="#3a3ab0" opacity="0.58"/>
<circle cx="660.47" cy="648.76" r="0.58" fill="#3a3ab0" opacity="0.56"/>
<circle cx="665.10" cy="638.90" r="0.51" fill="#3a3ab0" opacity="0.70"/>
<circle cx="658.28" cy="652.89" r="0.40" fill="#3a3ab0" opacity="0.68"/>
<circle cx="661.24" cy="637.06" r="0.45" fill="#3a3ab0" opacity="0.54"/>
<circle cx="661.73" cy="656.11" r="0.48" fill="#3a3ab0" opacity="0.56"/>
<circle cx="656.69" cy="635.37" r="0.58" fill="#3a3ab0" opacity="0.35"/>
<circle cx="656.23" cy="656.04" r="0.49" fill="#3a3ab0" opacity="0.44"/>
<circle cx="665.71" cy="643.60" r="0.52" fill="#3a3ab0" opacity="0.33"/>
<circle cx="658.08" cy="648.75" r="0.53" fill="#3a3ab0" opacity="0.56"/>
<circle cx="667.25" cy="644.29" r="0.36" fill="#3a3ab0" opacity="0.48"/>
<circle cx="654.66" cy="650.74" r="0.29" fill="#3a3ab0" opacity="0.62"/>
<circle cx="655.28" cy="654.37" r="0.50" fill="#3a3ab0" opacity="0.44"/>
<circle cx="652.12" cy="649.50" r="0.36" fill="#3a3ab0" opacity="0.63"/>
<circle cx="664.52" cy="651.36" r="0.29" fill="#3a3ab0" opacity="0.63"/>
<circle cx="654.94" cy="658.15" r="0.42" fill="#3a3ab0" opacity="0.63"/>
<circle cx="647.76" cy="645.40" r="0.50" fill="#3a3ab0" opacity="0.62"/>
<circle cx="662.79" cy="647.90" r="0.51" fill="#3a3ab0" opacity="0.51"/>
<circle cx="667.76" cy="645.56" r="0.54" fill="#3a3ab0" opacity="0.67"/>
<circle cx="667.78" cy="644.78" r="0.58" fill="#3a3ab0" opacity="0.51"/>
<circle cx="657.97" cy="650.92" r="0.34" fill="#3a3ab0" opacity="0.75"/>
<circle cx="657.05" cy="644.93" r="0.26" fill="#3a3ab0" opacity="0.53"/>
<circle cx="651.54" cy="645.03" r="0.26" fill="#3a3ab0" opacity="0.43"/>
<circle cx="665.64" cy="639.93" r="0.54" fill="#3a3ab0" opacity="0.43"/>
<circle cx="655.79" cy="642.41" r="0.36" fill="#3a3ab0" opacity="0.78"/>
<circle cx="659.87" cy="653.26" r="0.33" fill="#3a3ab0" opacity="0.73"/>
<circle cx="654.89" cy="638.57" r="0.55" fill="#3a3ab0" opacity="0.53"/>
<circle cx="667.44" cy="641.72" r="0.35" fill="#3a3ab0" opacity="0.42"/>
<circle cx="650.68" cy="645.16" r="0.53" fill="#3a3ab0" opacity="0.63"/>
<circle cx="657.97" cy="637.78" r="0.34" fill="#3a3ab0" opacity="0.67"/>
<circle cx="667.82" cy="645.90" r="0.50" fill="#3a3ab0" opacity="0.42"/>
<circle cx="664.27" cy="652.37" r="0.46" fill="#3a3ab0" opacity="0.66"/>
<circle cx="649.76" cy="648.42" r="0.28" fill="#3a3ab0" opacity="0.32"/>
<circle cx="663.24" cy="651.64" r="0.34" fill="#3a3ab0" opacity="0.37"/>
<circle cx="654.76" cy="652.86" r="0.54" fill="#3a3ab0" opacity="0.77"/>
<circle cx="668.59" cy="646.60" r="0.25" fill="#3a3ab0" opacity="0.42"/>
<circle cx="565.70" cy="745.70" r="13.40" fill="#e9edf6" stroke="#8a8a8a" stroke-width="0.7"/>
<circle cx="570.92" cy="747.24" r="0.50" fill="#3a3ab0" opacity="0.37"/>
<circle cx="569.67" cy="740.90" r="0.25" fill="#3a3ab0" opacity="0.52"/>
<circle cx="566.46" cy="747.03" r="0.35" fill="#3a3ab0" opacity="0.53"/>
<circle cx="569.61" cy="756.13" r="0.36" fill="#3a3ab0" opacity="0.65"/>
<circle cx="563.43" cy="748.79" r="0.40" fill="#3a3ab0" opacity="0.64"/>
<circle cx="556.07" cy="746.49" r="0.29" fill="#3a3ab0" opacity="0.37"/>
<circle cx="571.48" cy="751.87" r="0.55" fill="#3a3ab0" opacity="0.49"/>
<circle cx="567.42" cy="742.06" r="0.33" fill="#3a3ab0" opacity="0.64"/>
<circle cx="596.60" cy="745.70" r="13.40" fill="#e9edf6" stroke="#8a8a8a" stroke-width="0.7"/>
<circle cx="602.88" cy="748.52" r="0.25" fill="#3a3ab0" opacity="0.44"/>
<circle cx="596.77" cy="735.66" r="0.41" fill="#3a3ab0" opacity="0.68"/>
<circle cx="585.91" cy="749.10" r="0.46" fill="#3a3ab0" opacity="0.37"/>
<circle cx="588.99" cy="742.31" r="0.44" fill="#3a3ab0" opacity="0.41"/>
<circle cx="594.83" cy="740.77" r="0.35" fill="#3a3ab0" opacity="0.42"/>
<circle cx="596.06" cy="750.80" r="0.51" fill="#3a3ab0" opacity="0.63"/>
<circle cx="605.58" cy="747.44" r="0.28" fill="#3a3ab0" opacity="0.62"/>
<circle cx="589.21" cy="750.57" r="0.52" fill="#3a3ab0" opacity="0.69"/>
<circle cx="593.92" cy="739.74" r="0.28" fill="#3a3ab0" opacity="0.59"/>
<circle cx="585.47" cy="743.24" r="0.56" fill="#3a3ab0" opacity="0.39"/>
<circle cx="587.98" cy="751.09" r="0.40" fill="#3a3ab0" opacity="0.78"/>
<circle cx="604.33" cy="746.35" r="0.55" fill="#3a3ab0" opacity="0.77"/>
<circle cx="590.55" cy="745.48" r="0.46" fill="#3a3ab0" opacity="0.46"/>
<circle cx="594.27" cy="739.04" r="0.32" fill="#3a3ab0" opacity="0.59"/>
<circle cx="597.72" cy="737.33" r="0.46" fill="#3a3ab0" opacity="0.59"/>
<circle cx="595.68" cy="745.56" r="0.38" fill="#3a3ab0" opacity="0.74"/>
<circle cx="585.95" cy="744.92" r="0.58" fill="#3a3ab0" opacity="0.32"/>
<circle cx="595.44" cy="737.35" r="0.25" fill="#3a3ab0" opacity="0.41"/>
<circle cx="588.42" cy="746.04" r="0.55" fill="#3a3ab0" opacity="0.48"/>
<circle cx="598.41" cy="738.18" r="0.58" fill="#3a3ab0" opacity="0.79"/>
<circle cx="602.34" cy="754.97" r="0.29" fill="#3a3ab0" opacity="0.47"/>
<circle cx="602.58" cy="740.47" r="0.26" fill="#3a3ab0" opacity="0.30"/>
<circle cx="607.74" cy="744.79" r="0.59" fill="#3a3ab0" opacity="0.47"/>
<circle cx="593.21" cy="755.09" r="0.27" fill="#3a3ab0" opacity="0.60"/>
<circle cx="599.56" cy="749.98" r="0.51" fill="#3a3ab0" opacity="0.42"/>
<circle cx="606.44" cy="745.01" r="0.46" fill="#3a3ab0" opacity="0.62"/>
<circle cx="597.40" cy="757.48" r="0.26" fill="#3a3ab0" opacity="0.75"/>
<circle cx="587.44" cy="743.78" r="0.44" fill="#3a3ab0" opacity="0.49"/>
<circle cx="600.19" cy="751.89" r="0.47" fill="#3a3ab0" opacity="0.46"/>
<circle cx="599.45" cy="736.07" r="0.26" fill="#3a3ab0" opacity="0.35"/>
<circle cx="627.70" cy="745.70" r="13.40" fill="#e9edf6" stroke="#8a8a8a" stroke-width="0.7"/>
<circle cx="628.54" cy="736.05" r="0.39" fill="#3a3ab0" opacity="0.40"/>
<circle cx="622.42" cy="735.06" r="0.40" fill="#3a3ab0" opacity="0.73"/>
<circle cx="636.24" cy="747.67" r="0.32" fill="#3a3ab0" opacity="0.55"/>
<circle cx="619.16" cy="738.52" r="0.43" fill="#3a3ab0" opacity="0.73"/>
<circle cx="625.70" cy="749.53" r="0.41" fill="#3a3ab0" opacity="0.66"/>
<circle cx="627.10" cy="743.47" r="0.34" fill="#3a3ab0" opacity="0.43"/>
<circle cx="616.68" cy="747.69" r="0.34" fill="#3a3ab0" opacity="0.32"/>
<circle cx="636.71" cy="738.98" r="0.52" fill="#3a3ab0" opacity="0.32"/>
<circle cx="627.36" cy="750.76" r="0.57" fill="#3a3ab0" opacity="0.36"/>
<circle cx="631.64" cy="749.77" r="0.53" fill="#3a3ab0" opacity="0.40"/>
<circle cx="658.60" cy="745.70" r="13.40" fill="#e9edf6" stroke="#8a8a8a" stroke-width="0.7"/>
<circle cx="667.92" cy="751.67" r="0.46" fill="#3a3ab0" opacity="0.41"/>
<circle cx="660.32" cy="736.56" r="0.54" fill="#3a3ab0" opacity="0.61"/>
<circle cx="656.82" cy="735.23" r="0.37" fill="#3a3ab0" opacity="0.35"/>
<circle cx="661.91" cy="743.22" r="0.44" fill="#3a3ab0" opacity="0.80"/>
<circle cx="654.96" cy="750.68" r="0.38" fill="#3a3ab0" opacity="0.40"/>
<circle cx="658.59" cy="739.12" r="0.28" fill="#3a3ab0" opacity="0.60"/>
<circle cx="658.31" cy="750.79" r="0.26" fill="#3a3ab0" opacity="0.72"/>
<circle cx="651.88" cy="752.19" r="0.42" fill="#3a3ab0" opacity="0.73"/>
<circle cx="667.36" cy="749.64" r="0.54" fill="#3a3ab0" opacity="0.44"/>
<circle cx="652.20" cy="748.53" r="0.36" fill="#3a3ab0" opacity="0.77"/>
<circle cx="659.99" cy="755.97" r="0.27" fill="#3a3ab0" opacity="0.69"/>
<circle cx="667.98" cy="750.89" r="0.27" fill="#3a3ab0" opacity="0.41"/>
<circle cx="658.05" cy="752.07" r="0.52" fill="#3a3ab0" opacity="0.55"/>
<circle cx="663.54" cy="747.16" r="0.40" fill="#3a3ab0" opacity="0.66"/>
<circle cx="653.30" cy="739.24" r="0.53" fill="#3a3ab0" opacity="0.77"/>
<circle cx="670.01" cy="741.95" r="0.57" fill="#3a3ab0" opacity="0.79"/>
<circle cx="656.50" cy="735.89" r="0.45" fill="#3a3ab0" opacity="0.50"/>
<circle cx="662.48" cy="739.33" r="0.57" fill="#3a3ab0" opacity="0.52"/>
<circle cx="669.60" cy="747.24" r="0.42" fill="#3a3ab0" opacity="0.30"/>
<circle cx="663.05" cy="735.92" r="0.56" fill="#3a3ab0" opacity="0.53"/>
<circle cx="661.38" cy="750.58" r="0.44" fill="#3a3ab0" opacity="0.64"/>
<circle cx="653.06" cy="743.62" r="0.30" fill="#3a3ab0" opacity="0.79"/>
<circle cx="670.29" cy="745.54" r="0.43" fill="#3a3ab0" opacity="0.34"/>
<circle cx="660.24" cy="754.52" r="0.55" fill="#3a3ab0" opacity="0.65"/>
<circle cx="667.57" cy="752.96" r="0.47" fill="#3a3ab0" opacity="0.51"/>
<circle cx="659.56" cy="738.04" r="0.44" fill="#3a3ab0" opacity="0.31"/>
<circle cx="668.93" cy="751.05" r="0.40" fill="#3a3ab0" opacity="0.70"/>
<circle cx="653.38" cy="751.16" r="0.29" fill="#3a3ab0" opacity="0.75"/>
<circle cx="658.45" cy="756.26" r="0.31" fill="#3a3ab0" opacity="0.45"/>
<circle cx="667.14" cy="751.01" r="0.57" fill="#3a3ab0" opacity="0.61"/>
<circle cx="654.89" cy="740.96" r="0.58" fill="#3a3ab0" opacity="0.36"/>
<circle cx="658.58" cy="754.77" r="0.47" fill="#3a3ab0" opacity="0.44"/>
<circle cx="655.16" cy="743.49" r="0.27" fill="#3a3ab0" opacity="0.51"/>
<circle cx="648.57" cy="740.43" r="0.41" fill="#3a3ab0" opacity="0.77"/>
<circle cx="659.84" cy="733.88" r="0.50" fill="#3a3ab0" opacity="0.51"/>
<circle cx="652.04" cy="738.13" r="0.34" fill="#3a3ab0" opacity="0.39"/>
<circle cx="654.64" cy="753.64" r="0.27" fill="#3a3ab0" opacity="0.48"/>
<circle cx="665.76" cy="754.91" r="0.41" fill="#3a3ab0" opacity="0.58"/>
<circle cx="663.80" cy="751.91" r="0.59" fill="#3a3ab0" opacity="0.72"/>
<circle cx="662.74" cy="743.14" r="0.55" fill="#3a3ab0" opacity="0.70"/>
<circle cx="379.97" cy="781.25" r="1.36" fill="#e2584a" opacity="0.85"/>
<circle cx="377.21" cy="781.25" r="1.36" fill="#e2584a" opacity="0.85"/>
<circle cx="379.10" cy="781.25" r="1.36" fill="#e2584a" opacity="0.85"/>
<circle cx="373.98" cy="781.25" r="1.36" fill="#e2584a" opacity="0.85"/>
<circle cx="383.27" cy="781.25" r="1.36" fill="#e2584a" opacity="0.85"/>
<circle cx="376.73" cy="781.25" r="1.36" fill="#e2584a" opacity="0.85"/>
<circle cx="374.38" cy="781.25" r="1.36" fill="#e2584a" opacity="0.85"/>
<circle cx="384.00" cy="781.25" r="1.36" fill="#e2584a" opacity="0.85"/>
<circle cx="381.68" cy="781.25" r="1.36" fill="#e2584a" opacity="0.85"/>
<circle cx="384.73" cy="781.25" r="1.36" fill="#e2584a" opacity="0.85"/>
<circle cx="380.96" cy="781.25" r="1.36" fill="#e2584a" opacity="0.85"/>
<circle cx="381.03" cy="781.25" r="1.36" fill="#e2584a" opacity="0.85"/>
<circle cx="375.78" cy="781.25" r="1.36" fill="#e2584a" opacity="0.85"/>
<circle cx="378.31" cy="781.25" r="1.36" fill="#e2584a" opacity="0.85"/>
<circle cx="379.97" cy="781.25" r="1.36" fill="#e2584a" opacity="0.85"/>
<circle cx="376.38" cy="781.25" r="1.36" fill="#e2584a" opacity="0.85"/>
<circle cx="384.55" cy="781.25" r="1.36" fill="#e2584a" opacity="0.85"/>
<circle cx="384.31" cy="781.25" r="1.36" fill="#e2584a" opacity="0.85"/>
<circle cx="379.86" cy="781.25" r="1.36" fill="#e2584a" opacity="0.85"/>
<circle cx="382.15" cy="781.25" r="1.36" fill="#e2584a" opacity="0.85"/>
<circle cx="384.61" cy="781.25" r="1.36" fill="#e2584a" opacity="0.85"/>
<circle cx="379.53" cy="781.25" r="1.36" fill="#e2584a" opacity="0.85"/>
<circle cx="374.20" cy="781.25" r="1.36" fill="#e2584a" opacity="0.85"/>
<circle cx="381.11" cy="781.25" r="1.36" fill="#e2584a" opacity="0.85"/>
<circle cx="381.89" cy="781.25" r="1.36" fill="#e2584a" opacity="0.85"/>
<circle cx="375.07" cy="781.25" r="1.36" fill="#e2584a" opacity="0.85"/>
<circle cx="380.89" cy="781.25" r="1.36" fill="#e2584a" opacity="0.85"/>
<circle cx="384.35" cy="781.25" r="1.36" fill="#e2584a" opacity="0.85"/>
<circle cx="377.89" cy="781.25" r="1.36" fill="#e2584a" opacity="0.85"/>
<circle cx="374.77" cy="781.25" r="1.36" fill="#e2584a" opacity="0.85"/>
<circle cx="384.68" cy="781.25" r="1.36" fill="#e2584a" opacity="0.85"/>
<circle cx="380.34" cy="781.25" r="1.36" fill="#e2584a" opacity="0.85"/>
<circle cx="379.29" cy="781.25" r="1.36" fill="#e2584a" opacity="0.85"/>
<circle cx="382.47" cy="781.25" r="1.36" fill="#e2584a" opacity="0.85"/>
<circle cx="375.84" cy="781.25" r="1.36" fill="#e2584a" opacity="0.85"/>
<circle cx="384.71" cy="781.25" r="1.36" fill="#e2584a" opacity="0.85"/>
<circle cx="378.60" cy="781.25" r="1.36" fill="#e2584a" opacity="0.85"/>
<circle cx="374.86" cy="781.25" r="1.36" fill="#e2584a" opacity="0.85"/>
<circle cx="375.16" cy="781.25" r="1.36" fill="#e2584a" opacity="0.85"/>
<circle cx="380.18" cy="781.25" r="1.36" fill="#e2584a" opacity="0.85"/>
<circle cx="378.29" cy="781.25" r="1.36" fill="#e2584a" opacity="0.85"/>
<circle cx="381.56" cy="781.25" r="1.36" fill="#e2584a" opacity="0.85"/>
<circle cx="378.47" cy="781.25" r="1.36" fill="#e2584a" opacity="0.85"/>
<circle cx="377.58" cy="781.25" r="1.36" fill="#e2584a" opacity="0.85"/>
<circle cx="376.03" cy="781.25" r="1.36" fill="#e2584a" opacity="0.85"/>
<circle cx="384.35" cy="781.25" r="1.36" fill="#e2584a" opacity="0.85"/>
<circle cx="378.47" cy="781.25" r="1.36" fill="#e2584a" opacity="0.85"/>
<circle cx="380.63" cy="781.25" r="1.36" fill="#e2584a" opacity="0.85"/>
<circle cx="374.48" cy="781.25" r="1.36" fill="#e2584a" opacity="0.85"/>
<circle cx="383.79" cy="781.25" r="1.36" fill="#e2584a" opacity="0.85"/>
<circle cx="398.39" cy="781.25" r="1.60" fill="#e2584a" opacity="0.4"/>
<circle cx="416.03" cy="781.25" r="1.60" fill="#e2584a" opacity="0.4"/>
<circle cx="416.94" cy="781.25" r="1.60" fill="#e2584a" opacity="0.4"/>
<circle cx="389.08" cy="781.25" r="1.60" fill="#e2584a" opacity="0.4"/>
<circle cx="388.83" cy="781.25" r="1.60" fill="#e2584a" opacity="0.4"/>
<circle cx="406.26" cy="781.25" r="1.60" fill="#e2584a" opacity="0.4"/>
<circle cx="419.03" cy="781.25" r="1.60" fill="#e2584a" opacity="0.4"/>
<circle cx="401.54" cy="781.25" r="1.60" fill="#e2584a" opacity="0.4"/>
<circle cx="393.41" cy="781.25" r="1.60" fill="#e2584a" opacity="0.4"/>
<circle cx="413.42" cy="781.25" r="1.60" fill="#e2584a" opacity="0.4"/>
<circle cx="399.76" cy="781.25" r="1.60" fill="#e2584a" opacity="0.4"/>
<circle cx="400.62" cy="781.25" r="1.60" fill="#e2584a" opacity="0.4"/>
<circle cx="411.13" cy="781.25" r="1.60" fill="#e2584a" opacity="0.4"/>
<circle cx="396.08" cy="781.25" r="1.60" fill="#e2584a" opacity="0.4"/>
<circle cx="431.09" cy="781.25" r="1.60" fill="#e2584a" opacity="0.3"/>
<circle cx="407.13" cy="781.25" r="1.36" fill="#e2584a" opacity="0.8"/>
<circle cx="406.62" cy="781.25" r="1.36" fill="#e2584a" opacity="0.8"/>
<circle cx="422.32" cy="792.09" r="1.36" fill="#55bdd6" opacity="0.7"/>
<circle cx="417.13" cy="792.09" r="1.36" fill="#55bdd6" opacity="0.7"/>
<circle cx="431.68" cy="792.09" r="1.36" fill="#55bdd6" opacity="0.7"/>
<circle cx="442.73" cy="792.09" r="1.36" fill="#55bdd6" opacity="0.7"/>
<circle cx="426.99" cy="792.09" r="1.36" fill="#55bdd6" opacity="0.7"/>
<circle cx="418.49" cy="792.09" r="1.36" fill="#55bdd6" opacity="0.7"/>
<circle cx="438.74" cy="792.09" r="1.36" fill="#55bdd6" opacity="0.7"/>
<circle cx="439.79" cy="792.09" r="1.36" fill="#55bdd6" opacity="0.7"/>
<circle cx="430.12" cy="792.09" r="1.36" fill="#55bdd6" opacity="0.7"/>
<circle cx="430.02" cy="792.09" r="1.36" fill="#55bdd6" opacity="0.7"/>
<circle cx="429.41" cy="792.09" r="1.36" fill="#55bdd6" opacity="0.7"/>
<circle cx="425.38" cy="792.09" r="1.36" fill="#55bdd6" opacity="0.7"/>
<circle cx="434.28" cy="792.09" r="1.36" fill="#55bdd6" opacity="0.7"/>
<circle cx="441.27" cy="792.09" r="1.36" fill="#55bdd6" opacity="0.7"/>
<circle cx="419.61" cy="792.09" r="1.36" fill="#55bdd6" opacity="0.7"/>
<circle cx="435.62" cy="792.09" r="1.36" fill="#55bdd6" opacity="0.7"/>
<circle cx="436.84" cy="792.09" r="1.36" fill="#55bdd6" opacity="0.7"/>
<circle cx="418.46" cy="792.09" r="1.36" fill="#55bdd6" opacity="0.7"/>
<circle cx="434.95" cy="792.09" r="1.36" fill="#55bdd6" opacity="0.7"/>
<circle cx="420.94" cy="792.09" r="1.36" fill="#55bdd6" opacity="0.7"/>
<circle cx="426.80" cy="792.09" r="1.36" fill="#55bdd6" opacity="0.7"/>
<circle cx="434.54" cy="792.09" r="1.36" fill="#55bdd6" opacity="0.7"/>
<circle cx="427.00" cy="792.09" r="1.36" fill="#55bdd6" opacity="0.7"/>
<circle cx="438.11" cy="792.09" r="1.36" fill="#55bdd6" opacity="0.7"/>
<circle cx="432.45" cy="792.09" r="1.36" fill="#55bdd6" opacity="0.7"/>
<circle cx="438.96" cy="792.09" r="1.36" fill="#55bdd6" opacity="0.7"/>
<circle cx="418.44" cy="792.09" r="1.36" fill="#55bdd6" opacity="0.7"/>
<circle cx="421.30" cy="792.09" r="1.36" fill="#55bdd6" opacity="0.7"/>
<circle cx="432.06" cy="792.09" r="1.36" fill="#55bdd6" opacity="0.7"/>
<circle cx="421.51" cy="792.09" r="1.36" fill="#55bdd6" opacity="0.7"/>
<circle cx="420.45" cy="792.09" r="1.36" fill="#55bdd6" opacity="0.7"/>
<circle cx="417.75" cy="792.09" r="1.36" fill="#55bdd6" opacity="0.7"/>
<circle cx="430.72" cy="792.09" r="1.36" fill="#55bdd6" opacity="0.7"/>
<circle cx="423.77" cy="792.09" r="1.36" fill="#55bdd6" opacity="0.7"/>
<circle cx="423.44" cy="792.09" r="1.36" fill="#55bdd6" opacity="0.7"/>
<circle cx="426.79" cy="792.09" r="1.36" fill="#55bdd6" opacity="0.7"/>
<circle cx="423.52" cy="792.09" r="1.36" fill="#55bdd6" opacity="0.7"/>
<circle cx="427.07" cy="792.09" r="1.36" fill="#55bdd6" opacity="0.7"/>
<circle cx="419.60" cy="792.09" r="1.36" fill="#55bdd6" opacity="0.7"/>
<circle cx="441.08" cy="792.09" r="1.36" fill="#55bdd6" opacity="0.7"/>
<circle cx="432.17" cy="792.09" r="1.36" fill="#55bdd6" opacity="0.7"/>
<circle cx="434.29" cy="792.09" r="1.36" fill="#55bdd6" opacity="0.7"/>
<circle cx="427.62" cy="792.09" r="1.36" fill="#55bdd6" opacity="0.7"/>
<circle cx="420.15" cy="792.09" r="1.36" fill="#55bdd6" opacity="0.7"/>
<circle cx="425.34" cy="792.09" r="1.36" fill="#55bdd6" opacity="0.7"/>
<circle cx="434.85" cy="792.09" r="1.36" fill="#55bdd6" opacity="0.7"/>
<circle cx="417.58" cy="792.09" r="1.36" fill="#55bdd6" opacity="0.7"/>
<circle cx="437.47" cy="792.09" r="1.36" fill="#55bdd6" opacity="0.7"/>
<circle cx="429.43" cy="792.09" r="1.36" fill="#55bdd6" opacity="0.7"/>
<circle cx="417.95" cy="792.09" r="1.36" fill="#55bdd6" opacity="0.7"/>
<circle cx="429.74" cy="792.09" r="1.36" fill="#55bdd6" opacity="0.7"/>
<circle cx="425.91" cy="792.09" r="1.36" fill="#55bdd6" opacity="0.7"/>
<circle cx="430.03" cy="792.09" r="1.36" fill="#55bdd6" opacity="0.7"/>
<circle cx="429.18" cy="792.09" r="1.36" fill="#55bdd6" opacity="0.7"/>
<circle cx="432.52" cy="792.09" r="1.36" fill="#55bdd6" opacity="0.7"/>
<circle cx="430.40" cy="792.09" r="1.36" fill="#55bdd6" opacity="0.7"/>
<circle cx="424.93" cy="792.09" r="1.36" fill="#55bdd6" opacity="0.7"/>
<circle cx="433.17" cy="792.09" r="1.36" fill="#55bdd6" opacity="0.7"/>
<circle cx="442.77" cy="792.09" r="1.36" fill="#55bdd6" opacity="0.7"/>
<circle cx="421.54" cy="792.09" r="1.36" fill="#55bdd6" opacity="0.7"/>
<circle cx="420.78" cy="792.09" r="1.36" fill="#55bdd6" opacity="0.7"/>
<circle cx="425.14" cy="792.09" r="1.36" fill="#55bdd6" opacity="0.7"/>
<circle cx="435.35" cy="792.09" r="1.36" fill="#55bdd6" opacity="0.7"/>
<circle cx="434.01" cy="792.09" r="1.36" fill="#55bdd6" opacity="0.7"/>
<circle cx="421.61" cy="792.09" r="1.36" fill="#55bdd6" opacity="0.7"/>
<circle cx="422.08" cy="792.09" r="1.36" fill="#55bdd6" opacity="0.7"/>
<circle cx="417.52" cy="792.09" r="1.36" fill="#55bdd6" opacity="0.7"/>
<circle cx="421.80" cy="792.09" r="1.36" fill="#55bdd6" opacity="0.7"/>
<circle cx="434.99" cy="792.09" r="1.36" fill="#55bdd6" opacity="0.7"/>
<circle cx="418.19" cy="792.09" r="1.36" fill="#55bdd6" opacity="0.7"/>
<circle cx="417.32" cy="792.09" r="1.36" fill="#55bdd6" opacity="0.7"/>
<circle cx="425.27" cy="792.09" r="1.36" fill="#55bdd6" opacity="0.7"/>
<circle cx="442.54" cy="792.09" r="1.36" fill="#55bdd6" opacity="0.7"/>
<circle cx="416.83" cy="792.09" r="1.36" fill="#55bdd6" opacity="0.7"/>
<circle cx="442.52" cy="792.09" r="1.36" fill="#55bdd6" opacity="0.7"/>
<circle cx="437.67" cy="792.09" r="1.36" fill="#55bdd6" opacity="0.7"/>
<circle cx="442.64" cy="792.09" r="1.36" fill="#55bdd6" opacity="0.7"/>
<circle cx="428.18" cy="792.09" r="1.36" fill="#55bdd6" opacity="0.7"/>
<circle cx="434.38" cy="792.09" r="1.36" fill="#55bdd6" opacity="0.7"/>
<circle cx="434.87" cy="792.09" r="1.36" fill="#55bdd6" opacity="0.7"/>
<circle cx="482.13" cy="792.09" r="1.60" fill="#55bdd6" opacity="0.4"/>
<circle cx="450.88" cy="792.09" r="1.60" fill="#55bdd6" opacity="0.4"/>
<circle cx="467.41" cy="792.09" r="1.60" fill="#55bdd6" opacity="0.4"/>
<circle cx="470.73" cy="792.09" r="1.60" fill="#55bdd6" opacity="0.4"/>
<circle cx="480.80" cy="792.09" r="1.60" fill="#55bdd6" opacity="0.4"/>
<circle cx="495.78" cy="792.09" r="1.60" fill="#55bdd6" opacity="0.4"/>
<circle cx="491.00" cy="792.09" r="1.60" fill="#55bdd6" opacity="0.4"/>
<circle cx="485.12" cy="792.09" r="1.60" fill="#55bdd6" opacity="0.4"/>
<circle cx="493.69" cy="792.09" r="1.60" fill="#55bdd6" opacity="0.4"/>
<circle cx="467.32" cy="792.09" r="1.60" fill="#55bdd6" opacity="0.4"/>
<circle cx="465.36" cy="792.09" r="1.60" fill="#55bdd6" opacity="0.4"/>
<circle cx="500.88" cy="792.09" r="1.60" fill="#55bdd6" opacity="0.4"/>
<circle cx="499.90" cy="792.09" r="1.60" fill="#55bdd6" opacity="0.4"/>
<circle cx="448.22" cy="792.09" r="1.60" fill="#55bdd6" opacity="0.4"/>
<circle cx="483.88" cy="792.09" r="1.60" fill="#55bdd6" opacity="0.4"/>
<circle cx="449.99" cy="792.09" r="1.60" fill="#55bdd6" opacity="0.4"/>
<circle cx="499.19" cy="792.09" r="1.60" fill="#55bdd6" opacity="0.4"/>
<circle cx="479.85" cy="792.09" r="1.60" fill="#55bdd6" opacity="0.4"/>
<circle cx="464.75" cy="792.09" r="1.60" fill="#55bdd6" opacity="0.4"/>
<circle cx="472.25" cy="792.09" r="1.60" fill="#55bdd6" opacity="0.4"/>
<circle cx="478.09" cy="792.09" r="1.60" fill="#55bdd6" opacity="0.4"/>
<circle cx="488.72" cy="792.09" r="1.60" fill="#55bdd6" opacity="0.4"/>
<circle cx="464.49" cy="792.09" r="1.60" fill="#55bdd6" opacity="0.4"/>
<circle cx="464.64" cy="792.09" r="1.60" fill="#55bdd6" opacity="0.4"/>
<circle cx="494.27" cy="792.09" r="1.60" fill="#55bdd6" opacity="0.4"/>
<circle cx="482.44" cy="792.09" r="1.60" fill="#55bdd6" opacity="0.4"/>
<circle cx="498.77" cy="792.09" r="1.60" fill="#55bdd6" opacity="0.4"/>
<circle cx="480.15" cy="792.09" r="1.60" fill="#55bdd6" opacity="0.4"/>
<circle cx="491.17" cy="792.09" r="1.60" fill="#55bdd6" opacity="0.4"/>
<circle cx="453.09" cy="792.09" r="1.60" fill="#55bdd6" opacity="0.4"/>
<circle cx="501.18" cy="792.09" r="1.36" fill="#55bdd6" opacity="0.9"/>
<circle cx="375.86" cy="815.28" r="1.36" fill="#e2584a" opacity="0.85"/>
<circle cx="378.40" cy="815.28" r="1.36" fill="#e2584a" opacity="0.85"/>
<circle cx="379.46" cy="815.28" r="1.36" fill="#e2584a" opacity="0.85"/>
<circle cx="378.21" cy="815.28" r="1.36" fill="#e2584a" opacity="0.85"/>
<circle cx="379.66" cy="815.28" r="1.36" fill="#e2584a" opacity="0.85"/>
<circle cx="375.78" cy="815.28" r="1.36" fill="#e2584a" opacity="0.85"/>
<circle cx="375.38" cy="815.28" r="1.36" fill="#e2584a" opacity="0.85"/>
<circle cx="377.57" cy="815.28" r="1.36" fill="#e2584a" opacity="0.85"/>
<circle cx="378.04" cy="815.28" r="1.36" fill="#e2584a" opacity="0.85"/>
<circle cx="378.72" cy="815.28" r="1.36" fill="#e2584a" opacity="0.85"/>
<circle cx="378.57" cy="815.28" r="1.36" fill="#e2584a" opacity="0.85"/>
<circle cx="380.33" cy="815.28" r="1.36" fill="#e2584a" opacity="0.85"/>
<circle cx="378.59" cy="815.28" r="1.36" fill="#e2584a" opacity="0.85"/>
<circle cx="374.35" cy="815.28" r="1.36" fill="#e2584a" opacity="0.85"/>
<circle cx="377.60" cy="815.28" r="1.36" fill="#e2584a" opacity="0.85"/>
<circle cx="382.43" cy="815.28" r="1.36" fill="#e2584a" opacity="0.85"/>
<circle cx="380.92" cy="815.28" r="1.36" fill="#e2584a" opacity="0.85"/>
<circle cx="375.87" cy="815.28" r="1.36" fill="#e2584a" opacity="0.85"/>
<circle cx="376.00" cy="815.28" r="1.36" fill="#e2584a" opacity="0.85"/>
<circle cx="375.40" cy="815.28" r="1.36" fill="#e2584a" opacity="0.85"/>
<circle cx="378.32" cy="815.28" r="1.36" fill="#e2584a" opacity="0.85"/>
<circle cx="381.83" cy="815.28" r="1.36" fill="#e2584a" opacity="0.85"/>
<circle cx="381.86" cy="815.28" r="1.36" fill="#e2584a" opacity="0.85"/>
<circle cx="378.38" cy="815.28" r="1.36" fill="#e2584a" opacity="0.85"/>
<circle cx="374.80" cy="815.28" r="1.36" fill="#e2584a" opacity="0.85"/>
<circle cx="374.30" cy="815.28" r="1.36" fill="#e2584a" opacity="0.85"/>
<circle cx="378.85" cy="815.28" r="1.36" fill="#e2584a" opacity="0.85"/>
<circle cx="381.60" cy="815.28" r="1.36" fill="#e2584a" opacity="0.85"/>
<circle cx="378.17" cy="815.28" r="1.36" fill="#e2584a" opacity="0.85"/>
<circle cx="374.93" cy="815.28" r="1.36" fill="#e2584a" opacity="0.85"/>
<circle cx="377.51" cy="815.28" r="1.36" fill="#e2584a" opacity="0.85"/>
<circle cx="377.01" cy="815.28" r="1.36" fill="#e2584a" opacity="0.85"/>
<circle cx="375.50" cy="815.28" r="1.36" fill="#e2584a" opacity="0.85"/>
<circle cx="382.53" cy="815.28" r="1.36" fill="#e2584a" opacity="0.85"/>
<circle cx="382.21" cy="815.28" r="1.36" fill="#e2584a" opacity="0.85"/>
<circle cx="381.36" cy="815.28" r="1.36" fill="#e2584a" opacity="0.85"/>
<circle cx="379.19" cy="815.28" r="1.36" fill="#e2584a" opacity="0.85"/>
<circle cx="377.06" cy="815.28" r="1.36" fill="#e2584a" opacity="0.85"/>
<circle cx="381.53" cy="815.28" r="1.36" fill="#e2584a" opacity="0.85"/>
<circle cx="376.71" cy="815.28" r="1.36" fill="#e2584a" opacity="0.85"/>
<circle cx="389.99" cy="815.28" r="1.60" fill="#e2584a" opacity="0.4"/>
<circle cx="399.05" cy="815.28" r="1.60" fill="#e2584a" opacity="0.4"/>
<circle cx="396.42" cy="815.28" r="1.60" fill="#e2584a" opacity="0.4"/>
<circle cx="401.00" cy="815.28" r="1.60" fill="#e2584a" opacity="0.4"/>
<circle cx="387.52" cy="815.28" r="1.60" fill="#e2584a" opacity="0.4"/>
<circle cx="383.28" cy="815.28" r="1.60" fill="#e2584a" opacity="0.4"/>
<circle cx="397.07" cy="815.28" r="1.60" fill="#e2584a" opacity="0.4"/>
<circle cx="389.43" cy="815.28" r="1.60" fill="#e2584a" opacity="0.4"/>
<circle cx="385.58" cy="815.28" r="1.60" fill="#e2584a" opacity="0.4"/>
<circle cx="385.28" cy="815.28" r="1.60" fill="#e2584a" opacity="0.4"/>
<circle cx="387.06" cy="815.28" r="1.60" fill="#e2584a" opacity="0.4"/>
<circle cx="388.54" cy="815.28" r="1.60" fill="#e2584a" opacity="0.4"/>
<circle cx="448.21" cy="815.28" r="1.36" fill="#e2584a" opacity="0.9"/>
<circle cx="410.27" cy="826.63" r="1.36" fill="#55bdd6" opacity="0.7"/>
<circle cx="422.06" cy="826.63" r="1.36" fill="#55bdd6" opacity="0.7"/>
<circle cx="417.17" cy="826.63" r="1.36" fill="#55bdd6" opacity="0.7"/>
<circle cx="408.89" cy="826.63" r="1.36" fill="#55bdd6" opacity="0.7"/>
<circle cx="427.05" cy="826.63" r="1.36" fill="#55bdd6" opacity="0.7"/>
<circle cx="426.61" cy="826.63" r="1.36" fill="#55bdd6" opacity="0.7"/>
<circle cx="409.42" cy="826.63" r="1.36" fill="#55bdd6" opacity="0.7"/>
<circle cx="424.57" cy="826.63" r="1.36" fill="#55bdd6" opacity="0.7"/>
<circle cx="407.97" cy="826.63" r="1.36" fill="#55bdd6" opacity="0.7"/>
<circle cx="423.36" cy="826.63" r="1.36" fill="#55bdd6" opacity="0.7"/>
<circle cx="423.79" cy="826.63" r="1.36" fill="#55bdd6" opacity="0.7"/>
<circle cx="414.57" cy="826.63" r="1.36" fill="#55bdd6" opacity="0.7"/>
<circle cx="415.58" cy="826.63" r="1.36" fill="#55bdd6" opacity="0.7"/>
<circle cx="429.61" cy="826.63" r="1.36" fill="#55bdd6" opacity="0.7"/>
<circle cx="424.05" cy="826.63" r="1.36" fill="#55bdd6" opacity="0.7"/>
<circle cx="423.44" cy="826.63" r="1.36" fill="#55bdd6" opacity="0.7"/>
<circle cx="420.11" cy="826.63" r="1.36" fill="#55bdd6" opacity="0.7"/>
<circle cx="425.55" cy="826.63" r="1.36" fill="#55bdd6" opacity="0.7"/>
<circle cx="421.10" cy="826.63" r="1.36" fill="#55bdd6" opacity="0.7"/>
<circle cx="425.87" cy="826.63" r="1.36" fill="#55bdd6" opacity="0.7"/>
<circle cx="419.00" cy="826.63" r="1.36" fill="#55bdd6" opacity="0.7"/>
<circle cx="429.36" cy="826.63" r="1.36" fill="#55bdd6" opacity="0.7"/>
<circle cx="426.59" cy="826.63" r="1.36" fill="#55bdd6" opacity="0.7"/>
<circle cx="426.91" cy="826.63" r="1.36" fill="#55bdd6" opacity="0.7"/>
<circle cx="410.30" cy="826.63" r="1.36" fill="#55bdd6" opacity="0.7"/>
<circle cx="426.02" cy="826.63" r="1.36" fill="#55bdd6" opacity="0.7"/>
<circle cx="410.72" cy="826.63" r="1.36" fill="#55bdd6" opacity="0.7"/>
<circle cx="418.18" cy="826.63" r="1.36" fill="#55bdd6" opacity="0.7"/>
<circle cx="424.17" cy="826.63" r="1.36" fill="#55bdd6" opacity="0.7"/>
<circle cx="415.10" cy="826.63" r="1.36" fill="#55bdd6" opacity="0.7"/>
<circle cx="417.13" cy="826.63" r="1.36" fill="#55bdd6" opacity="0.7"/>
<circle cx="412.01" cy="826.63" r="1.36" fill="#55bdd6" opacity="0.7"/>
<circle cx="423.78" cy="826.63" r="1.36" fill="#55bdd6" opacity="0.7"/>
<circle cx="414.94" cy="826.63" r="1.36" fill="#55bdd6" opacity="0.7"/>
<circle cx="412.76" cy="826.63" r="1.36" fill="#55bdd6" opacity="0.7"/>
<circle cx="424.34" cy="826.63" r="1.36" fill="#55bdd6" opacity="0.7"/>
<circle cx="424.04" cy="826.63" r="1.36" fill="#55bdd6" opacity="0.7"/>
<circle cx="417.40" cy="826.63" r="1.36" fill="#55bdd6" opacity="0.7"/>
<circle cx="429.98" cy="826.63" r="1.36" fill="#55bdd6" opacity="0.7"/>
<circle cx="411.66" cy="826.63" r="1.36" fill="#55bdd6" opacity="0.7"/>
<circle cx="409.60" cy="826.63" r="1.36" fill="#55bdd6" opacity="0.7"/>
<circle cx="420.03" cy="826.63" r="1.36" fill="#55bdd6" opacity="0.7"/>
<circle cx="414.88" cy="826.63" r="1.36" fill="#55bdd6" opacity="0.7"/>
<circle cx="423.74" cy="826.63" r="1.36" fill="#55bdd6" opacity="0.7"/>
<circle cx="422.10" cy="826.63" r="1.36" fill="#55bdd6" opacity="0.7"/>
<circle cx="411.24" cy="826.63" r="1.36" fill="#55bdd6" opacity="0.7"/>
<circle cx="428.16" cy="826.63" r="1.36" fill="#55bdd6" opacity="0.7"/>
<circle cx="428.87" cy="826.63" r="1.36" fill="#55bdd6" opacity="0.7"/>
<circle cx="418.36" cy="826.63" r="1.36" fill="#55bdd6" opacity="0.7"/>
<circle cx="419.96" cy="826.63" r="1.36" fill="#55bdd6" opacity="0.7"/>
<circle cx="425.14" cy="826.63" r="1.36" fill="#55bdd6" opacity="0.7"/>
<circle cx="421.70" cy="826.63" r="1.36" fill="#55bdd6" opacity="0.7"/>
<circle cx="409.15" cy="826.63" r="1.36" fill="#55bdd6" opacity="0.7"/>
<circle cx="412.47" cy="826.63" r="1.36" fill="#55bdd6" opacity="0.7"/>
<circle cx="413.19" cy="826.63" r="1.36" fill="#55bdd6" opacity="0.7"/>
<circle cx="410.60" cy="826.63" r="1.36" fill="#55bdd6" opacity="0.7"/>
<circle cx="409.95" cy="826.63" r="1.36" fill="#55bdd6" opacity="0.7"/>
<circle cx="412.04" cy="826.63" r="1.36" fill="#55bdd6" opacity="0.7"/>
<circle cx="427.76" cy="826.63" r="1.36" fill="#55bdd6" opacity="0.7"/>
<circle cx="414.03" cy="826.63" r="1.36" fill="#55bdd6" opacity="0.7"/>
<circle cx="420.25" cy="826.63" r="1.36" fill="#55bdd6" opacity="0.7"/>
<circle cx="424.06" cy="826.63" r="1.36" fill="#55bdd6" opacity="0.7"/>
<circle cx="415.38" cy="826.63" r="1.36" fill="#55bdd6" opacity="0.7"/>
<circle cx="422.16" cy="826.63" r="1.36" fill="#55bdd6" opacity="0.7"/>
<circle cx="408.98" cy="826.63" r="1.36" fill="#55bdd6" opacity="0.7"/>
<circle cx="418.51" cy="826.63" r="1.36" fill="#55bdd6" opacity="0.7"/>
<circle cx="408.47" cy="826.63" r="1.36" fill="#55bdd6" opacity="0.7"/>
<circle cx="409.14" cy="826.63" r="1.36" fill="#55bdd6" opacity="0.7"/>
<circle cx="411.34" cy="826.63" r="1.36" fill="#55bdd6" opacity="0.7"/>
<circle cx="428.45" cy="826.63" r="1.36" fill="#55bdd6" opacity="0.7"/>
<circle cx="490.38" cy="826.63" r="1.60" fill="#55bdd6" opacity="0.4"/>
<circle cx="465.15" cy="826.63" r="1.60" fill="#55bdd6" opacity="0.4"/>
<circle cx="482.27" cy="826.63" r="1.60" fill="#55bdd6" opacity="0.4"/>
<circle cx="480.19" cy="826.63" r="1.60" fill="#55bdd6" opacity="0.4"/>
<circle cx="496.27" cy="826.63" r="1.60" fill="#55bdd6" opacity="0.4"/>
<circle cx="446.25" cy="826.63" r="1.60" fill="#55bdd6" opacity="0.4"/>
<circle cx="439.57" cy="826.63" r="1.60" fill="#55bdd6" opacity="0.4"/>
<circle cx="469.76" cy="826.63" r="1.60" fill="#55bdd6" opacity="0.4"/>
<circle cx="448.28" cy="826.63" r="1.60" fill="#55bdd6" opacity="0.4"/>
<circle cx="460.67" cy="826.63" r="1.60" fill="#55bdd6" opacity="0.4"/>
<circle cx="458.51" cy="826.63" r="1.60" fill="#55bdd6" opacity="0.4"/>
<circle cx="436.27" cy="826.63" r="1.60" fill="#55bdd6" opacity="0.4"/>
<circle cx="488.96" cy="826.63" r="1.60" fill="#55bdd6" opacity="0.4"/>
<circle cx="477.00" cy="826.63" r="1.60" fill="#55bdd6" opacity="0.4"/>
<circle cx="461.48" cy="826.63" r="1.60" fill="#55bdd6" opacity="0.4"/>
<circle cx="461.21" cy="826.63" r="1.60" fill="#55bdd6" opacity="0.4"/>
<circle cx="472.28" cy="826.63" r="1.60" fill="#55bdd6" opacity="0.4"/>
<circle cx="499.30" cy="826.63" r="1.60" fill="#55bdd6" opacity="0.4"/>
<circle cx="469.00" cy="826.63" r="1.60" fill="#55bdd6" opacity="0.4"/>
<circle cx="494.48" cy="826.63" r="1.60" fill="#55bdd6" opacity="0.4"/>
<circle cx="488.83" cy="826.63" r="1.60" fill="#55bdd6" opacity="0.4"/>
<circle cx="431.51" cy="826.63" r="1.60" fill="#55bdd6" opacity="0.4"/>
<circle cx="438.45" cy="826.63" r="1.60" fill="#55bdd6" opacity="0.4"/>
<circle cx="470.89" cy="826.63" r="1.60" fill="#55bdd6" opacity="0.4"/>
<circle cx="441.66" cy="826.63" r="1.60" fill="#55bdd6" opacity="0.4"/>
<circle cx="501.27" cy="826.63" r="1.36" fill="#55bdd6" opacity="0.9"/>
<circle cx="450.28" cy="826.63" r="1.36" fill="#55bdd6" opacity="0.8"/>
<circle cx="544.90" cy="781.43" r="1.36" fill="#e2584a" opacity="0.85"/>
<circle cx="551.66" cy="781.43" r="1.36" fill="#e2584a" opacity="0.85"/>
<circle cx="545.81" cy="781.43" r="1.36" fill="#e2584a" opacity="0.85"/>
<circle cx="551.37" cy="781.43" r="1.36" fill="#e2584a" opacity="0.85"/>
<circle cx="541.61" cy="781.43" r="1.36" fill="#e2584a" opacity="0.85"/>
<circle cx="540.45" cy="781.43" r="1.36" fill="#e2584a" opacity="0.85"/>
<circle cx="544.22" cy="781.43" r="1.36" fill="#e2584a" opacity="0.85"/>
<circle cx="547.57" cy="781.43" r="1.36" fill="#e2584a" opacity="0.85"/>
<circle cx="551.13" cy="781.43" r="1.36" fill="#e2584a" opacity="0.85"/>
<circle cx="548.42" cy="781.43" r="1.36" fill="#e2584a" opacity="0.85"/>
<circle cx="548.86" cy="781.43" r="1.36" fill="#e2584a" opacity="0.85"/>
<circle cx="551.50" cy="781.43" r="1.36" fill="#e2584a" opacity="0.85"/>
<circle cx="542.77" cy="781.43" r="1.36" fill="#e2584a" opacity="0.85"/>
<circle cx="545.35" cy="781.43" r="1.36" fill="#e2584a" opacity="0.85"/>
<circle cx="549.49" cy="781.43" r="1.36" fill="#e2584a" opacity="0.85"/>
<circle cx="544.54" cy="781.43" r="1.36" fill="#e2584a" opacity="0.85"/>
<circle cx="547.73" cy="781.43" r="1.36" fill="#e2584a" opacity="0.85"/>
<circle cx="549.59" cy="781.43" r="1.36" fill="#e2584a" opacity="0.85"/>
<circle cx="551.99" cy="781.43" r="1.36" fill="#e2584a" opacity="0.85"/>
<circle cx="550.19" cy="781.43" r="1.36" fill="#e2584a" opacity="0.85"/>
<circle cx="548.34" cy="781.43" r="1.36" fill="#e2584a" opacity="0.85"/>
<circle cx="550.99" cy="781.43" r="1.36" fill="#e2584a" opacity="0.85"/>
<circle cx="540.30" cy="781.43" r="1.36" fill="#e2584a" opacity="0.85"/>
<circle cx="549.90" cy="781.43" r="1.36" fill="#e2584a" opacity="0.85"/>
<circle cx="540.41" cy="781.43" r="1.36" fill="#e2584a" opacity="0.85"/>
<circle cx="552.54" cy="781.43" r="1.36" fill="#e2584a" opacity="0.85"/>
<circle cx="547.39" cy="781.43" r="1.36" fill="#e2584a" opacity="0.85"/>
<circle cx="546.05" cy="781.43" r="1.36" fill="#e2584a" opacity="0.85"/>
<circle cx="542.51" cy="781.43" r="1.36" fill="#e2584a" opacity="0.85"/>
<circle cx="546.67" cy="781.43" r="1.36" fill="#e2584a" opacity="0.85"/>
<circle cx="551.69" cy="781.43" r="1.36" fill="#e2584a" opacity="0.85"/>
<circle cx="542.42" cy="781.43" r="1.36" fill="#e2584a" opacity="0.85"/>
<circle cx="552.54" cy="781.43" r="1.36" fill="#e2584a" opacity="0.85"/>
<circle cx="543.58" cy="781.43" r="1.36" fill="#e2584a" opacity="0.85"/>
<circle cx="550.86" cy="781.43" r="1.36" fill="#e2584a" opacity="0.85"/>
<circle cx="550.81" cy="781.43" r="1.36" fill="#e2584a" opacity="0.85"/>
<circle cx="547.73" cy="781.43" r="1.36" fill="#e2584a" opacity="0.85"/>
<circle cx="552.04" cy="781.43" r="1.36" fill="#e2584a" opacity="0.85"/>
<circle cx="545.12" cy="781.43" r="1.36" fill="#e2584a" opacity="0.85"/>
<circle cx="548.24" cy="781.43" r="1.36" fill="#e2584a" opacity="0.85"/>
<circle cx="543.86" cy="781.43" r="1.36" fill="#e2584a" opacity="0.85"/>
<circle cx="543.33" cy="781.43" r="1.36" fill="#e2584a" opacity="0.85"/>
<circle cx="552.54" cy="781.43" r="1.36" fill="#e2584a" opacity="0.85"/>
<circle cx="540.42" cy="781.43" r="1.36" fill="#e2584a" opacity="0.85"/>
<circle cx="546.74" cy="781.43" r="1.36" fill="#e2584a" opacity="0.85"/>
<circle cx="544.36" cy="781.43" r="1.36" fill="#e2584a" opacity="0.85"/>
<circle cx="550.83" cy="781.43" r="1.36" fill="#e2584a" opacity="0.85"/>
<circle cx="544.92" cy="781.43" r="1.36" fill="#e2584a" opacity="0.85"/>
<circle cx="543.88" cy="781.43" r="1.36" fill="#e2584a" opacity="0.85"/>
<circle cx="551.90" cy="781.43" r="1.36" fill="#e2584a" opacity="0.85"/>
<circle cx="559.04" cy="781.43" r="1.60" fill="#e2584a" opacity="0.4"/>
<circle cx="612.04" cy="781.43" r="1.60" fill="#e2584a" opacity="0.4"/>
<circle cx="574.88" cy="781.43" r="1.60" fill="#e2584a" opacity="0.4"/>
<circle cx="607.54" cy="781.43" r="1.60" fill="#e2584a" opacity="0.4"/>
<circle cx="582.77" cy="781.43" r="1.60" fill="#e2584a" opacity="0.4"/>
<circle cx="603.57" cy="781.43" r="1.60" fill="#e2584a" opacity="0.4"/>
<circle cx="562.27" cy="781.43" r="1.60" fill="#e2584a" opacity="0.4"/>
<circle cx="602.87" cy="781.43" r="1.60" fill="#e2584a" opacity="0.4"/>
<circle cx="592.26" cy="781.43" r="1.60" fill="#e2584a" opacity="0.4"/>
<circle cx="595.22" cy="781.43" r="1.60" fill="#e2584a" opacity="0.4"/>
<circle cx="557.57" cy="781.43" r="1.60" fill="#e2584a" opacity="0.4"/>
<circle cx="584.27" cy="781.43" r="1.60" fill="#e2584a" opacity="0.4"/>
<circle cx="588.88" cy="781.43" r="1.60" fill="#e2584a" opacity="0.4"/>
<circle cx="587.62" cy="781.43" r="1.60" fill="#e2584a" opacity="0.4"/>
<circle cx="578.52" cy="781.43" r="1.60" fill="#e2584a" opacity="0.4"/>
<circle cx="573.91" cy="781.43" r="1.60" fill="#e2584a" opacity="0.4"/>
<circle cx="608.97" cy="781.43" r="1.60" fill="#e2584a" opacity="0.4"/>
<circle cx="561.61" cy="781.43" r="1.60" fill="#e2584a" opacity="0.4"/>
<circle cx="596.74" cy="781.43" r="1.60" fill="#e2584a" opacity="0.4"/>
<circle cx="574.98" cy="781.43" r="1.60" fill="#e2584a" opacity="0.4"/>
<circle cx="563.94" cy="781.43" r="1.60" fill="#e2584a" opacity="0.4"/>
<circle cx="567.27" cy="781.43" r="1.60" fill="#e2584a" opacity="0.4"/>
<circle cx="580.04" cy="781.43" r="1.60" fill="#e2584a" opacity="0.4"/>
<circle cx="597.86" cy="781.43" r="1.60" fill="#e2584a" opacity="0.4"/>
<circle cx="600.17" cy="781.43" r="1.36" fill="#e2584a" opacity="0.8"/>
<circle cx="582.59" cy="792.29" r="1.36" fill="#55bdd6" opacity="0.7"/>
<circle cx="594.29" cy="792.29" r="1.36" fill="#55bdd6" opacity="0.7"/>
<circle cx="599.34" cy="792.29" r="1.36" fill="#55bdd6" opacity="0.7"/>
<circle cx="593.87" cy="792.29" r="1.36" fill="#55bdd6" opacity="0.7"/>
<circle cx="568.57" cy="792.29" r="1.36" fill="#55bdd6" opacity="0.7"/>
<circle cx="580.78" cy="792.29" r="1.36" fill="#55bdd6" opacity="0.7"/>
<circle cx="572.39" cy="792.29" r="1.36" fill="#55bdd6" opacity="0.7"/>
<circle cx="580.36" cy="792.29" r="1.36" fill="#55bdd6" opacity="0.7"/>
<circle cx="590.19" cy="792.29" r="1.36" fill="#55bdd6" opacity="0.7"/>
<circle cx="571.05" cy="792.29" r="1.36" fill="#55bdd6" opacity="0.7"/>
<circle cx="586.21" cy="792.29" r="1.36" fill="#55bdd6" opacity="0.7"/>
<circle cx="596.87" cy="792.29" r="1.36" fill="#55bdd6" opacity="0.7"/>
<circle cx="576.51" cy="792.29" r="1.36" fill="#55bdd6" opacity="0.7"/>
<circle cx="601.29" cy="792.29" r="1.36" fill="#55bdd6" opacity="0.7"/>
<circle cx="596.16" cy="792.29" r="1.36" fill="#55bdd6" opacity="0.7"/>
<circle cx="602.67" cy="792.29" r="1.36" fill="#55bdd6" opacity="0.7"/>
<circle cx="588.71" cy="792.29" r="1.36" fill="#55bdd6" opacity="0.7"/>
<circle cx="598.75" cy="792.29" r="1.36" fill="#55bdd6" opacity="0.7"/>
<circle cx="569.48" cy="792.29" r="1.36" fill="#55bdd6" opacity="0.7"/>
<circle cx="578.27" cy="792.29" r="1.36" fill="#55bdd6" opacity="0.7"/>
<circle cx="580.90" cy="792.29" r="1.36" fill="#55bdd6" opacity="0.7"/>
<circle cx="598.35" cy="792.29" r="1.36" fill="#55bdd6" opacity="0.7"/>
<circle cx="576.80" cy="792.29" r="1.36" fill="#55bdd6" opacity="0.7"/>
<circle cx="572.87" cy="792.29" r="1.36" fill="#55bdd6" opacity="0.7"/>
<circle cx="567.50" cy="792.29" r="1.36" fill="#55bdd6" opacity="0.7"/>
<circle cx="601.43" cy="792.29" r="1.36" fill="#55bdd6" opacity="0.7"/>
<circle cx="577.00" cy="792.29" r="1.36" fill="#55bdd6" opacity="0.7"/>
<circle cx="577.66" cy="792.29" r="1.36" fill="#55bdd6" opacity="0.7"/>
<circle cx="580.12" cy="792.29" r="1.36" fill="#55bdd6" opacity="0.7"/>
<circle cx="587.31" cy="792.29" r="1.36" fill="#55bdd6" opacity="0.7"/>
<circle cx="602.56" cy="792.29" r="1.36" fill="#55bdd6" opacity="0.7"/>
<circle cx="601.09" cy="792.29" r="1.36" fill="#55bdd6" opacity="0.7"/>
<circle cx="596.22" cy="792.29" r="1.36" fill="#55bdd6" opacity="0.7"/>
<circle cx="602.90" cy="792.29" r="1.36" fill="#55bdd6" opacity="0.7"/>
<circle cx="584.08" cy="792.29" r="1.36" fill="#55bdd6" opacity="0.7"/>
<circle cx="600.19" cy="792.29" r="1.36" fill="#55bdd6" opacity="0.7"/>
<circle cx="573.59" cy="792.29" r="1.36" fill="#55bdd6" opacity="0.7"/>
<circle cx="580.12" cy="792.29" r="1.36" fill="#55bdd6" opacity="0.7"/>
<circle cx="594.41" cy="792.29" r="1.36" fill="#55bdd6" opacity="0.7"/>
<circle cx="589.48" cy="792.29" r="1.36" fill="#55bdd6" opacity="0.7"/>
<circle cx="576.41" cy="792.29" r="1.36" fill="#55bdd6" opacity="0.7"/>
<circle cx="598.05" cy="792.29" r="1.36" fill="#55bdd6" opacity="0.7"/>
<circle cx="572.14" cy="792.29" r="1.36" fill="#55bdd6" opacity="0.7"/>
<circle cx="578.95" cy="792.29" r="1.36" fill="#55bdd6" opacity="0.7"/>
<circle cx="568.06" cy="792.29" r="1.36" fill="#55bdd6" opacity="0.7"/>
<circle cx="591.95" cy="792.29" r="1.36" fill="#55bdd6" opacity="0.7"/>
<circle cx="576.81" cy="792.29" r="1.36" fill="#55bdd6" opacity="0.7"/>
<circle cx="595.35" cy="792.29" r="1.36" fill="#55bdd6" opacity="0.7"/>
<circle cx="598.84" cy="792.29" r="1.36" fill="#55bdd6" opacity="0.7"/>
<circle cx="581.68" cy="792.29" r="1.36" fill="#55bdd6" opacity="0.7"/>
<circle cx="589.10" cy="792.29" r="1.36" fill="#55bdd6" opacity="0.7"/>
<circle cx="600.48" cy="792.29" r="1.36" fill="#55bdd6" opacity="0.7"/>
<circle cx="593.70" cy="792.29" r="1.36" fill="#55bdd6" opacity="0.7"/>
<circle cx="583.23" cy="792.29" r="1.36" fill="#55bdd6" opacity="0.7"/>
<circle cx="568.28" cy="792.29" r="1.36" fill="#55bdd6" opacity="0.7"/>
<circle cx="592.91" cy="792.29" r="1.36" fill="#55bdd6" opacity="0.7"/>
<circle cx="593.72" cy="792.29" r="1.36" fill="#55bdd6" opacity="0.7"/>
<circle cx="570.61" cy="792.29" r="1.36" fill="#55bdd6" opacity="0.7"/>
<circle cx="571.41" cy="792.29" r="1.36" fill="#55bdd6" opacity="0.7"/>
<circle cx="591.60" cy="792.29" r="1.36" fill="#55bdd6" opacity="0.7"/>
<circle cx="584.18" cy="792.29" r="1.36" fill="#55bdd6" opacity="0.7"/>
<circle cx="581.94" cy="792.29" r="1.36" fill="#55bdd6" opacity="0.7"/>
<circle cx="594.16" cy="792.29" r="1.36" fill="#55bdd6" opacity="0.7"/>
<circle cx="587.37" cy="792.29" r="1.36" fill="#55bdd6" opacity="0.7"/>
<circle cx="573.88" cy="792.29" r="1.36" fill="#55bdd6" opacity="0.7"/>
<circle cx="583.48" cy="792.29" r="1.36" fill="#55bdd6" opacity="0.7"/>
<circle cx="595.22" cy="792.29" r="1.36" fill="#55bdd6" opacity="0.7"/>
<circle cx="578.33" cy="792.29" r="1.36" fill="#55bdd6" opacity="0.7"/>
<circle cx="586.30" cy="792.29" r="1.36" fill="#55bdd6" opacity="0.7"/>
<circle cx="583.12" cy="792.29" r="1.36" fill="#55bdd6" opacity="0.7"/>
<circle cx="575.05" cy="792.29" r="1.36" fill="#55bdd6" opacity="0.7"/>
<circle cx="583.75" cy="792.29" r="1.36" fill="#55bdd6" opacity="0.7"/>
<circle cx="580.16" cy="792.29" r="1.36" fill="#55bdd6" opacity="0.7"/>
<circle cx="581.43" cy="792.29" r="1.36" fill="#55bdd6" opacity="0.7"/>
<circle cx="594.46" cy="792.29" r="1.36" fill="#55bdd6" opacity="0.7"/>
<circle cx="576.26" cy="792.29" r="1.36" fill="#55bdd6" opacity="0.7"/>
<circle cx="584.02" cy="792.29" r="1.36" fill="#55bdd6" opacity="0.7"/>
<circle cx="581.75" cy="792.29" r="1.36" fill="#55bdd6" opacity="0.7"/>
<circle cx="598.21" cy="792.29" r="1.36" fill="#55bdd6" opacity="0.7"/>
<circle cx="589.62" cy="792.29" r="1.36" fill="#55bdd6" opacity="0.7"/>
<circle cx="647.17" cy="792.29" r="1.60" fill="#55bdd6" opacity="0.4"/>
<circle cx="613.31" cy="792.29" r="1.60" fill="#55bdd6" opacity="0.4"/>
<circle cx="621.44" cy="792.29" r="1.60" fill="#55bdd6" opacity="0.4"/>
<circle cx="638.65" cy="792.29" r="1.60" fill="#55bdd6" opacity="0.4"/>
<circle cx="656.75" cy="792.29" r="1.60" fill="#55bdd6" opacity="0.4"/>
<circle cx="608.95" cy="792.29" r="1.60" fill="#55bdd6" opacity="0.4"/>
<circle cx="632.42" cy="792.29" r="1.60" fill="#55bdd6" opacity="0.4"/>
<circle cx="632.50" cy="792.29" r="1.60" fill="#55bdd6" opacity="0.4"/>
<circle cx="625.27" cy="792.29" r="1.60" fill="#55bdd6" opacity="0.4"/>
<circle cx="650.41" cy="792.29" r="1.60" fill="#55bdd6" opacity="0.4"/>
<circle cx="625.20" cy="792.29" r="1.60" fill="#55bdd6" opacity="0.4"/>
<circle cx="657.36" cy="792.29" r="1.60" fill="#55bdd6" opacity="0.4"/>
<circle cx="655.62" cy="792.29" r="1.60" fill="#55bdd6" opacity="0.4"/>
<circle cx="615.51" cy="792.29" r="1.60" fill="#55bdd6" opacity="0.4"/>
<circle cx="613.28" cy="792.29" r="1.60" fill="#55bdd6" opacity="0.4"/>
<circle cx="624.15" cy="792.29" r="1.60" fill="#55bdd6" opacity="0.4"/>
<circle cx="631.54" cy="792.29" r="1.60" fill="#55bdd6" opacity="0.4"/>
<circle cx="667.34" cy="792.29" r="1.60" fill="#55bdd6" opacity="0.4"/>
<circle cx="654.50" cy="792.29" r="1.60" fill="#55bdd6" opacity="0.4"/>
<circle cx="632.40" cy="792.29" r="1.60" fill="#55bdd6" opacity="0.4"/>
<circle cx="629.19" cy="792.29" r="1.60" fill="#55bdd6" opacity="0.4"/>
<circle cx="623.39" cy="792.29" r="1.60" fill="#55bdd6" opacity="0.4"/>
<circle cx="632.51" cy="792.29" r="1.60" fill="#55bdd6" opacity="0.4"/>
<circle cx="636.01" cy="792.29" r="1.60" fill="#55bdd6" opacity="0.4"/>
<circle cx="667.17" cy="792.29" r="1.36" fill="#55bdd6" opacity="0.9"/>
<circle cx="621.49" cy="792.29" r="1.36" fill="#55bdd6" opacity="0.9"/>
<circle cx="547.11" cy="815.71" r="1.36" fill="#e2584a" opacity="0.8"/>
<circle cx="555.44" cy="815.71" r="1.36" fill="#e2584a" opacity="0.8"/>
<circle cx="543.09" cy="815.71" r="1.36" fill="#e2584a" opacity="0.8"/>
<circle cx="562.69" cy="815.71" r="1.36" fill="#e2584a" opacity="0.8"/>
<circle cx="555.61" cy="815.71" r="1.36" fill="#e2584a" opacity="0.8"/>
<circle cx="541.35" cy="815.71" r="1.36" fill="#e2584a" opacity="0.8"/>
<circle cx="540.46" cy="815.71" r="1.36" fill="#e2584a" opacity="0.8"/>
<circle cx="564.22" cy="815.71" r="1.36" fill="#e2584a" opacity="0.8"/>
<circle cx="547.71" cy="815.71" r="1.36" fill="#e2584a" opacity="0.8"/>
<circle cx="553.75" cy="815.71" r="1.36" fill="#e2584a" opacity="0.8"/>
<circle cx="551.52" cy="815.71" r="1.36" fill="#e2584a" opacity="0.8"/>
<circle cx="547.19" cy="815.71" r="1.36" fill="#e2584a" opacity="0.8"/>
<circle cx="545.59" cy="815.71" r="1.36" fill="#e2584a" opacity="0.8"/>
<circle cx="556.62" cy="815.71" r="1.36" fill="#e2584a" opacity="0.8"/>
<circle cx="556.71" cy="815.71" r="1.36" fill="#e2584a" opacity="0.8"/>
<circle cx="556.97" cy="815.71" r="1.36" fill="#e2584a" opacity="0.8"/>
<circle cx="546.53" cy="815.71" r="1.36" fill="#e2584a" opacity="0.8"/>
<circle cx="560.80" cy="815.71" r="1.36" fill="#e2584a" opacity="0.8"/>
<circle cx="554.12" cy="815.71" r="1.36" fill="#e2584a" opacity="0.8"/>
<circle cx="558.67" cy="815.71" r="1.36" fill="#e2584a" opacity="0.8"/>
<circle cx="550.80" cy="815.71" r="1.36" fill="#e2584a" opacity="0.8"/>
<circle cx="553.08" cy="815.71" r="1.36" fill="#e2584a" opacity="0.8"/>
<circle cx="557.63" cy="815.71" r="1.36" fill="#e2584a" opacity="0.8"/>
<circle cx="557.32" cy="815.71" r="1.36" fill="#e2584a" opacity="0.8"/>
<circle cx="562.01" cy="815.71" r="1.36" fill="#e2584a" opacity="0.8"/>
<circle cx="543.93" cy="815.71" r="1.36" fill="#e2584a" opacity="0.8"/>
<circle cx="550.17" cy="815.71" r="1.36" fill="#e2584a" opacity="0.8"/>
<circle cx="543.22" cy="815.71" r="1.36" fill="#e2584a" opacity="0.8"/>
<circle cx="546.65" cy="815.71" r="1.36" fill="#e2584a" opacity="0.8"/>
<circle cx="555.07" cy="815.71" r="1.36" fill="#e2584a" opacity="0.8"/>
<circle cx="541.49" cy="815.71" r="1.36" fill="#e2584a" opacity="0.8"/>
<circle cx="552.80" cy="815.71" r="1.36" fill="#e2584a" opacity="0.8"/>
<circle cx="546.52" cy="815.71" r="1.36" fill="#e2584a" opacity="0.8"/>
<circle cx="543.84" cy="815.71" r="1.36" fill="#e2584a" opacity="0.8"/>
<circle cx="540.55" cy="815.71" r="1.36" fill="#e2584a" opacity="0.8"/>
<circle cx="542.83" cy="815.71" r="1.36" fill="#e2584a" opacity="0.8"/>
<circle cx="557.46" cy="815.71" r="1.36" fill="#e2584a" opacity="0.8"/>
<circle cx="554.90" cy="815.71" r="1.36" fill="#e2584a" opacity="0.8"/>
<circle cx="552.03" cy="815.71" r="1.36" fill="#e2584a" opacity="0.8"/>
<circle cx="545.11" cy="815.71" r="1.36" fill="#e2584a" opacity="0.8"/>
<circle cx="556.18" cy="815.71" r="1.36" fill="#e2584a" opacity="0.8"/>
<circle cx="557.59" cy="815.71" r="1.36" fill="#e2584a" opacity="0.8"/>
<circle cx="561.65" cy="815.71" r="1.36" fill="#e2584a" opacity="0.8"/>
<circle cx="551.91" cy="815.71" r="1.36" fill="#e2584a" opacity="0.8"/>
<circle cx="553.79" cy="815.71" r="1.36" fill="#e2584a" opacity="0.8"/>
<circle cx="563.37" cy="815.71" r="1.36" fill="#e2584a" opacity="0.8"/>
<circle cx="560.57" cy="815.71" r="1.36" fill="#e2584a" opacity="0.8"/>
<circle cx="545.61" cy="815.71" r="1.36" fill="#e2584a" opacity="0.8"/>
<circle cx="555.84" cy="815.71" r="1.36" fill="#e2584a" opacity="0.8"/>
<circle cx="551.10" cy="815.71" r="1.36" fill="#e2584a" opacity="0.8"/>
<circle cx="640.33" cy="815.71" r="1.60" fill="#e2584a" opacity="0.4"/>
<circle cx="639.96" cy="815.71" r="1.60" fill="#e2584a" opacity="0.4"/>
<circle cx="635.35" cy="815.71" r="1.60" fill="#e2584a" opacity="0.4"/>
<circle cx="643.53" cy="815.71" r="1.60" fill="#e2584a" opacity="0.4"/>
<circle cx="579.96" cy="815.71" r="1.60" fill="#e2584a" opacity="0.4"/>
<circle cx="580.82" cy="815.71" r="1.60" fill="#e2584a" opacity="0.4"/>
<circle cx="593.20" cy="815.71" r="1.60" fill="#e2584a" opacity="0.4"/>
<circle cx="566.02" cy="815.71" r="1.60" fill="#e2584a" opacity="0.4"/>
<circle cx="648.60" cy="815.71" r="1.60" fill="#e2584a" opacity="0.4"/>
<circle cx="587.09" cy="815.71" r="1.60" fill="#e2584a" opacity="0.4"/>
<circle cx="623.20" cy="815.71" r="1.60" fill="#e2584a" opacity="0.4"/>
<circle cx="567.50" cy="815.71" r="1.60" fill="#e2584a" opacity="0.4"/>
<circle cx="581.32" cy="815.71" r="1.60" fill="#e2584a" opacity="0.4"/>
<circle cx="576.97" cy="815.71" r="1.60" fill="#e2584a" opacity="0.4"/>
<circle cx="641.26" cy="815.71" r="1.60" fill="#e2584a" opacity="0.4"/>
<circle cx="638.81" cy="815.71" r="1.60" fill="#e2584a" opacity="0.4"/>
<circle cx="594.79" cy="815.71" r="1.60" fill="#e2584a" opacity="0.4"/>
<circle cx="582.33" cy="815.71" r="1.60" fill="#e2584a" opacity="0.4"/>
<circle cx="613.95" cy="815.71" r="1.60" fill="#e2584a" opacity="0.4"/>
<circle cx="584.29" cy="815.71" r="1.60" fill="#e2584a" opacity="0.4"/>
<circle cx="573.79" cy="815.71" r="1.60" fill="#e2584a" opacity="0.4"/>
<circle cx="609.60" cy="815.71" r="1.60" fill="#e2584a" opacity="0.4"/>
<circle cx="571.80" cy="815.71" r="1.60" fill="#e2584a" opacity="0.4"/>
<circle cx="637.09" cy="815.71" r="1.60" fill="#e2584a" opacity="0.4"/>
<circle cx="611.76" cy="815.71" r="1.36" fill="#e2584a" opacity="0.8"/>
<circle cx="588.95" cy="826.57" r="1.36" fill="#55bdd6" opacity="0.7"/>
<circle cx="568.32" cy="826.57" r="1.36" fill="#55bdd6" opacity="0.7"/>
<circle cx="555.38" cy="826.57" r="1.36" fill="#55bdd6" opacity="0.7"/>
<circle cx="583.02" cy="826.57" r="1.36" fill="#55bdd6" opacity="0.7"/>
<circle cx="581.74" cy="826.57" r="1.36" fill="#55bdd6" opacity="0.7"/>
<circle cx="593.66" cy="826.57" r="1.36" fill="#55bdd6" opacity="0.7"/>
<circle cx="587.69" cy="826.57" r="1.36" fill="#55bdd6" opacity="0.7"/>
<circle cx="571.66" cy="826.57" r="1.36" fill="#55bdd6" opacity="0.7"/>
<circle cx="594.19" cy="826.57" r="1.36" fill="#55bdd6" opacity="0.7"/>
<circle cx="572.10" cy="826.57" r="1.36" fill="#55bdd6" opacity="0.7"/>
<circle cx="587.40" cy="826.57" r="1.36" fill="#55bdd6" opacity="0.7"/>
<circle cx="580.25" cy="826.57" r="1.36" fill="#55bdd6" opacity="0.7"/>
<circle cx="573.20" cy="826.57" r="1.36" fill="#55bdd6" opacity="0.7"/>
<circle cx="591.15" cy="826.57" r="1.36" fill="#55bdd6" opacity="0.7"/>
<circle cx="591.54" cy="826.57" r="1.36" fill="#55bdd6" opacity="0.7"/>
<circle cx="552.44" cy="826.57" r="1.36" fill="#55bdd6" opacity="0.7"/>
<circle cx="590.17" cy="826.57" r="1.36" fill="#55bdd6" opacity="0.7"/>
<circle cx="565.28" cy="826.57" r="1.36" fill="#55bdd6" opacity="0.7"/>
<circle cx="585.49" cy="826.57" r="1.36" fill="#55bdd6" opacity="0.7"/>
<circle cx="591.50" cy="826.57" r="1.36" fill="#55bdd6" opacity="0.7"/>
<circle cx="564.51" cy="826.57" r="1.36" fill="#55bdd6" opacity="0.7"/>
<circle cx="565.34" cy="826.57" r="1.36" fill="#55bdd6" opacity="0.7"/>
<circle cx="575.08" cy="826.57" r="1.36" fill="#55bdd6" opacity="0.7"/>
<circle cx="551.95" cy="826.57" r="1.36" fill="#55bdd6" opacity="0.7"/>
<circle cx="568.55" cy="826.57" r="1.36" fill="#55bdd6" opacity="0.7"/>
<circle cx="580.33" cy="826.57" r="1.36" fill="#55bdd6" opacity="0.7"/>
<circle cx="554.35" cy="826.57" r="1.36" fill="#55bdd6" opacity="0.7"/>
<circle cx="576.07" cy="826.57" r="1.36" fill="#55bdd6" opacity="0.7"/>
<circle cx="578.82" cy="826.57" r="1.36" fill="#55bdd6" opacity="0.7"/>
<circle cx="590.63" cy="826.57" r="1.36" fill="#55bdd6" opacity="0.7"/>
<circle cx="551.84" cy="826.57" r="1.36" fill="#55bdd6" opacity="0.7"/>
<circle cx="578.66" cy="826.57" r="1.36" fill="#55bdd6" opacity="0.7"/>
<circle cx="589.07" cy="826.57" r="1.36" fill="#55bdd6" opacity="0.7"/>
<circle cx="556.31" cy="826.57" r="1.36" fill="#55bdd6" opacity="0.7"/>
<circle cx="587.61" cy="826.57" r="1.36" fill="#55bdd6" opacity="0.7"/>
<circle cx="554.19" cy="826.57" r="1.36" fill="#55bdd6" opacity="0.7"/>
<circle cx="557.10" cy="826.57" r="1.36" fill="#55bdd6" opacity="0.7"/>
<circle cx="579.29" cy="826.57" r="1.36" fill="#55bdd6" opacity="0.7"/>
<circle cx="578.23" cy="826.57" r="1.36" fill="#55bdd6" opacity="0.7"/>
<circle cx="559.07" cy="826.57" r="1.36" fill="#55bdd6" opacity="0.7"/>
<circle cx="584.64" cy="826.57" r="1.36" fill="#55bdd6" opacity="0.7"/>
<circle cx="562.45" cy="826.57" r="1.36" fill="#55bdd6" opacity="0.7"/>
<circle cx="556.78" cy="826.57" r="1.36" fill="#55bdd6" opacity="0.7"/>
<circle cx="565.69" cy="826.57" r="1.36" fill="#55bdd6" opacity="0.7"/>
<circle cx="594.60" cy="826.57" r="1.36" fill="#55bdd6" opacity="0.7"/>
<circle cx="571.95" cy="826.57" r="1.36" fill="#55bdd6" opacity="0.7"/>
<circle cx="591.83" cy="826.57" r="1.36" fill="#55bdd6" opacity="0.7"/>
<circle cx="592.56" cy="826.57" r="1.36" fill="#55bdd6" opacity="0.7"/>
<circle cx="584.95" cy="826.57" r="1.36" fill="#55bdd6" opacity="0.7"/>
<circle cx="560.48" cy="826.57" r="1.36" fill="#55bdd6" opacity="0.7"/>
<circle cx="584.03" cy="826.57" r="1.36" fill="#55bdd6" opacity="0.7"/>
<circle cx="580.03" cy="826.57" r="1.36" fill="#55bdd6" opacity="0.7"/>
<circle cx="564.50" cy="826.57" r="1.36" fill="#55bdd6" opacity="0.7"/>
<circle cx="570.27" cy="826.57" r="1.36" fill="#55bdd6" opacity="0.7"/>
<circle cx="570.00" cy="826.57" r="1.36" fill="#55bdd6" opacity="0.7"/>
<circle cx="571.86" cy="826.57" r="1.36" fill="#55bdd6" opacity="0.7"/>
<circle cx="552.75" cy="826.57" r="1.36" fill="#55bdd6" opacity="0.7"/>
<circle cx="563.05" cy="826.57" r="1.36" fill="#55bdd6" opacity="0.7"/>
<circle cx="565.59" cy="826.57" r="1.36" fill="#55bdd6" opacity="0.7"/>
<circle cx="573.10" cy="826.57" r="1.36" fill="#55bdd6" opacity="0.7"/>
<circle cx="582.33" cy="826.57" r="1.36" fill="#55bdd6" opacity="0.7"/>
<circle cx="581.65" cy="826.57" r="1.36" fill="#55bdd6" opacity="0.7"/>
<circle cx="570.19" cy="826.57" r="1.36" fill="#55bdd6" opacity="0.7"/>
<circle cx="587.47" cy="826.57" r="1.36" fill="#55bdd6" opacity="0.7"/>
<circle cx="583.33" cy="826.57" r="1.36" fill="#55bdd6" opacity="0.7"/>
<circle cx="562.72" cy="826.57" r="1.36" fill="#55bdd6" opacity="0.7"/>
<circle cx="574.33" cy="826.57" r="1.36" fill="#55bdd6" opacity="0.7"/>
<circle cx="576.57" cy="826.57" r="1.36" fill="#55bdd6" opacity="0.7"/>
<circle cx="568.40" cy="826.57" r="1.36" fill="#55bdd6" opacity="0.7"/>
<circle cx="592.70" cy="826.57" r="1.36" fill="#55bdd6" opacity="0.7"/>
<circle cx="552.53" cy="826.57" r="1.36" fill="#55bdd6" opacity="0.7"/>
<circle cx="593.26" cy="826.57" r="1.36" fill="#55bdd6" opacity="0.7"/>
<circle cx="567.23" cy="826.57" r="1.36" fill="#55bdd6" opacity="0.7"/>
<circle cx="582.39" cy="826.57" r="1.36" fill="#55bdd6" opacity="0.7"/>
<circle cx="591.62" cy="826.57" r="1.36" fill="#55bdd6" opacity="0.7"/>
<circle cx="569.24" cy="826.57" r="1.36" fill="#55bdd6" opacity="0.7"/>
<circle cx="565.46" cy="826.57" r="1.36" fill="#55bdd6" opacity="0.7"/>
<circle cx="574.50" cy="826.57" r="1.36" fill="#55bdd6" opacity="0.7"/>
<circle cx="561.36" cy="826.57" r="1.36" fill="#55bdd6" opacity="0.7"/>
<circle cx="587.76" cy="826.57" r="1.36" fill="#55bdd6" opacity="0.7"/>
<circle cx="609.19" cy="826.57" r="1.60" fill="#55bdd6" opacity="0.4"/>
<circle cx="620.19" cy="826.57" r="1.60" fill="#55bdd6" opacity="0.4"/>
<circle cx="635.45" cy="826.57" r="1.60" fill="#55bdd6" opacity="0.4"/>
<circle cx="595.82" cy="826.57" r="1.60" fill="#55bdd6" opacity="0.4"/>
<circle cx="598.96" cy="826.57" r="1.60" fill="#55bdd6" opacity="0.4"/>
<circle cx="620.73" cy="826.57" r="1.60" fill="#55bdd6" opacity="0.4"/>
<circle cx="630.71" cy="826.57" r="1.60" fill="#55bdd6" opacity="0.4"/>
<circle cx="614.09" cy="826.57" r="1.60" fill="#55bdd6" opacity="0.4"/>
<circle cx="632.39" cy="826.57" r="1.60" fill="#55bdd6" opacity="0.4"/>
<circle cx="654.44" cy="826.57" r="1.60" fill="#55bdd6" opacity="0.4"/>
<circle cx="636.38" cy="826.57" r="1.60" fill="#55bdd6" opacity="0.4"/>
<circle cx="658.44" cy="826.57" r="1.60" fill="#55bdd6" opacity="0.4"/>
<circle cx="655.02" cy="826.57" r="1.60" fill="#55bdd6" opacity="0.4"/>
<circle cx="621.97" cy="826.57" r="1.60" fill="#55bdd6" opacity="0.4"/>
<circle cx="615.99" cy="826.57" r="1.60" fill="#55bdd6" opacity="0.4"/>
<circle cx="645.36" cy="826.57" r="1.60" fill="#55bdd6" opacity="0.4"/>
<circle cx="603.66" cy="826.57" r="1.60" fill="#55bdd6" opacity="0.4"/>
<circle cx="630.97" cy="826.57" r="1.60" fill="#55bdd6" opacity="0.4"/>
<circle cx="605.11" cy="826.57" r="1.60" fill="#55bdd6" opacity="0.4"/>
<circle cx="616.90" cy="826.57" r="1.60" fill="#55bdd6" opacity="0.4"/>
<circle cx="628.36" cy="826.57" r="1.60" fill="#55bdd6" opacity="0.4"/>
<circle cx="656.42" cy="826.57" r="1.60" fill="#55bdd6" opacity="0.4"/>
<circle cx="656.43" cy="826.57" r="1.60" fill="#55bdd6" opacity="0.4"/>
<circle cx="642.10" cy="826.57" r="1.60" fill="#55bdd6" opacity="0.4"/>
<circle cx="667.87" cy="826.57" r="1.36" fill="#55bdd6" opacity="0.9"/>
</svg>
</body></html>
